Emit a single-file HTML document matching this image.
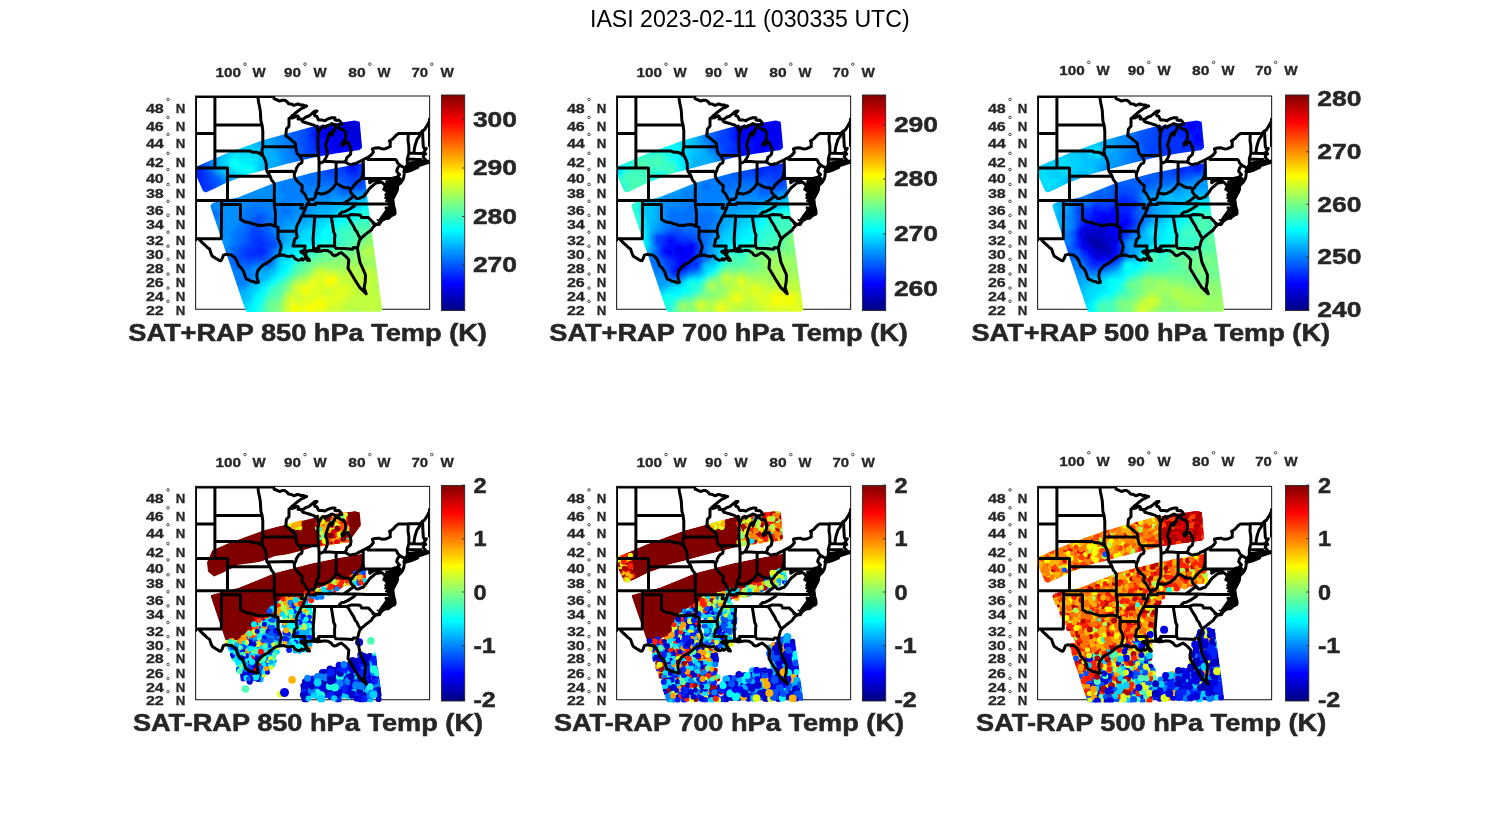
<!DOCTYPE html><html><head><meta charset="utf-8"><style>html,body{margin:0;padding:0;background:#fff;width:1500px;height:825px;overflow:hidden}svg{display:block;will-change:transform}text{font-family:"Liberation Sans",sans-serif}</style></head><body>
<svg width="1500" height="825" viewBox="0 0 1500 825">
<defs><linearGradient id="jet" x1="0" y1="1" x2="0" y2="0">
<stop offset="0.0000" stop-color="#000080"/>
<stop offset="0.0312" stop-color="#00009f"/>
<stop offset="0.0625" stop-color="#0000bf"/>
<stop offset="0.0938" stop-color="#0000df"/>
<stop offset="0.1250" stop-color="#0000ff"/>
<stop offset="0.1562" stop-color="#0020ff"/>
<stop offset="0.1875" stop-color="#0040ff"/>
<stop offset="0.2188" stop-color="#0060ff"/>
<stop offset="0.2500" stop-color="#0080ff"/>
<stop offset="0.2812" stop-color="#009fff"/>
<stop offset="0.3125" stop-color="#00bfff"/>
<stop offset="0.3438" stop-color="#00dfff"/>
<stop offset="0.3750" stop-color="#00ffff"/>
<stop offset="0.4062" stop-color="#20ffdf"/>
<stop offset="0.4375" stop-color="#40ffbf"/>
<stop offset="0.4688" stop-color="#60ff9f"/>
<stop offset="0.5000" stop-color="#80ff80"/>
<stop offset="0.5312" stop-color="#9fff60"/>
<stop offset="0.5625" stop-color="#bfff40"/>
<stop offset="0.5938" stop-color="#dfff20"/>
<stop offset="0.6250" stop-color="#ffff00"/>
<stop offset="0.6562" stop-color="#ffdf00"/>
<stop offset="0.6875" stop-color="#ffbf00"/>
<stop offset="0.7188" stop-color="#ff9f00"/>
<stop offset="0.7500" stop-color="#ff8000"/>
<stop offset="0.7812" stop-color="#ff6000"/>
<stop offset="0.8125" stop-color="#ff4000"/>
<stop offset="0.8438" stop-color="#ff2000"/>
<stop offset="0.8750" stop-color="#ff0000"/>
<stop offset="0.9062" stop-color="#df0000"/>
<stop offset="0.9375" stop-color="#bf0000"/>
<stop offset="0.9688" stop-color="#9f0000"/>
<stop offset="1.0000" stop-color="#800000"/>
</linearGradient><filter id="blur2" x="-5%" y="-5%" width="110%" height="110%"><feGaussianBlur stdDeviation="1.8"/></filter></defs>
<rect width="1500" height="825" fill="#fff"/>
<text x="590.0" y="26.8" font-size="23.3" font-weight="normal" fill="#000" textLength="319.6" lengthAdjust="spacingAndGlyphs">IASI 2023-02-11 (030335 UTC)</text>
<text x="215.4" y="77.0" font-size="13.6" font-weight="bold" fill="#262626" stroke="#262626" stroke-width="0.30" textLength="25.6" lengthAdjust="spacingAndGlyphs">100</text>
<circle cx="245.0" cy="64.2" r="1.3" fill="none" stroke="#262626" stroke-width="0.8"/>
<text x="252.6" y="77.0" font-size="13.6" font-weight="bold" fill="#262626" stroke="#262626" stroke-width="0.30" textLength="13.2" lengthAdjust="spacingAndGlyphs">W</text>
<text x="284.0" y="77.0" font-size="13.6" font-weight="bold" fill="#262626" stroke="#262626" stroke-width="0.30" textLength="17.0" lengthAdjust="spacingAndGlyphs">90</text>
<circle cx="305.0" cy="64.2" r="1.3" fill="none" stroke="#262626" stroke-width="0.8"/>
<text x="313.6" y="77.0" font-size="13.6" font-weight="bold" fill="#262626" stroke="#262626" stroke-width="0.30" textLength="13.2" lengthAdjust="spacingAndGlyphs">W</text>
<text x="348.2" y="77.0" font-size="13.6" font-weight="bold" fill="#262626" stroke="#262626" stroke-width="0.30" textLength="17.4" lengthAdjust="spacingAndGlyphs">80</text>
<circle cx="369.8" cy="64.2" r="1.3" fill="none" stroke="#262626" stroke-width="0.8"/>
<text x="377.6" y="77.0" font-size="13.6" font-weight="bold" fill="#262626" stroke="#262626" stroke-width="0.30" textLength="13.0" lengthAdjust="spacingAndGlyphs">W</text>
<text x="411.4" y="77.0" font-size="13.6" font-weight="bold" fill="#262626" stroke="#262626" stroke-width="0.30" textLength="16.6" lengthAdjust="spacingAndGlyphs">70</text>
<circle cx="431.8" cy="64.2" r="1.3" fill="none" stroke="#262626" stroke-width="0.8"/>
<text x="440.4" y="77.0" font-size="13.6" font-weight="bold" fill="#262626" stroke="#262626" stroke-width="0.30" textLength="13.4" lengthAdjust="spacingAndGlyphs">W</text>
<text x="145.9" y="112.7" font-size="13.3" font-weight="bold" fill="#262626" stroke="#262626" stroke-width="0.29" textLength="17.9" lengthAdjust="spacingAndGlyphs">48</text>
<circle cx="168.0" cy="99.5" r="1.3" fill="none" stroke="#262626" stroke-width="0.8"/>
<text x="175.7" y="112.7" font-size="13.3" font-weight="bold" fill="#262626" stroke="#262626" stroke-width="0.29" textLength="9.6" lengthAdjust="spacingAndGlyphs">N</text>
<text x="145.9" y="130.6" font-size="13.3" font-weight="bold" fill="#262626" stroke="#262626" stroke-width="0.29" textLength="17.9" lengthAdjust="spacingAndGlyphs">46</text>
<circle cx="168.0" cy="117.4" r="1.3" fill="none" stroke="#262626" stroke-width="0.8"/>
<text x="175.7" y="130.6" font-size="13.3" font-weight="bold" fill="#262626" stroke="#262626" stroke-width="0.29" textLength="9.6" lengthAdjust="spacingAndGlyphs">N</text>
<text x="145.9" y="147.6" font-size="13.3" font-weight="bold" fill="#262626" stroke="#262626" stroke-width="0.29" textLength="17.9" lengthAdjust="spacingAndGlyphs">44</text>
<circle cx="168.0" cy="134.4" r="1.3" fill="none" stroke="#262626" stroke-width="0.8"/>
<text x="175.7" y="147.6" font-size="13.3" font-weight="bold" fill="#262626" stroke="#262626" stroke-width="0.29" textLength="9.6" lengthAdjust="spacingAndGlyphs">N</text>
<text x="145.9" y="166.5" font-size="13.3" font-weight="bold" fill="#262626" stroke="#262626" stroke-width="0.29" textLength="17.9" lengthAdjust="spacingAndGlyphs">42</text>
<circle cx="168.0" cy="153.3" r="1.3" fill="none" stroke="#262626" stroke-width="0.8"/>
<text x="175.7" y="166.5" font-size="13.3" font-weight="bold" fill="#262626" stroke="#262626" stroke-width="0.29" textLength="9.6" lengthAdjust="spacingAndGlyphs">N</text>
<text x="145.9" y="182.7" font-size="13.3" font-weight="bold" fill="#262626" stroke="#262626" stroke-width="0.29" textLength="17.9" lengthAdjust="spacingAndGlyphs">40</text>
<circle cx="168.0" cy="169.5" r="1.3" fill="none" stroke="#262626" stroke-width="0.8"/>
<text x="175.7" y="182.7" font-size="13.3" font-weight="bold" fill="#262626" stroke="#262626" stroke-width="0.29" textLength="9.6" lengthAdjust="spacingAndGlyphs">N</text>
<text x="145.9" y="197.6" font-size="13.3" font-weight="bold" fill="#262626" stroke="#262626" stroke-width="0.29" textLength="17.9" lengthAdjust="spacingAndGlyphs">38</text>
<circle cx="168.0" cy="184.4" r="1.3" fill="none" stroke="#262626" stroke-width="0.8"/>
<text x="175.7" y="197.6" font-size="13.3" font-weight="bold" fill="#262626" stroke="#262626" stroke-width="0.29" textLength="9.6" lengthAdjust="spacingAndGlyphs">N</text>
<text x="145.9" y="214.5" font-size="13.3" font-weight="bold" fill="#262626" stroke="#262626" stroke-width="0.29" textLength="17.9" lengthAdjust="spacingAndGlyphs">36</text>
<circle cx="168.0" cy="201.3" r="1.3" fill="none" stroke="#262626" stroke-width="0.8"/>
<text x="175.7" y="214.5" font-size="13.3" font-weight="bold" fill="#262626" stroke="#262626" stroke-width="0.29" textLength="9.6" lengthAdjust="spacingAndGlyphs">N</text>
<text x="145.9" y="228.6" font-size="13.3" font-weight="bold" fill="#262626" stroke="#262626" stroke-width="0.29" textLength="17.9" lengthAdjust="spacingAndGlyphs">34</text>
<circle cx="168.0" cy="215.4" r="1.3" fill="none" stroke="#262626" stroke-width="0.8"/>
<text x="175.7" y="228.6" font-size="13.3" font-weight="bold" fill="#262626" stroke="#262626" stroke-width="0.29" textLength="9.6" lengthAdjust="spacingAndGlyphs">N</text>
<text x="145.9" y="245.4" font-size="13.3" font-weight="bold" fill="#262626" stroke="#262626" stroke-width="0.29" textLength="17.9" lengthAdjust="spacingAndGlyphs">32</text>
<circle cx="168.0" cy="232.2" r="1.3" fill="none" stroke="#262626" stroke-width="0.8"/>
<text x="175.7" y="245.4" font-size="13.3" font-weight="bold" fill="#262626" stroke="#262626" stroke-width="0.29" textLength="9.6" lengthAdjust="spacingAndGlyphs">N</text>
<text x="145.9" y="259.4" font-size="13.3" font-weight="bold" fill="#262626" stroke="#262626" stroke-width="0.29" textLength="17.9" lengthAdjust="spacingAndGlyphs">30</text>
<circle cx="168.0" cy="246.2" r="1.3" fill="none" stroke="#262626" stroke-width="0.8"/>
<text x="175.7" y="259.4" font-size="13.3" font-weight="bold" fill="#262626" stroke="#262626" stroke-width="0.29" textLength="9.6" lengthAdjust="spacingAndGlyphs">N</text>
<text x="145.9" y="272.5" font-size="13.3" font-weight="bold" fill="#262626" stroke="#262626" stroke-width="0.29" textLength="17.9" lengthAdjust="spacingAndGlyphs">28</text>
<circle cx="168.0" cy="259.3" r="1.3" fill="none" stroke="#262626" stroke-width="0.8"/>
<text x="175.7" y="272.5" font-size="13.3" font-weight="bold" fill="#262626" stroke="#262626" stroke-width="0.29" textLength="9.6" lengthAdjust="spacingAndGlyphs">N</text>
<text x="145.9" y="287.3" font-size="13.3" font-weight="bold" fill="#262626" stroke="#262626" stroke-width="0.29" textLength="17.9" lengthAdjust="spacingAndGlyphs">26</text>
<circle cx="168.0" cy="274.1" r="1.3" fill="none" stroke="#262626" stroke-width="0.8"/>
<text x="175.7" y="287.3" font-size="13.3" font-weight="bold" fill="#262626" stroke="#262626" stroke-width="0.29" textLength="9.6" lengthAdjust="spacingAndGlyphs">N</text>
<text x="145.9" y="301.3" font-size="13.3" font-weight="bold" fill="#262626" stroke="#262626" stroke-width="0.29" textLength="17.9" lengthAdjust="spacingAndGlyphs">24</text>
<circle cx="168.0" cy="288.1" r="1.3" fill="none" stroke="#262626" stroke-width="0.8"/>
<text x="175.7" y="301.3" font-size="13.3" font-weight="bold" fill="#262626" stroke="#262626" stroke-width="0.29" textLength="9.6" lengthAdjust="spacingAndGlyphs">N</text>
<text x="145.9" y="314.5" font-size="13.3" font-weight="bold" fill="#262626" stroke="#262626" stroke-width="0.29" textLength="17.9" lengthAdjust="spacingAndGlyphs">22</text>
<circle cx="168.0" cy="301.3" r="1.3" fill="none" stroke="#262626" stroke-width="0.8"/>
<text x="175.7" y="314.5" font-size="13.3" font-weight="bold" fill="#262626" stroke="#262626" stroke-width="0.29" textLength="9.6" lengthAdjust="spacingAndGlyphs">N</text>
<rect x="195.6" y="96.0" width="234.0" height="213.3" fill="none" stroke="#262626" stroke-width="1.1"/>
<clipPath id="sw00"><polygon points="195.5,167.0 226.4,153.6 262.7,140.3 311.2,127.0 354.8,120.6 359.7,121.8 362.1,147.6 359.7,150.0 335.5,153.6 311.2,157.9 284.5,164.5 262.7,170.6 248.2,174.2 236.1,179.1 226.4,182.7 214.2,188.8 205.8,192.4 203.0,191.0 195.5,174.0"/><polygon points="211.0,204.5 214.0,202.5 238.5,197.3 274.8,182.7 311.2,173.0 335.5,168.2 362.1,163.3 364.5,163.8 365.5,182.0 368.4,207.0 382.3,310.2 380.0,311.8 247.5,312.0 245.7,311.0 210.5,206.5"/></clipPath>
<g clip-path="url(#sw00)"><g filter="url(#blur2)">
<path d="M346 122h8v4h-8zM346 126h8v4h-8zM346 130h8v4h-8z" fill="#0000cf"/>
<path d="M346 118h8v4h-8zM334 122h12v4h-12zM354 122h4v4h-4zM330 126h16v4h-16zM354 126h4v4h-4zM330 130h16v4h-16zM354 130h8v4h-8zM346 134h16v4h-16zM350 138h12v4h-12zM338 142h4v4h-4zM354 142h8v4h-8zM338 146h4v4h-4z" fill="#0000df"/>
<path d="M342 114h12v4h-12zM334 118h12v4h-12zM354 118h8v4h-8zM330 122h4v4h-4zM358 122h4v4h-4zM326 126h4v4h-4zM358 126h8v4h-8zM326 130h4v4h-4zM362 130h4v4h-4zM330 134h16v4h-16zM362 134h4v4h-4zM334 138h16v4h-16zM362 138h4v4h-4zM334 142h4v4h-4zM342 142h12v4h-12zM362 142h4v4h-4zM334 146h4v4h-4zM342 146h4v4h-4zM354 146h4v4h-4z" fill="#0000ef"/>
<path d="M342 110h16v4h-16zM330 114h12v4h-12zM354 114h8v4h-8zM326 118h8v4h-8zM362 118h4v4h-4zM326 122h4v4h-4zM362 122h4v4h-4zM322 126h4v4h-4zM366 126h4v4h-4zM318 130h8v4h-8zM366 130h4v4h-4zM318 134h12v4h-12zM366 134h4v4h-4zM326 138h8v4h-8zM366 138h4v4h-4zM330 142h4v4h-4zM366 142h4v4h-4zM330 146h4v4h-4zM346 146h8v4h-8zM358 146h8v4h-8zM334 150h16v4h-16z" fill="#0000ff"/>
<path d="M330 110h12v4h-12zM358 110h8v4h-8zM326 114h4v4h-4zM362 114h8v4h-8zM322 118h4v4h-4zM366 118h4v4h-4zM318 122h8v4h-8zM366 122h8v4h-8zM318 126h4v4h-4zM370 126h4v4h-4zM314 130h4v4h-4zM370 130h4v4h-4zM314 134h4v4h-4zM370 134h4v4h-4zM314 138h12v4h-12zM370 138h4v4h-4zM318 142h12v4h-12zM370 142h4v4h-4zM318 146h12v4h-12zM366 146h4v4h-4zM318 150h16v4h-16zM350 150h16v4h-16zM338 154h12v4h-12zM350 162h4v4h-4zM350 166h8v4h-8z" fill="#0010ff"/>
<path d="M322 110h8v4h-8zM366 110h4v4h-4zM318 114h8v4h-8zM370 114h4v4h-4zM318 118h4v4h-4zM370 118h8v4h-8zM314 122h4v4h-4zM374 122h4v4h-4zM314 126h4v4h-4zM374 126h4v4h-4zM310 130h4v4h-4zM374 130h4v4h-4zM310 134h4v4h-4zM374 134h4v4h-4zM374 138h4v4h-4zM314 142h4v4h-4zM314 146h4v4h-4zM370 146h4v4h-4zM366 150h4v4h-4zM318 154h20v4h-20zM350 154h16v4h-16zM342 158h20v4h-20zM346 162h4v4h-4zM354 162h8v4h-8zM194 166h8v4h-8zM346 166h4v4h-4zM194 170h8v4h-8zM346 170h12v4h-12zM194 174h8v4h-8zM194 178h8v4h-8zM198 182h4v4h-4zM258 246h4v4h-4zM254 250h12v4h-12z" fill="#0020ff"/>
<path d="M314 110h8v4h-8zM370 110h8v4h-8zM314 114h4v4h-4zM374 114h8v4h-8zM310 118h8v4h-8zM378 118h4v4h-4zM310 122h4v4h-4zM378 122h4v4h-4zM310 126h4v4h-4zM378 126h4v4h-4zM378 130h4v4h-4zM378 134h4v4h-4zM310 138h4v4h-4zM378 138h4v4h-4zM310 142h4v4h-4zM374 142h4v4h-4zM310 146h4v4h-4zM374 146h4v4h-4zM314 150h4v4h-4zM370 150h4v4h-4zM314 154h4v4h-4zM366 154h4v4h-4zM322 158h20v4h-20zM362 158h4v4h-4zM194 162h4v4h-4zM338 162h8v4h-8zM362 162h4v4h-4zM190 166h4v4h-4zM202 166h4v4h-4zM342 166h4v4h-4zM358 166h4v4h-4zM190 170h4v4h-4zM202 170h4v4h-4zM358 170h4v4h-4zM190 174h4v4h-4zM202 174h4v4h-4zM350 174h8v4h-8zM190 178h4v4h-4zM202 178h4v4h-4zM190 182h8v4h-8zM202 182h8v4h-8zM194 186h16v4h-16zM254 238h8v4h-8zM254 242h12v4h-12zM250 246h8v4h-8zM262 246h4v4h-4zM246 250h8v4h-8zM246 254h16v4h-16z" fill="#0030ff"/>
<path d="M310 110h4v4h-4zM378 110h8v4h-8zM306 114h8v4h-8zM382 114h4v4h-4zM306 118h4v4h-4zM382 118h4v4h-4zM306 122h4v4h-4zM382 122h8v4h-8zM306 126h4v4h-4zM382 126h8v4h-8zM306 130h4v4h-4zM382 130h8v4h-8zM306 134h4v4h-4zM382 134h4v4h-4zM306 138h4v4h-4zM382 138h4v4h-4zM306 142h4v4h-4zM378 142h8v4h-8zM306 146h4v4h-4zM378 146h4v4h-4zM306 150h8v4h-8zM374 150h4v4h-4zM310 154h4v4h-4zM370 154h8v4h-8zM314 158h8v4h-8zM366 158h8v4h-8zM186 162h8v4h-8zM198 162h4v4h-4zM322 162h16v4h-16zM366 162h4v4h-4zM186 166h4v4h-4zM326 166h16v4h-16zM362 166h4v4h-4zM186 170h4v4h-4zM326 170h8v4h-8zM338 170h8v4h-8zM362 170h4v4h-4zM186 174h4v4h-4zM206 174h4v4h-4zM346 174h4v4h-4zM358 174h8v4h-8zM186 178h4v4h-4zM206 178h4v4h-4zM350 178h16v4h-16zM186 182h4v4h-4zM210 182h4v4h-4zM354 182h8v4h-8zM190 186h4v4h-4zM210 186h4v4h-4zM194 190h16v4h-16zM254 226h4v4h-4zM250 230h12v4h-12zM250 234h16v4h-16zM250 238h4v4h-4zM262 238h4v4h-4zM250 242h4v4h-4zM266 242h8v4h-8zM246 246h4v4h-4zM266 246h4v4h-4zM242 250h4v4h-4zM266 250h4v4h-4zM242 254h4v4h-4zM262 254h4v4h-4zM246 258h8v4h-8z" fill="#0040ff"/>
<path d="M302 110h8v4h-8zM386 110h8v4h-8zM298 114h8v4h-8zM386 114h8v4h-8zM298 118h8v4h-8zM386 118h8v4h-8zM298 122h8v4h-8zM390 122h4v4h-4zM298 126h8v4h-8zM390 126h4v4h-4zM298 130h8v4h-8zM390 130h4v4h-4zM298 134h8v4h-8zM386 134h8v4h-8zM298 138h8v4h-8zM386 138h4v4h-4zM298 142h8v4h-8zM386 142h4v4h-4zM302 146h4v4h-4zM382 146h4v4h-4zM302 150h4v4h-4zM378 150h8v4h-8zM306 154h4v4h-4zM378 154h4v4h-4zM186 158h16v4h-16zM306 158h8v4h-8zM374 158h4v4h-4zM202 162h4v4h-4zM314 162h8v4h-8zM370 162h4v4h-4zM206 166h4v4h-4zM318 166h8v4h-8zM366 166h8v4h-8zM206 170h4v4h-4zM322 170h4v4h-4zM334 170h4v4h-4zM366 170h4v4h-4zM210 174h4v4h-4zM326 174h20v4h-20zM366 174h4v4h-4zM210 178h8v4h-8zM342 178h8v4h-8zM214 182h4v4h-4zM346 182h8v4h-8zM362 182h4v4h-4zM186 186h4v4h-4zM214 186h4v4h-4zM342 186h4v4h-4zM354 186h8v4h-8zM186 190h8v4h-8zM210 190h4v4h-4zM190 194h16v4h-16zM258 214h4v4h-4zM254 218h8v4h-8zM254 222h8v4h-8zM250 226h4v4h-4zM258 226h4v4h-4zM262 230h4v4h-4zM246 234h4v4h-4zM266 234h4v4h-4zM246 238h4v4h-4zM266 238h8v4h-8zM242 242h8v4h-8zM274 242h4v4h-4zM238 246h8v4h-8zM270 246h4v4h-4zM238 250h4v4h-4zM234 254h8v4h-8zM266 254h4v4h-4zM238 258h8v4h-8zM254 258h12v4h-12z" fill="#0050ff"/>
<path d="M294 110h8v4h-8zM290 114h8v4h-8zM290 118h8v4h-8zM290 122h8v4h-8zM290 126h8v4h-8zM290 130h8v4h-8zM290 134h8v4h-8zM294 138h4v4h-4zM390 138h4v4h-4zM294 142h4v4h-4zM390 142h4v4h-4zM298 146h4v4h-4zM386 146h8v4h-8zM186 150h8v4h-8zM298 150h4v4h-4zM386 150h4v4h-4zM186 154h16v4h-16zM302 154h4v4h-4zM382 154h8v4h-8zM202 158h4v4h-4zM302 158h4v4h-4zM378 158h8v4h-8zM206 162h4v4h-4zM302 162h12v4h-12zM374 162h8v4h-8zM310 166h8v4h-8zM374 166h4v4h-4zM210 170h4v4h-4zM314 170h8v4h-8zM370 170h4v4h-4zM214 174h4v4h-4zM318 174h8v4h-8zM370 174h4v4h-4zM218 178h4v4h-4zM322 178h20v4h-20zM366 178h4v4h-4zM218 182h4v4h-4zM338 182h8v4h-8zM366 182h4v4h-4zM338 186h4v4h-4zM346 186h8v4h-8zM362 186h4v4h-4zM214 190h4v4h-4zM342 190h8v4h-8zM186 194h4v4h-4zM206 194h8v4h-8zM186 198h20v4h-20zM254 214h4v4h-4zM262 214h4v4h-4zM250 218h4v4h-4zM262 218h4v4h-4zM246 222h8v4h-8zM262 222h4v4h-4zM246 226h4v4h-4zM262 226h8v4h-8zM246 230h4v4h-4zM266 230h4v4h-4zM242 234h4v4h-4zM270 234h4v4h-4zM242 238h4v4h-4zM274 238h4v4h-4zM238 242h4v4h-4zM234 246h4v4h-4zM274 246h4v4h-4zM234 250h4v4h-4zM270 250h4v4h-4zM230 254h4v4h-4zM234 258h4v4h-4zM266 258h4v4h-4zM234 262h20v4h-20zM266 262h4v4h-4z" fill="#0060ff"/>
<path d="M282 110h12v4h-12zM282 114h8v4h-8zM282 118h8v4h-8zM282 122h8v4h-8zM286 126h4v4h-4zM286 130h4v4h-4zM286 134h4v4h-4zM290 138h4v4h-4zM290 142h4v4h-4zM186 146h12v4h-12zM290 146h8v4h-8zM194 150h8v4h-8zM290 150h8v4h-8zM390 150h4v4h-4zM202 154h4v4h-4zM294 154h8v4h-8zM390 154h4v4h-4zM206 158h4v4h-4zM294 158h8v4h-8zM386 158h8v4h-8zM294 162h8v4h-8zM382 162h8v4h-8zM298 166h12v4h-12zM378 166h8v4h-8zM298 170h16v4h-16zM374 170h8v4h-8zM302 174h16v4h-16zM374 174h4v4h-4zM302 178h20v4h-20zM370 178h4v4h-4zM306 182h32v4h-32zM370 182h4v4h-4zM218 186h4v4h-4zM334 186h4v4h-4zM366 186h4v4h-4zM218 190h4v4h-4zM338 190h4v4h-4zM350 190h4v4h-4zM214 194h4v4h-4zM206 198h8v4h-8zM186 202h20v4h-20zM186 206h16v4h-16zM250 206h12v4h-12zM282 206h4v4h-4zM206 210h12v4h-12zM246 210h24v4h-24zM282 210h8v4h-8zM206 214h12v4h-12zM246 214h8v4h-8zM266 214h4v4h-4zM242 218h8v4h-8zM266 218h8v4h-8zM242 222h4v4h-4zM266 222h8v4h-8zM238 226h8v4h-8zM270 226h4v4h-4zM238 230h8v4h-8zM270 230h4v4h-4zM234 234h8v4h-8zM274 234h4v4h-4zM234 238h8v4h-8zM234 242h4v4h-4zM230 246h4v4h-4zM230 250h4v4h-4zM226 254h4v4h-4zM270 254h4v4h-4zM226 258h8v4h-8zM270 258h4v4h-4zM230 262h4v4h-4zM254 262h12v4h-12zM234 266h16v4h-16z" fill="#0070ff"/>
<path d="M270 110h12v4h-12zM270 114h12v4h-12zM274 118h8v4h-8zM274 122h8v4h-8zM278 126h8v4h-8zM186 130h4v4h-4zM278 130h8v4h-8zM186 134h12v4h-12zM278 134h8v4h-8zM186 138h16v4h-16zM282 138h8v4h-8zM186 142h20v4h-20zM282 142h8v4h-8zM198 146h8v4h-8zM286 146h4v4h-4zM202 150h8v4h-8zM286 150h4v4h-4zM206 154h4v4h-4zM286 154h8v4h-8zM286 158h8v4h-8zM210 162h4v4h-4zM290 162h4v4h-4zM390 162h4v4h-4zM210 166h4v4h-4zM290 166h8v4h-8zM386 166h8v4h-8zM290 170h8v4h-8zM382 170h8v4h-8zM218 174h4v4h-4zM290 174h12v4h-12zM378 174h8v4h-8zM222 178h4v4h-4zM282 178h20v4h-20zM374 178h8v4h-8zM222 182h4v4h-4zM278 182h28v4h-28zM374 182h4v4h-4zM222 186h4v4h-4zM278 186h56v4h-56zM222 190h4v4h-4zM282 190h56v4h-56zM354 190h12v4h-12zM218 194h8v4h-8zM286 194h20v4h-20zM318 194h12v4h-12zM338 194h12v4h-12zM214 198h4v4h-4zM250 198h16v4h-16zM282 198h20v4h-20zM206 202h8v4h-8zM246 202h48v4h-48zM202 206h12v4h-12zM242 206h8v4h-8zM262 206h20v4h-20zM286 206h8v4h-8zM186 210h20v4h-20zM218 210h4v4h-4zM238 210h8v4h-8zM270 210h12v4h-12zM290 210h4v4h-4zM186 214h20v4h-20zM218 214h4v4h-4zM238 214h8v4h-8zM270 214h20v4h-20zM186 218h32v4h-32zM238 218h4v4h-4zM274 218h8v4h-8zM186 222h24v4h-24zM238 222h4v4h-4zM274 222h4v4h-4zM194 226h8v4h-8zM234 226h4v4h-4zM274 226h4v4h-4zM230 230h8v4h-8zM274 230h4v4h-4zM230 234h4v4h-4zM230 238h4v4h-4zM278 238h4v4h-4zM230 242h4v4h-4zM278 242h4v4h-4zM226 246h4v4h-4zM222 250h8v4h-8zM274 250h4v4h-4zM218 254h8v4h-8zM218 258h8v4h-8zM222 262h8v4h-8zM270 262h4v4h-4zM222 266h12v4h-12zM250 266h4v4h-4zM230 270h24v4h-24zM234 274h20v4h-20zM234 278h12v4h-12zM234 282h12v4h-12z" fill="#0080ff"/>
<path d="M186 110h24v4h-24zM250 110h20v4h-20zM186 114h24v4h-24zM254 114h16v4h-16zM186 118h24v4h-24zM258 118h16v4h-16zM186 122h24v4h-24zM262 122h12v4h-12zM186 126h24v4h-24zM266 126h12v4h-12zM190 130h20v4h-20zM270 130h8v4h-8zM198 134h12v4h-12zM270 134h8v4h-8zM202 138h8v4h-8zM274 138h8v4h-8zM206 142h8v4h-8zM274 142h8v4h-8zM206 146h8v4h-8zM278 146h8v4h-8zM210 150h4v4h-4zM278 150h8v4h-8zM210 154h4v4h-4zM282 154h4v4h-4zM210 158h4v4h-4zM282 158h4v4h-4zM282 162h8v4h-8zM282 166h8v4h-8zM214 170h4v4h-4zM278 170h12v4h-12zM390 170h4v4h-4zM274 174h16v4h-16zM386 174h8v4h-8zM270 178h12v4h-12zM382 178h4v4h-4zM226 182h4v4h-4zM262 182h16v4h-16zM378 182h4v4h-4zM226 186h8v4h-8zM254 186h24v4h-24zM370 186h8v4h-8zM226 190h56v4h-56zM366 190h4v4h-4zM226 194h60v4h-60zM306 194h12v4h-12zM330 194h8v4h-8zM350 194h4v4h-4zM218 198h32v4h-32zM266 198h16v4h-16zM302 198h28v4h-28zM214 202h32v4h-32zM294 202h20v4h-20zM214 206h28v4h-28zM294 206h16v4h-16zM222 210h16v4h-16zM294 210h16v4h-16zM222 214h16v4h-16zM290 214h16v4h-16zM218 218h20v4h-20zM282 218h12v4h-12zM210 222h28v4h-28zM278 222h8v4h-8zM186 226h8v4h-8zM202 226h32v4h-32zM278 226h4v4h-4zM186 230h44v4h-44zM278 230h4v4h-4zM186 234h44v4h-44zM278 234h4v4h-4zM186 238h36v4h-36zM226 238h4v4h-4zM186 242h44v4h-44zM186 246h40v4h-40zM278 246h4v4h-4zM186 250h36v4h-36zM186 254h32v4h-32zM274 254h4v4h-4zM194 258h24v4h-24zM202 262h20v4h-20zM206 266h16v4h-16zM254 266h4v4h-4zM262 266h8v4h-8zM210 270h20v4h-20zM254 270h4v4h-4zM218 274h16v4h-16zM222 278h12v4h-12zM246 278h8v4h-8zM230 282h4v4h-4zM246 282h4v4h-4zM234 286h8v4h-8z" fill="#008fff"/>
<path d="M210 110h40v4h-40zM210 114h44v4h-44zM210 118h48v4h-48zM210 122h52v4h-52zM210 126h24v4h-24zM246 126h20v4h-20zM210 130h16v4h-16zM254 130h16v4h-16zM210 134h12v4h-12zM262 134h8v4h-8zM210 138h12v4h-12zM266 138h8v4h-8zM214 142h4v4h-4zM270 142h4v4h-4zM214 146h4v4h-4zM274 146h4v4h-4zM214 150h4v4h-4zM274 150h4v4h-4zM214 154h4v4h-4zM278 154h4v4h-4zM214 158h4v4h-4zM278 158h4v4h-4zM278 162h4v4h-4zM214 166h4v4h-4zM274 166h8v4h-8zM270 170h8v4h-8zM222 174h4v4h-4zM266 174h8v4h-8zM226 178h4v4h-4zM262 178h8v4h-8zM386 178h8v4h-8zM230 182h8v4h-8zM254 182h8v4h-8zM382 182h8v4h-8zM234 186h20v4h-20zM378 186h4v4h-4zM370 190h4v4h-4zM354 194h8v4h-8zM330 198h20v4h-20zM314 202h12v4h-12zM310 206h8v4h-8zM310 210h4v4h-4zM306 214h8v4h-8zM294 218h12v4h-12zM286 222h8v4h-8zM282 226h8v4h-8zM282 230h4v4h-4zM282 234h4v4h-4zM222 238h4v4h-4zM282 238h4v4h-4zM186 258h8v4h-8zM274 258h4v4h-4zM186 262h16v4h-16zM186 266h20v4h-20zM258 266h4v4h-4zM270 266h4v4h-4zM186 270h24v4h-24zM186 274h32v4h-32zM254 274h4v4h-4zM190 278h32v4h-32zM254 278h4v4h-4zM206 282h24v4h-24zM218 286h16v4h-16zM242 286h4v4h-4zM230 290h8v4h-8z" fill="#009fff"/>
<path d="M234 126h12v4h-12zM226 130h28v4h-28zM222 134h40v4h-40zM222 138h12v4h-12zM250 138h16v4h-16zM218 142h12v4h-12zM258 142h12v4h-12zM218 146h8v4h-8zM262 146h12v4h-12zM218 150h4v4h-4zM262 150h12v4h-12zM218 154h4v4h-4zM266 154h12v4h-12zM266 158h12v4h-12zM214 162h4v4h-4zM266 162h12v4h-12zM266 166h8v4h-8zM218 170h4v4h-4zM262 170h8v4h-8zM226 174h4v4h-4zM262 174h4v4h-4zM230 178h8v4h-8zM254 178h8v4h-8zM238 182h16v4h-16zM390 182h4v4h-4zM382 186h12v4h-12zM374 190h8v4h-8zM362 194h12v4h-12zM350 198h8v4h-8zM326 202h16v4h-16zM318 206h16v4h-16zM314 210h16v4h-16zM314 214h4v4h-4zM306 218h8v4h-8zM294 222h12v4h-12zM290 226h8v4h-8zM286 230h8v4h-8zM286 234h8v4h-8zM286 238h4v4h-4zM282 242h4v4h-4zM278 250h4v4h-4zM274 262h4v4h-4zM258 270h12v4h-12zM258 274h8v4h-8zM186 278h4v4h-4zM258 278h4v4h-4zM186 282h20v4h-20zM250 282h4v4h-4zM186 286h32v4h-32zM246 286h4v4h-4zM186 290h44v4h-44zM238 290h8v4h-8zM186 294h56v4h-56z" fill="#00afff"/>
<path d="M234 138h16v4h-16zM230 142h28v4h-28zM226 146h8v4h-8zM254 146h8v4h-8zM222 150h4v4h-4zM258 150h4v4h-4zM222 154h4v4h-4zM262 154h4v4h-4zM218 158h4v4h-4zM262 158h4v4h-4zM218 162h4v4h-4zM262 162h4v4h-4zM218 166h4v4h-4zM262 166h4v4h-4zM222 170h8v4h-8zM258 170h4v4h-4zM230 174h4v4h-4zM258 174h4v4h-4zM238 178h4v4h-4zM250 178h4v4h-4zM382 190h12v4h-12zM374 194h12v4h-12zM358 198h8v4h-8zM342 202h16v4h-16zM334 206h8v4h-8zM330 210h8v4h-8zM318 214h12v4h-12zM314 218h4v4h-4zM306 222h8v4h-8zM298 226h8v4h-8zM294 230h8v4h-8zM294 234h4v4h-4zM290 238h8v4h-8zM286 242h8v4h-8zM282 246h4v4h-4zM278 254h4v4h-4zM278 258h4v4h-4zM274 266h4v4h-4zM270 270h4v4h-4zM266 274h4v4h-4zM262 278h4v4h-4zM254 282h4v4h-4zM250 286h4v4h-4zM246 290h4v4h-4zM242 294h8v4h-8zM186 298h64v4h-64zM186 302h48v4h-48zM186 306h32v4h-32zM186 310h20v4h-20zM186 314h4v4h-4z" fill="#00bfff"/>
<path d="M234 146h20v4h-20zM226 150h8v4h-8zM242 150h4v4h-4zM254 150h4v4h-4zM226 154h4v4h-4zM258 154h4v4h-4zM222 158h4v4h-4zM258 158h4v4h-4zM222 162h4v4h-4zM258 162h4v4h-4zM222 166h8v4h-8zM258 166h4v4h-4zM230 170h4v4h-4zM234 174h8v4h-8zM254 174h4v4h-4zM242 178h8v4h-8zM386 194h8v4h-8zM366 198h20v4h-20zM358 202h4v4h-4zM342 206h4v4h-4zM350 206h8v4h-8zM330 214h4v4h-4zM318 218h8v4h-8zM314 222h4v4h-4zM306 226h8v4h-8zM302 230h4v4h-4zM298 234h4v4h-4zM298 238h4v4h-4zM294 242h4v4h-4zM286 246h8v4h-8zM282 250h4v4h-4zM274 270h4v4h-4zM270 274h4v4h-4zM266 278h4v4h-4zM258 282h4v4h-4zM254 286h4v4h-4zM250 290h4v4h-4zM250 294h4v4h-4zM234 302h12v4h-12zM218 306h24v4h-24zM206 310h28v4h-28zM190 314h36v4h-36zM186 318h32v4h-32z" fill="#00cfff"/>
<path d="M234 150h8v4h-8zM246 150h8v4h-8zM230 154h4v4h-4zM238 154h20v4h-20zM226 158h4v4h-4zM254 158h4v4h-4zM226 162h4v4h-4zM254 162h4v4h-4zM254 166h4v4h-4zM234 170h4v4h-4zM254 170h4v4h-4zM242 174h4v4h-4zM250 174h4v4h-4zM386 198h8v4h-8zM362 202h24v4h-24zM346 206h4v4h-4zM358 206h4v4h-4zM338 210h4v4h-4zM334 214h4v4h-4zM326 218h8v4h-8zM318 222h8v4h-8zM314 226h8v4h-8zM306 230h12v4h-12zM302 234h16v4h-16zM302 238h12v4h-12zM298 242h4v4h-4zM294 246h4v4h-4zM286 250h8v4h-8zM282 254h8v4h-8zM282 258h8v4h-8zM278 262h4v4h-4zM278 266h4v4h-4zM262 282h4v4h-4zM258 286h4v4h-4zM254 290h4v4h-4zM250 298h4v4h-4zM246 302h4v4h-4zM242 306h8v4h-8zM234 310h12v4h-12zM226 314h12v4h-12zM218 318h16v4h-16z" fill="#00dfff"/>
<path d="M234 154h4v4h-4zM238 158h16v4h-16zM242 162h12v4h-12zM230 166h4v4h-4zM238 170h4v4h-4zM246 174h4v4h-4zM386 202h8v4h-8zM378 206h16v4h-16zM342 210h12v4h-12zM338 214h8v4h-8zM334 218h4v4h-4zM326 222h8v4h-8zM322 226h4v4h-4zM318 230h4v4h-4zM318 234h4v4h-4zM314 238h4v4h-4zM302 242h12v4h-12zM298 246h4v4h-4zM294 250h4v4h-4zM290 254h4v4h-4zM282 262h8v4h-8zM282 266h4v4h-4zM278 270h4v4h-4zM274 274h4v4h-4zM270 278h4v4h-4zM266 282h4v4h-4zM262 286h4v4h-4zM258 290h4v4h-4zM254 294h4v4h-4zM250 302h4v4h-4zM250 306h4v4h-4zM246 310h4v4h-4zM238 314h8v4h-8zM234 318h8v4h-8z" fill="#00efff"/>
<path d="M230 158h8v4h-8zM230 162h4v4h-4zM238 162h4v4h-4zM234 166h12v4h-12zM250 166h4v4h-4zM242 170h4v4h-4zM250 170h4v4h-4zM362 206h16v4h-16zM354 210h4v4h-4zM378 210h16v4h-16zM346 214h8v4h-8zM338 218h8v4h-8zM334 222h4v4h-4zM326 226h8v4h-8zM322 230h12v4h-12zM322 234h12v4h-12zM318 238h4v4h-4zM326 238h4v4h-4zM314 242h4v4h-4zM302 246h8v4h-8zM298 250h4v4h-4zM294 254h4v4h-4zM290 258h4v4h-4zM286 266h4v4h-4zM282 270h4v4h-4zM278 274h4v4h-4zM274 278h4v4h-4zM258 294h4v4h-4zM254 298h8v4h-8zM254 302h4v4h-4zM254 306h4v4h-4zM250 310h4v4h-4zM246 314h8v4h-8zM242 318h8v4h-8z" fill="#00ffff"/>
<path d="M234 162h4v4h-4zM246 166h4v4h-4zM246 170h4v4h-4zM358 210h4v4h-4zM366 210h12v4h-12zM354 214h4v4h-4zM374 214h20v4h-20zM346 218h8v4h-8zM338 222h8v4h-8zM334 226h4v4h-4zM322 238h4v4h-4zM330 238h4v4h-4zM318 242h4v4h-4zM310 246h4v4h-4zM302 250h4v4h-4zM298 254h4v4h-4zM294 258h4v4h-4zM290 262h4v4h-4zM286 270h4v4h-4zM282 274h4v4h-4zM270 282h4v4h-4zM266 286h4v4h-4zM262 290h4v4h-4zM262 294h4v4h-4zM258 302h4v4h-4zM254 310h4v4h-4zM254 314h4v4h-4zM250 318h4v4h-4z" fill="#10ffef"/>
<path d="M362 210h4v4h-4zM358 214h16v4h-16zM354 218h4v4h-4zM374 218h20v4h-20zM346 222h8v4h-8zM338 226h4v4h-4zM334 230h4v4h-4zM334 234h4v4h-4zM334 238h4v4h-4zM322 242h12v4h-12zM314 246h4v4h-4zM306 250h4v4h-4zM290 266h4v4h-4zM278 278h4v4h-4zM274 282h4v4h-4zM266 290h4v4h-4zM262 298h4v4h-4zM258 306h4v4h-4zM258 310h4v4h-4zM254 318h4v4h-4z" fill="#20ffdf"/>
<path d="M358 218h16v4h-16zM378 222h16v4h-16zM342 226h8v4h-8zM390 226h4v4h-4zM338 230h4v4h-4zM338 234h4v4h-4zM338 238h4v4h-4zM334 242h4v4h-4zM318 246h4v4h-4zM310 250h4v4h-4zM302 254h8v4h-8zM298 258h4v4h-4zM294 262h4v4h-4zM290 270h4v4h-4zM286 274h4v4h-4zM282 278h4v4h-4zM270 286h4v4h-4zM266 294h4v4h-4zM262 302h4v4h-4zM258 314h4v4h-4zM258 318h4v4h-4z" fill="#30ffcf"/>
<path d="M354 222h24v4h-24zM350 226h4v4h-4zM382 226h8v4h-8zM342 230h12v4h-12zM390 230h4v4h-4zM342 234h12v4h-12zM342 238h8v4h-8zM338 242h8v4h-8zM322 246h16v4h-16zM314 250h4v4h-4zM310 254h4v4h-4zM302 258h4v4h-4zM294 266h4v4h-4zM278 282h4v4h-4zM274 286h4v4h-4zM270 290h4v4h-4zM262 306h4v4h-4zM262 310h4v4h-4zM262 314h4v4h-4zM262 318h4v4h-4z" fill="#40ffbf"/>
<path d="M354 226h28v4h-28zM354 230h8v4h-8zM382 230h8v4h-8zM354 234h4v4h-4zM390 234h4v4h-4zM350 238h8v4h-8zM346 242h8v4h-8zM338 246h8v4h-8zM318 250h4v4h-4zM314 254h4v4h-4zM306 258h4v4h-4zM298 262h4v4h-4zM298 266h4v4h-4zM294 270h4v4h-4zM290 274h4v4h-4zM286 278h4v4h-4zM282 282h4v4h-4zM278 286h4v4h-4zM274 290h8v4h-8zM270 294h8v4h-8zM266 298h4v4h-4zM266 314h4v4h-4zM266 318h4v4h-4z" fill="#50ffaf"/>
<path d="M362 230h8v4h-8zM378 230h4v4h-4zM358 234h8v4h-8zM382 234h8v4h-8zM358 238h4v4h-4zM386 238h8v4h-8zM354 242h4v4h-4zM390 242h4v4h-4zM346 246h8v4h-8zM322 250h16v4h-16zM318 254h4v4h-4zM310 258h8v4h-8zM302 262h8v4h-8zM302 266h4v4h-4zM298 270h4v4h-4zM282 286h4v4h-4zM278 294h4v4h-4zM270 298h8v4h-8zM266 302h4v4h-4zM266 306h4v4h-4zM266 310h4v4h-4zM270 314h4v4h-4zM270 318h4v4h-4z" fill="#60ff9f"/>
<path d="M370 230h8v4h-8zM378 234h4v4h-4zM362 238h4v4h-4zM382 238h4v4h-4zM358 242h4v4h-4zM386 242h4v4h-4zM354 246h4v4h-4zM386 246h8v4h-8zM338 250h16v4h-16zM386 250h8v4h-8zM322 254h16v4h-16zM390 254h4v4h-4zM318 258h12v4h-12zM390 258h4v4h-4zM310 262h4v4h-4zM306 266h4v4h-4zM302 270h4v4h-4zM294 274h4v4h-4zM290 278h4v4h-4zM286 282h4v4h-4zM282 290h4v4h-4zM278 298h4v4h-4zM270 302h8v4h-8zM270 306h8v4h-8zM270 310h8v4h-8zM274 314h4v4h-4zM274 318h4v4h-4z" fill="#70ff8f"/>
<path d="M366 234h12v4h-12zM378 238h4v4h-4zM378 242h8v4h-8zM358 246h4v4h-4zM382 246h4v4h-4zM354 250h4v4h-4zM382 250h4v4h-4zM338 254h16v4h-16zM382 254h8v4h-8zM330 258h8v4h-8zM386 258h4v4h-4zM314 262h8v4h-8zM386 262h8v4h-8zM310 266h4v4h-4zM390 266h4v4h-4zM306 270h4v4h-4zM390 270h4v4h-4zM298 274h4v4h-4zM286 286h4v4h-4zM278 302h4v4h-4zM278 314h4v4h-4zM278 318h4v4h-4z" fill="#80ff80"/>
<path d="M366 238h12v4h-12zM362 242h16v4h-16zM378 246h4v4h-4zM358 250h4v4h-4zM378 250h4v4h-4zM354 254h8v4h-8zM378 254h4v4h-4zM338 258h20v4h-20zM378 258h8v4h-8zM322 262h24v4h-24zM378 262h8v4h-8zM382 266h8v4h-8zM386 270h4v4h-4zM302 274h4v4h-4zM386 274h8v4h-8zM294 278h4v4h-4zM390 278h4v4h-4zM390 282h4v4h-4zM282 294h4v4h-4zM278 306h4v4h-4zM278 310h4v4h-4zM282 318h4v4h-4zM390 318h4v4h-4z" fill="#8fff70"/>
<path d="M362 246h4v4h-4zM374 246h4v4h-4zM374 250h4v4h-4zM362 254h4v4h-4zM374 254h4v4h-4zM358 258h20v4h-20zM346 262h32v4h-32zM314 266h4v4h-4zM326 266h20v4h-20zM374 266h8v4h-8zM310 270h4v4h-4zM378 270h8v4h-8zM306 274h4v4h-4zM382 274h4v4h-4zM382 278h8v4h-8zM290 282h4v4h-4zM382 282h8v4h-8zM386 286h8v4h-8zM286 290h4v4h-4zM390 290h4v4h-4zM390 294h4v4h-4zM282 298h4v4h-4zM390 298h4v4h-4zM390 302h4v4h-4zM390 306h4v4h-4zM386 310h8v4h-8zM282 314h4v4h-4zM382 314h12v4h-12zM378 318h12v4h-12z" fill="#9fff60"/>
<path d="M366 246h8v4h-8zM362 250h4v4h-4zM370 250h4v4h-4zM366 254h8v4h-8zM318 266h8v4h-8zM346 266h28v4h-28zM338 270h8v4h-8zM354 270h12v4h-12zM374 270h4v4h-4zM358 274h4v4h-4zM378 274h4v4h-4zM298 278h8v4h-8zM378 278h4v4h-4zM374 282h8v4h-8zM290 286h4v4h-4zM374 286h12v4h-12zM290 290h4v4h-4zM378 290h12v4h-12zM382 294h8v4h-8zM386 298h4v4h-4zM282 302h4v4h-4zM386 302h4v4h-4zM282 306h4v4h-4zM354 306h4v4h-4zM382 306h8v4h-8zM282 310h4v4h-4zM350 310h12v4h-12zM378 310h8v4h-8zM342 314h40v4h-40zM286 318h4v4h-4zM334 318h44v4h-44z" fill="#afff50"/>
<path d="M366 250h4v4h-4zM314 270h4v4h-4zM326 270h12v4h-12zM346 270h8v4h-8zM366 270h8v4h-8zM310 274h4v4h-4zM338 274h8v4h-8zM350 274h8v4h-8zM362 274h4v4h-4zM370 274h8v4h-8zM306 278h4v4h-4zM346 278h32v4h-32zM294 282h4v4h-4zM350 282h24v4h-24zM354 286h20v4h-20zM354 290h24v4h-24zM286 294h4v4h-4zM354 294h28v4h-28zM350 298h36v4h-36zM346 302h40v4h-40zM342 306h12v4h-12zM358 306h24v4h-24zM338 310h12v4h-12zM362 310h16v4h-16zM286 314h4v4h-4zM330 314h12v4h-12zM290 318h16v4h-16zM322 318h12v4h-12z" fill="#bfff40"/>
<path d="M318 270h8v4h-8zM314 274h4v4h-4zM346 274h4v4h-4zM366 274h4v4h-4zM338 278h8v4h-8zM298 282h8v4h-8zM338 282h12v4h-12zM294 286h4v4h-4zM350 286h4v4h-4zM294 290h4v4h-4zM322 290h12v4h-12zM350 290h4v4h-4zM290 294h12v4h-12zM346 294h8v4h-8zM286 298h4v4h-4zM294 298h8v4h-8zM342 298h8v4h-8zM286 302h4v4h-4zM338 302h8v4h-8zM286 306h4v4h-4zM330 306h12v4h-12zM286 310h4v4h-4zM326 310h12v4h-12zM290 314h16v4h-16zM318 314h12v4h-12zM306 318h16v4h-16z" fill="#cfff30"/>
<path d="M318 274h12v4h-12zM334 274h4v4h-4zM310 278h16v4h-16zM306 282h4v4h-4zM318 282h8v4h-8zM334 282h4v4h-4zM298 286h4v4h-4zM310 286h40v4h-40zM298 290h4v4h-4zM310 290h12v4h-12zM334 290h16v4h-16zM302 294h44v4h-44zM290 298h4v4h-4zM302 298h12v4h-12zM326 298h16v4h-16zM290 302h4v4h-4zM298 302h8v4h-8zM326 302h12v4h-12zM326 306h4v4h-4zM298 310h8v4h-8zM318 310h8v4h-8zM306 314h12v4h-12z" fill="#dfff20"/>
<path d="M330 274h4v4h-4zM334 278h4v4h-4zM310 282h8v4h-8zM326 282h8v4h-8zM302 286h8v4h-8zM302 290h8v4h-8zM314 298h12v4h-12zM294 302h4v4h-4zM306 302h12v4h-12zM322 302h4v4h-4zM290 306h4v4h-4zM298 306h8v4h-8zM314 306h12v4h-12zM290 310h8v4h-8zM306 310h12v4h-12z" fill="#efff10"/>
<path d="M326 278h8v4h-8zM318 302h4v4h-4zM294 306h4v4h-4zM306 306h8v4h-8z" fill="#ffff00"/>
</g></g>
<clipPath id="clip00"><rect x="195.6" y="96.0" width="234.0" height="213.3"/></clipPath>
<g clip-path="url(#clip00)">
<path d="M190.1 96.5 L271.0 96.5 L271.0 92.9 L272.3 93.0 L273.1 93.6 L274.0 98.6 L277.0 99.9 L279.5 101.1 L282.3 100.2 L284.9 100.2 L287.1 101.8 L288.6 103.7 L291.5 104.1 L294.0 105.4 L297.2 104.1 L298.1 104.0 L300.9 105.1 L303.5 105.1 L305.0 106.0 L306.6 106.0 M306.6 106.0 L304.1 107.4 L301.6 108.4 L298.4 110.7 L296.5 112.1 L294.0 114.4 L292.1 115.8 L290.2 117.7 L289.9 118.1 L291.5 118.1 L293.4 117.7 L295.6 116.7 L297.5 115.8 L298.7 117.2 L298.1 119.0 L300.6 119.0 L300.9 119.3 M300.9 119.3 L303.5 118.9 L306.0 117.0 L308.5 116.3 L310.4 114.9 L312.6 113.0 L314.8 111.2 L317.0 111.0 L314.5 113.5 L314.8 115.8 L316.7 116.3 L318.6 120.0 L321.1 120.0 L322.4 120.1 L324.9 120.7 L326.8 119.5 L328.7 118.6 L331.8 117.7 L335.0 117.7 L335.0 120.0 L337.5 120.4 L338.7 120.0 L340.6 121.8 L341.3 123.2 L341.9 124.1 M341.9 124.1 L339.4 124.7 L336.8 125.7 L334.3 124.5 L331.8 123.6 L329.3 125.0 L326.8 125.9 L324.9 127.7 L323.3 125.9 L321.7 127.2 L320.1 129.5 L318.6 132.6 M318.6 132.6 L317.6 130.4 L317.0 128.1 L315.4 126.3 L313.5 125.0 L311.6 124.5 L309.1 123.6 L306.0 122.7 L302.8 121.8 L300.9 119.3 M318.6 132.6 L317.6 128.1 L317.3 125.9 M318.6 132.6 L317.9 137.9 L317.9 146.7 L318.6 155.3 L318.9 159.6 L319.1 162.1 M319.1 162.1 L321.1 162.8 L323.5 161.6 M323.5 161.6 L325.5 158.7 L327.1 155.3 L327.4 152.7 L327.1 149.3 L325.5 145.8 L326.1 143.2 L327.1 140.1 L328.0 137.1 L329.3 133.9 L331.2 132.2 L331.8 135.3 L332.7 133.5 L333.7 130.8 L334.6 129.5 L335.3 126.8 L336.7 126.5 L338.7 127.7 L340.6 129.0 L343.8 129.9 L345.3 132.6 L345.7 135.7 L345.3 139.3 L343.8 141.5 L341.9 143.7 L342.2 145.4 L344.1 144.5 L345.7 142.8 L347.9 141.9 L349.4 145.0 L350.7 148.4 L351.0 151.0 L350.4 154.5 L348.5 156.2 L346.9 157.4 L346.3 160.0 L344.7 161.9 M323.5 161.6 L329.9 161.6 L336.2 162.1 L344.7 161.9 M344.7 161.9 L346.9 163.0 L348.8 164.2 L350.7 164.6 L353.9 163.8 L355.7 163.8 L358.3 162.1 L360.2 161.3 L363.2 159.7 L365.8 158.3 L368.0 157.3 L370.9 155.3 L373.4 152.3 L372.8 150.2 L372.4 148.9 L375.3 148.0 L379.1 147.8 L382.2 148.9 L385.4 148.7 L387.9 147.6 L390.4 146.4 L390.1 144.1 L390.4 142.3 L389.4 141.0 L392.9 138.8 L396.1 135.3 L398.6 133.5 L399.8 133.5 L408.3 133.4 L420.0 133.4 L422.5 130.8 L424.4 129.9 L426.3 126.8 L428.2 123.6 L429.5 120.9 M214.9 96.5 L214.9 168.0 M190.1 133.5 L214.9 133.5 M214.9 125.1 L262.1 125.1 M190.1 168.0 L227.5 168.0 L227.5 200.4 M190.1 200.4 L274.3 200.4 M214.9 151.0 L249.9 151.0 L253.1 152.3 L256.2 152.3 L259.4 153.2 L261.9 155.3 L262.8 155.3 M227.5 176.3 L270.1 176.3 M221.6 200.4 L221.6 204.4 L221.3 238.7 L198.7 238.7 L190.1 238.7 M221.3 204.4 L240.5 204.4 L240.5 219.4 L243.0 220.8 L245.5 222.1 L249.3 222.5 L252.4 223.7 L255.6 224.4 L258.1 225.5 L260.6 225.2 L263.1 225.5 L266.3 224.8 L268.8 224.6 L272.0 224.8 L275.2 226.4 L278.0 227.1 L278.0 231.1 M275.2 226.4 L275.5 212.9 L274.3 204.4 L274.3 200.4 L274.4 183.6 L272.6 181.2 L271.3 179.6 L270.1 176.3 L268.8 173.8 L266.9 171.3 L266.3 168.0 L266.3 163.8 L265.0 159.6 L263.8 157.0 L262.8 155.3 L261.9 151.0 L262.8 146.7 L262.8 130.8 L262.1 125.1 L260.9 120.9 L260.6 116.3 L260.3 110.7 L259.4 106.0 L258.4 101.3 L257.9 96.5 M274.3 204.4 L302.5 204.4 L301.2 207.5 L301.1 208.3 L305.2 208.3 M278.0 231.1 L296.1 231.2 M278.0 231.1 L278.0 238.7 L279.5 241.6 L280.8 244.6 L281.1 247.5 L280.1 251.2 L279.3 255.6 M296.1 231.2 L296.5 234.2 L297.2 237.2 L294.6 239.4 L294.0 242.4 L293.4 244.6 L293.1 246.1 L305.2 246.1 L304.7 248.3 L305.3 250.1 L306.0 251.9 M296.1 231.2 L296.5 227.4 L297.5 224.4 L299.7 220.6 L300.9 217.5 L302.8 215.2 L303.8 212.1 L305.3 209.0 L306.0 206.7 L306.6 204.4 M262.8 146.7 L295.8 146.7 M267.1 171.5 L292.6 171.2 L294.5 173.1 M294.5 173.1 L295.9 170.5 L296.5 168.0 L299.0 164.2 L301.6 163.0 L302.2 160.8 L300.9 157.9 L299.4 155.3 L297.2 153.6 L296.2 150.2 L295.8 146.7 M294.5 173.1 L294.3 176.3 L295.9 179.6 L298.1 182.0 L299.7 183.6 L302.2 185.7 L302.2 188.5 L301.6 190.9 L304.1 193.3 L306.0 196.5 L306.9 198.8 L308.5 200.4 L308.8 202.0 L307.9 203.6 L306.6 204.4 M295.8 146.7 L295.3 143.2 L292.1 140.6 L289.0 137.9 L285.8 135.7 L286.1 132.6 L286.4 129.0 L289.0 126.3 L289.0 123.6 L289.0 118.6 L289.9 118.1 M299.4 155.3 L317.3 155.4 M319.1 162.1 L319.0 181.2 L318.6 183.6 L318.9 186.1 L316.7 190.1 L315.7 194.1 M308.5 200.4 L311.0 199.2 L313.2 199.6 L315.4 196.9 L315.7 194.1 L318.6 193.3 L321.7 194.1 L324.9 193.3 L327.4 192.1 L329.3 191.3 L330.2 190.2 L332.4 188.5 L333.7 186.9 L336.1 183.6 L338.7 184.4 L341.3 186.2 L343.8 187.3 L345.7 187.7 L348.8 187.7 L350.1 189.3 L352.6 187.7 L353.9 185.2 L355.4 184.0 L357.0 182.0 L359.5 180.4 L361.1 178.7 L362.4 175.4 L362.7 173.0 L363.2 171.0 M336.1 162.1 L336.1 183.6 M363.2 171.0 L363.2 159.7 M350.1 189.3 L350.7 192.5 L352.6 194.9 L354.2 196.1 L351.3 198.1 L348.2 200.4 L345.7 202.0 L343.3 203.6 M306.6 204.4 L315.6 204.4 L315.6 202.9 L322.4 203.2 L328.7 203.3 L335.0 203.4 L343.3 203.6 L355.9 203.7 L366.5 204.0 L379.1 204.0 L386.0 204.0 L392.3 204.0 M355.9 203.7 L354.5 205.9 L352.6 207.1 L350.1 208.7 L347.6 210.2 L344.4 211.8 L341.9 212.1 L339.4 214.3 L339.2 216.1 M301.6 216.0 L314.8 216.0 L331.2 216.2 L339.2 216.1 L346.9 216.1 M314.8 216.0 L314.2 223.7 L313.1 239.4 L313.5 246.1 L313.5 250.8 M331.2 216.2 L332.4 223.7 L333.7 232.0 L335.0 235.0 L334.6 238.7 L334.6 246.1 M319.2 251.2 L318.6 246.1 L334.6 246.1 M334.6 246.1 L335.8 248.3 L344.4 248.6 L352.6 249.2 L353.5 247.5 L354.5 247.5 L357.3 248.1 M346.9 216.1 L348.8 218.3 L350.1 220.6 L352.0 223.7 L353.9 226.7 L355.1 229.7 L357.0 232.0 L358.3 235.0 L359.5 237.2 L361.1 238.3 M346.9 216.1 L351.3 214.5 L356.4 214.7 L359.8 214.9 L360.8 215.6 L361.4 217.5 L366.5 217.5 L368.3 217.5 L372.1 221.4 L375.6 224.8 M354.2 196.1 L356.4 198.5 L358.9 198.5 L361.4 197.3 L363.3 196.9 L364.6 194.9 L366.5 192.9 L368.3 190.1 L369.6 188.5 L371.2 186.9 L372.8 185.7 L374.6 184.0 L376.5 182.8 L378.4 182.8 L380.3 182.4 L380.9 181.8 M380.9 181.8 L379.1 180.0 L377.2 179.6 L375.3 180.0 L372.8 180.8 L369.7 182.8 L369.7 178.6 M363.2 171.0 L363.2 178.6 L369.7 178.6 L385.4 178.6 L392.9 178.6 L394.2 177.7 L395.4 177.9 M392.9 178.6 L393.0 188.8 L397.6 188.9 M380.9 181.8 L382.5 182.8 L384.7 184.8 L385.0 186.1 L384.7 187.7 L383.8 189.3 L385.4 190.1 L387.9 191.3 L389.8 192.5 M393.9 192.9 L396.4 192.2 M395.4 177.9 L397.3 176.7 L398.6 175.4 L399.5 174.6 L398.0 173.0 L396.7 171.3 L397.3 168.8 L398.3 167.1 L399.8 165.1 M368.0 157.3 L368.0 159.6 L395.7 159.6 L396.7 160.8 L397.6 163.0 L399.8 165.1 L402.4 166.7 L404.9 168.0 L404.6 170.1 M406.5 168.2 L407.4 166.3 L407.3 159.1 L408.9 153.2 L408.8 145.8 L408.0 140.6 L408.3 133.4 M407.3 159.1 L418.1 159.4 L420.8 159.4 L422.4 163.8 M418.1 159.4 L417.8 165.5 M408.9 153.2 L414.0 153.3 L421.3 153.6 L424.4 152.1 M414.0 153.3 L414.3 149.3 L415.0 145.8 L416.9 139.7 L419.4 136.2 L420.0 133.4 M425.0 150.3 L423.3 146.7 L422.8 137.9 L422.6 130.8 M426.3 148.4 L425.0 150.3 L424.4 152.1 L425.7 154.0 L423.8 154.9 L423.2 157.0 L423.8 157.9 L425.7 160.0 L426.0 161.7 L423.8 163.0 L422.5 163.8 L421.3 163.0 L420.6 164.2 L417.8 165.5 L415.0 165.7 L411.2 165.9 L408.7 167.1 L406.5 168.2 L405.5 169.2 L404.6 170.1 L403.9 171.3 M404.3 171.3 L406.8 171.5 L410.6 170.5 L413.7 169.2 L417.7 167.4 L415.0 168.0 L413.1 168.2 L409.3 168.7 L406.8 168.8 L405.5 169.7 L404.3 171.3 M403.9 171.3 L404.3 173.0 L403.9 176.3 L403.3 178.7 L401.7 181.6 L399.8 183.6 L398.3 185.0 L398.3 183.2 L396.7 182.0 L394.8 180.4 L394.5 179.1 L395.4 177.9 M394.5 179.1 L395.1 181.6 L396.1 184.0 L397.3 186.1 L397.6 188.9 L397.0 190.9 L396.4 192.2 L395.1 194.5 L393.9 196.9 L392.3 199.2 L391.7 198.1 L392.0 195.7 L392.6 192.9 L391.3 190.9 L390.4 188.1 L391.0 185.2 L390.1 183.2 L391.0 181.2 L391.3 180.0 M391.3 180.0 L389.4 181.6 L388.2 182.8 L389.1 184.8 L388.5 186.9 L388.8 189.7 L389.8 192.1 L388.5 193.7 L389.8 196.1 L388.8 198.1 L389.8 200.4 L391.7 201.1 L392.3 204.0 M389.8 192.1 L386.0 190.9 L387.9 191.3 M388.8 198.1 L386.6 196.9 M389.8 196.1 L386.3 194.1 M389.8 200.4 L387.2 199.6 L389.8 200.8 M388.8 189.7 L386.9 188.5 M392.0 195.7 L390.4 193.3 L392.3 192.5 M390.4 188.1 L392.3 189.7 L389.8 190.1 M392.3 204.0 L393.5 206.7 L394.8 209.8 L395.1 212.9 L394.8 214.1 L392.9 214.9 L391.0 216.0 L388.5 218.3 L386.0 218.3 L382.8 219.8 L380.6 222.1 L379.4 224.4 L377.8 224.3 L375.6 224.8 M392.3 204.0 L391.7 205.9 L388.5 208.3 L391.7 208.7 L392.6 211.4 L391.7 212.9 L387.9 213.7 L388.5 215.2 L385.7 216.0 L387.9 217.2 M388.5 208.3 L386.0 207.9 L387.2 209.0 M391.7 212.9 L386.6 212.5 M375.6 224.8 L372.8 227.4 L371.5 229.7 L369.6 231.2 L367.1 233.1 L365.2 234.6 L363.6 236.1 L362.0 237.2 L361.1 238.3 L359.5 240.5 L358.9 242.4 L358.3 245.0 L357.3 248.1 L358.3 253.4 L359.9 262.2 L363.0 269.2 L365.5 275.0 L365.2 281.9 L364.1 287.7 L366.2 293.8 L363.3 291.0 L359.9 287.7 L355.6 280.9 L352.0 274.9 L348.0 268.2 L348.8 259.7 L345.7 256.3 L341.3 252.7 L338.7 253.7 L336.2 255.2 L334.3 255.7 L332.4 254.5 L331.2 252.7 L328.0 250.8 L325.5 250.5 L323.0 250.6 L320.5 251.2 L319.2 251.2 M319.2 251.2 L317.3 251.6 L316.1 249.7 L316.7 248.3 L315.4 249.0 L315.4 251.2 L313.5 250.8 L311.0 250.5 L308.5 250.8 L306.0 251.9 L305.0 252.7 L306.0 253.4 L304.7 255.2 L306.6 256.3 L307.2 257.7 L308.8 259.2 L309.4 260.6 L307.5 260.3 L306.9 258.5 L305.3 258.1 L304.1 259.2 L302.8 259.9 L301.6 258.5 L300.3 259.9 L298.4 260.3 L295.9 259.2 L294.9 258.5 L293.4 256.3 L291.5 255.9 L290.2 256.4 L288.3 256.6 L285.8 255.9 L283.3 255.0 L279.3 255.6 L277.0 255.9 L274.5 257.4 L272.6 258.5 L271.3 259.9 L269.4 261.3 L266.3 263.5 L264.4 264.2 L262.5 265.6 L260.6 267.1 L259.4 268.9 L257.8 270.6 L257.1 273.5 L256.8 276.3 L257.5 279.1 L258.1 281.2 L258.4 282.3 M305.0 252.7 L302.8 250.8 L300.6 251.6 L302.2 253.0 L305.0 252.7 M258.4 282.3 L256.2 282.8 L253.7 281.6 L251.2 281.2 L248.6 279.8 L246.1 278.8 L244.9 275.6 L243.6 271.3 L241.7 268.5 L238.6 265.6 L237.3 262.1 L236.4 259.9 L234.2 257.0 L231.6 255.1 L229.1 254.8 L226.0 254.3 L223.4 255.2 L222.2 258.5 L220.9 260.8 L219.0 260.3 L217.8 259.5 L215.3 258.1 L212.1 255.9 L210.8 252.7 L209.6 249.0 L207.1 247.2 L205.2 245.3 L202.7 243.1 L200.1 240.5 L198.7 238.7 M195.5 91.7 L195.5 240.3 M195.5 94.4 L271.0 94.4 M429.5 119.0 L429.5 145.8" fill="none" stroke="#000" stroke-width="3.0" stroke-linejoin="round" stroke-linecap="round"/>
<path d="M398.0 179.0L392.4 177.3 M397.5 181.1L390.2 179.0 M397.0 183.2L390.3 182.5 M396.4 185.3L392.1 185.3 M395.9 187.4L391.7 187.0 M395.4 189.5L391.0 187.4 M394.9 191.6L388.7 193.2 M394.3 193.7L389.7 192.3 M393.8 195.8L386.7 198.0 M393.3 197.9L386.4 197.3 M393.1 200.0L384.2 197.7 M393.3 202.0L385.0 201.0 M393.5 204.1L388.8 202.2 M393.7 206.2L388.2 207.8 M393.9 208.3L389.0 208.7 M394.1 210.4L386.9 209.8 M394.4 212.5L387.6 210.3 M393.0 214.6L388.7 213.1 M389.7 216.7L382.3 216.4 M386.3 218.8L380.7 219.2 M383.0 220.9L376.7 219.9 M379.6 223.0L371.6 224.0" stroke="#000" stroke-width="1.6" fill="none"/>
<polygon points="386.0,181.0 390.0,180.8 395.0,178.0 398.5,176.5 401.0,178.5 399.0,184.5 396.5,192.0 393.5,199.0 395.0,210.0 393.5,214.0 390.5,215.0 389.0,206.0 387.5,200.0 385.0,195.0 388.0,191.0 386.0,186.0" fill="#000" stroke="#000" stroke-width="1.5" stroke-linejoin="round"/>
<polygon points="389.5,216.5 384.5,219.5 378.0,224.0 380.0,218.5 384.0,213.0 387.5,208.0" fill="#000" stroke="#000" stroke-width="1.5" stroke-linejoin="round"/>
<polygon points="408.2,162.5 420.9,160.5 429.1,160.5 429.1,163.0 418.2,166.5 410.0,171.0 404.6,172.5 404.0,168.2" fill="#000" stroke="#000" stroke-width="1.5" stroke-linejoin="round"/>
</g>
<rect x="441.4" y="95.0" width="23.3" height="215.6" fill="url(#jet)" stroke="#262626" stroke-width="0.9"/>
<line x1="462.2" y1="119.1" x2="464.7" y2="119.1" stroke="#262626" stroke-width="0.9"/>
<text x="472.9" y="126.5" font-size="22" font-weight="bold" fill="#262626" stroke="#262626" stroke-width="0.48" textLength="44.2" lengthAdjust="spacingAndGlyphs">300</text>
<line x1="462.2" y1="168.0" x2="464.7" y2="168.0" stroke="#262626" stroke-width="0.9"/>
<text x="472.9" y="175.4" font-size="22" font-weight="bold" fill="#262626" stroke="#262626" stroke-width="0.48" textLength="44.2" lengthAdjust="spacingAndGlyphs">290</text>
<line x1="462.2" y1="216.5" x2="464.7" y2="216.5" stroke="#262626" stroke-width="0.9"/>
<text x="472.9" y="223.9" font-size="22" font-weight="bold" fill="#262626" stroke="#262626" stroke-width="0.48" textLength="44.2" lengthAdjust="spacingAndGlyphs">280</text>
<line x1="462.2" y1="265.0" x2="464.7" y2="265.0" stroke="#262626" stroke-width="0.9"/>
<text x="472.9" y="272.4" font-size="22" font-weight="bold" fill="#262626" stroke="#262626" stroke-width="0.48" textLength="44.2" lengthAdjust="spacingAndGlyphs">270</text>
<text x="128.3" y="340.8" font-size="24.5" font-weight="bold" fill="#262626" stroke="#262626" stroke-width="0.54" textLength="358.6" lengthAdjust="spacingAndGlyphs">SAT+RAP 850 hPa Temp (K)</text>
<text x="636.4" y="77.0" font-size="13.6" font-weight="bold" fill="#262626" stroke="#262626" stroke-width="0.30" textLength="25.6" lengthAdjust="spacingAndGlyphs">100</text>
<circle cx="666.0" cy="64.2" r="1.3" fill="none" stroke="#262626" stroke-width="0.8"/>
<text x="673.6" y="77.0" font-size="13.6" font-weight="bold" fill="#262626" stroke="#262626" stroke-width="0.30" textLength="13.2" lengthAdjust="spacingAndGlyphs">W</text>
<text x="705.0" y="77.0" font-size="13.6" font-weight="bold" fill="#262626" stroke="#262626" stroke-width="0.30" textLength="17.0" lengthAdjust="spacingAndGlyphs">90</text>
<circle cx="726.0" cy="64.2" r="1.3" fill="none" stroke="#262626" stroke-width="0.8"/>
<text x="734.6" y="77.0" font-size="13.6" font-weight="bold" fill="#262626" stroke="#262626" stroke-width="0.30" textLength="13.2" lengthAdjust="spacingAndGlyphs">W</text>
<text x="769.2" y="77.0" font-size="13.6" font-weight="bold" fill="#262626" stroke="#262626" stroke-width="0.30" textLength="17.4" lengthAdjust="spacingAndGlyphs">80</text>
<circle cx="790.8" cy="64.2" r="1.3" fill="none" stroke="#262626" stroke-width="0.8"/>
<text x="798.6" y="77.0" font-size="13.6" font-weight="bold" fill="#262626" stroke="#262626" stroke-width="0.30" textLength="13.0" lengthAdjust="spacingAndGlyphs">W</text>
<text x="832.4" y="77.0" font-size="13.6" font-weight="bold" fill="#262626" stroke="#262626" stroke-width="0.30" textLength="16.6" lengthAdjust="spacingAndGlyphs">70</text>
<circle cx="852.8" cy="64.2" r="1.3" fill="none" stroke="#262626" stroke-width="0.8"/>
<text x="861.4" y="77.0" font-size="13.6" font-weight="bold" fill="#262626" stroke="#262626" stroke-width="0.30" textLength="13.4" lengthAdjust="spacingAndGlyphs">W</text>
<text x="566.9" y="112.7" font-size="13.3" font-weight="bold" fill="#262626" stroke="#262626" stroke-width="0.29" textLength="17.9" lengthAdjust="spacingAndGlyphs">48</text>
<circle cx="589.0" cy="99.5" r="1.3" fill="none" stroke="#262626" stroke-width="0.8"/>
<text x="596.7" y="112.7" font-size="13.3" font-weight="bold" fill="#262626" stroke="#262626" stroke-width="0.29" textLength="9.6" lengthAdjust="spacingAndGlyphs">N</text>
<text x="566.9" y="130.6" font-size="13.3" font-weight="bold" fill="#262626" stroke="#262626" stroke-width="0.29" textLength="17.9" lengthAdjust="spacingAndGlyphs">46</text>
<circle cx="589.0" cy="117.4" r="1.3" fill="none" stroke="#262626" stroke-width="0.8"/>
<text x="596.7" y="130.6" font-size="13.3" font-weight="bold" fill="#262626" stroke="#262626" stroke-width="0.29" textLength="9.6" lengthAdjust="spacingAndGlyphs">N</text>
<text x="566.9" y="147.6" font-size="13.3" font-weight="bold" fill="#262626" stroke="#262626" stroke-width="0.29" textLength="17.9" lengthAdjust="spacingAndGlyphs">44</text>
<circle cx="589.0" cy="134.4" r="1.3" fill="none" stroke="#262626" stroke-width="0.8"/>
<text x="596.7" y="147.6" font-size="13.3" font-weight="bold" fill="#262626" stroke="#262626" stroke-width="0.29" textLength="9.6" lengthAdjust="spacingAndGlyphs">N</text>
<text x="566.9" y="166.5" font-size="13.3" font-weight="bold" fill="#262626" stroke="#262626" stroke-width="0.29" textLength="17.9" lengthAdjust="spacingAndGlyphs">42</text>
<circle cx="589.0" cy="153.3" r="1.3" fill="none" stroke="#262626" stroke-width="0.8"/>
<text x="596.7" y="166.5" font-size="13.3" font-weight="bold" fill="#262626" stroke="#262626" stroke-width="0.29" textLength="9.6" lengthAdjust="spacingAndGlyphs">N</text>
<text x="566.9" y="182.7" font-size="13.3" font-weight="bold" fill="#262626" stroke="#262626" stroke-width="0.29" textLength="17.9" lengthAdjust="spacingAndGlyphs">40</text>
<circle cx="589.0" cy="169.5" r="1.3" fill="none" stroke="#262626" stroke-width="0.8"/>
<text x="596.7" y="182.7" font-size="13.3" font-weight="bold" fill="#262626" stroke="#262626" stroke-width="0.29" textLength="9.6" lengthAdjust="spacingAndGlyphs">N</text>
<text x="566.9" y="197.6" font-size="13.3" font-weight="bold" fill="#262626" stroke="#262626" stroke-width="0.29" textLength="17.9" lengthAdjust="spacingAndGlyphs">38</text>
<circle cx="589.0" cy="184.4" r="1.3" fill="none" stroke="#262626" stroke-width="0.8"/>
<text x="596.7" y="197.6" font-size="13.3" font-weight="bold" fill="#262626" stroke="#262626" stroke-width="0.29" textLength="9.6" lengthAdjust="spacingAndGlyphs">N</text>
<text x="566.9" y="214.5" font-size="13.3" font-weight="bold" fill="#262626" stroke="#262626" stroke-width="0.29" textLength="17.9" lengthAdjust="spacingAndGlyphs">36</text>
<circle cx="589.0" cy="201.3" r="1.3" fill="none" stroke="#262626" stroke-width="0.8"/>
<text x="596.7" y="214.5" font-size="13.3" font-weight="bold" fill="#262626" stroke="#262626" stroke-width="0.29" textLength="9.6" lengthAdjust="spacingAndGlyphs">N</text>
<text x="566.9" y="228.6" font-size="13.3" font-weight="bold" fill="#262626" stroke="#262626" stroke-width="0.29" textLength="17.9" lengthAdjust="spacingAndGlyphs">34</text>
<circle cx="589.0" cy="215.4" r="1.3" fill="none" stroke="#262626" stroke-width="0.8"/>
<text x="596.7" y="228.6" font-size="13.3" font-weight="bold" fill="#262626" stroke="#262626" stroke-width="0.29" textLength="9.6" lengthAdjust="spacingAndGlyphs">N</text>
<text x="566.9" y="245.4" font-size="13.3" font-weight="bold" fill="#262626" stroke="#262626" stroke-width="0.29" textLength="17.9" lengthAdjust="spacingAndGlyphs">32</text>
<circle cx="589.0" cy="232.2" r="1.3" fill="none" stroke="#262626" stroke-width="0.8"/>
<text x="596.7" y="245.4" font-size="13.3" font-weight="bold" fill="#262626" stroke="#262626" stroke-width="0.29" textLength="9.6" lengthAdjust="spacingAndGlyphs">N</text>
<text x="566.9" y="259.4" font-size="13.3" font-weight="bold" fill="#262626" stroke="#262626" stroke-width="0.29" textLength="17.9" lengthAdjust="spacingAndGlyphs">30</text>
<circle cx="589.0" cy="246.2" r="1.3" fill="none" stroke="#262626" stroke-width="0.8"/>
<text x="596.7" y="259.4" font-size="13.3" font-weight="bold" fill="#262626" stroke="#262626" stroke-width="0.29" textLength="9.6" lengthAdjust="spacingAndGlyphs">N</text>
<text x="566.9" y="272.5" font-size="13.3" font-weight="bold" fill="#262626" stroke="#262626" stroke-width="0.29" textLength="17.9" lengthAdjust="spacingAndGlyphs">28</text>
<circle cx="589.0" cy="259.3" r="1.3" fill="none" stroke="#262626" stroke-width="0.8"/>
<text x="596.7" y="272.5" font-size="13.3" font-weight="bold" fill="#262626" stroke="#262626" stroke-width="0.29" textLength="9.6" lengthAdjust="spacingAndGlyphs">N</text>
<text x="566.9" y="287.3" font-size="13.3" font-weight="bold" fill="#262626" stroke="#262626" stroke-width="0.29" textLength="17.9" lengthAdjust="spacingAndGlyphs">26</text>
<circle cx="589.0" cy="274.1" r="1.3" fill="none" stroke="#262626" stroke-width="0.8"/>
<text x="596.7" y="287.3" font-size="13.3" font-weight="bold" fill="#262626" stroke="#262626" stroke-width="0.29" textLength="9.6" lengthAdjust="spacingAndGlyphs">N</text>
<text x="566.9" y="301.3" font-size="13.3" font-weight="bold" fill="#262626" stroke="#262626" stroke-width="0.29" textLength="17.9" lengthAdjust="spacingAndGlyphs">24</text>
<circle cx="589.0" cy="288.1" r="1.3" fill="none" stroke="#262626" stroke-width="0.8"/>
<text x="596.7" y="301.3" font-size="13.3" font-weight="bold" fill="#262626" stroke="#262626" stroke-width="0.29" textLength="9.6" lengthAdjust="spacingAndGlyphs">N</text>
<text x="566.9" y="314.5" font-size="13.3" font-weight="bold" fill="#262626" stroke="#262626" stroke-width="0.29" textLength="17.9" lengthAdjust="spacingAndGlyphs">22</text>
<circle cx="589.0" cy="301.3" r="1.3" fill="none" stroke="#262626" stroke-width="0.8"/>
<text x="596.7" y="314.5" font-size="13.3" font-weight="bold" fill="#262626" stroke="#262626" stroke-width="0.29" textLength="9.6" lengthAdjust="spacingAndGlyphs">N</text>
<rect x="616.6" y="96.0" width="234.0" height="213.3" fill="none" stroke="#262626" stroke-width="1.1"/>
<clipPath id="sw01"><polygon points="616.5,167.0 647.4,153.6 683.7,140.3 732.2,127.0 775.8,120.6 780.7,121.8 783.1,147.6 780.7,150.0 756.5,153.6 732.2,157.9 705.5,164.5 683.7,170.6 669.2,174.2 657.1,179.1 647.4,182.7 635.2,188.8 626.8,192.4 624.0,191.0 616.5,174.0"/><polygon points="632.0,204.5 635.0,202.5 659.5,197.3 695.8,182.7 732.2,173.0 756.5,168.2 783.1,163.3 785.5,163.8 786.5,182.0 789.4,207.0 803.3,310.2 801.0,311.8 668.5,312.0 666.7,311.0 631.5,206.5"/></clipPath>
<g clip-path="url(#sw01)"><g filter="url(#blur2)">
<path d="M767 118h8v4h-8zM751 122h28v4h-28zM751 126h28v4h-28zM739 130h4v4h-4zM751 130h12v4h-12zM767 130h12v4h-12zM739 134h8v4h-8zM771 134h12v4h-12zM771 138h12v4h-12zM759 142h4v4h-4zM775 142h8v4h-8zM759 146h8v4h-8zM675 246h8v4h-8zM675 250h8v4h-8zM687 254h4v4h-4z" fill="#0000ef"/>
<path d="M759 114h20v4h-20zM751 118h16v4h-16zM775 118h8v4h-8zM747 122h4v4h-4zM779 122h4v4h-4zM739 126h12v4h-12zM779 126h4v4h-4zM735 130h4v4h-4zM743 130h8v4h-8zM763 130h4v4h-4zM779 130h8v4h-8zM735 134h4v4h-4zM747 134h24v4h-24zM783 134h4v4h-4zM739 138h8v4h-8zM751 138h20v4h-20zM783 138h4v4h-4zM755 142h4v4h-4zM763 142h12v4h-12zM783 142h4v4h-4zM755 146h4v4h-4zM767 146h12v4h-12zM743 150h4v4h-4zM755 150h12v4h-12zM667 238h4v4h-4zM683 246h12v4h-12zM663 250h8v4h-8zM683 250h12v4h-12zM679 254h8v4h-8zM679 258h8v4h-8zM679 262h8v4h-8zM679 266h4v4h-4z" fill="#0000ff"/>
<path d="M755 110h24v4h-24zM747 114h12v4h-12zM779 114h4v4h-4zM743 118h8v4h-8zM783 118h4v4h-4zM739 122h8v4h-8zM783 122h4v4h-4zM735 126h4v4h-4zM783 126h8v4h-8zM787 130h4v4h-4zM787 134h4v4h-4zM735 138h4v4h-4zM747 138h4v4h-4zM787 138h4v4h-4zM739 142h16v4h-16zM787 142h4v4h-4zM739 146h16v4h-16zM779 146h8v4h-8zM739 150h4v4h-4zM747 150h8v4h-8zM767 150h8v4h-8zM739 154h8v4h-8zM755 154h12v4h-12zM671 238h4v4h-4zM667 242h16v4h-16zM687 242h8v4h-8zM663 246h12v4h-12zM671 250h4v4h-4zM667 254h12v4h-12zM691 254h4v4h-4zM675 258h4v4h-4zM687 258h4v4h-4zM675 262h4v4h-4zM675 266h4v4h-4zM683 266h4v4h-4zM675 270h4v4h-4z" fill="#0010ff"/>
<path d="M747 110h8v4h-8zM779 110h8v4h-8zM743 114h4v4h-4zM783 114h8v4h-8zM739 118h4v4h-4zM787 118h4v4h-4zM735 122h4v4h-4zM787 122h8v4h-8zM731 126h4v4h-4zM791 126h4v4h-4zM731 130h4v4h-4zM791 130h4v4h-4zM731 134h4v4h-4zM791 134h4v4h-4zM731 138h4v4h-4zM791 138h4v4h-4zM735 142h4v4h-4zM791 142h4v4h-4zM735 146h4v4h-4zM787 146h4v4h-4zM735 150h4v4h-4zM775 150h12v4h-12zM735 154h4v4h-4zM747 154h8v4h-8zM767 154h12v4h-12zM755 158h20v4h-20zM771 162h8v4h-8zM759 166h8v4h-8zM771 166h8v4h-8zM759 170h4v4h-4zM667 234h8v4h-8zM663 238h4v4h-4zM675 238h4v4h-4zM663 242h4v4h-4zM683 242h4v4h-4zM695 246h4v4h-4zM659 250h4v4h-4zM663 254h4v4h-4zM671 258h4v4h-4zM691 258h4v4h-4zM687 262h4v4h-4zM695 262h4v4h-4zM671 266h4v4h-4zM671 270h4v4h-4z" fill="#0020ff"/>
<path d="M739 110h8v4h-8zM787 110h8v4h-8zM735 114h8v4h-8zM791 114h4v4h-4zM731 118h8v4h-8zM791 118h8v4h-8zM731 122h4v4h-4zM795 122h4v4h-4zM727 126h4v4h-4zM795 126h4v4h-4zM727 130h4v4h-4zM795 130h4v4h-4zM727 134h4v4h-4zM795 134h4v4h-4zM727 138h4v4h-4zM795 138h4v4h-4zM731 142h4v4h-4zM795 142h4v4h-4zM727 146h8v4h-8zM791 146h4v4h-4zM727 150h8v4h-8zM787 150h4v4h-4zM731 154h4v4h-4zM779 154h12v4h-12zM739 158h16v4h-16zM775 158h12v4h-12zM751 162h20v4h-20zM779 162h8v4h-8zM755 166h4v4h-4zM767 166h4v4h-4zM779 166h8v4h-8zM755 170h4v4h-4zM763 170h20v4h-20zM759 174h4v4h-4zM775 174h4v4h-4zM675 234h4v4h-4zM659 238h4v4h-4zM679 238h12v4h-12zM695 242h4v4h-4zM659 246h4v4h-4zM695 250h4v4h-4zM695 254h4v4h-4zM667 258h4v4h-4zM671 262h4v4h-4zM691 262h4v4h-4zM687 266h4v4h-4zM679 270h4v4h-4z" fill="#0030ff"/>
<path d="M731 110h8v4h-8zM795 110h8v4h-8zM731 114h4v4h-4zM795 114h8v4h-8zM727 118h4v4h-4zM799 118h4v4h-4zM727 122h4v4h-4zM799 122h8v4h-8zM723 126h4v4h-4zM799 126h8v4h-8zM723 130h4v4h-4zM799 130h8v4h-8zM719 134h8v4h-8zM799 134h8v4h-8zM719 138h8v4h-8zM799 138h4v4h-4zM719 142h12v4h-12zM799 142h4v4h-4zM723 146h4v4h-4zM795 146h8v4h-8zM723 150h4v4h-4zM791 150h8v4h-8zM723 154h8v4h-8zM791 154h4v4h-4zM731 158h8v4h-8zM787 158h8v4h-8zM739 162h12v4h-12zM787 162h4v4h-4zM747 166h8v4h-8zM787 166h4v4h-4zM751 170h4v4h-4zM783 170h4v4h-4zM755 174h4v4h-4zM763 174h12v4h-12zM779 174h8v4h-8zM771 178h16v4h-16zM775 182h8v4h-8zM659 234h8v4h-8zM679 234h8v4h-8zM655 238h4v4h-4zM691 238h4v4h-4zM659 242h4v4h-4zM659 254h4v4h-4zM663 258h4v4h-4zM695 258h4v4h-4zM667 262h4v4h-4zM667 266h4v4h-4zM691 266h8v4h-8zM683 270h4v4h-4zM671 274h8v4h-8z" fill="#0040ff"/>
<path d="M723 110h8v4h-8zM803 110h8v4h-8zM723 114h8v4h-8zM803 114h8v4h-8zM723 118h4v4h-4zM803 118h8v4h-8zM719 122h8v4h-8zM807 122h4v4h-4zM719 126h4v4h-4zM807 126h4v4h-4zM715 130h8v4h-8zM807 130h4v4h-4zM715 134h4v4h-4zM807 134h4v4h-4zM715 138h4v4h-4zM803 138h8v4h-8zM803 142h4v4h-4zM719 146h4v4h-4zM803 146h4v4h-4zM719 150h4v4h-4zM799 150h4v4h-4zM795 154h8v4h-8zM723 158h8v4h-8zM795 158h4v4h-4zM731 162h8v4h-8zM791 162h8v4h-8zM735 166h12v4h-12zM791 166h4v4h-4zM739 170h12v4h-12zM787 170h4v4h-4zM739 174h16v4h-16zM787 174h4v4h-4zM755 178h16v4h-16zM787 178h4v4h-4zM767 182h8v4h-8zM783 182h4v4h-4zM775 186h8v4h-8zM667 230h16v4h-16zM655 234h4v4h-4zM687 234h8v4h-8zM695 238h4v4h-4zM655 242h4v4h-4zM699 242h4v4h-4zM699 246h4v4h-4zM699 250h4v4h-4zM699 254h4v4h-4zM699 258h4v4h-4zM663 262h4v4h-4zM667 270h4v4h-4zM679 274h4v4h-4z" fill="#0050ff"/>
<path d="M719 110h4v4h-4zM811 110h4v4h-4zM715 114h8v4h-8zM811 114h4v4h-4zM715 118h8v4h-8zM811 118h4v4h-4zM715 122h4v4h-4zM811 122h4v4h-4zM715 126h4v4h-4zM811 126h4v4h-4zM711 130h4v4h-4zM811 130h4v4h-4zM711 134h4v4h-4zM811 134h4v4h-4zM811 138h4v4h-4zM715 142h4v4h-4zM807 142h8v4h-8zM715 146h4v4h-4zM807 146h8v4h-8zM803 150h8v4h-8zM719 154h4v4h-4zM803 154h8v4h-8zM799 158h8v4h-8zM723 162h8v4h-8zM799 162h4v4h-4zM727 166h8v4h-8zM795 166h4v4h-4zM731 170h8v4h-8zM791 170h8v4h-8zM731 174h8v4h-8zM791 174h4v4h-4zM723 178h8v4h-8zM735 178h20v4h-20zM791 178h4v4h-4zM755 182h12v4h-12zM787 182h4v4h-4zM759 186h16v4h-16zM783 186h4v4h-4zM759 190h12v4h-12zM671 226h12v4h-12zM663 230h4v4h-4zM683 230h12v4h-12zM695 234h8v4h-8zM699 238h4v4h-4zM655 246h4v4h-4zM655 250h4v4h-4zM655 254h4v4h-4zM703 254h4v4h-4zM659 258h4v4h-4zM659 262h4v4h-4zM699 262h4v4h-4zM663 266h4v4h-4zM687 270h4v4h-4zM667 274h4v4h-4z" fill="#0060ff"/>
<path d="M711 110h8v4h-8zM711 114h4v4h-4zM711 118h4v4h-4zM707 122h8v4h-8zM707 126h8v4h-8zM707 130h4v4h-4zM707 134h4v4h-4zM707 138h8v4h-8zM711 142h4v4h-4zM711 146h4v4h-4zM715 150h4v4h-4zM811 150h4v4h-4zM811 154h4v4h-4zM719 158h4v4h-4zM807 158h8v4h-8zM719 162h4v4h-4zM803 162h8v4h-8zM723 166h4v4h-4zM799 166h8v4h-8zM719 170h12v4h-12zM799 170h4v4h-4zM719 174h12v4h-12zM795 174h8v4h-8zM719 178h4v4h-4zM731 178h4v4h-4zM795 178h4v4h-4zM703 182h8v4h-8zM719 182h36v4h-36zM791 182h4v4h-4zM703 186h8v4h-8zM723 186h12v4h-12zM751 186h8v4h-8zM787 186h4v4h-4zM771 190h8v4h-8zM759 194h12v4h-12zM687 206h8v4h-8zM671 210h8v4h-8zM683 210h16v4h-16zM707 210h4v4h-4zM667 214h48v4h-48zM671 218h44v4h-44zM671 222h40v4h-40zM667 226h4v4h-4zM683 226h24v4h-24zM695 230h16v4h-16zM703 234h8v4h-8zM703 238h4v4h-4zM703 242h4v4h-4zM703 246h4v4h-4zM703 250h4v4h-4zM651 258h8v4h-8zM703 258h4v4h-4zM651 262h8v4h-8zM655 266h8v4h-8zM663 270h4v4h-4zM691 270h4v4h-4z" fill="#0070ff"/>
<path d="M703 110h8v4h-8zM703 114h8v4h-8zM703 118h8v4h-8zM703 122h4v4h-4zM703 126h4v4h-4zM703 130h4v4h-4zM703 134h4v4h-4zM703 138h4v4h-4zM707 142h4v4h-4zM707 146h4v4h-4zM711 150h4v4h-4zM715 154h4v4h-4zM811 162h4v4h-4zM715 166h8v4h-8zM807 166h8v4h-8zM715 170h4v4h-4zM803 170h8v4h-8zM707 174h12v4h-12zM803 174h4v4h-4zM699 178h20v4h-20zM799 178h4v4h-4zM699 182h4v4h-4zM711 182h8v4h-8zM795 182h4v4h-4zM695 186h8v4h-8zM711 186h12v4h-12zM735 186h16v4h-16zM791 186h4v4h-4zM683 190h76v4h-76zM779 190h8v4h-8zM683 194h48v4h-48zM739 194h12v4h-12zM755 194h4v4h-4zM683 198h40v4h-40zM679 202h32v4h-32zM667 206h20v4h-20zM695 206h20v4h-20zM667 210h4v4h-4zM679 210h4v4h-4zM699 210h8v4h-8zM711 210h4v4h-4zM715 214h4v4h-4zM667 218h4v4h-4zM715 218h4v4h-4zM663 222h8v4h-8zM711 222h4v4h-4zM663 226h4v4h-4zM707 226h8v4h-8zM655 230h8v4h-8zM711 230h4v4h-4zM651 234h4v4h-4zM651 238h4v4h-4zM707 238h4v4h-4zM651 242h4v4h-4zM707 242h4v4h-4zM651 250h4v4h-4zM651 254h4v4h-4zM707 254h4v4h-4zM647 258h4v4h-4zM647 262h4v4h-4zM647 266h8v4h-8zM699 266h4v4h-4zM651 270h12v4h-12zM695 270h4v4h-4zM663 274h4v4h-4zM683 274h4v4h-4zM671 278h8v4h-8z" fill="#0080ff"/>
<path d="M695 110h8v4h-8zM699 114h4v4h-4zM699 118h4v4h-4zM699 122h4v4h-4zM699 126h4v4h-4zM699 130h4v4h-4zM699 134h4v4h-4zM703 142h4v4h-4zM707 150h4v4h-4zM715 158h4v4h-4zM715 162h4v4h-4zM711 166h4v4h-4zM703 170h12v4h-12zM811 170h4v4h-4zM699 174h8v4h-8zM807 174h8v4h-8zM695 178h4v4h-4zM803 178h8v4h-8zM691 182h8v4h-8zM799 182h8v4h-8zM683 186h12v4h-12zM795 186h4v4h-4zM679 190h4v4h-4zM787 190h4v4h-4zM663 194h20v4h-20zM731 194h8v4h-8zM751 194h4v4h-4zM771 194h8v4h-8zM663 198h20v4h-20zM723 198h44v4h-44zM663 202h16v4h-16zM711 202h24v4h-24zM739 202h4v4h-4zM663 206h4v4h-4zM715 206h8v4h-8zM663 210h4v4h-4zM715 210h4v4h-4zM663 214h4v4h-4zM719 214h4v4h-4zM663 218h4v4h-4zM659 222h4v4h-4zM715 222h4v4h-4zM659 226h4v4h-4zM715 226h4v4h-4zM711 234h4v4h-4zM711 238h4v4h-4zM651 246h4v4h-4zM707 246h4v4h-4zM707 250h4v4h-4zM647 254h4v4h-4zM707 258h4v4h-4zM643 262h4v4h-4zM643 266h4v4h-4zM643 270h8v4h-8zM647 274h16v4h-16zM667 278h4v4h-4z" fill="#008fff"/>
<path d="M687 110h8v4h-8zM691 114h8v4h-8zM691 118h8v4h-8zM695 122h4v4h-4zM695 126h4v4h-4zM695 130h4v4h-4zM699 138h4v4h-4zM699 142h4v4h-4zM703 146h4v4h-4zM707 154h8v4h-8zM711 158h4v4h-4zM711 162h4v4h-4zM699 166h12v4h-12zM695 170h8v4h-8zM691 174h8v4h-8zM687 178h8v4h-8zM811 178h4v4h-4zM683 182h8v4h-8zM807 182h8v4h-8zM679 186h4v4h-4zM799 186h8v4h-8zM667 190h12v4h-12zM791 190h8v4h-8zM659 194h4v4h-4zM779 194h8v4h-8zM659 198h4v4h-4zM767 198h4v4h-4zM659 202h4v4h-4zM735 202h4v4h-4zM743 202h16v4h-16zM659 206h4v4h-4zM723 206h32v4h-32zM659 210h4v4h-4zM719 210h20v4h-20zM659 214h4v4h-4zM723 214h8v4h-8zM659 218h4v4h-4zM719 218h8v4h-8zM655 222h4v4h-4zM719 222h4v4h-4zM655 226h4v4h-4zM719 226h4v4h-4zM651 230h4v4h-4zM715 230h4v4h-4zM715 234h4v4h-4zM711 242h4v4h-4zM711 246h4v4h-4zM711 250h4v4h-4zM711 254h4v4h-4zM643 258h4v4h-4zM639 262h4v4h-4zM635 266h8v4h-8zM635 270h8v4h-8zM699 270h4v4h-4zM639 274h8v4h-8zM687 274h4v4h-4zM639 278h28v4h-28zM679 278h4v4h-4zM651 282h16v4h-16z" fill="#009fff"/>
<path d="M679 110h8v4h-8zM683 114h8v4h-8zM683 118h8v4h-8zM687 122h8v4h-8zM691 126h4v4h-4zM691 130h4v4h-4zM695 134h4v4h-4zM695 138h4v4h-4zM695 142h4v4h-4zM699 146h4v4h-4zM699 150h8v4h-8zM699 154h8v4h-8zM695 158h16v4h-16zM695 162h16v4h-16zM691 166h8v4h-8zM691 170h4v4h-4zM687 174h4v4h-4zM683 178h4v4h-4zM679 182h4v4h-4zM671 186h8v4h-8zM807 186h8v4h-8zM663 190h4v4h-4zM799 190h12v4h-12zM787 194h12v4h-12zM655 198h4v4h-4zM771 198h12v4h-12zM655 202h4v4h-4zM759 202h8v4h-8zM655 206h4v4h-4zM755 206h4v4h-4zM655 210h4v4h-4zM739 210h16v4h-16zM655 214h4v4h-4zM731 214h12v4h-12zM655 218h4v4h-4zM727 218h8v4h-8zM651 222h4v4h-4zM723 222h8v4h-8zM651 226h4v4h-4zM723 226h4v4h-4zM719 230h4v4h-4zM715 238h4v4h-4zM647 250h4v4h-4zM643 254h4v4h-4zM635 258h8v4h-8zM711 258h4v4h-4zM631 262h8v4h-8zM703 262h4v4h-4zM627 266h8v4h-8zM623 270h12v4h-12zM623 274h16v4h-16zM691 274h4v4h-4zM627 278h12v4h-12zM627 282h24v4h-24zM667 282h4v4h-4zM635 286h28v4h-28z" fill="#00afff"/>
<path d="M667 110h12v4h-12zM671 114h12v4h-12zM675 118h8v4h-8zM679 122h8v4h-8zM683 126h8v4h-8zM687 130h4v4h-4zM691 134h4v4h-4zM691 138h4v4h-4zM691 142h4v4h-4zM691 146h8v4h-8zM691 150h8v4h-8zM691 154h8v4h-8zM691 158h4v4h-4zM691 162h4v4h-4zM687 166h4v4h-4zM687 170h4v4h-4zM683 174h4v4h-4zM679 178h4v4h-4zM675 182h4v4h-4zM663 186h8v4h-8zM659 190h4v4h-4zM811 190h4v4h-4zM655 194h4v4h-4zM799 194h16v4h-16zM651 198h4v4h-4zM783 198h12v4h-12zM647 202h8v4h-8zM767 202h16v4h-16zM643 206h12v4h-12zM759 206h4v4h-4zM643 210h12v4h-12zM755 210h4v4h-4zM647 214h8v4h-8zM743 214h12v4h-12zM647 218h8v4h-8zM735 218h8v4h-8zM647 222h4v4h-4zM731 222h8v4h-8zM647 226h4v4h-4zM727 226h4v4h-4zM647 230h4v4h-4zM723 230h4v4h-4zM647 234h4v4h-4zM719 234h4v4h-4zM647 238h4v4h-4zM719 238h4v4h-4zM715 242h4v4h-4zM647 246h4v4h-4zM715 246h4v4h-4zM715 250h4v4h-4zM631 254h12v4h-12zM715 254h4v4h-4zM615 258h20v4h-20zM611 262h20v4h-20zM707 262h4v4h-4zM607 266h20v4h-20zM607 270h16v4h-16zM607 274h16v4h-16zM695 274h4v4h-4zM607 278h20v4h-20zM683 278h4v4h-4zM607 282h20v4h-20zM671 282h8v4h-8zM607 286h28v4h-28zM663 286h4v4h-4zM607 290h52v4h-52zM607 294h40v4h-40zM619 298h16v4h-16z" fill="#00bfff"/>
<path d="M647 110h20v4h-20zM651 114h20v4h-20zM659 118h16v4h-16zM663 122h16v4h-16zM671 126h12v4h-12zM675 130h12v4h-12zM683 134h8v4h-8zM687 138h4v4h-4zM687 142h4v4h-4zM687 146h4v4h-4zM687 150h4v4h-4zM687 154h4v4h-4zM687 158h4v4h-4zM687 162h4v4h-4zM683 170h4v4h-4zM671 182h4v4h-4zM659 186h4v4h-4zM655 190h4v4h-4zM651 194h4v4h-4zM647 198h4v4h-4zM795 198h20v4h-20zM643 202h4v4h-4zM783 202h4v4h-4zM763 206h4v4h-4zM771 206h8v4h-8zM643 214h4v4h-4zM755 214h4v4h-4zM743 218h8v4h-8zM739 222h8v4h-8zM731 226h8v4h-8zM727 230h8v4h-8zM723 234h8v4h-8zM723 238h4v4h-4zM647 242h4v4h-4zM719 242h4v4h-4zM607 246h4v4h-4zM719 246h4v4h-4zM607 250h32v4h-32zM643 250h4v4h-4zM607 254h24v4h-24zM607 258h8v4h-8zM715 258h4v4h-4zM607 262h4v4h-4zM711 262h4v4h-4zM703 266h4v4h-4zM703 270h4v4h-4zM699 274h4v4h-4zM679 282h4v4h-4zM667 286h4v4h-4zM659 290h4v4h-4zM647 294h8v4h-8zM607 298h12v4h-12zM635 298h16v4h-16zM607 302h40v4h-40zM607 306h36v4h-36zM607 310h28v4h-28zM607 314h24v4h-24zM607 318h16v4h-16z" fill="#00cfff"/>
<path d="M607 110h40v4h-40zM607 114h44v4h-44zM607 118h52v4h-52zM639 122h24v4h-24zM651 126h20v4h-20zM659 130h16v4h-16zM671 134h12v4h-12zM679 138h8v4h-8zM679 142h8v4h-8zM683 146h4v4h-4zM683 150h4v4h-4zM683 154h4v4h-4zM683 158h4v4h-4zM683 162h4v4h-4zM611 166h8v4h-8zM683 166h4v4h-4zM611 170h8v4h-8zM679 174h4v4h-4zM675 178h4v4h-4zM659 182h12v4h-12zM655 186h4v4h-4zM651 190h4v4h-4zM647 194h4v4h-4zM643 198h4v4h-4zM787 202h28v4h-28zM639 206h4v4h-4zM767 206h4v4h-4zM779 206h4v4h-4zM639 210h4v4h-4zM759 210h4v4h-4zM643 218h4v4h-4zM751 218h8v4h-8zM643 222h4v4h-4zM747 222h4v4h-4zM643 226h4v4h-4zM739 226h8v4h-8zM735 230h8v4h-8zM607 234h4v4h-4zM731 234h8v4h-8zM607 238h12v4h-12zM727 238h12v4h-12zM607 242h20v4h-20zM723 242h8v4h-8zM611 246h28v4h-28zM723 246h4v4h-4zM639 250h4v4h-4zM719 250h4v4h-4zM719 254h4v4h-4zM715 262h4v4h-4zM707 266h8v4h-8zM671 286h4v4h-4zM663 290h4v4h-4zM655 294h4v4h-4zM651 298h4v4h-4zM647 302h8v4h-8zM643 306h8v4h-8zM635 310h12v4h-12zM631 314h16v4h-16zM623 318h20v4h-20z" fill="#00dfff"/>
<path d="M607 122h32v4h-32zM607 126h44v4h-44zM607 130h52v4h-52zM607 134h16v4h-16zM651 134h20v4h-20zM607 138h8v4h-8zM663 138h16v4h-16zM607 142h4v4h-4zM675 142h4v4h-4zM679 146h4v4h-4zM679 150h4v4h-4zM679 154h4v4h-4zM607 158h12v4h-12zM679 158h4v4h-4zM607 162h16v4h-16zM679 162h4v4h-4zM607 166h4v4h-4zM619 166h4v4h-4zM607 170h4v4h-4zM619 170h4v4h-4zM679 170h4v4h-4zM671 178h4v4h-4zM655 182h4v4h-4zM651 186h4v4h-4zM639 202h4v4h-4zM783 206h32v4h-32zM763 210h4v4h-4zM759 214h4v4h-4zM607 222h4v4h-4zM751 222h8v4h-8zM607 226h8v4h-8zM747 226h8v4h-8zM607 230h12v4h-12zM643 230h4v4h-4zM743 230h8v4h-8zM611 234h12v4h-12zM643 234h4v4h-4zM739 234h12v4h-12zM619 238h12v4h-12zM643 238h4v4h-4zM739 238h4v4h-4zM627 242h20v4h-20zM731 242h8v4h-8zM639 246h8v4h-8zM727 246h4v4h-4zM723 250h4v4h-4zM719 258h4v4h-4zM707 270h4v4h-4zM703 274h4v4h-4zM687 278h4v4h-4zM695 278h4v4h-4zM683 282h4v4h-4zM675 286h8v4h-8zM667 290h12v4h-12zM659 294h4v4h-4zM655 298h4v4h-4zM655 302h4v4h-4zM651 306h4v4h-4zM647 310h8v4h-8zM647 314h8v4h-8zM643 318h12v4h-12z" fill="#00efff"/>
<path d="M623 134h28v4h-28zM615 138h48v4h-48zM611 142h20v4h-20zM655 142h20v4h-20zM607 146h20v4h-20zM663 146h16v4h-16zM607 150h16v4h-16zM675 150h4v4h-4zM607 154h16v4h-16zM675 154h4v4h-4zM619 158h4v4h-4zM675 158h4v4h-4zM679 166h4v4h-4zM607 174h12v4h-12zM675 174h4v4h-4zM655 178h16v4h-16zM651 182h4v4h-4zM647 190h4v4h-4zM643 194h4v4h-4zM639 198h4v4h-4zM607 202h4v4h-4zM607 206h4v4h-4zM607 210h8v4h-8zM775 210h4v4h-4zM795 210h20v4h-20zM607 214h8v4h-8zM639 214h4v4h-4zM763 214h4v4h-4zM811 214h4v4h-4zM607 218h12v4h-12zM639 218h4v4h-4zM759 218h4v4h-4zM611 222h8v4h-8zM759 222h4v4h-4zM615 226h8v4h-8zM755 226h4v4h-4zM619 230h8v4h-8zM751 230h4v4h-4zM623 234h8v4h-8zM751 234h4v4h-4zM631 238h4v4h-4zM639 238h4v4h-4zM743 238h12v4h-12zM739 242h4v4h-4zM731 246h8v4h-8zM715 266h4v4h-4zM711 270h4v4h-4zM691 278h4v4h-4zM699 278h4v4h-4zM683 286h4v4h-4zM679 290h8v4h-8zM663 294h4v4h-4zM671 294h8v4h-8zM659 298h4v4h-4zM659 302h4v4h-4zM655 306h8v4h-8zM655 310h8v4h-8zM655 314h4v4h-4zM655 318h4v4h-4z" fill="#00ffff"/>
<path d="M631 142h24v4h-24zM627 146h36v4h-36zM623 150h8v4h-8zM663 150h12v4h-12zM623 154h8v4h-8zM667 154h8v4h-8zM623 158h4v4h-4zM671 158h4v4h-4zM623 162h4v4h-4zM675 162h4v4h-4zM623 166h4v4h-4zM619 174h4v4h-4zM655 174h8v4h-8zM607 178h8v4h-8zM651 178h4v4h-4zM607 182h4v4h-4zM607 186h4v4h-4zM647 186h4v4h-4zM607 190h4v4h-4zM643 190h4v4h-4zM607 194h8v4h-8zM639 194h4v4h-4zM607 198h12v4h-12zM611 202h8v4h-8zM611 206h8v4h-8zM615 210h4v4h-4zM767 210h8v4h-8zM779 210h4v4h-4zM787 210h8v4h-8zM615 214h8v4h-8zM795 214h16v4h-16zM619 218h4v4h-4zM763 218h4v4h-4zM807 218h8v4h-8zM619 222h8v4h-8zM639 222h4v4h-4zM763 222h4v4h-4zM623 226h8v4h-8zM639 226h4v4h-4zM759 226h4v4h-4zM627 230h8v4h-8zM639 230h4v4h-4zM755 230h4v4h-4zM631 234h12v4h-12zM755 234h4v4h-4zM635 238h4v4h-4zM755 238h4v4h-4zM743 242h8v4h-8zM739 246h4v4h-4zM727 250h4v4h-4zM723 254h4v4h-4zM719 262h4v4h-4zM687 282h4v4h-4zM695 282h4v4h-4zM687 286h4v4h-4zM687 290h4v4h-4zM667 294h4v4h-4zM679 294h4v4h-4zM663 298h8v4h-8zM663 302h4v4h-4zM663 306h4v4h-4zM663 310h4v4h-4zM659 314h8v4h-8zM659 318h8v4h-8z" fill="#10ffef"/>
<path d="M631 150h32v4h-32zM631 154h4v4h-4zM663 154h4v4h-4zM627 158h4v4h-4zM667 158h4v4h-4zM627 162h4v4h-4zM627 166h4v4h-4zM675 166h4v4h-4zM623 170h4v4h-4zM655 170h8v4h-8zM675 170h4v4h-4zM651 174h4v4h-4zM663 174h12v4h-12zM615 178h4v4h-4zM647 178h4v4h-4zM611 182h8v4h-8zM647 182h4v4h-4zM611 186h8v4h-8zM643 186h4v4h-4zM611 190h12v4h-12zM639 190h4v4h-4zM615 194h12v4h-12zM635 194h4v4h-4zM619 198h8v4h-8zM635 198h4v4h-4zM619 202h8v4h-8zM635 202h4v4h-4zM619 206h4v4h-4zM635 206h4v4h-4zM619 210h8v4h-8zM635 210h4v4h-4zM783 210h4v4h-4zM623 214h4v4h-4zM767 214h12v4h-12zM791 214h4v4h-4zM623 218h8v4h-8zM767 218h8v4h-8zM795 218h12v4h-12zM627 222h4v4h-4zM767 222h8v4h-8zM807 222h8v4h-8zM631 226h4v4h-4zM763 226h8v4h-8zM635 230h4v4h-4zM759 230h8v4h-8zM759 234h4v4h-4zM759 238h4v4h-4zM751 242h4v4h-4zM743 246h4v4h-4zM731 250h12v4h-12zM723 258h4v4h-4zM707 274h4v4h-4zM691 282h4v4h-4zM691 286h8v4h-8zM691 290h4v4h-4zM671 298h4v4h-4zM667 302h8v4h-8zM667 306h4v4h-4zM667 310h4v4h-4zM667 314h4v4h-4zM667 318h4v4h-4z" fill="#20ffdf"/>
<path d="M635 154h20v4h-20zM659 154h4v4h-4zM631 158h8v4h-8zM663 158h4v4h-4zM631 162h4v4h-4zM667 162h8v4h-8zM631 166h4v4h-4zM651 166h4v4h-4zM663 166h4v4h-4zM627 170h4v4h-4zM647 170h8v4h-8zM663 170h4v4h-4zM643 174h8v4h-8zM619 178h4v4h-4zM619 182h8v4h-8zM643 182h4v4h-4zM619 186h8v4h-8zM623 190h4v4h-4zM635 190h4v4h-4zM627 194h8v4h-8zM627 198h8v4h-8zM627 202h4v4h-4zM623 206h4v4h-4zM627 210h8v4h-8zM627 214h4v4h-4zM635 214h4v4h-4zM779 214h4v4h-4zM787 214h4v4h-4zM631 218h8v4h-8zM775 218h4v4h-4zM787 218h8v4h-8zM631 222h8v4h-8zM775 222h4v4h-4zM791 222h16v4h-16zM635 226h4v4h-4zM771 226h4v4h-4zM807 226h8v4h-8zM767 230h8v4h-8zM811 230h4v4h-4zM763 234h12v4h-12zM763 238h8v4h-8zM755 242h8v4h-8zM747 246h4v4h-4zM743 250h4v4h-4zM739 254h4v4h-4zM723 262h4v4h-4zM719 266h4v4h-4zM715 270h4v4h-4zM703 278h4v4h-4zM699 282h4v4h-4zM695 290h4v4h-4zM683 294h8v4h-8zM675 298h4v4h-4zM671 306h4v4h-4zM671 318h4v4h-4z" fill="#30ffcf"/>
<path d="M655 154h4v4h-4zM639 158h16v4h-16zM659 158h4v4h-4zM635 162h4v4h-4zM647 162h8v4h-8zM659 162h8v4h-8zM635 166h4v4h-4zM647 166h4v4h-4zM655 166h8v4h-8zM667 166h8v4h-8zM631 170h16v4h-16zM667 170h8v4h-8zM623 174h4v4h-4zM631 174h12v4h-12zM623 178h12v4h-12zM643 178h4v4h-4zM627 182h4v4h-4zM639 182h4v4h-4zM627 186h4v4h-4zM635 186h8v4h-8zM627 190h8v4h-8zM631 202h4v4h-4zM627 206h8v4h-8zM631 214h4v4h-4zM783 214h4v4h-4zM779 218h8v4h-8zM779 222h12v4h-12zM775 226h32v4h-32zM775 230h8v4h-8zM807 230h4v4h-4zM775 234h8v4h-8zM811 234h4v4h-4zM771 238h8v4h-8zM763 242h12v4h-12zM727 254h12v4h-12zM743 254h4v4h-4zM735 258h8v4h-8zM727 262h4v4h-4zM711 274h4v4h-4zM699 286h4v4h-4zM691 294h4v4h-4zM671 310h4v4h-4zM671 314h4v4h-4zM675 318h4v4h-4z" fill="#40ffbf"/>
<path d="M655 158h4v4h-4zM639 162h8v4h-8zM655 162h4v4h-4zM639 166h8v4h-8zM627 174h4v4h-4zM635 178h8v4h-8zM631 182h8v4h-8zM631 186h4v4h-4zM783 230h8v4h-8zM799 230h8v4h-8zM783 234h4v4h-4zM807 234h4v4h-4zM779 238h4v4h-4zM807 238h8v4h-8zM775 242h4v4h-4zM811 242h4v4h-4zM751 246h4v4h-4zM759 246h12v4h-12zM811 246h4v4h-4zM747 250h4v4h-4zM727 258h8v4h-8zM743 258h4v4h-4zM731 262h12v4h-12zM723 266h4v4h-4zM699 290h4v4h-4zM679 298h4v4h-4zM675 302h4v4h-4zM675 314h4v4h-4zM679 318h4v4h-4z" fill="#50ffaf"/>
<path d="M791 230h8v4h-8zM803 234h4v4h-4zM783 238h4v4h-4zM803 238h4v4h-4zM779 242h4v4h-4zM803 242h8v4h-8zM755 246h4v4h-4zM771 246h12v4h-12zM807 246h4v4h-4zM807 250h8v4h-8zM747 254h4v4h-4zM811 254h4v4h-4zM747 258h4v4h-4zM743 262h8v4h-8zM727 266h12v4h-12zM719 270h4v4h-4zM715 274h4v4h-4zM703 282h4v4h-4zM695 294h4v4h-4zM683 298h8v4h-8zM675 310h4v4h-4zM679 314h4v4h-4zM683 318h12v4h-12z" fill="#60ff9f"/>
<path d="M787 234h4v4h-4zM799 234h4v4h-4zM799 238h4v4h-4zM783 242h4v4h-4zM799 242h4v4h-4zM783 246h8v4h-8zM799 246h8v4h-8zM751 250h4v4h-4zM759 250h20v4h-20zM799 250h8v4h-8zM803 254h8v4h-8zM751 258h4v4h-4zM807 258h8v4h-8zM751 262h8v4h-8zM811 262h4v4h-4zM739 266h16v4h-16zM707 278h4v4h-4zM703 286h4v4h-4zM703 290h4v4h-4zM699 294h4v4h-4zM691 298h4v4h-4zM675 306h4v4h-4zM683 314h12v4h-12zM695 318h4v4h-4z" fill="#70ff8f"/>
<path d="M791 234h8v4h-8zM787 238h4v4h-4zM795 238h4v4h-4zM787 242h12v4h-12zM791 246h8v4h-8zM755 250h4v4h-4zM779 250h20v4h-20zM751 254h16v4h-16zM795 254h8v4h-8zM755 258h8v4h-8zM799 258h8v4h-8zM759 262h4v4h-4zM803 262h8v4h-8zM755 266h8v4h-8zM807 266h8v4h-8zM723 270h4v4h-4zM731 270h8v4h-8zM747 270h8v4h-8zM811 270h4v4h-4zM711 278h8v4h-8zM707 290h4v4h-4zM703 294h8v4h-8zM687 302h4v4h-4zM679 310h16v4h-16zM695 314h4v4h-4zM699 318h8v4h-8z" fill="#80ff80"/>
<path d="M791 238h4v4h-4zM767 254h28v4h-28zM763 258h4v4h-4zM779 258h4v4h-4zM795 258h4v4h-4zM763 262h4v4h-4zM795 262h8v4h-8zM763 266h4v4h-4zM795 266h12v4h-12zM727 270h4v4h-4zM739 270h8v4h-8zM755 270h12v4h-12zM799 270h12v4h-12zM719 274h4v4h-4zM807 274h8v4h-8zM811 278h4v4h-4zM715 282h4v4h-4zM715 286h8v4h-8zM711 290h12v4h-12zM711 294h8v4h-8zM695 298h4v4h-4zM679 302h8v4h-8zM691 302h4v4h-4zM679 306h4v4h-4zM687 306h8v4h-8zM699 314h8v4h-8zM707 318h8v4h-8zM739 318h8v4h-8z" fill="#8fff70"/>
<path d="M767 258h12v4h-12zM783 258h12v4h-12zM767 262h28v4h-28zM767 266h8v4h-8zM783 266h12v4h-12zM767 270h8v4h-8zM783 270h16v4h-16zM731 274h4v4h-4zM747 274h28v4h-28zM795 274h12v4h-12zM719 278h4v4h-4zM767 278h4v4h-4zM803 278h8v4h-8zM707 282h4v4h-4zM719 282h4v4h-4zM807 282h8v4h-8zM707 286h4v4h-4zM723 286h4v4h-4zM811 286h4v4h-4zM723 290h4v4h-4zM719 294h4v4h-4zM703 298h12v4h-12zM683 306h4v4h-4zM695 310h4v4h-4zM707 310h4v4h-4zM707 314h4v4h-4zM735 314h20v4h-20zM715 318h4v4h-4zM727 318h12v4h-12zM747 318h12v4h-12z" fill="#9fff60"/>
<path d="M775 266h8v4h-8zM775 270h8v4h-8zM735 274h4v4h-4zM743 274h4v4h-4zM775 274h20v4h-20zM731 278h4v4h-4zM751 278h16v4h-16zM771 278h32v4h-32zM711 282h4v4h-4zM723 282h12v4h-12zM767 282h16v4h-16zM799 282h8v4h-8zM711 286h4v4h-4zM727 286h4v4h-4zM803 286h8v4h-8zM727 290h4v4h-4zM807 290h8v4h-8zM723 294h4v4h-4zM811 294h4v4h-4zM699 298h4v4h-4zM715 298h4v4h-4zM707 302h8v4h-8zM695 306h4v4h-4zM707 306h4v4h-4zM743 306h8v4h-8zM699 310h8v4h-8zM711 310h4v4h-4zM731 310h28v4h-28zM711 314h4v4h-4zM727 314h8v4h-8zM755 314h8v4h-8zM811 314h4v4h-4zM719 318h8v4h-8zM759 318h16v4h-16zM807 318h8v4h-8z" fill="#afff50"/>
<path d="M723 274h8v4h-8zM739 274h4v4h-4zM723 278h8v4h-8zM747 278h4v4h-4zM747 282h4v4h-4zM759 282h8v4h-8zM783 282h16v4h-16zM731 286h8v4h-8zM767 286h36v4h-36zM799 290h8v4h-8zM727 294h4v4h-4zM807 294h4v4h-4zM719 298h8v4h-8zM747 298h4v4h-4zM807 298h8v4h-8zM695 302h4v4h-4zM703 302h4v4h-4zM743 302h12v4h-12zM811 302h4v4h-4zM703 306h4v4h-4zM711 306h4v4h-4zM731 306h12v4h-12zM751 306h8v4h-8zM811 306h4v4h-4zM727 310h4v4h-4zM759 310h8v4h-8zM807 310h8v4h-8zM715 314h12v4h-12zM763 314h16v4h-16zM803 314h8v4h-8zM775 318h32v4h-32z" fill="#bfff40"/>
<path d="M735 278h4v4h-4zM743 278h4v4h-4zM735 282h4v4h-4zM743 282h4v4h-4zM751 282h8v4h-8zM739 286h12v4h-12zM759 286h8v4h-8zM731 290h20v4h-20zM763 290h8v4h-8zM791 290h8v4h-8zM743 294h12v4h-12zM799 294h8v4h-8zM727 298h4v4h-4zM743 298h4v4h-4zM751 298h8v4h-8zM803 298h4v4h-4zM699 302h4v4h-4zM715 302h4v4h-4zM723 302h20v4h-20zM755 302h8v4h-8zM807 302h4v4h-4zM699 306h4v4h-4zM727 306h4v4h-4zM759 306h8v4h-8zM807 306h4v4h-4zM715 310h4v4h-4zM767 310h24v4h-24zM803 310h4v4h-4zM779 314h24v4h-24z" fill="#cfff30"/>
<path d="M739 278h4v4h-4zM739 282h4v4h-4zM751 286h8v4h-8zM751 290h12v4h-12zM771 290h20v4h-20zM731 294h4v4h-4zM739 294h4v4h-4zM755 294h16v4h-16zM795 294h4v4h-4zM731 298h4v4h-4zM739 298h4v4h-4zM759 298h12v4h-12zM795 298h8v4h-8zM719 302h4v4h-4zM763 302h8v4h-8zM795 302h12v4h-12zM715 306h4v4h-4zM723 306h4v4h-4zM767 306h40v4h-40zM719 310h8v4h-8zM791 310h12v4h-12z" fill="#dfff20"/>
<path d="M735 294h4v4h-4zM771 294h24v4h-24zM735 298h4v4h-4zM771 298h4v4h-4zM779 298h8v4h-8zM791 298h4v4h-4zM771 302h24v4h-24zM719 306h4v4h-4z" fill="#efff10"/>
<path d="M775 298h4v4h-4zM787 298h4v4h-4z" fill="#ffff00"/>
</g></g>
<clipPath id="clip01"><rect x="616.6" y="96.0" width="234.0" height="213.3"/></clipPath>
<g clip-path="url(#clip01)">
<path d="M611.1 96.5 L692.0 96.5 L692.0 92.9 L693.3 93.0 L694.1 93.6 L695.0 98.6 L698.0 99.9 L700.5 101.1 L703.3 100.2 L705.9 100.2 L708.1 101.8 L709.6 103.7 L712.5 104.1 L715.0 105.4 L718.2 104.1 L719.1 104.0 L721.9 105.1 L724.5 105.1 L726.0 106.0 L727.6 106.0 M727.6 106.0 L725.1 107.4 L722.6 108.4 L719.4 110.7 L717.5 112.1 L715.0 114.4 L713.1 115.8 L711.2 117.7 L710.9 118.1 L712.5 118.1 L714.4 117.7 L716.6 116.7 L718.5 115.8 L719.7 117.2 L719.1 119.0 L721.6 119.0 L721.9 119.3 M721.9 119.3 L724.5 118.9 L727.0 117.0 L729.5 116.3 L731.4 114.9 L733.6 113.0 L735.8 111.2 L738.0 111.0 L735.5 113.5 L735.8 115.8 L737.7 116.3 L739.6 120.0 L742.1 120.0 L743.4 120.1 L745.9 120.7 L747.8 119.5 L749.7 118.6 L752.8 117.7 L756.0 117.7 L756.0 120.0 L758.5 120.4 L759.7 120.0 L761.6 121.8 L762.3 123.2 L762.9 124.1 M762.9 124.1 L760.4 124.7 L757.8 125.7 L755.3 124.5 L752.8 123.6 L750.3 125.0 L747.8 125.9 L745.9 127.7 L744.3 125.9 L742.7 127.2 L741.1 129.5 L739.6 132.6 M739.6 132.6 L738.6 130.4 L738.0 128.1 L736.4 126.3 L734.5 125.0 L732.6 124.5 L730.1 123.6 L727.0 122.7 L723.8 121.8 L721.9 119.3 M739.6 132.6 L738.6 128.1 L738.3 125.9 M739.6 132.6 L738.9 137.9 L738.9 146.7 L739.6 155.3 L739.9 159.6 L740.1 162.1 M740.1 162.1 L742.1 162.8 L744.5 161.6 M744.5 161.6 L746.5 158.7 L748.1 155.3 L748.4 152.7 L748.1 149.3 L746.5 145.8 L747.1 143.2 L748.1 140.1 L749.0 137.1 L750.3 133.9 L752.2 132.2 L752.8 135.3 L753.7 133.5 L754.7 130.8 L755.6 129.5 L756.3 126.8 L757.7 126.5 L759.7 127.7 L761.6 129.0 L764.8 129.9 L766.3 132.6 L766.7 135.7 L766.3 139.3 L764.8 141.5 L762.9 143.7 L763.2 145.4 L765.1 144.5 L766.7 142.8 L768.9 141.9 L770.4 145.0 L771.7 148.4 L772.0 151.0 L771.4 154.5 L769.5 156.2 L767.9 157.4 L767.3 160.0 L765.7 161.9 M744.5 161.6 L750.9 161.6 L757.2 162.1 L765.7 161.9 M765.7 161.9 L767.9 163.0 L769.8 164.2 L771.7 164.6 L774.9 163.8 L776.7 163.8 L779.3 162.1 L781.2 161.3 L784.2 159.7 L786.8 158.3 L789.0 157.3 L791.9 155.3 L794.4 152.3 L793.8 150.2 L793.4 148.9 L796.3 148.0 L800.1 147.8 L803.2 148.9 L806.4 148.7 L808.9 147.6 L811.4 146.4 L811.1 144.1 L811.4 142.3 L810.4 141.0 L813.9 138.8 L817.1 135.3 L819.6 133.5 L820.8 133.5 L829.3 133.4 L841.0 133.4 L843.5 130.8 L845.4 129.9 L847.3 126.8 L849.2 123.6 L850.5 120.9 M635.9 96.5 L635.9 168.0 M611.1 133.5 L635.9 133.5 M635.9 125.1 L683.1 125.1 M611.1 168.0 L648.5 168.0 L648.5 200.4 M611.1 200.4 L695.3 200.4 M635.9 151.0 L670.9 151.0 L674.1 152.3 L677.2 152.3 L680.4 153.2 L682.9 155.3 L683.8 155.3 M648.5 176.3 L691.1 176.3 M642.6 200.4 L642.6 204.4 L642.3 238.7 L619.7 238.7 L611.1 238.7 M642.3 204.4 L661.5 204.4 L661.5 219.4 L664.0 220.8 L666.5 222.1 L670.3 222.5 L673.4 223.7 L676.6 224.4 L679.1 225.5 L681.6 225.2 L684.1 225.5 L687.3 224.8 L689.8 224.6 L693.0 224.8 L696.2 226.4 L699.0 227.1 L699.0 231.1 M696.2 226.4 L696.5 212.9 L695.3 204.4 L695.3 200.4 L695.4 183.6 L693.6 181.2 L692.3 179.6 L691.1 176.3 L689.8 173.8 L687.9 171.3 L687.3 168.0 L687.3 163.8 L686.0 159.6 L684.8 157.0 L683.8 155.3 L682.9 151.0 L683.8 146.7 L683.8 130.8 L683.1 125.1 L681.9 120.9 L681.6 116.3 L681.3 110.7 L680.4 106.0 L679.4 101.3 L678.9 96.5 M695.3 204.4 L723.5 204.4 L722.2 207.5 L722.1 208.3 L726.2 208.3 M699.0 231.1 L717.1 231.2 M699.0 231.1 L699.0 238.7 L700.5 241.6 L701.8 244.6 L702.1 247.5 L701.1 251.2 L700.3 255.6 M717.1 231.2 L717.5 234.2 L718.2 237.2 L715.6 239.4 L715.0 242.4 L714.4 244.6 L714.1 246.1 L726.2 246.1 L725.7 248.3 L726.3 250.1 L727.0 251.9 M717.1 231.2 L717.5 227.4 L718.5 224.4 L720.7 220.6 L721.9 217.5 L723.8 215.2 L724.8 212.1 L726.3 209.0 L727.0 206.7 L727.6 204.4 M683.8 146.7 L716.8 146.7 M688.1 171.5 L713.6 171.2 L715.5 173.1 M715.5 173.1 L716.9 170.5 L717.5 168.0 L720.0 164.2 L722.6 163.0 L723.2 160.8 L721.9 157.9 L720.4 155.3 L718.2 153.6 L717.2 150.2 L716.8 146.7 M715.5 173.1 L715.3 176.3 L716.9 179.6 L719.1 182.0 L720.7 183.6 L723.2 185.7 L723.2 188.5 L722.6 190.9 L725.1 193.3 L727.0 196.5 L727.9 198.8 L729.5 200.4 L729.8 202.0 L728.9 203.6 L727.6 204.4 M716.8 146.7 L716.3 143.2 L713.1 140.6 L710.0 137.9 L706.8 135.7 L707.1 132.6 L707.4 129.0 L710.0 126.3 L710.0 123.6 L710.0 118.6 L710.9 118.1 M720.4 155.3 L738.3 155.4 M740.1 162.1 L740.0 181.2 L739.6 183.6 L739.9 186.1 L737.7 190.1 L736.7 194.1 M729.5 200.4 L732.0 199.2 L734.2 199.6 L736.4 196.9 L736.7 194.1 L739.6 193.3 L742.7 194.1 L745.9 193.3 L748.4 192.1 L750.3 191.3 L751.2 190.2 L753.4 188.5 L754.7 186.9 L757.1 183.6 L759.7 184.4 L762.3 186.2 L764.8 187.3 L766.7 187.7 L769.8 187.7 L771.1 189.3 L773.6 187.7 L774.9 185.2 L776.4 184.0 L778.0 182.0 L780.5 180.4 L782.1 178.7 L783.4 175.4 L783.7 173.0 L784.2 171.0 M757.1 162.1 L757.1 183.6 M784.2 171.0 L784.2 159.7 M771.1 189.3 L771.7 192.5 L773.6 194.9 L775.2 196.1 L772.3 198.1 L769.2 200.4 L766.7 202.0 L764.3 203.6 M727.6 204.4 L736.6 204.4 L736.6 202.9 L743.4 203.2 L749.7 203.3 L756.0 203.4 L764.3 203.6 L776.9 203.7 L787.5 204.0 L800.1 204.0 L807.0 204.0 L813.3 204.0 M776.9 203.7 L775.5 205.9 L773.6 207.1 L771.1 208.7 L768.6 210.2 L765.4 211.8 L762.9 212.1 L760.4 214.3 L760.2 216.1 M722.6 216.0 L735.8 216.0 L752.2 216.2 L760.2 216.1 L767.9 216.1 M735.8 216.0 L735.2 223.7 L734.1 239.4 L734.5 246.1 L734.5 250.8 M752.2 216.2 L753.4 223.7 L754.7 232.0 L756.0 235.0 L755.6 238.7 L755.6 246.1 M740.2 251.2 L739.6 246.1 L755.6 246.1 M755.6 246.1 L756.8 248.3 L765.4 248.6 L773.6 249.2 L774.5 247.5 L775.5 247.5 L778.3 248.1 M767.9 216.1 L769.8 218.3 L771.1 220.6 L773.0 223.7 L774.9 226.7 L776.1 229.7 L778.0 232.0 L779.3 235.0 L780.5 237.2 L782.1 238.3 M767.9 216.1 L772.3 214.5 L777.4 214.7 L780.8 214.9 L781.8 215.6 L782.4 217.5 L787.5 217.5 L789.3 217.5 L793.1 221.4 L796.6 224.8 M775.2 196.1 L777.4 198.5 L779.9 198.5 L782.4 197.3 L784.3 196.9 L785.6 194.9 L787.5 192.9 L789.3 190.1 L790.6 188.5 L792.2 186.9 L793.8 185.7 L795.6 184.0 L797.5 182.8 L799.4 182.8 L801.3 182.4 L801.9 181.8 M801.9 181.8 L800.1 180.0 L798.2 179.6 L796.3 180.0 L793.8 180.8 L790.7 182.8 L790.7 178.6 M784.2 171.0 L784.2 178.6 L790.7 178.6 L806.4 178.6 L813.9 178.6 L815.2 177.7 L816.4 177.9 M813.9 178.6 L814.0 188.8 L818.6 188.9 M801.9 181.8 L803.5 182.8 L805.7 184.8 L806.0 186.1 L805.7 187.7 L804.8 189.3 L806.4 190.1 L808.9 191.3 L810.8 192.5 M814.9 192.9 L817.4 192.2 M816.4 177.9 L818.3 176.7 L819.6 175.4 L820.5 174.6 L819.0 173.0 L817.7 171.3 L818.3 168.8 L819.3 167.1 L820.8 165.1 M789.0 157.3 L789.0 159.6 L816.7 159.6 L817.7 160.8 L818.6 163.0 L820.8 165.1 L823.4 166.7 L825.9 168.0 L825.6 170.1 M827.5 168.2 L828.4 166.3 L828.3 159.1 L829.9 153.2 L829.8 145.8 L829.0 140.6 L829.3 133.4 M828.3 159.1 L839.1 159.4 L841.8 159.4 L843.4 163.8 M839.1 159.4 L838.8 165.5 M829.9 153.2 L835.0 153.3 L842.3 153.6 L845.4 152.1 M835.0 153.3 L835.3 149.3 L836.0 145.8 L837.9 139.7 L840.4 136.2 L841.0 133.4 M846.0 150.3 L844.3 146.7 L843.8 137.9 L843.6 130.8 M847.3 148.4 L846.0 150.3 L845.4 152.1 L846.7 154.0 L844.8 154.9 L844.2 157.0 L844.8 157.9 L846.7 160.0 L847.0 161.7 L844.8 163.0 L843.5 163.8 L842.3 163.0 L841.6 164.2 L838.8 165.5 L836.0 165.7 L832.2 165.9 L829.7 167.1 L827.5 168.2 L826.5 169.2 L825.6 170.1 L824.9 171.3 M825.3 171.3 L827.8 171.5 L831.6 170.5 L834.7 169.2 L838.7 167.4 L836.0 168.0 L834.1 168.2 L830.3 168.7 L827.8 168.8 L826.5 169.7 L825.3 171.3 M824.9 171.3 L825.3 173.0 L824.9 176.3 L824.3 178.7 L822.7 181.6 L820.8 183.6 L819.3 185.0 L819.3 183.2 L817.7 182.0 L815.8 180.4 L815.5 179.1 L816.4 177.9 M815.5 179.1 L816.1 181.6 L817.1 184.0 L818.3 186.1 L818.6 188.9 L818.0 190.9 L817.4 192.2 L816.1 194.5 L814.9 196.9 L813.3 199.2 L812.7 198.1 L813.0 195.7 L813.6 192.9 L812.3 190.9 L811.4 188.1 L812.0 185.2 L811.1 183.2 L812.0 181.2 L812.3 180.0 M812.3 180.0 L810.4 181.6 L809.2 182.8 L810.1 184.8 L809.5 186.9 L809.8 189.7 L810.8 192.1 L809.5 193.7 L810.8 196.1 L809.8 198.1 L810.8 200.4 L812.7 201.1 L813.3 204.0 M810.8 192.1 L807.0 190.9 L808.9 191.3 M809.8 198.1 L807.6 196.9 M810.8 196.1 L807.3 194.1 M810.8 200.4 L808.2 199.6 L810.8 200.8 M809.8 189.7 L807.9 188.5 M813.0 195.7 L811.4 193.3 L813.3 192.5 M811.4 188.1 L813.3 189.7 L810.8 190.1 M813.3 204.0 L814.5 206.7 L815.8 209.8 L816.1 212.9 L815.8 214.1 L813.9 214.9 L812.0 216.0 L809.5 218.3 L807.0 218.3 L803.8 219.8 L801.6 222.1 L800.4 224.4 L798.8 224.3 L796.6 224.8 M813.3 204.0 L812.7 205.9 L809.5 208.3 L812.7 208.7 L813.6 211.4 L812.7 212.9 L808.9 213.7 L809.5 215.2 L806.7 216.0 L808.9 217.2 M809.5 208.3 L807.0 207.9 L808.2 209.0 M812.7 212.9 L807.6 212.5 M796.6 224.8 L793.8 227.4 L792.5 229.7 L790.6 231.2 L788.1 233.1 L786.2 234.6 L784.6 236.1 L783.0 237.2 L782.1 238.3 L780.5 240.5 L779.9 242.4 L779.3 245.0 L778.3 248.1 L779.3 253.4 L780.9 262.2 L784.0 269.2 L786.5 275.0 L786.2 281.9 L785.1 287.7 L787.2 293.8 L784.3 291.0 L780.9 287.7 L776.6 280.9 L773.0 274.9 L769.0 268.2 L769.8 259.7 L766.7 256.3 L762.3 252.7 L759.7 253.7 L757.2 255.2 L755.3 255.7 L753.4 254.5 L752.2 252.7 L749.0 250.8 L746.5 250.5 L744.0 250.6 L741.5 251.2 L740.2 251.2 M740.2 251.2 L738.3 251.6 L737.1 249.7 L737.7 248.3 L736.4 249.0 L736.4 251.2 L734.5 250.8 L732.0 250.5 L729.5 250.8 L727.0 251.9 L726.0 252.7 L727.0 253.4 L725.7 255.2 L727.6 256.3 L728.2 257.7 L729.8 259.2 L730.4 260.6 L728.5 260.3 L727.9 258.5 L726.3 258.1 L725.1 259.2 L723.8 259.9 L722.6 258.5 L721.3 259.9 L719.4 260.3 L716.9 259.2 L715.9 258.5 L714.4 256.3 L712.5 255.9 L711.2 256.4 L709.3 256.6 L706.8 255.9 L704.3 255.0 L700.3 255.6 L698.0 255.9 L695.5 257.4 L693.6 258.5 L692.3 259.9 L690.4 261.3 L687.3 263.5 L685.4 264.2 L683.5 265.6 L681.6 267.1 L680.4 268.9 L678.8 270.6 L678.1 273.5 L677.8 276.3 L678.5 279.1 L679.1 281.2 L679.4 282.3 M726.0 252.7 L723.8 250.8 L721.6 251.6 L723.2 253.0 L726.0 252.7 M679.4 282.3 L677.2 282.8 L674.7 281.6 L672.2 281.2 L669.6 279.8 L667.1 278.8 L665.9 275.6 L664.6 271.3 L662.7 268.5 L659.6 265.6 L658.3 262.1 L657.4 259.9 L655.2 257.0 L652.6 255.1 L650.1 254.8 L647.0 254.3 L644.4 255.2 L643.2 258.5 L641.9 260.8 L640.0 260.3 L638.8 259.5 L636.3 258.1 L633.1 255.9 L631.8 252.7 L630.6 249.0 L628.1 247.2 L626.2 245.3 L623.7 243.1 L621.1 240.5 L619.7 238.7 M616.5 91.7 L616.5 240.3 M616.5 94.4 L692.0 94.4 M850.5 119.0 L850.5 145.8" fill="none" stroke="#000" stroke-width="3.0" stroke-linejoin="round" stroke-linecap="round"/>
<path d="M819.0 179.0L813.4 177.3 M818.5 181.1L811.2 179.0 M818.0 183.2L811.3 182.5 M817.4 185.3L813.1 185.3 M816.9 187.4L812.7 187.0 M816.4 189.5L812.0 187.4 M815.9 191.6L809.7 193.2 M815.3 193.7L810.7 192.3 M814.8 195.8L807.7 198.0 M814.3 197.9L807.4 197.3 M814.1 200.0L805.2 197.7 M814.3 202.0L806.0 201.0 M814.5 204.1L809.8 202.2 M814.7 206.2L809.2 207.8 M814.9 208.3L810.0 208.7 M815.1 210.4L807.9 209.8 M815.4 212.5L808.6 210.3 M814.0 214.6L809.7 213.1 M810.7 216.7L803.3 216.4 M807.3 218.8L801.7 219.2 M804.0 220.9L797.7 219.9 M800.6 223.0L792.6 224.0" stroke="#000" stroke-width="1.6" fill="none"/>
<polygon points="807.0,181.0 811.0,180.8 816.0,178.0 819.5,176.5 822.0,178.5 820.0,184.5 817.5,192.0 814.5,199.0 816.0,210.0 814.5,214.0 811.5,215.0 810.0,206.0 808.5,200.0 806.0,195.0 809.0,191.0 807.0,186.0" fill="#000" stroke="#000" stroke-width="1.5" stroke-linejoin="round"/>
<polygon points="810.5,216.5 805.5,219.5 799.0,224.0 801.0,218.5 805.0,213.0 808.5,208.0" fill="#000" stroke="#000" stroke-width="1.5" stroke-linejoin="round"/>
<polygon points="829.2,162.5 841.9,160.5 850.1,160.5 850.1,163.0 839.2,166.5 831.0,171.0 825.6,172.5 825.0,168.2" fill="#000" stroke="#000" stroke-width="1.5" stroke-linejoin="round"/>
</g>
<rect x="862.4" y="95.0" width="23.3" height="215.6" fill="url(#jet)" stroke="#262626" stroke-width="0.9"/>
<line x1="883.2" y1="124.9" x2="885.7" y2="124.9" stroke="#262626" stroke-width="0.9"/>
<text x="893.9" y="132.3" font-size="22" font-weight="bold" fill="#262626" stroke="#262626" stroke-width="0.48" textLength="44.2" lengthAdjust="spacingAndGlyphs">290</text>
<line x1="883.2" y1="179.0" x2="885.7" y2="179.0" stroke="#262626" stroke-width="0.9"/>
<text x="893.9" y="186.4" font-size="22" font-weight="bold" fill="#262626" stroke="#262626" stroke-width="0.48" textLength="44.2" lengthAdjust="spacingAndGlyphs">280</text>
<line x1="883.2" y1="234.0" x2="885.7" y2="234.0" stroke="#262626" stroke-width="0.9"/>
<text x="893.9" y="241.4" font-size="22" font-weight="bold" fill="#262626" stroke="#262626" stroke-width="0.48" textLength="44.2" lengthAdjust="spacingAndGlyphs">270</text>
<line x1="883.2" y1="288.7" x2="885.7" y2="288.7" stroke="#262626" stroke-width="0.9"/>
<text x="893.9" y="296.1" font-size="22" font-weight="bold" fill="#262626" stroke="#262626" stroke-width="0.48" textLength="44.2" lengthAdjust="spacingAndGlyphs">260</text>
<text x="549.3" y="340.8" font-size="24.5" font-weight="bold" fill="#262626" stroke="#262626" stroke-width="0.54" textLength="358.6" lengthAdjust="spacingAndGlyphs">SAT+RAP 700 hPa Temp (K)</text>
<text x="1059.2" y="75.2" font-size="13.6" font-weight="bold" fill="#262626" stroke="#262626" stroke-width="0.30" textLength="25.6" lengthAdjust="spacingAndGlyphs">100</text>
<circle cx="1088.8" cy="62.4" r="1.3" fill="none" stroke="#262626" stroke-width="0.8"/>
<text x="1096.4" y="75.2" font-size="13.6" font-weight="bold" fill="#262626" stroke="#262626" stroke-width="0.30" textLength="13.2" lengthAdjust="spacingAndGlyphs">W</text>
<text x="1127.8" y="75.2" font-size="13.6" font-weight="bold" fill="#262626" stroke="#262626" stroke-width="0.30" textLength="17.0" lengthAdjust="spacingAndGlyphs">90</text>
<circle cx="1148.8" cy="62.4" r="1.3" fill="none" stroke="#262626" stroke-width="0.8"/>
<text x="1157.4" y="75.2" font-size="13.6" font-weight="bold" fill="#262626" stroke="#262626" stroke-width="0.30" textLength="13.2" lengthAdjust="spacingAndGlyphs">W</text>
<text x="1192.0" y="75.2" font-size="13.6" font-weight="bold" fill="#262626" stroke="#262626" stroke-width="0.30" textLength="17.4" lengthAdjust="spacingAndGlyphs">80</text>
<circle cx="1213.6" cy="62.4" r="1.3" fill="none" stroke="#262626" stroke-width="0.8"/>
<text x="1221.4" y="75.2" font-size="13.6" font-weight="bold" fill="#262626" stroke="#262626" stroke-width="0.30" textLength="13.0" lengthAdjust="spacingAndGlyphs">W</text>
<text x="1255.2" y="75.2" font-size="13.6" font-weight="bold" fill="#262626" stroke="#262626" stroke-width="0.30" textLength="16.6" lengthAdjust="spacingAndGlyphs">70</text>
<circle cx="1275.6" cy="62.4" r="1.3" fill="none" stroke="#262626" stroke-width="0.8"/>
<text x="1284.2" y="75.2" font-size="13.6" font-weight="bold" fill="#262626" stroke="#262626" stroke-width="0.30" textLength="13.4" lengthAdjust="spacingAndGlyphs">W</text>
<text x="987.9" y="112.7" font-size="13.3" font-weight="bold" fill="#262626" stroke="#262626" stroke-width="0.29" textLength="17.9" lengthAdjust="spacingAndGlyphs">48</text>
<circle cx="1010.0" cy="99.5" r="1.3" fill="none" stroke="#262626" stroke-width="0.8"/>
<text x="1017.7" y="112.7" font-size="13.3" font-weight="bold" fill="#262626" stroke="#262626" stroke-width="0.29" textLength="9.6" lengthAdjust="spacingAndGlyphs">N</text>
<text x="987.9" y="130.6" font-size="13.3" font-weight="bold" fill="#262626" stroke="#262626" stroke-width="0.29" textLength="17.9" lengthAdjust="spacingAndGlyphs">46</text>
<circle cx="1010.0" cy="117.4" r="1.3" fill="none" stroke="#262626" stroke-width="0.8"/>
<text x="1017.7" y="130.6" font-size="13.3" font-weight="bold" fill="#262626" stroke="#262626" stroke-width="0.29" textLength="9.6" lengthAdjust="spacingAndGlyphs">N</text>
<text x="987.9" y="147.6" font-size="13.3" font-weight="bold" fill="#262626" stroke="#262626" stroke-width="0.29" textLength="17.9" lengthAdjust="spacingAndGlyphs">44</text>
<circle cx="1010.0" cy="134.4" r="1.3" fill="none" stroke="#262626" stroke-width="0.8"/>
<text x="1017.7" y="147.6" font-size="13.3" font-weight="bold" fill="#262626" stroke="#262626" stroke-width="0.29" textLength="9.6" lengthAdjust="spacingAndGlyphs">N</text>
<text x="987.9" y="166.5" font-size="13.3" font-weight="bold" fill="#262626" stroke="#262626" stroke-width="0.29" textLength="17.9" lengthAdjust="spacingAndGlyphs">42</text>
<circle cx="1010.0" cy="153.3" r="1.3" fill="none" stroke="#262626" stroke-width="0.8"/>
<text x="1017.7" y="166.5" font-size="13.3" font-weight="bold" fill="#262626" stroke="#262626" stroke-width="0.29" textLength="9.6" lengthAdjust="spacingAndGlyphs">N</text>
<text x="987.9" y="182.7" font-size="13.3" font-weight="bold" fill="#262626" stroke="#262626" stroke-width="0.29" textLength="17.9" lengthAdjust="spacingAndGlyphs">40</text>
<circle cx="1010.0" cy="169.5" r="1.3" fill="none" stroke="#262626" stroke-width="0.8"/>
<text x="1017.7" y="182.7" font-size="13.3" font-weight="bold" fill="#262626" stroke="#262626" stroke-width="0.29" textLength="9.6" lengthAdjust="spacingAndGlyphs">N</text>
<text x="987.9" y="197.6" font-size="13.3" font-weight="bold" fill="#262626" stroke="#262626" stroke-width="0.29" textLength="17.9" lengthAdjust="spacingAndGlyphs">38</text>
<circle cx="1010.0" cy="184.4" r="1.3" fill="none" stroke="#262626" stroke-width="0.8"/>
<text x="1017.7" y="197.6" font-size="13.3" font-weight="bold" fill="#262626" stroke="#262626" stroke-width="0.29" textLength="9.6" lengthAdjust="spacingAndGlyphs">N</text>
<text x="987.9" y="214.5" font-size="13.3" font-weight="bold" fill="#262626" stroke="#262626" stroke-width="0.29" textLength="17.9" lengthAdjust="spacingAndGlyphs">36</text>
<circle cx="1010.0" cy="201.3" r="1.3" fill="none" stroke="#262626" stroke-width="0.8"/>
<text x="1017.7" y="214.5" font-size="13.3" font-weight="bold" fill="#262626" stroke="#262626" stroke-width="0.29" textLength="9.6" lengthAdjust="spacingAndGlyphs">N</text>
<text x="987.9" y="228.6" font-size="13.3" font-weight="bold" fill="#262626" stroke="#262626" stroke-width="0.29" textLength="17.9" lengthAdjust="spacingAndGlyphs">34</text>
<circle cx="1010.0" cy="215.4" r="1.3" fill="none" stroke="#262626" stroke-width="0.8"/>
<text x="1017.7" y="228.6" font-size="13.3" font-weight="bold" fill="#262626" stroke="#262626" stroke-width="0.29" textLength="9.6" lengthAdjust="spacingAndGlyphs">N</text>
<text x="987.9" y="245.4" font-size="13.3" font-weight="bold" fill="#262626" stroke="#262626" stroke-width="0.29" textLength="17.9" lengthAdjust="spacingAndGlyphs">32</text>
<circle cx="1010.0" cy="232.2" r="1.3" fill="none" stroke="#262626" stroke-width="0.8"/>
<text x="1017.7" y="245.4" font-size="13.3" font-weight="bold" fill="#262626" stroke="#262626" stroke-width="0.29" textLength="9.6" lengthAdjust="spacingAndGlyphs">N</text>
<text x="987.9" y="259.4" font-size="13.3" font-weight="bold" fill="#262626" stroke="#262626" stroke-width="0.29" textLength="17.9" lengthAdjust="spacingAndGlyphs">30</text>
<circle cx="1010.0" cy="246.2" r="1.3" fill="none" stroke="#262626" stroke-width="0.8"/>
<text x="1017.7" y="259.4" font-size="13.3" font-weight="bold" fill="#262626" stroke="#262626" stroke-width="0.29" textLength="9.6" lengthAdjust="spacingAndGlyphs">N</text>
<text x="987.9" y="272.5" font-size="13.3" font-weight="bold" fill="#262626" stroke="#262626" stroke-width="0.29" textLength="17.9" lengthAdjust="spacingAndGlyphs">28</text>
<circle cx="1010.0" cy="259.3" r="1.3" fill="none" stroke="#262626" stroke-width="0.8"/>
<text x="1017.7" y="272.5" font-size="13.3" font-weight="bold" fill="#262626" stroke="#262626" stroke-width="0.29" textLength="9.6" lengthAdjust="spacingAndGlyphs">N</text>
<text x="987.9" y="287.3" font-size="13.3" font-weight="bold" fill="#262626" stroke="#262626" stroke-width="0.29" textLength="17.9" lengthAdjust="spacingAndGlyphs">26</text>
<circle cx="1010.0" cy="274.1" r="1.3" fill="none" stroke="#262626" stroke-width="0.8"/>
<text x="1017.7" y="287.3" font-size="13.3" font-weight="bold" fill="#262626" stroke="#262626" stroke-width="0.29" textLength="9.6" lengthAdjust="spacingAndGlyphs">N</text>
<text x="987.9" y="301.3" font-size="13.3" font-weight="bold" fill="#262626" stroke="#262626" stroke-width="0.29" textLength="17.9" lengthAdjust="spacingAndGlyphs">24</text>
<circle cx="1010.0" cy="288.1" r="1.3" fill="none" stroke="#262626" stroke-width="0.8"/>
<text x="1017.7" y="301.3" font-size="13.3" font-weight="bold" fill="#262626" stroke="#262626" stroke-width="0.29" textLength="9.6" lengthAdjust="spacingAndGlyphs">N</text>
<text x="987.9" y="314.5" font-size="13.3" font-weight="bold" fill="#262626" stroke="#262626" stroke-width="0.29" textLength="17.9" lengthAdjust="spacingAndGlyphs">22</text>
<circle cx="1010.0" cy="301.3" r="1.3" fill="none" stroke="#262626" stroke-width="0.8"/>
<text x="1017.7" y="314.5" font-size="13.3" font-weight="bold" fill="#262626" stroke="#262626" stroke-width="0.29" textLength="9.6" lengthAdjust="spacingAndGlyphs">N</text>
<rect x="1037.6" y="96.0" width="234.0" height="213.3" fill="none" stroke="#262626" stroke-width="1.1"/>
<clipPath id="sw02"><polygon points="1037.5,167.0 1068.4,153.6 1104.7,140.3 1153.2,127.0 1196.8,120.6 1201.7,121.8 1204.1,147.6 1201.7,150.0 1177.5,153.6 1153.2,157.9 1126.5,164.5 1104.7,170.6 1090.2,174.2 1078.1,179.1 1068.4,182.7 1056.2,188.8 1047.8,192.4 1045.0,191.0 1037.5,174.0"/><polygon points="1053.0,204.5 1056.0,202.5 1080.5,197.3 1116.8,182.7 1153.2,173.0 1177.5,168.2 1204.1,163.3 1206.5,163.8 1207.5,182.0 1210.4,207.0 1224.3,310.2 1222.0,311.8 1089.5,312.0 1087.7,311.0 1052.5,206.5"/></clipPath>
<g clip-path="url(#sw02)"><g filter="url(#blur2)">
<path d="M1096 242h4v4h-4z" fill="#00009f"/>
<path d="M1088 238h12v4h-12zM1092 242h4v4h-4zM1100 242h4v4h-4zM1096 246h12v4h-12z" fill="#0000af"/>
<path d="M1096 230h8v4h-8zM1088 234h12v4h-12zM1100 238h4v4h-4zM1088 242h4v4h-4zM1104 242h4v4h-4zM1092 246h4v4h-4zM1100 250h12v4h-12z" fill="#0000bf"/>
<path d="M1096 226h8v4h-8zM1084 230h12v4h-12zM1084 234h4v4h-4zM1100 234h4v4h-4zM1084 238h4v4h-4zM1104 238h12v4h-12zM1108 242h4v4h-4zM1108 246h4v4h-4zM1096 250h4v4h-4zM1096 254h4v4h-4z" fill="#0000cf"/>
<path d="M1104 218h4v4h-4zM1100 222h8v4h-8zM1084 226h4v4h-4zM1092 226h4v4h-4zM1104 226h4v4h-4zM1080 230h4v4h-4zM1104 230h4v4h-4zM1080 234h4v4h-4zM1104 234h12v4h-12zM1084 242h4v4h-4zM1112 242h4v4h-4zM1088 246h4v4h-4zM1112 246h4v4h-4zM1092 250h4v4h-4zM1112 250h4v4h-4zM1092 254h4v4h-4zM1100 254h12v4h-12z" fill="#0000df"/>
<path d="M1100 218h4v4h-4zM1108 218h4v4h-4zM1096 222h4v4h-4zM1108 222h4v4h-4zM1080 226h4v4h-4zM1088 226h4v4h-4zM1108 226h4v4h-4zM1108 230h4v4h-4zM1080 238h4v4h-4zM1116 238h4v4h-4zM1080 242h4v4h-4zM1080 246h8v4h-8zM1088 250h4v4h-4zM1096 258h4v4h-4z" fill="#0000ef"/>
<path d="M1188 122h8v4h-8zM1188 126h8v4h-8zM1196 134h4v4h-4zM1196 138h8v4h-8zM1112 210h4v4h-4zM1100 214h16v4h-16zM1096 218h4v4h-4zM1112 218h4v4h-4zM1124 218h4v4h-4zM1088 222h8v4h-8zM1112 222h16v4h-16zM1112 226h12v4h-12zM1112 230h8v4h-8zM1116 234h4v4h-4zM1116 242h4v4h-4zM1112 254h4v4h-4zM1100 258h8v4h-8z" fill="#0000ff"/>
<path d="M1184 118h16v4h-16zM1184 122h4v4h-4zM1196 122h8v4h-8zM1184 126h4v4h-4zM1196 126h8v4h-8zM1188 130h16v4h-16zM1192 134h4v4h-4zM1200 134h8v4h-8zM1192 138h4v4h-4zM1204 138h4v4h-4zM1192 142h16v4h-16zM1196 166h4v4h-4zM1112 206h8v4h-8zM1092 210h20v4h-20zM1116 210h4v4h-4zM1092 214h8v4h-8zM1116 214h12v4h-12zM1092 218h4v4h-4zM1116 218h8v4h-8zM1128 218h4v4h-4zM1084 222h4v4h-4zM1128 222h4v4h-4zM1124 226h4v4h-4zM1076 230h4v4h-4zM1120 230h4v4h-4zM1076 234h4v4h-4zM1116 246h4v4h-4zM1084 250h4v4h-4zM1116 250h4v4h-4zM1088 254h4v4h-4zM1092 258h4v4h-4zM1108 258h4v4h-4z" fill="#0010ff"/>
<path d="M1188 110h12v4h-12zM1184 114h20v4h-20zM1180 118h4v4h-4zM1200 118h8v4h-8zM1180 122h4v4h-4zM1204 122h4v4h-4zM1176 126h8v4h-8zM1204 126h8v4h-8zM1176 130h12v4h-12zM1204 130h8v4h-8zM1180 134h12v4h-12zM1208 134h4v4h-4zM1184 138h8v4h-8zM1208 138h4v4h-4zM1184 142h8v4h-8zM1208 142h4v4h-4zM1180 146h4v4h-4zM1192 146h16v4h-16zM1192 162h8v4h-8zM1180 166h4v4h-4zM1192 166h4v4h-4zM1200 166h4v4h-4zM1180 170h4v4h-4zM1120 198h8v4h-8zM1116 202h20v4h-20zM1092 206h8v4h-8zM1108 206h4v4h-4zM1120 206h12v4h-12zM1120 210h12v4h-12zM1088 214h4v4h-4zM1128 214h4v4h-4zM1084 218h8v4h-8zM1080 222h4v4h-4zM1128 226h4v4h-4zM1124 230h4v4h-4zM1120 234h4v4h-4zM1076 238h4v4h-4zM1076 242h4v4h-4zM1116 254h4v4h-4zM1088 258h4v4h-4zM1112 258h4v4h-4zM1092 262h12v4h-12z" fill="#0020ff"/>
<path d="M1176 110h12v4h-12zM1200 110h8v4h-8zM1172 114h12v4h-12zM1204 114h8v4h-8zM1168 118h12v4h-12zM1208 118h4v4h-4zM1168 122h12v4h-12zM1208 122h8v4h-8zM1164 126h12v4h-12zM1212 126h4v4h-4zM1160 130h16v4h-16zM1212 130h4v4h-4zM1160 134h20v4h-20zM1212 134h4v4h-4zM1160 138h24v4h-24zM1212 138h4v4h-4zM1160 142h24v4h-24zM1212 142h4v4h-4zM1160 146h20v4h-20zM1184 146h8v4h-8zM1208 146h4v4h-4zM1160 150h48v4h-48zM1160 154h12v4h-12zM1176 154h28v4h-28zM1180 158h24v4h-24zM1176 162h16v4h-16zM1200 162h4v4h-4zM1176 166h4v4h-4zM1184 166h8v4h-8zM1176 170h4v4h-4zM1184 170h4v4h-4zM1192 170h8v4h-8zM1120 194h8v4h-8zM1116 198h4v4h-4zM1128 198h8v4h-8zM1112 202h4v4h-4zM1100 206h8v4h-8zM1132 206h4v4h-4zM1080 210h12v4h-12zM1080 214h8v4h-8zM1080 218h4v4h-4zM1132 218h4v4h-4zM1132 222h4v4h-4zM1076 226h4v4h-4zM1120 238h4v4h-4zM1076 246h4v4h-4zM1080 250h4v4h-4zM1084 254h4v4h-4zM1116 258h4v4h-4zM1088 262h4v4h-4zM1104 262h4v4h-4z" fill="#0030ff"/>
<path d="M1164 110h12v4h-12zM1208 110h12v4h-12zM1160 114h12v4h-12zM1212 114h8v4h-8zM1160 118h8v4h-8zM1212 118h8v4h-8zM1156 122h12v4h-12zM1216 122h8v4h-8zM1156 126h8v4h-8zM1216 126h8v4h-8zM1152 130h8v4h-8zM1216 130h8v4h-8zM1152 134h8v4h-8zM1216 134h8v4h-8zM1152 138h8v4h-8zM1216 138h4v4h-4zM1152 142h8v4h-8zM1216 142h4v4h-4zM1148 146h12v4h-12zM1212 146h4v4h-4zM1148 150h12v4h-12zM1208 150h8v4h-8zM1152 154h8v4h-8zM1172 154h4v4h-4zM1204 154h8v4h-8zM1156 158h24v4h-24zM1204 158h4v4h-4zM1168 162h8v4h-8zM1204 162h4v4h-4zM1172 166h4v4h-4zM1204 166h4v4h-4zM1172 170h4v4h-4zM1188 170h4v4h-4zM1200 170h4v4h-4zM1180 174h4v4h-4zM1116 194h4v4h-4zM1128 194h4v4h-4zM1108 198h8v4h-8zM1092 202h20v4h-20zM1136 202h4v4h-4zM1080 206h12v4h-12zM1076 210h4v4h-4zM1132 210h4v4h-4zM1132 214h4v4h-4zM1076 222h4v4h-4zM1132 226h4v4h-4zM1128 230h4v4h-4zM1124 234h4v4h-4zM1072 242h4v4h-4zM1120 242h4v4h-4zM1120 246h4v4h-4zM1120 250h4v4h-4zM1080 254h4v4h-4zM1120 254h4v4h-4zM1084 258h4v4h-4zM1108 262h4v4h-4zM1092 266h8v4h-8z" fill="#0040ff"/>
<path d="M1152 110h12v4h-12zM1220 110h8v4h-8zM1148 114h12v4h-12zM1220 114h8v4h-8zM1148 118h12v4h-12zM1220 118h12v4h-12zM1148 122h8v4h-8zM1224 122h8v4h-8zM1144 126h12v4h-12zM1224 126h8v4h-8zM1144 130h8v4h-8zM1224 130h4v4h-4zM1140 134h12v4h-12zM1224 134h4v4h-4zM1140 138h12v4h-12zM1220 138h8v4h-8zM1140 142h12v4h-12zM1220 142h8v4h-8zM1144 146h4v4h-4zM1216 146h8v4h-8zM1144 150h4v4h-4zM1216 150h4v4h-4zM1144 154h8v4h-8zM1212 154h4v4h-4zM1148 158h8v4h-8zM1208 158h8v4h-8zM1152 162h16v4h-16zM1208 162h4v4h-4zM1156 166h16v4h-16zM1156 170h16v4h-16zM1156 174h24v4h-24zM1184 174h8v4h-8zM1144 178h8v4h-8zM1144 182h4v4h-4zM1116 186h16v4h-16zM1112 190h24v4h-24zM1112 194h4v4h-4zM1132 194h4v4h-4zM1096 198h12v4h-12zM1136 198h4v4h-4zM1076 206h4v4h-4zM1136 206h4v4h-4zM1076 214h4v4h-4zM1136 214h4v4h-4zM1076 218h4v4h-4zM1136 218h4v4h-4zM1136 222h4v4h-4zM1072 230h4v4h-4zM1072 234h4v4h-4zM1072 238h4v4h-4zM1072 246h4v4h-4zM1084 262h4v4h-4zM1112 262h4v4h-4zM1088 266h4v4h-4zM1100 266h4v4h-4z" fill="#0050ff"/>
<path d="M1140 110h12v4h-12zM1228 110h8v4h-8zM1136 114h12v4h-12zM1228 114h8v4h-8zM1136 118h12v4h-12zM1232 118h4v4h-4zM1136 122h12v4h-12zM1232 122h4v4h-4zM1136 126h8v4h-8zM1232 126h4v4h-4zM1136 130h8v4h-8zM1228 130h8v4h-8zM1136 134h4v4h-4zM1228 134h8v4h-8zM1136 138h4v4h-4zM1228 138h8v4h-8zM1136 142h4v4h-4zM1228 142h4v4h-4zM1140 146h4v4h-4zM1224 146h8v4h-8zM1140 150h4v4h-4zM1220 150h8v4h-8zM1140 154h4v4h-4zM1216 154h8v4h-8zM1140 158h8v4h-8zM1216 158h4v4h-4zM1140 162h12v4h-12zM1212 162h4v4h-4zM1140 166h16v4h-16zM1208 166h8v4h-8zM1136 170h20v4h-20zM1204 170h4v4h-4zM1124 174h32v4h-32zM1192 174h8v4h-8zM1116 178h28v4h-28zM1152 178h32v4h-32zM1108 182h36v4h-36zM1148 182h8v4h-8zM1108 186h8v4h-8zM1132 186h12v4h-12zM1096 190h8v4h-8zM1108 190h4v4h-4zM1136 190h4v4h-4zM1092 194h20v4h-20zM1136 194h4v4h-4zM1092 198h4v4h-4zM1076 202h8v4h-8zM1088 202h4v4h-4zM1140 202h4v4h-4zM1136 210h4v4h-4zM1136 226h4v4h-4zM1132 230h4v4h-4zM1128 234h4v4h-4zM1124 238h4v4h-4zM1064 246h8v4h-8zM1060 250h20v4h-20zM1060 254h20v4h-20zM1060 258h12v4h-12zM1080 258h4v4h-4zM1120 258h4v4h-4zM1116 262h4v4h-4zM1104 266h4v4h-4z" fill="#0060ff"/>
<path d="M1124 110h16v4h-16zM1124 114h12v4h-12zM1124 118h12v4h-12zM1128 122h8v4h-8zM1128 126h8v4h-8zM1128 130h8v4h-8zM1132 134h4v4h-4zM1132 138h4v4h-4zM1132 142h4v4h-4zM1232 142h4v4h-4zM1132 146h8v4h-8zM1232 146h4v4h-4zM1132 150h8v4h-8zM1228 150h8v4h-8zM1132 154h8v4h-8zM1224 154h12v4h-12zM1132 158h8v4h-8zM1220 158h12v4h-12zM1132 162h8v4h-8zM1216 162h12v4h-12zM1128 166h12v4h-12zM1216 166h4v4h-4zM1120 170h16v4h-16zM1208 170h8v4h-8zM1112 174h12v4h-12zM1200 174h4v4h-4zM1104 178h12v4h-12zM1184 178h8v4h-8zM1100 182h8v4h-8zM1156 182h16v4h-16zM1092 186h16v4h-16zM1144 186h12v4h-12zM1088 190h8v4h-8zM1104 190h4v4h-4zM1140 190h4v4h-4zM1088 194h4v4h-4zM1076 198h8v4h-8zM1088 198h4v4h-4zM1084 202h4v4h-4zM1072 206h4v4h-4zM1140 206h8v4h-8zM1072 210h4v4h-4zM1140 210h8v4h-8zM1072 214h4v4h-4zM1140 214h4v4h-4zM1072 218h4v4h-4zM1140 218h4v4h-4zM1072 222h4v4h-4zM1140 222h4v4h-4zM1072 226h4v4h-4zM1068 230h4v4h-4zM1068 234h4v4h-4zM1056 242h8v4h-8zM1068 242h4v4h-4zM1048 246h16v4h-16zM1044 250h16v4h-16zM1124 250h4v4h-4zM1040 254h20v4h-20zM1124 254h4v4h-4zM1040 258h20v4h-20zM1072 258h8v4h-8zM1040 262h32v4h-32zM1044 266h28v4h-28zM1084 266h4v4h-4zM1108 266h4v4h-4zM1052 270h12v4h-12zM1088 270h12v4h-12z" fill="#0070ff"/>
<path d="M1108 110h16v4h-16zM1108 114h16v4h-16zM1112 118h12v4h-12zM1116 122h12v4h-12zM1116 126h12v4h-12zM1120 130h8v4h-8zM1120 134h12v4h-12zM1128 138h4v4h-4zM1128 142h4v4h-4zM1128 146h4v4h-4zM1128 150h4v4h-4zM1124 154h8v4h-8zM1124 158h8v4h-8zM1232 158h4v4h-4zM1124 162h8v4h-8zM1228 162h8v4h-8zM1120 166h8v4h-8zM1220 166h12v4h-12zM1108 170h12v4h-12zM1216 170h8v4h-8zM1104 174h8v4h-8zM1204 174h16v4h-16zM1100 178h4v4h-4zM1192 178h4v4h-4zM1088 182h12v4h-12zM1172 182h12v4h-12zM1080 186h12v4h-12zM1156 186h8v4h-8zM1076 190h12v4h-12zM1144 190h8v4h-8zM1072 194h16v4h-16zM1140 194h4v4h-4zM1072 198h4v4h-4zM1084 198h4v4h-4zM1140 198h4v4h-4zM1072 202h4v4h-4zM1144 202h4v4h-4zM1148 206h4v4h-4zM1148 210h4v4h-4zM1144 214h4v4h-4zM1068 218h4v4h-4zM1144 218h4v4h-4zM1140 226h4v4h-4zM1064 230h4v4h-4zM1136 230h4v4h-4zM1060 234h8v4h-8zM1132 234h4v4h-4zM1028 238h44v4h-44zM1128 238h4v4h-4zM1028 242h28v4h-28zM1064 242h4v4h-4zM1124 242h4v4h-4zM1028 246h20v4h-20zM1124 246h4v4h-4zM1028 250h16v4h-16zM1028 254h12v4h-12zM1028 258h12v4h-12zM1028 262h12v4h-12zM1072 262h4v4h-4zM1080 262h4v4h-4zM1028 266h16v4h-16zM1072 266h12v4h-12zM1112 266h4v4h-4zM1028 270h24v4h-24zM1064 270h12v4h-12zM1100 270h4v4h-4zM1028 274h44v4h-44zM1028 278h36v4h-36zM1028 282h28v4h-28z" fill="#0080ff"/>
<path d="M1068 110h40v4h-40zM1080 114h28v4h-28zM1092 118h20v4h-20zM1100 122h16v4h-16zM1104 126h12v4h-12zM1108 130h12v4h-12zM1112 134h8v4h-8zM1116 138h12v4h-12zM1116 142h12v4h-12zM1120 146h8v4h-8zM1120 150h8v4h-8zM1120 154h4v4h-4zM1120 158h4v4h-4zM1116 162h8v4h-8zM1104 166h16v4h-16zM1232 166h4v4h-4zM1104 170h4v4h-4zM1224 170h12v4h-12zM1100 174h4v4h-4zM1220 174h12v4h-12zM1092 178h8v4h-8zM1196 178h28v4h-28zM1080 182h8v4h-8zM1184 182h12v4h-12zM1072 186h8v4h-8zM1164 186h16v4h-16zM1068 190h8v4h-8zM1152 190h8v4h-8zM1068 194h4v4h-4zM1152 194h4v4h-4zM1064 198h8v4h-8zM1068 202h4v4h-4zM1148 202h4v4h-4zM1068 206h4v4h-4zM1068 210h4v4h-4zM1064 214h8v4h-8zM1148 214h4v4h-4zM1064 218h4v4h-4zM1148 218h4v4h-4zM1028 222h4v4h-4zM1064 222h8v4h-8zM1144 222h4v4h-4zM1028 226h8v4h-8zM1064 226h8v4h-8zM1028 230h12v4h-12zM1060 230h4v4h-4zM1028 234h32v4h-32zM1132 238h4v4h-4zM1128 250h4v4h-4zM1076 262h4v4h-4zM1076 270h12v4h-12zM1104 270h4v4h-4zM1072 274h4v4h-4zM1092 274h4v4h-4zM1064 278h12v4h-12zM1056 282h16v4h-16zM1028 286h40v4h-40zM1028 290h32v4h-32zM1028 294h28v4h-28zM1028 298h24v4h-24zM1028 302h16v4h-16zM1028 306h8v4h-8z" fill="#008fff"/>
<path d="M1028 110h40v4h-40zM1028 114h52v4h-52zM1028 118h64v4h-64zM1028 122h72v4h-72zM1028 126h76v4h-76zM1028 130h80v4h-80zM1028 134h8v4h-8zM1100 134h12v4h-12zM1108 138h8v4h-8zM1112 142h4v4h-4zM1116 146h4v4h-4zM1112 150h8v4h-8zM1108 154h12v4h-12zM1108 158h12v4h-12zM1104 162h12v4h-12zM1100 166h4v4h-4zM1100 170h4v4h-4zM1096 174h4v4h-4zM1232 174h4v4h-4zM1076 178h16v4h-16zM1224 178h12v4h-12zM1072 182h8v4h-8zM1196 182h32v4h-32zM1068 186h4v4h-4zM1180 186h8v4h-8zM1192 186h24v4h-24zM1064 190h4v4h-4zM1160 190h4v4h-4zM1172 190h8v4h-8zM1060 194h8v4h-8zM1144 194h8v4h-8zM1156 194h4v4h-4zM1060 198h4v4h-4zM1144 198h16v4h-16zM1060 202h8v4h-8zM1152 202h4v4h-4zM1028 206h4v4h-4zM1060 206h8v4h-8zM1152 206h4v4h-4zM1028 210h8v4h-8zM1060 210h8v4h-8zM1152 210h8v4h-8zM1028 214h12v4h-12zM1060 214h4v4h-4zM1152 214h4v4h-4zM1028 218h12v4h-12zM1060 218h4v4h-4zM1032 222h12v4h-12zM1036 226h8v4h-8zM1060 226h4v4h-4zM1040 230h8v4h-8zM1056 230h4v4h-4zM1140 230h4v4h-4zM1136 234h4v4h-4zM1128 242h8v4h-8zM1128 246h8v4h-8zM1132 250h4v4h-4zM1128 254h4v4h-4zM1116 266h4v4h-4zM1108 270h4v4h-4zM1076 274h16v4h-16zM1096 274h4v4h-4zM1076 278h4v4h-4zM1072 282h8v4h-8zM1068 286h8v4h-8zM1060 290h12v4h-12zM1056 294h12v4h-12zM1052 298h12v4h-12zM1044 302h20v4h-20zM1036 306h24v4h-24zM1028 310h28v4h-28zM1028 314h24v4h-24zM1028 318h20v4h-20z" fill="#009fff"/>
<path d="M1036 134h64v4h-64zM1028 138h60v4h-60zM1100 138h8v4h-8zM1028 142h52v4h-52zM1104 142h8v4h-8zM1028 146h20v4h-20zM1104 146h12v4h-12zM1028 150h8v4h-8zM1104 150h8v4h-8zM1104 154h4v4h-4zM1100 158h8v4h-8zM1096 162h8v4h-8zM1096 166h4v4h-4zM1096 170h4v4h-4zM1076 174h20v4h-20zM1068 178h8v4h-8zM1068 182h4v4h-4zM1228 182h8v4h-8zM1064 186h4v4h-4zM1188 186h4v4h-4zM1216 186h20v4h-20zM1060 190h4v4h-4zM1164 190h8v4h-8zM1180 190h36v4h-36zM1028 194h8v4h-8zM1056 194h4v4h-4zM1160 194h4v4h-4zM1172 194h12v4h-12zM1028 198h12v4h-12zM1052 198h8v4h-8zM1160 198h4v4h-4zM1028 202h16v4h-16zM1056 202h4v4h-4zM1156 202h12v4h-12zM1032 206h12v4h-12zM1156 206h12v4h-12zM1036 210h8v4h-8zM1160 210h8v4h-8zM1040 214h4v4h-4zM1056 214h4v4h-4zM1156 214h8v4h-8zM1040 218h8v4h-8zM1152 218h8v4h-8zM1044 222h4v4h-4zM1060 222h4v4h-4zM1148 222h4v4h-4zM1044 226h4v4h-4zM1144 226h4v4h-4zM1048 230h8v4h-8zM1140 234h4v4h-4zM1136 238h4v4h-4zM1136 242h4v4h-4zM1136 246h4v4h-4zM1136 250h4v4h-4zM1132 254h4v4h-4zM1124 258h4v4h-4zM1120 262h4v4h-4zM1112 270h4v4h-4zM1100 274h4v4h-4zM1080 278h12v4h-12zM1080 282h4v4h-4zM1076 286h4v4h-4zM1072 290h8v4h-8zM1068 294h8v4h-8zM1064 298h12v4h-12zM1064 302h8v4h-8zM1060 306h8v4h-8zM1056 310h12v4h-12zM1052 314h12v4h-12zM1048 318h16v4h-16z" fill="#00afff"/>
<path d="M1088 138h12v4h-12zM1080 142h12v4h-12zM1096 142h8v4h-8zM1048 146h40v4h-40zM1100 146h4v4h-4zM1036 150h52v4h-52zM1028 154h24v4h-24zM1080 154h8v4h-8zM1100 154h4v4h-4zM1028 158h20v4h-20zM1084 158h16v4h-16zM1028 162h4v4h-4zM1084 162h12v4h-12zM1084 166h4v4h-4zM1092 166h4v4h-4zM1076 170h12v4h-12zM1092 170h4v4h-4zM1068 174h8v4h-8zM1064 178h4v4h-4zM1028 182h4v4h-4zM1064 182h4v4h-4zM1028 186h8v4h-8zM1060 186h4v4h-4zM1028 190h12v4h-12zM1056 190h4v4h-4zM1216 190h20v4h-20zM1036 194h20v4h-20zM1164 194h8v4h-8zM1184 194h32v4h-32zM1040 198h12v4h-12zM1164 198h24v4h-24zM1044 202h12v4h-12zM1168 202h12v4h-12zM1044 206h4v4h-4zM1056 206h4v4h-4zM1168 206h8v4h-8zM1044 210h4v4h-4zM1056 210h4v4h-4zM1168 210h4v4h-4zM1044 214h12v4h-12zM1164 214h4v4h-4zM1048 218h12v4h-12zM1160 218h4v4h-4zM1048 222h4v4h-4zM1152 222h4v4h-4zM1048 226h4v4h-4zM1056 226h4v4h-4zM1144 230h4v4h-4zM1144 234h4v4h-4zM1140 238h8v4h-8zM1140 242h8v4h-8zM1140 246h4v4h-4zM1136 254h4v4h-4zM1128 258h4v4h-4zM1116 270h4v4h-4zM1104 274h4v4h-4zM1092 278h4v4h-4zM1084 282h8v4h-8zM1080 286h4v4h-4zM1080 290h4v4h-4zM1076 294h4v4h-4zM1076 298h4v4h-4zM1072 302h8v4h-8zM1068 306h8v4h-8zM1068 310h8v4h-8zM1064 314h12v4h-12zM1064 318h8v4h-8z" fill="#00bfff"/>
<path d="M1092 142h4v4h-4zM1088 146h4v4h-4zM1088 150h4v4h-4zM1100 150h4v4h-4zM1052 154h28v4h-28zM1088 154h8v4h-8zM1048 158h12v4h-12zM1068 158h16v4h-16zM1032 162h24v4h-24zM1072 162h12v4h-12zM1028 166h28v4h-28zM1072 166h12v4h-12zM1088 166h4v4h-4zM1028 170h8v4h-8zM1048 170h12v4h-12zM1068 170h8v4h-8zM1088 170h4v4h-4zM1028 174h4v4h-4zM1048 174h20v4h-20zM1028 178h8v4h-8zM1060 178h4v4h-4zM1032 182h8v4h-8zM1056 182h8v4h-8zM1036 186h8v4h-8zM1052 186h8v4h-8zM1040 190h16v4h-16zM1216 194h20v4h-20zM1188 198h12v4h-12zM1224 198h12v4h-12zM1180 202h12v4h-12zM1048 206h8v4h-8zM1176 206h8v4h-8zM1048 210h8v4h-8zM1172 210h4v4h-4zM1168 214h8v4h-8zM1164 218h4v4h-4zM1052 222h8v4h-8zM1156 222h8v4h-8zM1052 226h4v4h-4zM1148 226h4v4h-4zM1148 234h4v4h-4zM1148 238h4v4h-4zM1148 242h4v4h-4zM1144 246h4v4h-4zM1140 250h4v4h-4zM1132 258h4v4h-4zM1120 266h4v4h-4zM1108 274h4v4h-4zM1096 278h8v4h-8zM1092 282h4v4h-4zM1084 286h8v4h-8zM1084 290h4v4h-4zM1080 294h8v4h-8zM1080 298h8v4h-8zM1080 302h4v4h-4zM1076 306h8v4h-8zM1076 310h4v4h-4zM1076 314h4v4h-4zM1072 318h8v4h-8z" fill="#00cfff"/>
<path d="M1092 146h8v4h-8zM1092 150h8v4h-8zM1096 154h4v4h-4zM1060 158h8v4h-8zM1056 162h16v4h-16zM1056 166h16v4h-16zM1036 170h12v4h-12zM1060 170h8v4h-8zM1032 174h16v4h-16zM1036 178h24v4h-24zM1040 182h16v4h-16zM1044 186h8v4h-8zM1200 198h24v4h-24zM1192 202h4v4h-4zM1224 202h12v4h-12zM1184 206h4v4h-4zM1176 210h8v4h-8zM1176 214h4v4h-4zM1168 218h8v4h-8zM1164 222h4v4h-4zM1152 226h12v4h-12zM1148 230h4v4h-4zM1160 230h4v4h-4zM1152 234h8v4h-8zM1152 238h8v4h-8zM1152 242h4v4h-4zM1136 258h4v4h-4zM1120 270h4v4h-4zM1112 274h8v4h-8zM1104 278h4v4h-4zM1096 282h8v4h-8zM1092 286h12v4h-12zM1088 290h12v4h-12zM1088 294h8v4h-8zM1088 298h4v4h-4zM1084 302h4v4h-4zM1084 306h4v4h-4zM1080 310h8v4h-8zM1080 314h4v4h-4zM1080 318h8v4h-8z" fill="#00dfff"/>
<path d="M1196 202h28v4h-28zM1188 206h4v4h-4zM1224 206h12v4h-12zM1232 210h4v4h-4zM1180 214h4v4h-4zM1176 218h4v4h-4zM1168 222h8v4h-8zM1164 226h4v4h-4zM1152 230h8v4h-8zM1164 230h4v4h-4zM1160 234h8v4h-8zM1160 238h4v4h-4zM1156 242h4v4h-4zM1148 246h4v4h-4zM1140 254h4v4h-4zM1132 262h8v4h-8zM1120 274h4v4h-4zM1104 282h4v4h-4zM1104 286h4v4h-4zM1100 290h8v4h-8zM1096 294h4v4h-4zM1092 298h4v4h-4zM1088 302h4v4h-4zM1088 306h4v4h-4zM1084 314h4v4h-4zM1088 318h4v4h-4z" fill="#00efff"/>
<path d="M1192 206h4v4h-4zM1212 206h12v4h-12zM1184 210h4v4h-4zM1220 210h12v4h-12zM1184 214h4v4h-4zM1228 214h8v4h-8zM1180 218h4v4h-4zM1232 218h4v4h-4zM1176 222h4v4h-4zM1168 226h8v4h-8zM1168 230h8v4h-8zM1168 234h8v4h-8zM1164 238h8v4h-8zM1160 242h8v4h-8zM1152 246h8v4h-8zM1144 250h4v4h-4zM1140 258h4v4h-4zM1124 262h8v4h-8zM1140 262h4v4h-4zM1132 266h8v4h-8zM1124 270h8v4h-8zM1124 274h4v4h-4zM1108 278h16v4h-16zM1108 282h4v4h-4zM1116 282h4v4h-4zM1108 286h8v4h-8zM1108 290h4v4h-4zM1100 294h4v4h-4zM1092 302h4v4h-4zM1088 310h4v4h-4zM1088 314h4v4h-4zM1092 318h4v4h-4z" fill="#00ffff"/>
<path d="M1196 206h16v4h-16zM1188 210h4v4h-4zM1216 210h4v4h-4zM1220 214h8v4h-8zM1184 218h4v4h-4zM1224 218h8v4h-8zM1180 222h4v4h-4zM1228 222h8v4h-8zM1176 226h4v4h-4zM1176 230h4v4h-4zM1176 234h4v4h-4zM1172 238h4v4h-4zM1168 242h4v4h-4zM1160 246h4v4h-4zM1124 266h8v4h-8zM1140 266h4v4h-4zM1132 270h4v4h-4zM1112 282h4v4h-4zM1116 286h4v4h-4zM1112 290h4v4h-4zM1104 294h8v4h-8zM1096 298h4v4h-4zM1092 306h4v4h-4zM1092 310h4v4h-4zM1092 314h4v4h-4zM1096 318h4v4h-4z" fill="#10ffef"/>
<path d="M1192 210h8v4h-8zM1212 210h4v4h-4zM1188 214h8v4h-8zM1216 214h4v4h-4zM1188 218h4v4h-4zM1216 218h8v4h-8zM1184 222h8v4h-8zM1220 222h8v4h-8zM1180 226h4v4h-4zM1228 226h8v4h-8zM1232 230h4v4h-4zM1232 234h4v4h-4zM1176 238h4v4h-4zM1172 242h4v4h-4zM1164 246h4v4h-4zM1148 250h16v4h-16zM1144 254h4v4h-4zM1144 262h4v4h-4zM1136 270h4v4h-4zM1128 274h4v4h-4zM1124 278h4v4h-4zM1120 282h4v4h-4zM1120 286h4v4h-4zM1116 290h4v4h-4zM1112 294h4v4h-4zM1100 298h4v4h-4zM1096 314h4v4h-4zM1100 318h8v4h-8z" fill="#20ffdf"/>
<path d="M1200 210h12v4h-12zM1196 214h4v4h-4zM1212 214h4v4h-4zM1192 218h4v4h-4zM1212 218h4v4h-4zM1192 222h4v4h-4zM1212 222h8v4h-8zM1184 226h12v4h-12zM1220 226h8v4h-8zM1180 230h4v4h-4zM1224 230h8v4h-8zM1180 234h4v4h-4zM1192 234h4v4h-4zM1228 234h4v4h-4zM1180 238h16v4h-16zM1228 238h8v4h-8zM1176 242h12v4h-12zM1232 242h4v4h-4zM1168 246h4v4h-4zM1232 246h4v4h-4zM1164 250h4v4h-4zM1160 254h8v4h-8zM1144 258h4v4h-4zM1160 258h4v4h-4zM1144 266h8v4h-8zM1140 270h4v4h-4zM1132 274h4v4h-4zM1120 290h4v4h-4zM1104 298h8v4h-8zM1096 302h4v4h-4zM1096 306h4v4h-4zM1096 310h4v4h-4zM1100 314h12v4h-12zM1108 318h8v4h-8z" fill="#30ffcf"/>
<path d="M1200 214h12v4h-12zM1196 218h4v4h-4zM1208 218h4v4h-4zM1196 222h4v4h-4zM1208 222h4v4h-4zM1196 226h4v4h-4zM1208 226h12v4h-12zM1184 230h24v4h-24zM1220 230h4v4h-4zM1184 234h8v4h-8zM1196 234h8v4h-8zM1224 234h4v4h-4zM1196 238h8v4h-8zM1224 238h4v4h-4zM1188 242h16v4h-16zM1224 242h8v4h-8zM1184 246h12v4h-12zM1224 246h8v4h-8zM1168 250h4v4h-4zM1228 250h8v4h-8zM1156 254h4v4h-4zM1228 254h8v4h-8zM1156 258h4v4h-4zM1164 258h4v4h-4zM1232 258h4v4h-4zM1148 262h24v4h-24zM1232 262h4v4h-4zM1152 266h16v4h-16zM1144 270h4v4h-4zM1136 274h4v4h-4zM1124 282h4v4h-4zM1124 290h4v4h-4zM1116 294h4v4h-4zM1112 298h4v4h-4zM1100 302h12v4h-12zM1108 306h4v4h-4zM1100 310h12v4h-12zM1112 314h4v4h-4zM1116 318h4v4h-4z" fill="#40ffbf"/>
<path d="M1200 218h8v4h-8zM1200 222h8v4h-8zM1200 226h8v4h-8zM1208 230h12v4h-12zM1204 234h8v4h-8zM1220 234h4v4h-4zM1204 238h4v4h-4zM1220 238h4v4h-4zM1204 242h4v4h-4zM1220 242h4v4h-4zM1172 246h12v4h-12zM1196 246h16v4h-16zM1216 246h8v4h-8zM1184 250h20v4h-20zM1220 250h8v4h-8zM1148 254h8v4h-8zM1168 254h4v4h-4zM1220 254h8v4h-8zM1148 258h8v4h-8zM1168 258h4v4h-4zM1224 258h8v4h-8zM1172 262h4v4h-4zM1224 262h8v4h-8zM1168 266h12v4h-12zM1228 266h8v4h-8zM1148 270h20v4h-20zM1228 270h8v4h-8zM1140 274h4v4h-4zM1232 274h4v4h-4zM1128 278h8v4h-8zM1124 286h4v4h-4zM1120 294h8v4h-8zM1112 302h4v4h-4zM1100 306h8v4h-8zM1112 306h4v4h-4zM1112 310h4v4h-4zM1116 314h4v4h-4zM1120 318h8v4h-8z" fill="#50ffaf"/>
<path d="M1212 234h8v4h-8zM1208 238h12v4h-12zM1208 242h12v4h-12zM1212 246h4v4h-4zM1172 250h4v4h-4zM1180 250h4v4h-4zM1204 250h16v4h-16zM1180 254h12v4h-12zM1196 254h8v4h-8zM1216 254h4v4h-4zM1172 258h12v4h-12zM1220 258h4v4h-4zM1176 262h8v4h-8zM1220 262h4v4h-4zM1180 266h4v4h-4zM1220 266h8v4h-8zM1168 270h20v4h-20zM1220 270h8v4h-8zM1224 274h8v4h-8zM1136 278h4v4h-4zM1228 278h8v4h-8zM1232 282h4v4h-4zM1128 286h4v4h-4zM1128 290h8v4h-8zM1128 294h4v4h-4zM1116 298h4v4h-4zM1116 310h4v4h-4zM1120 314h8v4h-8zM1128 318h4v4h-4z" fill="#60ff9f"/>
<path d="M1176 250h4v4h-4zM1172 254h8v4h-8zM1192 254h4v4h-4zM1204 254h12v4h-12zM1184 258h24v4h-24zM1212 258h8v4h-8zM1184 262h24v4h-24zM1212 262h8v4h-8zM1184 266h12v4h-12zM1204 266h16v4h-16zM1188 270h8v4h-8zM1204 270h16v4h-16zM1144 274h80v4h-80zM1140 278h4v4h-4zM1184 278h20v4h-20zM1220 278h8v4h-8zM1128 282h12v4h-12zM1224 282h8v4h-8zM1132 286h8v4h-8zM1228 286h8v4h-8zM1136 290h4v4h-4zM1232 290h4v4h-4zM1132 294h4v4h-4zM1232 294h4v4h-4zM1120 298h12v4h-12zM1116 302h4v4h-4zM1116 306h4v4h-4zM1120 310h8v4h-8zM1128 314h4v4h-4zM1168 314h4v4h-4zM1232 314h4v4h-4zM1132 318h4v4h-4zM1160 318h24v4h-24zM1228 318h8v4h-8z" fill="#70ff8f"/>
<path d="M1208 258h4v4h-4zM1208 262h4v4h-4zM1196 266h8v4h-8zM1196 270h8v4h-8zM1152 278h4v4h-4zM1168 278h16v4h-16zM1204 278h16v4h-16zM1140 282h4v4h-4zM1184 282h28v4h-28zM1216 282h8v4h-8zM1140 286h4v4h-4zM1220 286h8v4h-8zM1140 290h4v4h-4zM1224 290h8v4h-8zM1136 294h4v4h-4zM1228 294h4v4h-4zM1132 298h4v4h-4zM1232 298h4v4h-4zM1120 302h12v4h-12zM1232 302h4v4h-4zM1120 306h12v4h-12zM1168 306h4v4h-4zM1232 306h4v4h-4zM1128 310h4v4h-4zM1164 310h16v4h-16zM1228 310h8v4h-8zM1132 314h4v4h-4zM1156 314h12v4h-12zM1172 314h40v4h-40zM1224 314h8v4h-8zM1136 318h4v4h-4zM1152 318h8v4h-8zM1184 318h44v4h-44z" fill="#80ff80"/>
<path d="M1144 278h8v4h-8zM1156 278h12v4h-12zM1144 282h12v4h-12zM1168 282h16v4h-16zM1212 282h4v4h-4zM1144 286h12v4h-12zM1184 286h36v4h-36zM1144 290h4v4h-4zM1200 290h24v4h-24zM1140 294h4v4h-4zM1164 294h4v4h-4zM1208 294h20v4h-20zM1136 298h4v4h-4zM1164 298h8v4h-8zM1208 298h8v4h-8zM1224 298h8v4h-8zM1132 302h4v4h-4zM1164 302h12v4h-12zM1228 302h4v4h-4zM1160 306h8v4h-8zM1172 306h8v4h-8zM1208 306h4v4h-4zM1228 306h4v4h-4zM1132 310h4v4h-4zM1156 310h8v4h-8zM1180 310h36v4h-36zM1224 310h4v4h-4zM1152 314h4v4h-4zM1212 314h12v4h-12zM1140 318h12v4h-12z" fill="#8fff70"/>
<path d="M1156 282h12v4h-12zM1156 286h20v4h-20zM1180 286h4v4h-4zM1148 290h24v4h-24zM1184 290h16v4h-16zM1144 294h4v4h-4zM1160 294h4v4h-4zM1168 294h4v4h-4zM1192 294h16v4h-16zM1160 298h4v4h-4zM1172 298h8v4h-8zM1204 298h4v4h-4zM1216 298h8v4h-8zM1160 302h4v4h-4zM1176 302h8v4h-8zM1192 302h4v4h-4zM1200 302h28v4h-28zM1132 306h4v4h-4zM1156 306h4v4h-4zM1180 306h28v4h-28zM1212 306h16v4h-16zM1152 310h4v4h-4zM1216 310h8v4h-8zM1136 314h4v4h-4zM1148 314h4v4h-4z" fill="#9fff60"/>
<path d="M1176 286h4v4h-4zM1172 290h12v4h-12zM1156 294h4v4h-4zM1172 294h20v4h-20zM1140 298h4v4h-4zM1180 298h24v4h-24zM1136 302h4v4h-4zM1156 302h4v4h-4zM1184 302h8v4h-8zM1196 302h4v4h-4zM1152 306h4v4h-4zM1148 310h4v4h-4zM1140 314h8v4h-8z" fill="#afff50"/>
<path d="M1148 294h8v4h-8zM1144 298h4v4h-4zM1156 298h4v4h-4zM1140 302h8v4h-8zM1136 306h4v4h-4zM1148 306h4v4h-4zM1136 310h4v4h-4zM1144 310h4v4h-4z" fill="#bfff40"/>
<path d="M1148 298h8v4h-8zM1148 302h8v4h-8zM1144 306h4v4h-4zM1140 310h4v4h-4z" fill="#cfff30"/>
<path d="M1140 306h4v4h-4z" fill="#dfff20"/>
</g></g>
<clipPath id="clip02"><rect x="1037.6" y="96.0" width="234.0" height="213.3"/></clipPath>
<g clip-path="url(#clip02)">
<path d="M1032.1 96.5 L1113.0 96.5 L1113.0 92.9 L1114.3 93.0 L1115.1 93.6 L1116.0 98.6 L1119.0 99.9 L1121.5 101.1 L1124.3 100.2 L1126.9 100.2 L1129.1 101.8 L1130.6 103.7 L1133.5 104.1 L1136.0 105.4 L1139.2 104.1 L1140.1 104.0 L1142.9 105.1 L1145.5 105.1 L1147.0 106.0 L1148.6 106.0 M1148.6 106.0 L1146.1 107.4 L1143.6 108.4 L1140.4 110.7 L1138.5 112.1 L1136.0 114.4 L1134.1 115.8 L1132.2 117.7 L1131.9 118.1 L1133.5 118.1 L1135.4 117.7 L1137.6 116.7 L1139.5 115.8 L1140.7 117.2 L1140.1 119.0 L1142.6 119.0 L1142.9 119.3 M1142.9 119.3 L1145.5 118.9 L1148.0 117.0 L1150.5 116.3 L1152.4 114.9 L1154.6 113.0 L1156.8 111.2 L1159.0 111.0 L1156.5 113.5 L1156.8 115.8 L1158.7 116.3 L1160.6 120.0 L1163.1 120.0 L1164.4 120.1 L1166.9 120.7 L1168.8 119.5 L1170.7 118.6 L1173.8 117.7 L1177.0 117.7 L1177.0 120.0 L1179.5 120.4 L1180.7 120.0 L1182.6 121.8 L1183.3 123.2 L1183.9 124.1 M1183.9 124.1 L1181.4 124.7 L1178.8 125.7 L1176.3 124.5 L1173.8 123.6 L1171.3 125.0 L1168.8 125.9 L1166.9 127.7 L1165.3 125.9 L1163.7 127.2 L1162.1 129.5 L1160.6 132.6 M1160.6 132.6 L1159.6 130.4 L1159.0 128.1 L1157.4 126.3 L1155.5 125.0 L1153.6 124.5 L1151.1 123.6 L1148.0 122.7 L1144.8 121.8 L1142.9 119.3 M1160.6 132.6 L1159.6 128.1 L1159.3 125.9 M1160.6 132.6 L1159.9 137.9 L1159.9 146.7 L1160.6 155.3 L1160.9 159.6 L1161.1 162.1 M1161.1 162.1 L1163.1 162.8 L1165.5 161.6 M1165.5 161.6 L1167.5 158.7 L1169.1 155.3 L1169.4 152.7 L1169.1 149.3 L1167.5 145.8 L1168.1 143.2 L1169.1 140.1 L1170.0 137.1 L1171.3 133.9 L1173.2 132.2 L1173.8 135.3 L1174.7 133.5 L1175.7 130.8 L1176.6 129.5 L1177.3 126.8 L1178.7 126.5 L1180.7 127.7 L1182.6 129.0 L1185.8 129.9 L1187.3 132.6 L1187.7 135.7 L1187.3 139.3 L1185.8 141.5 L1183.9 143.7 L1184.2 145.4 L1186.1 144.5 L1187.7 142.8 L1189.9 141.9 L1191.4 145.0 L1192.7 148.4 L1193.0 151.0 L1192.4 154.5 L1190.5 156.2 L1188.9 157.4 L1188.3 160.0 L1186.7 161.9 M1165.5 161.6 L1171.9 161.6 L1178.2 162.1 L1186.7 161.9 M1186.7 161.9 L1188.9 163.0 L1190.8 164.2 L1192.7 164.6 L1195.9 163.8 L1197.7 163.8 L1200.3 162.1 L1202.2 161.3 L1205.2 159.7 L1207.8 158.3 L1210.0 157.3 L1212.9 155.3 L1215.4 152.3 L1214.8 150.2 L1214.4 148.9 L1217.3 148.0 L1221.1 147.8 L1224.2 148.9 L1227.4 148.7 L1229.9 147.6 L1232.4 146.4 L1232.1 144.1 L1232.4 142.3 L1231.4 141.0 L1234.9 138.8 L1238.1 135.3 L1240.6 133.5 L1241.8 133.5 L1250.3 133.4 L1262.0 133.4 L1264.5 130.8 L1266.4 129.9 L1268.3 126.8 L1270.2 123.6 L1271.5 120.9 M1056.9 96.5 L1056.9 168.0 M1032.1 133.5 L1056.9 133.5 M1056.9 125.1 L1104.1 125.1 M1032.1 168.0 L1069.5 168.0 L1069.5 200.4 M1032.1 200.4 L1116.3 200.4 M1056.9 151.0 L1091.9 151.0 L1095.1 152.3 L1098.2 152.3 L1101.4 153.2 L1103.9 155.3 L1104.8 155.3 M1069.5 176.3 L1112.1 176.3 M1063.6 200.4 L1063.6 204.4 L1063.3 238.7 L1040.7 238.7 L1032.1 238.7 M1063.3 204.4 L1082.5 204.4 L1082.5 219.4 L1085.0 220.8 L1087.5 222.1 L1091.3 222.5 L1094.4 223.7 L1097.6 224.4 L1100.1 225.5 L1102.6 225.2 L1105.1 225.5 L1108.3 224.8 L1110.8 224.6 L1114.0 224.8 L1117.2 226.4 L1120.0 227.1 L1120.0 231.1 M1117.2 226.4 L1117.5 212.9 L1116.3 204.4 L1116.3 200.4 L1116.4 183.6 L1114.6 181.2 L1113.3 179.6 L1112.1 176.3 L1110.8 173.8 L1108.9 171.3 L1108.3 168.0 L1108.3 163.8 L1107.0 159.6 L1105.8 157.0 L1104.8 155.3 L1103.9 151.0 L1104.8 146.7 L1104.8 130.8 L1104.1 125.1 L1102.9 120.9 L1102.6 116.3 L1102.3 110.7 L1101.4 106.0 L1100.4 101.3 L1099.9 96.5 M1116.3 204.4 L1144.5 204.4 L1143.2 207.5 L1143.1 208.3 L1147.2 208.3 M1120.0 231.1 L1138.1 231.2 M1120.0 231.1 L1120.0 238.7 L1121.5 241.6 L1122.8 244.6 L1123.1 247.5 L1122.1 251.2 L1121.3 255.6 M1138.1 231.2 L1138.5 234.2 L1139.2 237.2 L1136.6 239.4 L1136.0 242.4 L1135.4 244.6 L1135.1 246.1 L1147.2 246.1 L1146.7 248.3 L1147.3 250.1 L1148.0 251.9 M1138.1 231.2 L1138.5 227.4 L1139.5 224.4 L1141.7 220.6 L1142.9 217.5 L1144.8 215.2 L1145.8 212.1 L1147.3 209.0 L1148.0 206.7 L1148.6 204.4 M1104.8 146.7 L1137.8 146.7 M1109.1 171.5 L1134.6 171.2 L1136.5 173.1 M1136.5 173.1 L1137.9 170.5 L1138.5 168.0 L1141.0 164.2 L1143.6 163.0 L1144.2 160.8 L1142.9 157.9 L1141.4 155.3 L1139.2 153.6 L1138.2 150.2 L1137.8 146.7 M1136.5 173.1 L1136.3 176.3 L1137.9 179.6 L1140.1 182.0 L1141.7 183.6 L1144.2 185.7 L1144.2 188.5 L1143.6 190.9 L1146.1 193.3 L1148.0 196.5 L1148.9 198.8 L1150.5 200.4 L1150.8 202.0 L1149.9 203.6 L1148.6 204.4 M1137.8 146.7 L1137.3 143.2 L1134.1 140.6 L1131.0 137.9 L1127.8 135.7 L1128.1 132.6 L1128.4 129.0 L1131.0 126.3 L1131.0 123.6 L1131.0 118.6 L1131.9 118.1 M1141.4 155.3 L1159.3 155.4 M1161.1 162.1 L1161.0 181.2 L1160.6 183.6 L1160.9 186.1 L1158.7 190.1 L1157.7 194.1 M1150.5 200.4 L1153.0 199.2 L1155.2 199.6 L1157.4 196.9 L1157.7 194.1 L1160.6 193.3 L1163.7 194.1 L1166.9 193.3 L1169.4 192.1 L1171.3 191.3 L1172.2 190.2 L1174.4 188.5 L1175.7 186.9 L1178.1 183.6 L1180.7 184.4 L1183.3 186.2 L1185.8 187.3 L1187.7 187.7 L1190.8 187.7 L1192.1 189.3 L1194.6 187.7 L1195.9 185.2 L1197.4 184.0 L1199.0 182.0 L1201.5 180.4 L1203.1 178.7 L1204.4 175.4 L1204.7 173.0 L1205.2 171.0 M1178.1 162.1 L1178.1 183.6 M1205.2 171.0 L1205.2 159.7 M1192.1 189.3 L1192.7 192.5 L1194.6 194.9 L1196.2 196.1 L1193.3 198.1 L1190.2 200.4 L1187.7 202.0 L1185.3 203.6 M1148.6 204.4 L1157.6 204.4 L1157.6 202.9 L1164.4 203.2 L1170.7 203.3 L1177.0 203.4 L1185.3 203.6 L1197.9 203.7 L1208.5 204.0 L1221.1 204.0 L1228.0 204.0 L1234.3 204.0 M1197.9 203.7 L1196.5 205.9 L1194.6 207.1 L1192.1 208.7 L1189.6 210.2 L1186.4 211.8 L1183.9 212.1 L1181.4 214.3 L1181.2 216.1 M1143.6 216.0 L1156.8 216.0 L1173.2 216.2 L1181.2 216.1 L1188.9 216.1 M1156.8 216.0 L1156.2 223.7 L1155.1 239.4 L1155.5 246.1 L1155.5 250.8 M1173.2 216.2 L1174.4 223.7 L1175.7 232.0 L1177.0 235.0 L1176.6 238.7 L1176.6 246.1 M1161.2 251.2 L1160.6 246.1 L1176.6 246.1 M1176.6 246.1 L1177.8 248.3 L1186.4 248.6 L1194.6 249.2 L1195.5 247.5 L1196.5 247.5 L1199.3 248.1 M1188.9 216.1 L1190.8 218.3 L1192.1 220.6 L1194.0 223.7 L1195.9 226.7 L1197.1 229.7 L1199.0 232.0 L1200.3 235.0 L1201.5 237.2 L1203.1 238.3 M1188.9 216.1 L1193.3 214.5 L1198.4 214.7 L1201.8 214.9 L1202.8 215.6 L1203.4 217.5 L1208.5 217.5 L1210.3 217.5 L1214.1 221.4 L1217.6 224.8 M1196.2 196.1 L1198.4 198.5 L1200.9 198.5 L1203.4 197.3 L1205.3 196.9 L1206.6 194.9 L1208.5 192.9 L1210.3 190.1 L1211.6 188.5 L1213.2 186.9 L1214.8 185.7 L1216.6 184.0 L1218.5 182.8 L1220.4 182.8 L1222.3 182.4 L1222.9 181.8 M1222.9 181.8 L1221.1 180.0 L1219.2 179.6 L1217.3 180.0 L1214.8 180.8 L1211.7 182.8 L1211.7 178.6 M1205.2 171.0 L1205.2 178.6 L1211.7 178.6 L1227.4 178.6 L1234.9 178.6 L1236.2 177.7 L1237.4 177.9 M1234.9 178.6 L1235.0 188.8 L1239.6 188.9 M1222.9 181.8 L1224.5 182.8 L1226.7 184.8 L1227.0 186.1 L1226.7 187.7 L1225.8 189.3 L1227.4 190.1 L1229.9 191.3 L1231.8 192.5 M1235.9 192.9 L1238.4 192.2 M1237.4 177.9 L1239.3 176.7 L1240.6 175.4 L1241.5 174.6 L1240.0 173.0 L1238.7 171.3 L1239.3 168.8 L1240.3 167.1 L1241.8 165.1 M1210.0 157.3 L1210.0 159.6 L1237.7 159.6 L1238.7 160.8 L1239.6 163.0 L1241.8 165.1 L1244.4 166.7 L1246.9 168.0 L1246.6 170.1 M1248.5 168.2 L1249.4 166.3 L1249.3 159.1 L1250.9 153.2 L1250.8 145.8 L1250.0 140.6 L1250.3 133.4 M1249.3 159.1 L1260.1 159.4 L1262.8 159.4 L1264.4 163.8 M1260.1 159.4 L1259.8 165.5 M1250.9 153.2 L1256.0 153.3 L1263.3 153.6 L1266.4 152.1 M1256.0 153.3 L1256.3 149.3 L1257.0 145.8 L1258.9 139.7 L1261.4 136.2 L1262.0 133.4 M1267.0 150.3 L1265.3 146.7 L1264.8 137.9 L1264.6 130.8 M1268.3 148.4 L1267.0 150.3 L1266.4 152.1 L1267.7 154.0 L1265.8 154.9 L1265.2 157.0 L1265.8 157.9 L1267.7 160.0 L1268.0 161.7 L1265.8 163.0 L1264.5 163.8 L1263.3 163.0 L1262.6 164.2 L1259.8 165.5 L1257.0 165.7 L1253.2 165.9 L1250.7 167.1 L1248.5 168.2 L1247.5 169.2 L1246.6 170.1 L1245.9 171.3 M1246.3 171.3 L1248.8 171.5 L1252.6 170.5 L1255.7 169.2 L1259.7 167.4 L1257.0 168.0 L1255.1 168.2 L1251.3 168.7 L1248.8 168.8 L1247.5 169.7 L1246.3 171.3 M1245.9 171.3 L1246.3 173.0 L1245.9 176.3 L1245.3 178.7 L1243.7 181.6 L1241.8 183.6 L1240.3 185.0 L1240.3 183.2 L1238.7 182.0 L1236.8 180.4 L1236.5 179.1 L1237.4 177.9 M1236.5 179.1 L1237.1 181.6 L1238.1 184.0 L1239.3 186.1 L1239.6 188.9 L1239.0 190.9 L1238.4 192.2 L1237.1 194.5 L1235.9 196.9 L1234.3 199.2 L1233.7 198.1 L1234.0 195.7 L1234.6 192.9 L1233.3 190.9 L1232.4 188.1 L1233.0 185.2 L1232.1 183.2 L1233.0 181.2 L1233.3 180.0 M1233.3 180.0 L1231.4 181.6 L1230.2 182.8 L1231.1 184.8 L1230.5 186.9 L1230.8 189.7 L1231.8 192.1 L1230.5 193.7 L1231.8 196.1 L1230.8 198.1 L1231.8 200.4 L1233.7 201.1 L1234.3 204.0 M1231.8 192.1 L1228.0 190.9 L1229.9 191.3 M1230.8 198.1 L1228.6 196.9 M1231.8 196.1 L1228.3 194.1 M1231.8 200.4 L1229.2 199.6 L1231.8 200.8 M1230.8 189.7 L1228.9 188.5 M1234.0 195.7 L1232.4 193.3 L1234.3 192.5 M1232.4 188.1 L1234.3 189.7 L1231.8 190.1 M1234.3 204.0 L1235.5 206.7 L1236.8 209.8 L1237.1 212.9 L1236.8 214.1 L1234.9 214.9 L1233.0 216.0 L1230.5 218.3 L1228.0 218.3 L1224.8 219.8 L1222.6 222.1 L1221.4 224.4 L1219.8 224.3 L1217.6 224.8 M1234.3 204.0 L1233.7 205.9 L1230.5 208.3 L1233.7 208.7 L1234.6 211.4 L1233.7 212.9 L1229.9 213.7 L1230.5 215.2 L1227.7 216.0 L1229.9 217.2 M1230.5 208.3 L1228.0 207.9 L1229.2 209.0 M1233.7 212.9 L1228.6 212.5 M1217.6 224.8 L1214.8 227.4 L1213.5 229.7 L1211.6 231.2 L1209.1 233.1 L1207.2 234.6 L1205.6 236.1 L1204.0 237.2 L1203.1 238.3 L1201.5 240.5 L1200.9 242.4 L1200.3 245.0 L1199.3 248.1 L1200.3 253.4 L1201.9 262.2 L1205.0 269.2 L1207.5 275.0 L1207.2 281.9 L1206.1 287.7 L1208.2 293.8 L1205.3 291.0 L1201.9 287.7 L1197.6 280.9 L1194.0 274.9 L1190.0 268.2 L1190.8 259.7 L1187.7 256.3 L1183.3 252.7 L1180.7 253.7 L1178.2 255.2 L1176.3 255.7 L1174.4 254.5 L1173.2 252.7 L1170.0 250.8 L1167.5 250.5 L1165.0 250.6 L1162.5 251.2 L1161.2 251.2 M1161.2 251.2 L1159.3 251.6 L1158.1 249.7 L1158.7 248.3 L1157.4 249.0 L1157.4 251.2 L1155.5 250.8 L1153.0 250.5 L1150.5 250.8 L1148.0 251.9 L1147.0 252.7 L1148.0 253.4 L1146.7 255.2 L1148.6 256.3 L1149.2 257.7 L1150.8 259.2 L1151.4 260.6 L1149.5 260.3 L1148.9 258.5 L1147.3 258.1 L1146.1 259.2 L1144.8 259.9 L1143.6 258.5 L1142.3 259.9 L1140.4 260.3 L1137.9 259.2 L1136.9 258.5 L1135.4 256.3 L1133.5 255.9 L1132.2 256.4 L1130.3 256.6 L1127.8 255.9 L1125.3 255.0 L1121.3 255.6 L1119.0 255.9 L1116.5 257.4 L1114.6 258.5 L1113.3 259.9 L1111.4 261.3 L1108.3 263.5 L1106.4 264.2 L1104.5 265.6 L1102.6 267.1 L1101.4 268.9 L1099.8 270.6 L1099.1 273.5 L1098.8 276.3 L1099.5 279.1 L1100.1 281.2 L1100.4 282.3 M1147.0 252.7 L1144.8 250.8 L1142.6 251.6 L1144.2 253.0 L1147.0 252.7 M1100.4 282.3 L1098.2 282.8 L1095.7 281.6 L1093.2 281.2 L1090.6 279.8 L1088.1 278.8 L1086.9 275.6 L1085.6 271.3 L1083.7 268.5 L1080.6 265.6 L1079.3 262.1 L1078.4 259.9 L1076.2 257.0 L1073.6 255.1 L1071.1 254.8 L1068.0 254.3 L1065.4 255.2 L1064.2 258.5 L1062.9 260.8 L1061.0 260.3 L1059.8 259.5 L1057.3 258.1 L1054.1 255.9 L1052.8 252.7 L1051.6 249.0 L1049.1 247.2 L1047.2 245.3 L1044.7 243.1 L1042.1 240.5 L1040.7 238.7 M1037.5 91.7 L1037.5 240.3 M1037.5 94.4 L1113.0 94.4 M1271.5 119.0 L1271.5 145.8" fill="none" stroke="#000" stroke-width="3.0" stroke-linejoin="round" stroke-linecap="round"/>
<path d="M1240.0 179.0L1234.4 177.3 M1239.5 181.1L1232.2 179.0 M1239.0 183.2L1232.3 182.5 M1238.4 185.3L1234.1 185.3 M1237.9 187.4L1233.7 187.0 M1237.4 189.5L1233.0 187.4 M1236.9 191.6L1230.7 193.2 M1236.3 193.7L1231.7 192.3 M1235.8 195.8L1228.7 198.0 M1235.3 197.9L1228.4 197.3 M1235.1 200.0L1226.2 197.7 M1235.3 202.0L1227.0 201.0 M1235.5 204.1L1230.8 202.2 M1235.7 206.2L1230.2 207.8 M1235.9 208.3L1231.0 208.7 M1236.1 210.4L1228.9 209.8 M1236.4 212.5L1229.6 210.3 M1235.0 214.6L1230.7 213.1 M1231.7 216.7L1224.3 216.4 M1228.3 218.8L1222.7 219.2 M1225.0 220.9L1218.7 219.9 M1221.6 223.0L1213.6 224.0" stroke="#000" stroke-width="1.6" fill="none"/>
<polygon points="1228.0,181.0 1232.0,180.8 1237.0,178.0 1240.5,176.5 1243.0,178.5 1241.0,184.5 1238.5,192.0 1235.5,199.0 1237.0,210.0 1235.5,214.0 1232.5,215.0 1231.0,206.0 1229.5,200.0 1227.0,195.0 1230.0,191.0 1228.0,186.0" fill="#000" stroke="#000" stroke-width="1.5" stroke-linejoin="round"/>
<polygon points="1231.5,216.5 1226.5,219.5 1220.0,224.0 1222.0,218.5 1226.0,213.0 1229.5,208.0" fill="#000" stroke="#000" stroke-width="1.5" stroke-linejoin="round"/>
<polygon points="1250.2,162.5 1262.9,160.5 1271.1,160.5 1271.1,163.0 1260.2,166.5 1252.0,171.0 1246.6,172.5 1246.0,168.2" fill="#000" stroke="#000" stroke-width="1.5" stroke-linejoin="round"/>
</g>
<rect x="1285.5" y="95.0" width="23.3" height="215.6" fill="url(#jet)" stroke="#262626" stroke-width="0.9"/>
<line x1="1306.3" y1="99.0" x2="1308.8" y2="99.0" stroke="#262626" stroke-width="0.9"/>
<text x="1317.3" y="106.4" font-size="22" font-weight="bold" fill="#262626" stroke="#262626" stroke-width="0.48" textLength="44.2" lengthAdjust="spacingAndGlyphs">280</text>
<line x1="1306.3" y1="151.8" x2="1308.8" y2="151.8" stroke="#262626" stroke-width="0.9"/>
<text x="1317.3" y="159.2" font-size="22" font-weight="bold" fill="#262626" stroke="#262626" stroke-width="0.48" textLength="44.2" lengthAdjust="spacingAndGlyphs">270</text>
<line x1="1306.3" y1="204.3" x2="1308.8" y2="204.3" stroke="#262626" stroke-width="0.9"/>
<text x="1317.3" y="211.7" font-size="22" font-weight="bold" fill="#262626" stroke="#262626" stroke-width="0.48" textLength="44.2" lengthAdjust="spacingAndGlyphs">260</text>
<line x1="1306.3" y1="257.0" x2="1308.8" y2="257.0" stroke="#262626" stroke-width="0.9"/>
<text x="1317.3" y="264.4" font-size="22" font-weight="bold" fill="#262626" stroke="#262626" stroke-width="0.48" textLength="44.2" lengthAdjust="spacingAndGlyphs">250</text>
<line x1="1306.3" y1="309.1" x2="1308.8" y2="309.1" stroke="#262626" stroke-width="0.9"/>
<text x="1317.3" y="316.5" font-size="22" font-weight="bold" fill="#262626" stroke="#262626" stroke-width="0.48" textLength="44.2" lengthAdjust="spacingAndGlyphs">240</text>
<text x="971.5" y="340.8" font-size="24.5" font-weight="bold" fill="#262626" stroke="#262626" stroke-width="0.54" textLength="358.6" lengthAdjust="spacingAndGlyphs">SAT+RAP 500 hPa Temp (K)</text>
<text x="215.4" y="467.4" font-size="13.6" font-weight="bold" fill="#262626" stroke="#262626" stroke-width="0.30" textLength="25.6" lengthAdjust="spacingAndGlyphs">100</text>
<circle cx="245.0" cy="454.6" r="1.3" fill="none" stroke="#262626" stroke-width="0.8"/>
<text x="252.6" y="467.4" font-size="13.6" font-weight="bold" fill="#262626" stroke="#262626" stroke-width="0.30" textLength="13.2" lengthAdjust="spacingAndGlyphs">W</text>
<text x="284.0" y="467.4" font-size="13.6" font-weight="bold" fill="#262626" stroke="#262626" stroke-width="0.30" textLength="17.0" lengthAdjust="spacingAndGlyphs">90</text>
<circle cx="305.0" cy="454.6" r="1.3" fill="none" stroke="#262626" stroke-width="0.8"/>
<text x="313.6" y="467.4" font-size="13.6" font-weight="bold" fill="#262626" stroke="#262626" stroke-width="0.30" textLength="13.2" lengthAdjust="spacingAndGlyphs">W</text>
<text x="348.2" y="467.4" font-size="13.6" font-weight="bold" fill="#262626" stroke="#262626" stroke-width="0.30" textLength="17.4" lengthAdjust="spacingAndGlyphs">80</text>
<circle cx="369.8" cy="454.6" r="1.3" fill="none" stroke="#262626" stroke-width="0.8"/>
<text x="377.6" y="467.4" font-size="13.6" font-weight="bold" fill="#262626" stroke="#262626" stroke-width="0.30" textLength="13.0" lengthAdjust="spacingAndGlyphs">W</text>
<text x="411.4" y="467.4" font-size="13.6" font-weight="bold" fill="#262626" stroke="#262626" stroke-width="0.30" textLength="16.6" lengthAdjust="spacingAndGlyphs">70</text>
<circle cx="431.8" cy="454.6" r="1.3" fill="none" stroke="#262626" stroke-width="0.8"/>
<text x="440.4" y="467.4" font-size="13.6" font-weight="bold" fill="#262626" stroke="#262626" stroke-width="0.30" textLength="13.4" lengthAdjust="spacingAndGlyphs">W</text>
<text x="145.9" y="503.1" font-size="13.3" font-weight="bold" fill="#262626" stroke="#262626" stroke-width="0.29" textLength="17.9" lengthAdjust="spacingAndGlyphs">48</text>
<circle cx="168.0" cy="489.9" r="1.3" fill="none" stroke="#262626" stroke-width="0.8"/>
<text x="175.7" y="503.1" font-size="13.3" font-weight="bold" fill="#262626" stroke="#262626" stroke-width="0.29" textLength="9.6" lengthAdjust="spacingAndGlyphs">N</text>
<text x="145.9" y="521.0" font-size="13.3" font-weight="bold" fill="#262626" stroke="#262626" stroke-width="0.29" textLength="17.9" lengthAdjust="spacingAndGlyphs">46</text>
<circle cx="168.0" cy="507.8" r="1.3" fill="none" stroke="#262626" stroke-width="0.8"/>
<text x="175.7" y="521.0" font-size="13.3" font-weight="bold" fill="#262626" stroke="#262626" stroke-width="0.29" textLength="9.6" lengthAdjust="spacingAndGlyphs">N</text>
<text x="145.9" y="538.0" font-size="13.3" font-weight="bold" fill="#262626" stroke="#262626" stroke-width="0.29" textLength="17.9" lengthAdjust="spacingAndGlyphs">44</text>
<circle cx="168.0" cy="524.8" r="1.3" fill="none" stroke="#262626" stroke-width="0.8"/>
<text x="175.7" y="538.0" font-size="13.3" font-weight="bold" fill="#262626" stroke="#262626" stroke-width="0.29" textLength="9.6" lengthAdjust="spacingAndGlyphs">N</text>
<text x="145.9" y="556.9" font-size="13.3" font-weight="bold" fill="#262626" stroke="#262626" stroke-width="0.29" textLength="17.9" lengthAdjust="spacingAndGlyphs">42</text>
<circle cx="168.0" cy="543.7" r="1.3" fill="none" stroke="#262626" stroke-width="0.8"/>
<text x="175.7" y="556.9" font-size="13.3" font-weight="bold" fill="#262626" stroke="#262626" stroke-width="0.29" textLength="9.6" lengthAdjust="spacingAndGlyphs">N</text>
<text x="145.9" y="573.1" font-size="13.3" font-weight="bold" fill="#262626" stroke="#262626" stroke-width="0.29" textLength="17.9" lengthAdjust="spacingAndGlyphs">40</text>
<circle cx="168.0" cy="559.9" r="1.3" fill="none" stroke="#262626" stroke-width="0.8"/>
<text x="175.7" y="573.1" font-size="13.3" font-weight="bold" fill="#262626" stroke="#262626" stroke-width="0.29" textLength="9.6" lengthAdjust="spacingAndGlyphs">N</text>
<text x="145.9" y="588.0" font-size="13.3" font-weight="bold" fill="#262626" stroke="#262626" stroke-width="0.29" textLength="17.9" lengthAdjust="spacingAndGlyphs">38</text>
<circle cx="168.0" cy="574.8" r="1.3" fill="none" stroke="#262626" stroke-width="0.8"/>
<text x="175.7" y="588.0" font-size="13.3" font-weight="bold" fill="#262626" stroke="#262626" stroke-width="0.29" textLength="9.6" lengthAdjust="spacingAndGlyphs">N</text>
<text x="145.9" y="604.9" font-size="13.3" font-weight="bold" fill="#262626" stroke="#262626" stroke-width="0.29" textLength="17.9" lengthAdjust="spacingAndGlyphs">36</text>
<circle cx="168.0" cy="591.7" r="1.3" fill="none" stroke="#262626" stroke-width="0.8"/>
<text x="175.7" y="604.9" font-size="13.3" font-weight="bold" fill="#262626" stroke="#262626" stroke-width="0.29" textLength="9.6" lengthAdjust="spacingAndGlyphs">N</text>
<text x="145.9" y="619.0" font-size="13.3" font-weight="bold" fill="#262626" stroke="#262626" stroke-width="0.29" textLength="17.9" lengthAdjust="spacingAndGlyphs">34</text>
<circle cx="168.0" cy="605.8" r="1.3" fill="none" stroke="#262626" stroke-width="0.8"/>
<text x="175.7" y="619.0" font-size="13.3" font-weight="bold" fill="#262626" stroke="#262626" stroke-width="0.29" textLength="9.6" lengthAdjust="spacingAndGlyphs">N</text>
<text x="145.9" y="635.8" font-size="13.3" font-weight="bold" fill="#262626" stroke="#262626" stroke-width="0.29" textLength="17.9" lengthAdjust="spacingAndGlyphs">32</text>
<circle cx="168.0" cy="622.6" r="1.3" fill="none" stroke="#262626" stroke-width="0.8"/>
<text x="175.7" y="635.8" font-size="13.3" font-weight="bold" fill="#262626" stroke="#262626" stroke-width="0.29" textLength="9.6" lengthAdjust="spacingAndGlyphs">N</text>
<text x="145.9" y="649.8" font-size="13.3" font-weight="bold" fill="#262626" stroke="#262626" stroke-width="0.29" textLength="17.9" lengthAdjust="spacingAndGlyphs">30</text>
<circle cx="168.0" cy="636.6" r="1.3" fill="none" stroke="#262626" stroke-width="0.8"/>
<text x="175.7" y="649.8" font-size="13.3" font-weight="bold" fill="#262626" stroke="#262626" stroke-width="0.29" textLength="9.6" lengthAdjust="spacingAndGlyphs">N</text>
<text x="145.9" y="662.9" font-size="13.3" font-weight="bold" fill="#262626" stroke="#262626" stroke-width="0.29" textLength="17.9" lengthAdjust="spacingAndGlyphs">28</text>
<circle cx="168.0" cy="649.7" r="1.3" fill="none" stroke="#262626" stroke-width="0.8"/>
<text x="175.7" y="662.9" font-size="13.3" font-weight="bold" fill="#262626" stroke="#262626" stroke-width="0.29" textLength="9.6" lengthAdjust="spacingAndGlyphs">N</text>
<text x="145.9" y="677.7" font-size="13.3" font-weight="bold" fill="#262626" stroke="#262626" stroke-width="0.29" textLength="17.9" lengthAdjust="spacingAndGlyphs">26</text>
<circle cx="168.0" cy="664.5" r="1.3" fill="none" stroke="#262626" stroke-width="0.8"/>
<text x="175.7" y="677.7" font-size="13.3" font-weight="bold" fill="#262626" stroke="#262626" stroke-width="0.29" textLength="9.6" lengthAdjust="spacingAndGlyphs">N</text>
<text x="145.9" y="691.7" font-size="13.3" font-weight="bold" fill="#262626" stroke="#262626" stroke-width="0.29" textLength="17.9" lengthAdjust="spacingAndGlyphs">24</text>
<circle cx="168.0" cy="678.5" r="1.3" fill="none" stroke="#262626" stroke-width="0.8"/>
<text x="175.7" y="691.7" font-size="13.3" font-weight="bold" fill="#262626" stroke="#262626" stroke-width="0.29" textLength="9.6" lengthAdjust="spacingAndGlyphs">N</text>
<text x="145.9" y="704.9" font-size="13.3" font-weight="bold" fill="#262626" stroke="#262626" stroke-width="0.29" textLength="17.9" lengthAdjust="spacingAndGlyphs">22</text>
<circle cx="168.0" cy="691.7" r="1.3" fill="none" stroke="#262626" stroke-width="0.8"/>
<text x="175.7" y="704.9" font-size="13.3" font-weight="bold" fill="#262626" stroke="#262626" stroke-width="0.29" textLength="9.6" lengthAdjust="spacingAndGlyphs">N</text>
<rect x="195.6" y="486.4" width="234.0" height="213.3" fill="none" stroke="#262626" stroke-width="1.1"/>
<clipPath id="sw10"><polygon points="195.5,557.4 226.4,544.0 262.7,530.7 311.2,517.4 354.8,511.0 359.7,512.2 362.1,538.0 359.7,540.4 335.5,544.0 311.2,548.3 284.5,554.9 262.7,561.0 248.2,564.6 236.1,569.5 226.4,573.1 214.2,579.2 205.8,582.8 203.0,581.4 195.5,564.4"/><polygon points="211.0,594.9 214.0,592.9 238.5,587.7 274.8,573.1 311.2,563.4 335.5,558.6 362.1,553.7 364.5,554.2 365.5,572.4 368.4,597.4 382.3,700.6 380.0,702.2 247.5,702.4 245.7,701.4 210.5,596.9"/></clipPath>
<g clip-path="url(#sw10)">
<polygon points="212.4,550.3 238.6,538.6 267.7,528.4 289.5,524.1 318.6,516.8 354.9,511.0 360.5,512.4 361.5,524.4 348.0,543.0 318.6,544.4 296.8,553.2 275.0,556.1 260.4,561.9 238.6,564.8 221.2,573.5 214.0,576.4 208.0,571.4 207.0,562.4" fill="#800000"/>
<polygon points="211.0,594.9 238.5,587.7 274.8,573.1 311.2,563.4 335.5,558.6 362.1,553.7 365.5,569.2 347.7,579.3 333.1,582.2 318.6,588.1 308.4,591.0 296.8,596.8 282.2,598.2 274.7,604.4 263.6,615.1 255.2,620.7 249.6,631.8 239.9,640.2 225.9,641.6 211.0,596.9" fill="#800000"/>
<polygon points="317.0,516.4 347.0,511.4 349.0,543.4 318.0,546.4" fill="#ff4c00"/>
<polygon points="225.9,641.6 239.9,640.2 249.6,631.8 255.2,620.7 263.6,615.1 277.5,603.9 280.3,645.8 271.9,666.7 262.0,680.4 243.0,678.4 233.0,658.4" fill="#00b2ff"/>
<path d="M366.0 659.0h0" stroke="#00cfff" stroke-width="8.0" stroke-linecap="round" fill="none"/>
<path d="M334.8 522.4h0M321.2 537.0h0M296.2 527.6h0" stroke="#dfff20" stroke-width="5.0" stroke-linecap="round" fill="none"/>
<path d="M320.6 682.0h0" stroke="#0000bf" stroke-width="8.0" stroke-linecap="round" fill="none"/>
<path d="M363.4 571.8h0M357.0 579.3h0M333.4 590.3h0" stroke="#ff2000" stroke-width="6.0" stroke-linecap="round" fill="none"/>
<path d="M347.2 670.0h0M335.4 673.7h0M356.2 690.0h0" stroke="#0000bf" stroke-width="7.0" stroke-linecap="round" fill="none"/>
<path d="M272.5 611.5h0M260.2 620.6h0M230.1 644.7h0M228.7 647.4h0M267.6 647.2h0M286.4 608.1h0" stroke="#00afff" stroke-width="6.0" stroke-linecap="round" fill="none"/>
<path d="M374.7 677.0h0" stroke="#0000df" stroke-width="7.0" stroke-linecap="round" fill="none"/>
<path d="M361.3 669.3h0M348.6 673.3h0M375.1 687.4h0" stroke="#0080ff" stroke-width="7.0" stroke-linecap="round" fill="none"/>
<path d="M252.4 667.9h0M296.1 619.5h0M306.4 629.2h0M296.7 639.8h0M299.6 650.7h0" stroke="#00afff" stroke-width="6.0" stroke-linecap="round" fill="none"/>
<path d="M249.1 662.7h0M250.4 664.6h0M321.5 690.2h0M335.7 690.2h0" stroke="#0000df" stroke-width="6.0" stroke-linecap="round" fill="none"/>
<path d="M342.4 678.3h0M378.9 678.0h0M362.2 695.3h0" stroke="#0020ff" stroke-width="8.0" stroke-linecap="round" fill="none"/>
<path d="M317.6 690.4h0" stroke="#20ffdf" stroke-width="7.0" stroke-linecap="round" fill="none"/>
<path d="M321.0 538.3h0" stroke="#80ff80" stroke-width="5.0" stroke-linecap="round" fill="none"/>
<path d="M321.1 519.2h0M337.7 539.5h0M326.9 540.9h0M330.6 583.2h0M319.9 592.8h0M351.7 577.0h0M257.2 622.1h0M249.5 637.3h0M309.4 619.9h0" stroke="#ffaf00" stroke-width="5.0" stroke-linecap="round" fill="none"/>
<path d="M248.8 637.1h0M236.0 648.3h0M257.5 661.4h0M259.5 674.6h0" stroke="#0000df" stroke-width="5.0" stroke-linecap="round" fill="none"/>
<path d="M267.0 621.5h0M239.7 644.0h0" stroke="#00efff" stroke-width="6.0" stroke-linecap="round" fill="none"/>
<path d="M294.0 607.1h0M269.7 610.5h0M357.8 575.6h0" stroke="#ff2000" stroke-width="5.0" stroke-linecap="round" fill="none"/>
<path d="M326.4 515.0h0M330.5 532.4h0M321.3 526.4h0M321.2 534.0h0M257.2 624.3h0M247.4 635.3h0" stroke="#dfff20" stroke-width="6.0" stroke-linecap="round" fill="none"/>
<path d="M364.4 677.0h0M353.2 691.0h0M343.6 695.1h0M370.1 699.3h0" stroke="#00cfff" stroke-width="7.0" stroke-linecap="round" fill="none"/>
<path d="M337.7 515.3h0M341.3 514.4h0M330.9 518.6h0M328.2 527.9h0" stroke="#df0000" stroke-width="6.0" stroke-linecap="round" fill="none"/>
<path d="M365.1 569.5h0M282.3 603.6h0M289.1 620.5h0M293.2 625.4h0" stroke="#afff50" stroke-width="5.0" stroke-linecap="round" fill="none"/>
<path d="M243.3 667.8h0" stroke="#0000cf" stroke-width="5.0" stroke-linecap="round" fill="none"/>
<path d="M276.8 603.3h0" stroke="#0080ff" stroke-width="5.0" stroke-linecap="round" fill="none"/>
<path d="M267.9 640.3h0M256.1 655.5h0M250.5 675.0h0" stroke="#0050ff" stroke-width="5.0" stroke-linecap="round" fill="none"/>
<path d="M355.6 663.4h0M303.9 694.8h0" stroke="#0000bf" stroke-width="8.0" stroke-linecap="round" fill="none"/>
<path d="M338.2 669.4h0M338.2 699.5h0" stroke="#0020ff" stroke-width="7.0" stroke-linecap="round" fill="none"/>
<path d="M274.6 616.6h0M267.8 635.5h0M250.0 651.6h0M240.7 655.1h0M259.8 654.9h0M266.9 655.5h0M242.3 671.6h0M289.1 606.3h0M301.2 612.7h0M306.4 615.1h0M302.5 622.0h0M312.4 629.6h0M309.3 632.0h0" stroke="#00afff" stroke-width="5.0" stroke-linecap="round" fill="none"/>
<path d="M256.8 634.9h0M263.8 634.0h0M252.6 636.8h0M270.2 637.3h0M260.5 679.6h0M287.8 609.9h0M288.3 615.5h0M288.3 637.3h0M291.7 636.3h0M305.0 640.2h0" stroke="#00afff" stroke-width="6.0" stroke-linecap="round" fill="none"/>
<path d="M247.9 671.2h0" stroke="#0000cf" stroke-width="5.0" stroke-linecap="round" fill="none"/>
<path d="M343.1 518.1h0M322.6 538.0h0M341.0 542.7h0M324.7 540.4h0M293.4 524.7h0M266.6 660.7h0M246.5 639.2h0" stroke="#dfff20" stroke-width="6.0" stroke-linecap="round" fill="none"/>
<path d="M324.0 532.2h0M289.6 524.8h0M299.8 527.8h0M276.8 647.8h0M253.3 650.9h0M264.0 675.1h0" stroke="#dfff20" stroke-width="5.0" stroke-linecap="round" fill="none"/>
<path d="M356.0 677.4h0M365.7 690.9h0M349.1 696.0h0" stroke="#00cfff" stroke-width="7.0" stroke-linecap="round" fill="none"/>
<path d="M317.8 527.6h0M318.8 520.8h0" stroke="#80ff80" stroke-width="6.0" stroke-linecap="round" fill="none"/>
<path d="M309.2 609.3h0M304.9 612.4h0M287.9 623.5h0M294.7 625.5h0M289.4 630.3h0" stroke="#00ffff" stroke-width="6.0" stroke-linecap="round" fill="none"/>
<path d="M270.4 620.6h0M246.0 638.8h0M259.0 657.5h0M266.2 658.3h0" stroke="#0050ff" stroke-width="5.0" stroke-linecap="round" fill="none"/>
<path d="M254.2 634.3h0" stroke="#ff9f00" stroke-width="6.0" stroke-linecap="round" fill="none"/>
<path d="M333.9 678.1h0M352.4 694.7h0M366.6 694.9h0" stroke="#0000bf" stroke-width="8.0" stroke-linecap="round" fill="none"/>
<path d="M313.2 616.2h0" stroke="#afff50" stroke-width="5.0" stroke-linecap="round" fill="none"/>
<path d="M316.6 685.7h0M326.2 685.9h0M326.2 694.5h0M357.7 694.6h0" stroke="#0020ff" stroke-width="7.0" stroke-linecap="round" fill="none"/>
<path d="M323.0 525.5h0" stroke="#df0000" stroke-width="5.0" stroke-linecap="round" fill="none"/>
<path d="M365.5 569.6h0M273.8 607.9h0M260.8 617.4h0M253.5 640.8h0M248.7 653.9h0M242.0 662.2h0M253.1 664.8h0M267.6 666.1h0" stroke="#0050ff" stroke-width="6.0" stroke-linecap="round" fill="none"/>
<path d="M332.9 586.8h0M303.3 595.3h0" stroke="#af0000" stroke-width="6.0" stroke-linecap="round" fill="none"/>
<path d="M246.0 667.7h0M254.2 674.4h0M257.1 676.2h0M257.7 678.9h0" stroke="#0000cf" stroke-width="6.0" stroke-linecap="round" fill="none"/>
<path d="M273.2 641.4h0M272.4 652.5h0M264.3 655.6h0M242.8 669.6h0" stroke="#00efff" stroke-width="6.0" stroke-linecap="round" fill="none"/>
<path d="M327.0 682.6h0M365.0 682.2h0" stroke="#0000bf" stroke-width="7.0" stroke-linecap="round" fill="none"/>
<path d="M322.7 521.4h0M328.0 538.1h0M240.6 640.8h0M245.9 641.3h0M232.2 644.1h0" stroke="#ff5000" stroke-width="6.0" stroke-linecap="round" fill="none"/>
<path d="M315.9 590.2h0M281.9 610.8h0M270.2 612.9h0M285.3 619.7h0" stroke="#afff50" stroke-width="6.0" stroke-linecap="round" fill="none"/>
<path d="M331.4 520.6h0M348.0 538.5h0" stroke="#80ff80" stroke-width="5.0" stroke-linecap="round" fill="none"/>
<path d="M327.9 534.9h0" stroke="#800000" stroke-width="5.0" stroke-linecap="round" fill="none"/>
<path d="M331.7 541.1h0" stroke="#800000" stroke-width="6.0" stroke-linecap="round" fill="none"/>
<path d="M269.0 624.2h0M232.0 644.5h0M233.3 658.9h0M245.6 662.3h0M238.8 666.0h0" stroke="#50ffaf" stroke-width="5.0" stroke-linecap="round" fill="none"/>
<path d="M310.7 596.8h0M305.9 599.4h0M289.3 606.5h0" stroke="#0080ff" stroke-width="6.0" stroke-linecap="round" fill="none"/>
<path d="M370.1 669.5h0M370.7 682.9h0" stroke="#0000df" stroke-width="8.0" stroke-linecap="round" fill="none"/>
<path d="M277.7 620.8h0M267.5 627.4h0M255.8 639.0h0M245.6 664.1h0M291.4 606.3h0M306.9 622.2h0M303.0 637.5h0M304.8 635.5h0M301.7 644.0h0" stroke="#00afff" stroke-width="6.0" stroke-linecap="round" fill="none"/>
<path d="M326.5 521.8h0M344.2 541.7h0M273.3 612.5h0M254.0 632.6h0" stroke="#ffaf00" stroke-width="5.0" stroke-linecap="round" fill="none"/>
<path d="M243.2 645.9h0M249.0 644.4h0M243.3 676.5h0M351.9 663.5h0" stroke="#0000df" stroke-width="6.0" stroke-linecap="round" fill="none"/>
<path d="M337.1 521.1h0M342.0 521.7h0M329.9 529.4h0M326.2 531.4h0M320.5 545.8h0M286.1 598.8h0M286.5 610.1h0M305.2 610.4h0M293.2 619.0h0" stroke="#ffaf00" stroke-width="5.0" stroke-linecap="round" fill="none"/>
<path d="M356.6 672.1h0M347.8 678.0h0M347.7 690.6h0" stroke="#0000df" stroke-width="8.0" stroke-linecap="round" fill="none"/>
<path d="M340.0 531.6h0M344.0 532.8h0M328.3 585.1h0M285.3 602.7h0M274.1 608.7h0M303.3 628.6h0" stroke="#ffaf00" stroke-width="5.0" stroke-linecap="round" fill="none"/>
<path d="M346.4 583.1h0M292.7 603.9h0M277.1 610.6h0M354.9 576.9h0M354.0 578.7h0M249.6 632.7h0M231.8 641.1h0M299.4 605.4h0" stroke="#ffaf00" stroke-width="6.0" stroke-linecap="round" fill="none"/>
<path d="M276.5 608.3h0M257.4 625.4h0M267.4 630.5h0M249.7 642.3h0M232.7 655.5h0M256.9 658.7h0M348.9 686.3h0" stroke="#0000df" stroke-width="6.0" stroke-linecap="round" fill="none"/>
<path d="M321.6 539.2h0" stroke="#80ff80" stroke-width="6.0" stroke-linecap="round" fill="none"/>
<path d="M229.7 642.7h0" stroke="#00dfff" stroke-width="5.0" stroke-linecap="round" fill="none"/>
<path d="M311.5 637.4h0" stroke="#0020ff" stroke-width="5.0" stroke-linecap="round" fill="none"/>
<path d="M334.5 582.1h0M308.5 613.7h0M292.0 615.4h0M303.5 626.1h0" stroke="#afff50" stroke-width="6.0" stroke-linecap="round" fill="none"/>
<path d="M299.8 612.6h0" stroke="#0020ff" stroke-width="5.0" stroke-linecap="round" fill="none"/>
<path d="M283.1 598.9h0" stroke="#ff2000" stroke-width="5.0" stroke-linecap="round" fill="none"/>
<path d="M249.3 671.3h0" stroke="#0000ff" stroke-width="6.0" stroke-linecap="round" fill="none"/>
<path d="M289.1 640.7h0M377.6 669.9h0M312.5 678.4h0M303.6 690.0h0" stroke="#0020ff" stroke-width="6.0" stroke-linecap="round" fill="none"/>
<path d="M360.7 654.8h0M373.8 664.3h0M365.8 686.7h0M343.7 689.9h0" stroke="#0020ff" stroke-width="7.0" stroke-linecap="round" fill="none"/>
<path d="M368.7 660.0h0M322.4 672.5h0M335.0 682.8h0M330.0 691.0h0" stroke="#0000df" stroke-width="7.0" stroke-linecap="round" fill="none"/>
<path d="M324.9 672.1h0M370.3 673.9h0M326.6 691.7h0" stroke="#0000bf" stroke-width="6.0" stroke-linecap="round" fill="none"/>
<path d="M348.3 665.6h0M322.3 687.4h0" stroke="#0000df" stroke-width="7.0" stroke-linecap="round" fill="none"/>
<path d="M333.7 669.8h0M334.3 694.5h0M339.0 694.3h0" stroke="#0000bf" stroke-width="6.0" stroke-linecap="round" fill="none"/>
<path d="M258.9 664.6h0" stroke="#ff0000" stroke-width="5.0" stroke-linecap="round" fill="none"/>
<path d="M271.2 614.6h0M272.8 614.2h0M256.3 647.7h0M294.8 609.4h0M284.2 637.6h0M298.5 637.0h0M303.5 649.3h0" stroke="#00afff" stroke-width="5.0" stroke-linecap="round" fill="none"/>
<path d="M369.1 663.7h0" stroke="#00cfff" stroke-width="6.0" stroke-linecap="round" fill="none"/>
<path d="M298.6 524.1h0M306.3 595.4h0M290.1 600.5h0" stroke="#ffaf00" stroke-width="6.0" stroke-linecap="round" fill="none"/>
<path d="M253.6 678.0h0" stroke="#0000cf" stroke-width="6.0" stroke-linecap="round" fill="none"/>
<path d="M331.1 590.0h0" stroke="#00dfff" stroke-width="5.0" stroke-linecap="round" fill="none"/>
<path d="M324.7 517.4h0M347.8 535.1h0M270.8 613.5h0" stroke="#df0000" stroke-width="6.0" stroke-linecap="round" fill="none"/>
<path d="M305.0 681.6h0M303.3 685.7h0M308.9 691.3h0" stroke="#0000bf" stroke-width="6.0" stroke-linecap="round" fill="none"/>
<path d="M357.8 579.6h0M359.0 583.1h0M269.6 626.7h0M259.8 645.5h0M238.8 669.6h0" stroke="#0050ff" stroke-width="6.0" stroke-linecap="round" fill="none"/>
<path d="M323.0 592.1h0M280.5 603.2h0M292.3 632.1h0M296.2 635.5h0M291.2 649.1h0" stroke="#afff50" stroke-width="5.0" stroke-linecap="round" fill="none"/>
<path d="M243.1 679.0h0" stroke="#0000ff" stroke-width="5.0" stroke-linecap="round" fill="none"/>
<path d="M331.0 586.5h0M338.6 586.7h0M328.4 590.0h0M311.2 600.2h0" stroke="#ff2000" stroke-width="6.0" stroke-linecap="round" fill="none"/>
<path d="M334.3 525.3h0M333.1 528.7h0M322.2 520.6h0M321.0 522.2h0M265.6 652.4h0M247.3 675.2h0" stroke="#dfff20" stroke-width="6.0" stroke-linecap="round" fill="none"/>
<path d="M288.2 611.8h0M298.1 630.2h0" stroke="#00ffff" stroke-width="5.0" stroke-linecap="round" fill="none"/>
<path d="M267.0 615.1h0M269.0 631.4h0M277.3 633.8h0M263.5 662.4h0" stroke="#0000df" stroke-width="6.0" stroke-linecap="round" fill="none"/>
<path d="M263.0 620.7h0" stroke="#0050ff" stroke-width="6.0" stroke-linecap="round" fill="none"/>
<path d="M274.4 638.8h0M276.1 640.7h0M239.9 652.4h0M273.8 660.7h0M305.1 603.3h0M284.6 625.4h0M308.7 630.7h0M299.5 632.5h0M305.0 633.2h0" stroke="#00afff" stroke-width="6.0" stroke-linecap="round" fill="none"/>
<path d="M259.3 628.3h0M265.6 637.7h0M247.1 672.4h0M252.3 678.4h0" stroke="#0050ff" stroke-width="6.0" stroke-linecap="round" fill="none"/>
<path d="M264.3 627.6h0" stroke="#ff9f00" stroke-width="6.0" stroke-linecap="round" fill="none"/>
<path d="M364.2 656.5h0M369.8 656.4h0M366.4 663.9h0M330.0 669.0h0M360.0 682.2h0" stroke="#0000bf" stroke-width="7.0" stroke-linecap="round" fill="none"/>
<path d="M351.9 673.5h0" stroke="#00cfff" stroke-width="8.0" stroke-linecap="round" fill="none"/>
<path d="M319.3 525.3h0M327.2 524.2h0M358.6 576.6h0M338.4 582.6h0M292.1 599.6h0M286.2 606.2h0M360.6 578.9h0M365.6 583.7h0M305.1 643.5h0" stroke="#ffaf00" stroke-width="6.0" stroke-linecap="round" fill="none"/>
<path d="M296.6 633.1h0" stroke="#0020ff" stroke-width="5.0" stroke-linecap="round" fill="none"/>
<path d="M375.2 655.6h0" stroke="#20ffdf" stroke-width="6.0" stroke-linecap="round" fill="none"/>
<path d="M333.9 532.0h0" stroke="#df0000" stroke-width="6.0" stroke-linecap="round" fill="none"/>
<path d="M333.9 518.7h0M331.6 525.2h0M340.1 524.7h0M341.0 527.3h0M330.1 539.2h0" stroke="#ff5000" stroke-width="6.0" stroke-linecap="round" fill="none"/>
<path d="M313.2 681.9h0M307.9 685.7h0M361.4 698.9h0" stroke="#0000df" stroke-width="8.0" stroke-linecap="round" fill="none"/>
<path d="M273.0 624.2h0" stroke="#50ffaf" stroke-width="6.0" stroke-linecap="round" fill="none"/>
<path d="M343.1 583.4h0M299.7 599.2h0M286.1 612.5h0M292.2 629.8h0" stroke="#afff50" stroke-width="6.0" stroke-linecap="round" fill="none"/>
<path d="M263.2 616.4h0M273.8 633.9h0M276.0 637.5h0M256.1 642.0h0M279.9 641.0h0" stroke="#0050ff" stroke-width="5.0" stroke-linecap="round" fill="none"/>
<path d="M341.8 582.0h0M317.9 594.2h0M299.0 596.1h0" stroke="#ff2000" stroke-width="5.0" stroke-linecap="round" fill="none"/>
<path d="M265.9 616.6h0" stroke="#dfff20" stroke-width="5.0" stroke-linecap="round" fill="none"/>
<path d="M312.9 595.9h0M290.5 602.8h0" stroke="#0080ff" stroke-width="6.0" stroke-linecap="round" fill="none"/>
<path d="M298.6 619.4h0M298.7 639.0h0M300.0 642.3h0M305.5 649.4h0" stroke="#00ffff" stroke-width="6.0" stroke-linecap="round" fill="none"/>
<path d="M294.5 605.7h0" stroke="#0020ff" stroke-width="6.0" stroke-linecap="round" fill="none"/>
<path d="M311.4 621.7h0M285.3 632.4h0M295.5 642.7h0M366.2 668.7h0" stroke="#0020ff" stroke-width="6.0" stroke-linecap="round" fill="none"/>
<path d="M338.5 530.6h0M341.3 539.8h0M334.8 542.8h0" stroke="#ff5000" stroke-width="5.0" stroke-linecap="round" fill="none"/>
<path d="M263.3 638.7h0M245.6 647.2h0M257.2 669.5h0M368.6 676.9h0M338.9 690.7h0M356.6 698.8h0" stroke="#0000df" stroke-width="6.0" stroke-linecap="round" fill="none"/>
<path d="M261.0 630.7h0M229.8 641.4h0M260.9 649.0h0M269.4 655.0h0" stroke="#00efff" stroke-width="5.0" stroke-linecap="round" fill="none"/>
<path d="M272.2 608.8h0" stroke="#00dfff" stroke-width="6.0" stroke-linecap="round" fill="none"/>
<path d="M339.9 677.0h0M329.9 686.3h0" stroke="#20ffdf" stroke-width="8.0" stroke-linecap="round" fill="none"/>
<path d="M342.4 673.8h0" stroke="#00cfff" stroke-width="7.0" stroke-linecap="round" fill="none"/>
<path d="M301.5 620.4h0" stroke="#00ffff" stroke-width="6.0" stroke-linecap="round" fill="none"/>
<path d="M323.9 515.8h0M345.0 534.5h0" stroke="#800000" stroke-width="5.0" stroke-linecap="round" fill="none"/>
<path d="M374.0 659.5h0M330.8 695.4h0" stroke="#0020ff" stroke-width="8.0" stroke-linecap="round" fill="none"/>
<path d="M368.9 690.0h0" stroke="#00cfff" stroke-width="8.0" stroke-linecap="round" fill="none"/>
<path d="M340.3 585.3h0M280.2 613.4h0M365.3 575.8h0" stroke="#ff2000" stroke-width="6.0" stroke-linecap="round" fill="none"/>
<path d="M285.7 613.4h0M304.6 627.0h0" stroke="#afff50" stroke-width="6.0" stroke-linecap="round" fill="none"/>
<path d="M303.1 616.7h0M285.1 638.9h0" stroke="#0020ff" stroke-width="6.0" stroke-linecap="round" fill="none"/>
<path d="M277.0 607.0h0M312.9 619.0h0" stroke="#afff50" stroke-width="5.0" stroke-linecap="round" fill="none"/>
<path d="M272.5 648.1h0M235.5 652.2h0M262.9 651.1h0M252.1 655.5h0M236.9 659.1h0M238.9 662.3h0M272.4 664.7h0" stroke="#00efff" stroke-width="6.0" stroke-linecap="round" fill="none"/>
<path d="M346.7 524.0h0M246.6 679.1h0" stroke="#df0000" stroke-width="5.0" stroke-linecap="round" fill="none"/>
<path d="M354.2 575.8h0M354.1 579.7h0M302.0 606.0h0M302.3 608.4h0" stroke="#afff50" stroke-width="5.0" stroke-linecap="round" fill="none"/>
<path d="M278.5 605.7h0M358.2 573.3h0" stroke="#ff2000" stroke-width="5.0" stroke-linecap="round" fill="none"/>
<path d="M343.5 521.9h0M317.4 524.9h0M319.6 529.5h0M320.3 534.5h0M262.5 617.8h0M243.4 641.4h0" stroke="#df0000" stroke-width="5.0" stroke-linecap="round" fill="none"/>
<path d="M251.9 657.8h0" stroke="#ff0000" stroke-width="5.0" stroke-linecap="round" fill="none"/>
<path d="M326.3 677.5h0M338.5 685.2h0M378.6 686.1h0" stroke="#0080ff" stroke-width="8.0" stroke-linecap="round" fill="none"/>
<path d="M320.5 676.7h0" stroke="#0080ff" stroke-width="7.0" stroke-linecap="round" fill="none"/>
<path d="M352.6 660.6h0M340.3 673.3h0M379.0 690.1h0" stroke="#0000bf" stroke-width="7.0" stroke-linecap="round" fill="none"/>
<path d="M255.9 627.4h0M247.5 650.6h0" stroke="#ff9f00" stroke-width="6.0" stroke-linecap="round" fill="none"/>
<path d="M329.9 515.6h0" stroke="#800000" stroke-width="5.0" stroke-linecap="round" fill="none"/>
<path d="M294.5 611.6h0M309.6 623.0h0M288.2 634.0h0" stroke="#0020ff" stroke-width="5.0" stroke-linecap="round" fill="none"/>
<path d="M254.1 668.0h0M242.8 672.9h0M249.1 679.2h0" stroke="#0000ff" stroke-width="6.0" stroke-linecap="round" fill="none"/>
<path d="M310.1 605.8h0M298.0 608.4h0M284.2 616.2h0M289.3 626.5h0" stroke="#00ffff" stroke-width="5.0" stroke-linecap="round" fill="none"/>
<path d="M321.7 529.5h0" stroke="#30ffcf" stroke-width="5.0" stroke-linecap="round" fill="none"/>
<path d="M292.3 622.5h0M309.0 625.2h0M291.6 640.9h0M305.2 646.6h0" stroke="#00ffff" stroke-width="5.0" stroke-linecap="round" fill="none"/>
<path d="M273.0 658.8h0" stroke="#50ffaf" stroke-width="6.0" stroke-linecap="round" fill="none"/>
<path d="M270.8 610.6h0" stroke="#00dfff" stroke-width="5.0" stroke-linecap="round" fill="none"/>
<path d="M353.0 669.4h0" stroke="#0000df" stroke-width="8.0" stroke-linecap="round" fill="none"/>
<path d="M337.9 517.5h0M319.7 520.6h0M324.1 528.4h0M296.2 524.7h0M293.5 526.2h0M296.8 603.4h0M276.5 614.1h0M243.7 637.8h0" stroke="#ffaf00" stroke-width="6.0" stroke-linecap="round" fill="none"/>
<path d="M291.2 608.9h0M309.4 617.1h0M309.3 637.0h0" stroke="#0020ff" stroke-width="5.0" stroke-linecap="round" fill="none"/>
<path d="M309.3 592.8h0" stroke="#0080ff" stroke-width="6.0" stroke-linecap="round" fill="none"/>
<path d="M306.1 619.0h0M299.1 625.5h0M289.3 647.0h0M296.8 646.2h0M299.6 646.7h0" stroke="#00ffff" stroke-width="5.0" stroke-linecap="round" fill="none"/>
<path d="M259.7 638.9h0M260.6 660.9h0M263.9 668.9h0" stroke="#50ffaf" stroke-width="5.0" stroke-linecap="round" fill="none"/>
<path d="M330.7 678.3h0M361.0 676.6h0" stroke="#0000bf" stroke-width="8.0" stroke-linecap="round" fill="none"/>
<path d="M250.2 668.6h0M247.4 676.1h0M251.4 676.6h0M249.7 681.7h0" stroke="#0000cf" stroke-width="6.0" stroke-linecap="round" fill="none"/>
<path d="M254.2 626.6h0M279.9 643.6h0M269.4 648.4h0M249.7 658.6h0M237.0 661.2h0M270.1 665.5h0M263.8 672.3h0" stroke="#00efff" stroke-width="5.0" stroke-linecap="round" fill="none"/>
<path d="M309.3 682.0h0M351.1 686.0h0M307.4 694.0h0" stroke="#0000df" stroke-width="7.0" stroke-linecap="round" fill="none"/>
<path d="M342.5 683.2h0M364.2 698.9h0" stroke="#0020ff" stroke-width="7.0" stroke-linecap="round" fill="none"/>
<path d="M277.9 611.3h0M277.5 615.0h0" stroke="#ff9f00" stroke-width="6.0" stroke-linecap="round" fill="none"/>
<path d="M300.9 603.7h0" stroke="#ff2000" stroke-width="6.0" stroke-linecap="round" fill="none"/>
<path d="M273.4 631.6h0M242.7 650.9h0M255.9 665.7h0" stroke="#0000df" stroke-width="5.0" stroke-linecap="round" fill="none"/>
<path d="M259.8 635.5h0M254.0 648.0h0M231.6 650.6h0M257.2 675.0h0" stroke="#00efff" stroke-width="5.0" stroke-linecap="round" fill="none"/>
<path d="M277.8 624.6h0M246.0 644.3h0M277.4 652.1h0M246.7 658.2h0M263.8 664.3h0" stroke="#00efff" stroke-width="5.0" stroke-linecap="round" fill="none"/>
<path d="M360.9 663.5h0M361.3 672.7h0M364.8 673.1h0M344.3 686.6h0M373.3 691.2h0" stroke="#0020ff" stroke-width="8.0" stroke-linecap="round" fill="none"/>
<path d="M334.7 515.8h0M346.7 528.1h0M323.7 534.8h0M299.3 520.6h0M321.3 590.7h0M290.4 610.6h0M286.1 630.3h0M285.1 643.9h0M308.7 647.5h0" stroke="#ffaf00" stroke-width="6.0" stroke-linecap="round" fill="none"/>
<path d="M296.0 600.0h0M353.7 583.8h0" stroke="#00dfff" stroke-width="6.0" stroke-linecap="round" fill="none"/>
<path d="M347.3 580.5h0M350.2 578.2h0M307.3 593.1h0M312.9 593.1h0M361.3 582.2h0" stroke="#ff2000" stroke-width="6.0" stroke-linecap="round" fill="none"/>
<path d="M317.8 677.1h0M339.5 683.2h0M348.3 681.1h0M379.4 683.0h0" stroke="#0080ff" stroke-width="8.0" stroke-linecap="round" fill="none"/>
<path d="M355.3 572.9h0M269.4 645.7h0M244.0 647.0h0" stroke="#0050ff" stroke-width="5.0" stroke-linecap="round" fill="none"/>
<path d="M260.5 641.9h0M254.2 674.6h0" stroke="#ff9f00" stroke-width="5.0" stroke-linecap="round" fill="none"/>
<path d="M339.1 665.3h0M357.2 668.2h0" stroke="#0000df" stroke-width="7.0" stroke-linecap="round" fill="none"/>
<path d="M317.1 597.3h0" stroke="#0080ff" stroke-width="6.0" stroke-linecap="round" fill="none"/>
<path d="M357.7 660.9h0M351.1 676.5h0M353.3 682.8h0" stroke="#0000bf" stroke-width="7.0" stroke-linecap="round" fill="none"/>
<path d="M370.1 686.7h0" stroke="#20ffdf" stroke-width="7.0" stroke-linecap="round" fill="none"/>
<path d="M336.9 588.8h0" stroke="#0080ff" stroke-width="5.0" stroke-linecap="round" fill="none"/>
<path d="M373.9 672.3h0M311.7 690.5h0" stroke="#0080ff" stroke-width="8.0" stroke-linecap="round" fill="none"/>
<path d="M334.2 698.3h0" stroke="#00cfff" stroke-width="6.0" stroke-linecap="round" fill="none"/>
<path d="M317.7 695.9h0" stroke="#00cfff" stroke-width="7.0" stroke-linecap="round" fill="none"/>
<path d="M337.4 525.4h0" stroke="#dfff20" stroke-width="5.0" stroke-linecap="round" fill="none"/>
<path d="M256.7 671.7h0M243.1 674.9h0" stroke="#0000cf" stroke-width="5.0" stroke-linecap="round" fill="none"/>
<path d="M377.7 673.1h0" stroke="#20ffdf" stroke-width="7.0" stroke-linecap="round" fill="none"/>
<path d="M334.0 538.9h0M350.6 583.3h0M304.2 599.6h0M280.3 608.9h0M360.3 571.7h0M360.4 577.0h0M285.0 623.0h0" stroke="#ffaf00" stroke-width="5.0" stroke-linecap="round" fill="none"/>
<path d="M299.7 621.9h0M302.2 638.7h0M289.1 649.9h0M356.3 682.2h0M375.0 681.3h0" stroke="#0020ff" stroke-width="6.0" stroke-linecap="round" fill="none"/>
<path d="M345.4 514.6h0M320.9 532.8h0M347.0 531.8h0M226.2 642.2h0M246.7 642.2h0M273.7 644.3h0M270.5 658.7h0M271.2 667.6h0M235.3 642.4h0" stroke="#dfff20" stroke-width="5.0" stroke-linecap="round" fill="none"/>
<path d="M317.8 519.2h0M320.6 542.7h0M337.1 542.2h0M266.6 615.2h0M252.7 628.9h0" stroke="#df0000" stroke-width="6.0" stroke-linecap="round" fill="none"/>
<path d="M344.0 669.2h0M330.8 672.6h0" stroke="#0020ff" stroke-width="8.0" stroke-linecap="round" fill="none"/>
<path d="M333.6 536.2h0" stroke="#df0000" stroke-width="5.0" stroke-linecap="round" fill="none"/>
<path d="M323.8 589.4h0M328.3 593.0h0" stroke="#00dfff" stroke-width="6.0" stroke-linecap="round" fill="none"/>
<path d="M317.6 682.5h0" stroke="#00cfff" stroke-width="8.0" stroke-linecap="round" fill="none"/>
<path d="M246.4 656.1h0M267.5 672.2h0" stroke="#0000df" stroke-width="5.0" stroke-linecap="round" fill="none"/>
<path d="M257.2 620.0h0" stroke="#ff0000" stroke-width="6.0" stroke-linecap="round" fill="none"/>
<path d="M356.1 685.5h0M370.5 695.6h0" stroke="#0080ff" stroke-width="8.0" stroke-linecap="round" fill="none"/>
<path d="M330.5 535.5h0" stroke="#800000" stroke-width="6.0" stroke-linecap="round" fill="none"/>
<path d="M344.0 664.5h0M307.6 678.2h0" stroke="#0080ff" stroke-width="7.0" stroke-linecap="round" fill="none"/>
<path d="M330.9 681.1h0M305.4 698.7h0" stroke="#0000bf" stroke-width="8.0" stroke-linecap="round" fill="none"/>
<path d="M294.4 628.9h0M312.4 632.5h0M293.3 644.2h0M302.9 647.0h0" stroke="#00ffff" stroke-width="6.0" stroke-linecap="round" fill="none"/>
<path d="M271.3 616.6h0M260.9 623.4h0M233.4 642.4h0M263.5 659.0h0M241.8 666.2h0" stroke="#50ffaf" stroke-width="6.0" stroke-linecap="round" fill="none"/>
<path d="M262.6 631.0h0M242.9 654.8h0" stroke="#50ffaf" stroke-width="6.0" stroke-linecap="round" fill="none"/>
<path d="M334.8 687.6h0" stroke="#20ffdf" stroke-width="8.0" stroke-linecap="round" fill="none"/>
<path d="M277.7 627.7h0M252.0 662.1h0" stroke="#00efff" stroke-width="6.0" stroke-linecap="round" fill="none"/>
<path d="M348.0 541.4h0" stroke="#ff5000" stroke-width="5.0" stroke-linecap="round" fill="none"/>
<path d="M343.2 526.0h0M326.9 544.9h0M255.3 628.8h0M248.6 634.1h0M252.5 635.0h0" stroke="#ff5000" stroke-width="6.0" stroke-linecap="round" fill="none"/>
<path d="M291.1 611.9h0" stroke="#00ffff" stroke-width="6.0" stroke-linecap="round" fill="none"/>
<path d="M298.6 615.7h0M303.6 632.6h0M308.3 640.9h0" stroke="#00afff" stroke-width="5.0" stroke-linecap="round" fill="none"/>
<path d="M311.9 686.8h0M360.1 691.4h0M379.2 694.3h0M378.6 699.3h0" stroke="#0000bf" stroke-width="6.0" stroke-linecap="round" fill="none"/>
<path d="M262.9 643.9h0" stroke="#ff9f00" stroke-width="5.0" stroke-linecap="round" fill="none"/>
<path d="M254.0 624.3h0M266.1 623.3h0M242.3 641.5h0M249.8 648.7h0M263.3 648.0h0M252.2 672.5h0M246.4 678.0h0M256.1 677.6h0" stroke="#00efff" stroke-width="6.0" stroke-linecap="round" fill="none"/>
<path d="M341.2 517.4h0M323.8 536.0h0" stroke="#80ff80" stroke-width="6.0" stroke-linecap="round" fill="none"/>
<path d="M242.8 638.4h0M239.9 641.7h0" stroke="#ff9f00" stroke-width="5.0" stroke-linecap="round" fill="none"/>
<path d="M337.7 534.6h0M259.1 620.5h0" stroke="#ff5000" stroke-width="5.0" stroke-linecap="round" fill="none"/>
<path d="M327.7 518.9h0M337.3 528.4h0M343.4 538.8h0" stroke="#800000" stroke-width="6.0" stroke-linecap="round" fill="none"/>
<path d="M276.5 617.1h0M236.7 644.6h0M237.3 654.1h0M245.6 668.9h0M295.0 616.4h0M289.5 643.9h0M310.1 644.3h0M295.2 650.9h0" stroke="#00afff" stroke-width="5.0" stroke-linecap="round" fill="none"/>
<path d="M248.7 673.1h0" stroke="#0000df" stroke-width="5.0" stroke-linecap="round" fill="none"/>
<path d="M361.5 571.6h0M321.5 596.7h0" stroke="#0080ff" stroke-width="6.0" stroke-linecap="round" fill="none"/>
<path d="M363.6 572.0h0M269.4 611.3h0M272.4 619.9h0M272.4 627.7h0M271.1 633.6h0M270.7 640.2h0M270.3 651.9h0M240.4 657.5h0" stroke="#0050ff" stroke-width="6.0" stroke-linecap="round" fill="none"/>
<path d="M265.5 645.9h0M240.4 647.5h0M274.6 654.1h0M255.9 672.6h0" stroke="#50ffaf" stroke-width="5.0" stroke-linecap="round" fill="none"/>
<path d="M373.7 669.3h0M321.1 695.3h0" stroke="#20ffdf" stroke-width="8.0" stroke-linecap="round" fill="none"/>
<path d="M252.9 672.2h0" stroke="#0000ff" stroke-width="6.0" stroke-linecap="round" fill="none"/>
<path d="M330.1 592.8h0" stroke="#0080ff" stroke-width="5.0" stroke-linecap="round" fill="none"/>
<path d="M340.0 534.6h0M324.6 541.1h0M321.5 517.2h0M254.0 632.2h0M257.7 644.2h0" stroke="#dfff20" stroke-width="6.0" stroke-linecap="round" fill="none"/>
<path d="M266.2 668.6h0" stroke="#ff9f00" stroke-width="5.0" stroke-linecap="round" fill="none"/>
<path d="M373.4 694.2h0M321.3 699.1h0" stroke="#00cfff" stroke-width="8.0" stroke-linecap="round" fill="none"/>
<path d="M313.9 695.4h0M308.5 698.5h0" stroke="#00cfff" stroke-width="6.0" stroke-linecap="round" fill="none"/>
<path d="M319.2 529.5h0" stroke="#30ffcf" stroke-width="5.0" stroke-linecap="round" fill="none"/>
<path d="M263.1 640.8h0M232.2 647.8h0M250.3 667.3h0M260.8 667.4h0M259.5 670.9h0M248.6 678.8h0" stroke="#0050ff" stroke-width="5.0" stroke-linecap="round" fill="none"/>
<path d="M282.4 614.1h0M365.1 580.4h0" stroke="#00dfff" stroke-width="5.0" stroke-linecap="round" fill="none"/>
<path d="M306.4 606.4h0M311.6 612.8h0M292.5 645.9h0" stroke="#00ffff" stroke-width="5.0" stroke-linecap="round" fill="none"/>
<path d="M361.9 660.3h0" stroke="#0000df" stroke-width="8.0" stroke-linecap="round" fill="none"/>
<path d="M283.6 607.8h0" stroke="#afff50" stroke-width="6.0" stroke-linecap="round" fill="none"/>
<path d="M249.3 633.8h0M278.0 644.4h0M256.4 651.2h0M239.7 671.3h0" stroke="#50ffaf" stroke-width="6.0" stroke-linecap="round" fill="none"/>
<path d="M264.4 624.2h0M257.2 631.3h0M275.8 630.4h0M254.1 644.2h0M242.8 658.2h0" stroke="#0000df" stroke-width="5.0" stroke-linecap="round" fill="none"/>
<path d="M344.7 527.3h0" stroke="#ff5000" stroke-width="5.0" stroke-linecap="round" fill="none"/>
<path d="M271.0 661.9h0M296.6 623.2h0" stroke="#00afff" stroke-width="5.0" stroke-linecap="round" fill="none"/>
<path d="M360.9 686.1h0" stroke="#0080ff" stroke-width="8.0" stroke-linecap="round" fill="none"/>
<path d="M256.4 669.9h0" stroke="#df0000" stroke-width="6.0" stroke-linecap="round" fill="none"/>
<path d="M260.9 651.8h0" stroke="#ff0000" stroke-width="6.0" stroke-linecap="round" fill="none"/>
</g>
<circle cx="292.1" cy="679.9" r="3.8" fill="#ffb300"/>
<circle cx="245.4" cy="689.0" r="3.8" fill="#4dffb2"/>
<circle cx="280.5" cy="693.9" r="3.5" fill="#e5ff1a"/>
<circle cx="284.5" cy="692.5" r="4.5" fill="#0000e6"/>
<circle cx="359.1" cy="642.3" r="4" fill="#0000e6"/>
<circle cx="370.9" cy="640.9" r="3.8" fill="#4dffb2"/>
<clipPath id="clip10"><rect x="195.6" y="486.4" width="234.0" height="213.3"/></clipPath>
<g clip-path="url(#clip10)">
<path d="M190.1 486.9 L271.0 486.9 L271.0 483.3 L272.3 483.4 L273.1 484.0 L274.0 489.0 L277.0 490.3 L279.5 491.5 L282.3 490.6 L284.9 490.6 L287.1 492.2 L288.6 494.1 L291.5 494.5 L294.0 495.8 L297.2 494.5 L298.1 494.4 L300.9 495.5 L303.5 495.5 L305.0 496.4 L306.6 496.4 M306.6 496.4 L304.1 497.8 L301.6 498.8 L298.4 501.1 L296.5 502.5 L294.0 504.8 L292.1 506.2 L290.2 508.1 L289.9 508.5 L291.5 508.5 L293.4 508.1 L295.6 507.1 L297.5 506.2 L298.7 507.6 L298.1 509.4 L300.6 509.4 L300.9 509.7 M300.9 509.7 L303.5 509.3 L306.0 507.4 L308.5 506.7 L310.4 505.3 L312.6 503.4 L314.8 501.6 L317.0 501.4 L314.5 503.9 L314.8 506.2 L316.7 506.7 L318.6 510.4 L321.1 510.4 L322.4 510.5 L324.9 511.1 L326.8 509.9 L328.7 509.0 L331.8 508.1 L335.0 508.1 L335.0 510.4 L337.5 510.8 L338.7 510.4 L340.6 512.2 L341.3 513.6 L341.9 514.5 M341.9 514.5 L339.4 515.1 L336.8 516.1 L334.3 514.9 L331.8 514.0 L329.3 515.4 L326.8 516.3 L324.9 518.1 L323.3 516.3 L321.7 517.6 L320.1 519.9 L318.6 523.0 M318.6 523.0 L317.6 520.8 L317.0 518.5 L315.4 516.7 L313.5 515.4 L311.6 514.9 L309.1 514.0 L306.0 513.1 L302.8 512.2 L300.9 509.7 M318.6 523.0 L317.6 518.5 L317.3 516.3 M318.6 523.0 L317.9 528.3 L317.9 537.1 L318.6 545.7 L318.9 550.0 L319.1 552.5 M319.1 552.5 L321.1 553.2 L323.5 552.0 M323.5 552.0 L325.5 549.1 L327.1 545.7 L327.4 543.1 L327.1 539.7 L325.5 536.2 L326.1 533.6 L327.1 530.5 L328.0 527.5 L329.3 524.3 L331.2 522.6 L331.8 525.7 L332.7 523.9 L333.7 521.2 L334.6 519.9 L335.3 517.2 L336.7 516.9 L338.7 518.1 L340.6 519.4 L343.8 520.3 L345.3 523.0 L345.7 526.1 L345.3 529.7 L343.8 531.9 L341.9 534.1 L342.2 535.8 L344.1 534.9 L345.7 533.2 L347.9 532.3 L349.4 535.4 L350.7 538.8 L351.0 541.4 L350.4 544.9 L348.5 546.6 L346.9 547.8 L346.3 550.4 L344.7 552.3 M323.5 552.0 L329.9 552.0 L336.2 552.5 L344.7 552.3 M344.7 552.3 L346.9 553.4 L348.8 554.6 L350.7 555.0 L353.9 554.2 L355.7 554.2 L358.3 552.5 L360.2 551.7 L363.2 550.1 L365.8 548.7 L368.0 547.7 L370.9 545.7 L373.4 542.7 L372.8 540.6 L372.4 539.3 L375.3 538.4 L379.1 538.2 L382.2 539.3 L385.4 539.1 L387.9 538.0 L390.4 536.8 L390.1 534.5 L390.4 532.7 L389.4 531.4 L392.9 529.2 L396.1 525.7 L398.6 523.9 L399.8 523.9 L408.3 523.8 L420.0 523.8 L422.5 521.2 L424.4 520.3 L426.3 517.2 L428.2 514.0 L429.5 511.3 M214.9 486.9 L214.9 558.4 M190.1 523.9 L214.9 523.9 M214.9 515.5 L262.1 515.5 M190.1 558.4 L227.5 558.4 L227.5 590.8 M190.1 590.8 L274.3 590.8 M214.9 541.4 L249.9 541.4 L253.1 542.7 L256.2 542.7 L259.4 543.6 L261.9 545.7 L262.8 545.7 M227.5 566.7 L270.1 566.7 M221.6 590.8 L221.6 594.8 L221.3 629.1 L198.7 629.1 L190.1 629.1 M221.3 594.8 L240.5 594.8 L240.5 609.8 L243.0 611.2 L245.5 612.5 L249.3 612.9 L252.4 614.1 L255.6 614.8 L258.1 615.9 L260.6 615.6 L263.1 615.9 L266.3 615.2 L268.8 615.0 L272.0 615.2 L275.2 616.8 L278.0 617.5 L278.0 621.5 M275.2 616.8 L275.5 603.3 L274.3 594.8 L274.3 590.8 L274.4 574.0 L272.6 571.6 L271.3 570.0 L270.1 566.7 L268.8 564.2 L266.9 561.7 L266.3 558.4 L266.3 554.2 L265.0 550.0 L263.8 547.4 L262.8 545.7 L261.9 541.4 L262.8 537.1 L262.8 521.2 L262.1 515.5 L260.9 511.3 L260.6 506.7 L260.3 501.1 L259.4 496.4 L258.4 491.7 L257.9 486.9 M274.3 594.8 L302.5 594.8 L301.2 597.9 L301.1 598.7 L305.2 598.7 M278.0 621.5 L296.1 621.6 M278.0 621.5 L278.0 629.1 L279.5 632.0 L280.8 635.0 L281.1 637.9 L280.1 641.6 L279.3 646.0 M296.1 621.6 L296.5 624.6 L297.2 627.6 L294.6 629.8 L294.0 632.8 L293.4 635.0 L293.1 636.5 L305.2 636.5 L304.7 638.7 L305.3 640.5 L306.0 642.3 M296.1 621.6 L296.5 617.8 L297.5 614.8 L299.7 611.0 L300.9 607.9 L302.8 605.6 L303.8 602.5 L305.3 599.4 L306.0 597.1 L306.6 594.8 M262.8 537.1 L295.8 537.1 M267.1 561.9 L292.6 561.6 L294.5 563.5 M294.5 563.5 L295.9 560.9 L296.5 558.4 L299.0 554.6 L301.6 553.4 L302.2 551.2 L300.9 548.3 L299.4 545.7 L297.2 544.0 L296.2 540.6 L295.8 537.1 M294.5 563.5 L294.3 566.7 L295.9 570.0 L298.1 572.4 L299.7 574.0 L302.2 576.1 L302.2 578.9 L301.6 581.3 L304.1 583.7 L306.0 586.9 L306.9 589.2 L308.5 590.8 L308.8 592.4 L307.9 594.0 L306.6 594.8 M295.8 537.1 L295.3 533.6 L292.1 531.0 L289.0 528.3 L285.8 526.1 L286.1 523.0 L286.4 519.4 L289.0 516.7 L289.0 514.0 L289.0 509.0 L289.9 508.5 M299.4 545.7 L317.3 545.8 M319.1 552.5 L319.0 571.6 L318.6 574.0 L318.9 576.5 L316.7 580.5 L315.7 584.5 M308.5 590.8 L311.0 589.6 L313.2 590.0 L315.4 587.3 L315.7 584.5 L318.6 583.7 L321.7 584.5 L324.9 583.7 L327.4 582.5 L329.3 581.7 L330.2 580.6 L332.4 578.9 L333.7 577.3 L336.1 574.0 L338.7 574.8 L341.3 576.6 L343.8 577.7 L345.7 578.1 L348.8 578.1 L350.1 579.7 L352.6 578.1 L353.9 575.6 L355.4 574.4 L357.0 572.4 L359.5 570.8 L361.1 569.1 L362.4 565.8 L362.7 563.4 L363.2 561.4 M336.1 552.5 L336.1 574.0 M363.2 561.4 L363.2 550.1 M350.1 579.7 L350.7 582.9 L352.6 585.3 L354.2 586.5 L351.3 588.5 L348.2 590.8 L345.7 592.4 L343.3 594.0 M306.6 594.8 L315.6 594.8 L315.6 593.3 L322.4 593.6 L328.7 593.7 L335.0 593.8 L343.3 594.0 L355.9 594.1 L366.5 594.4 L379.1 594.4 L386.0 594.4 L392.3 594.4 M355.9 594.1 L354.5 596.3 L352.6 597.5 L350.1 599.1 L347.6 600.6 L344.4 602.2 L341.9 602.5 L339.4 604.7 L339.2 606.5 M301.6 606.4 L314.8 606.4 L331.2 606.6 L339.2 606.5 L346.9 606.5 M314.8 606.4 L314.2 614.1 L313.1 629.8 L313.5 636.5 L313.5 641.2 M331.2 606.6 L332.4 614.1 L333.7 622.4 L335.0 625.4 L334.6 629.1 L334.6 636.5 M319.2 641.6 L318.6 636.5 L334.6 636.5 M334.6 636.5 L335.8 638.7 L344.4 639.0 L352.6 639.6 L353.5 637.9 L354.5 637.9 L357.3 638.5 M346.9 606.5 L348.8 608.7 L350.1 611.0 L352.0 614.1 L353.9 617.1 L355.1 620.1 L357.0 622.4 L358.3 625.4 L359.5 627.6 L361.1 628.7 M346.9 606.5 L351.3 604.9 L356.4 605.1 L359.8 605.3 L360.8 606.0 L361.4 607.9 L366.5 607.9 L368.3 607.9 L372.1 611.8 L375.6 615.2 M354.2 586.5 L356.4 588.9 L358.9 588.9 L361.4 587.7 L363.3 587.3 L364.6 585.3 L366.5 583.3 L368.3 580.5 L369.6 578.9 L371.2 577.3 L372.8 576.1 L374.6 574.4 L376.5 573.2 L378.4 573.2 L380.3 572.8 L380.9 572.2 M380.9 572.2 L379.1 570.4 L377.2 570.0 L375.3 570.4 L372.8 571.2 L369.7 573.2 L369.7 569.0 M363.2 561.4 L363.2 569.0 L369.7 569.0 L385.4 569.0 L392.9 569.0 L394.2 568.1 L395.4 568.3 M392.9 569.0 L393.0 579.2 L397.6 579.3 M380.9 572.2 L382.5 573.2 L384.7 575.2 L385.0 576.5 L384.7 578.1 L383.8 579.7 L385.4 580.5 L387.9 581.7 L389.8 582.9 M393.9 583.3 L396.4 582.6 M395.4 568.3 L397.3 567.1 L398.6 565.8 L399.5 565.0 L398.0 563.4 L396.7 561.7 L397.3 559.2 L398.3 557.5 L399.8 555.5 M368.0 547.7 L368.0 550.0 L395.7 550.0 L396.7 551.2 L397.6 553.4 L399.8 555.5 L402.4 557.1 L404.9 558.4 L404.6 560.5 M406.5 558.6 L407.4 556.7 L407.3 549.5 L408.9 543.6 L408.8 536.2 L408.0 531.0 L408.3 523.8 M407.3 549.5 L418.1 549.8 L420.8 549.8 L422.4 554.2 M418.1 549.8 L417.8 555.9 M408.9 543.6 L414.0 543.7 L421.3 544.0 L424.4 542.5 M414.0 543.7 L414.3 539.7 L415.0 536.2 L416.9 530.1 L419.4 526.6 L420.0 523.8 M425.0 540.7 L423.3 537.1 L422.8 528.3 L422.6 521.2 M426.3 538.8 L425.0 540.7 L424.4 542.5 L425.7 544.4 L423.8 545.3 L423.2 547.4 L423.8 548.3 L425.7 550.4 L426.0 552.1 L423.8 553.4 L422.5 554.2 L421.3 553.4 L420.6 554.6 L417.8 555.9 L415.0 556.1 L411.2 556.3 L408.7 557.5 L406.5 558.6 L405.5 559.6 L404.6 560.5 L403.9 561.7 M404.3 561.7 L406.8 561.9 L410.6 560.9 L413.7 559.6 L417.7 557.8 L415.0 558.4 L413.1 558.6 L409.3 559.1 L406.8 559.2 L405.5 560.1 L404.3 561.7 M403.9 561.7 L404.3 563.4 L403.9 566.7 L403.3 569.1 L401.7 572.0 L399.8 574.0 L398.3 575.4 L398.3 573.6 L396.7 572.4 L394.8 570.8 L394.5 569.5 L395.4 568.3 M394.5 569.5 L395.1 572.0 L396.1 574.4 L397.3 576.5 L397.6 579.3 L397.0 581.3 L396.4 582.6 L395.1 584.9 L393.9 587.3 L392.3 589.6 L391.7 588.5 L392.0 586.1 L392.6 583.3 L391.3 581.3 L390.4 578.5 L391.0 575.6 L390.1 573.6 L391.0 571.6 L391.3 570.4 M391.3 570.4 L389.4 572.0 L388.2 573.2 L389.1 575.2 L388.5 577.3 L388.8 580.1 L389.8 582.5 L388.5 584.1 L389.8 586.5 L388.8 588.5 L389.8 590.8 L391.7 591.5 L392.3 594.4 M389.8 582.5 L386.0 581.3 L387.9 581.7 M388.8 588.5 L386.6 587.3 M389.8 586.5 L386.3 584.5 M389.8 590.8 L387.2 590.0 L389.8 591.2 M388.8 580.1 L386.9 578.9 M392.0 586.1 L390.4 583.7 L392.3 582.9 M390.4 578.5 L392.3 580.1 L389.8 580.5 M392.3 594.4 L393.5 597.1 L394.8 600.2 L395.1 603.3 L394.8 604.5 L392.9 605.3 L391.0 606.4 L388.5 608.7 L386.0 608.7 L382.8 610.2 L380.6 612.5 L379.4 614.8 L377.8 614.7 L375.6 615.2 M392.3 594.4 L391.7 596.3 L388.5 598.7 L391.7 599.1 L392.6 601.8 L391.7 603.3 L387.9 604.1 L388.5 605.6 L385.7 606.4 L387.9 607.6 M388.5 598.7 L386.0 598.3 L387.2 599.4 M391.7 603.3 L386.6 602.9 M375.6 615.2 L372.8 617.8 L371.5 620.1 L369.6 621.6 L367.1 623.5 L365.2 625.0 L363.6 626.5 L362.0 627.6 L361.1 628.7 L359.5 630.9 L358.9 632.8 L358.3 635.4 L357.3 638.5 L358.3 643.8 L359.9 652.6 L363.0 659.6 L365.5 665.4 L365.2 672.3 L364.1 678.1 L366.2 684.2 L363.3 681.4 L359.9 678.1 L355.6 671.3 L352.0 665.3 L348.0 658.6 L348.8 650.1 L345.7 646.7 L341.3 643.1 L338.7 644.1 L336.2 645.6 L334.3 646.1 L332.4 644.9 L331.2 643.1 L328.0 641.2 L325.5 640.9 L323.0 641.0 L320.5 641.6 L319.2 641.6 M319.2 641.6 L317.3 642.0 L316.1 640.1 L316.7 638.7 L315.4 639.4 L315.4 641.6 L313.5 641.2 L311.0 640.9 L308.5 641.2 L306.0 642.3 L305.0 643.1 L306.0 643.8 L304.7 645.6 L306.6 646.7 L307.2 648.1 L308.8 649.6 L309.4 651.0 L307.5 650.7 L306.9 648.9 L305.3 648.5 L304.1 649.6 L302.8 650.3 L301.6 648.9 L300.3 650.3 L298.4 650.7 L295.9 649.6 L294.9 648.9 L293.4 646.7 L291.5 646.3 L290.2 646.8 L288.3 647.0 L285.8 646.3 L283.3 645.4 L279.3 646.0 L277.0 646.3 L274.5 647.8 L272.6 648.9 L271.3 650.3 L269.4 651.7 L266.3 653.9 L264.4 654.6 L262.5 656.0 L260.6 657.5 L259.4 659.3 L257.8 661.0 L257.1 663.9 L256.8 666.7 L257.5 669.5 L258.1 671.6 L258.4 672.7 M305.0 643.1 L302.8 641.2 L300.6 642.0 L302.2 643.4 L305.0 643.1 M258.4 672.7 L256.2 673.2 L253.7 672.0 L251.2 671.6 L248.6 670.2 L246.1 669.2 L244.9 666.0 L243.6 661.7 L241.7 658.9 L238.6 656.0 L237.3 652.5 L236.4 650.3 L234.2 647.4 L231.6 645.5 L229.1 645.2 L226.0 644.7 L223.4 645.6 L222.2 648.9 L220.9 651.2 L219.0 650.7 L217.8 649.9 L215.3 648.5 L212.1 646.3 L210.8 643.1 L209.6 639.4 L207.1 637.6 L205.2 635.7 L202.7 633.5 L200.1 630.9 L198.7 629.1 M195.5 482.1 L195.5 630.7 M195.5 484.8 L271.0 484.8 M429.5 509.4 L429.5 536.2" fill="none" stroke="#000" stroke-width="3.0" stroke-linejoin="round" stroke-linecap="round"/>
<path d="M398.0 569.4L392.4 567.7 M397.5 571.5L390.2 569.4 M397.0 573.6L390.3 572.9 M396.4 575.7L392.1 575.7 M395.9 577.8L391.7 577.4 M395.4 579.9L391.0 577.8 M394.9 582.0L388.7 583.6 M394.3 584.1L389.7 582.7 M393.8 586.2L386.7 588.4 M393.3 588.3L386.4 587.7 M393.1 590.4L384.2 588.1 M393.3 592.4L385.0 591.4 M393.5 594.5L388.8 592.6 M393.7 596.6L388.2 598.2 M393.9 598.7L389.0 599.1 M394.1 600.8L386.9 600.2 M394.4 602.9L387.6 600.7 M393.0 605.0L388.7 603.5 M389.7 607.1L382.3 606.8 M386.3 609.2L380.7 609.6 M383.0 611.3L376.7 610.3 M379.6 613.4L371.6 614.4" stroke="#000" stroke-width="1.6" fill="none"/>
<polygon points="386.0,571.4 390.0,571.2 395.0,568.4 398.5,566.9 401.0,568.9 399.0,574.9 396.5,582.4 393.5,589.4 395.0,600.4 393.5,604.4 390.5,605.4 389.0,596.4 387.5,590.4 385.0,585.4 388.0,581.4 386.0,576.4" fill="#000" stroke="#000" stroke-width="1.5" stroke-linejoin="round"/>
<polygon points="389.5,606.9 384.5,609.9 378.0,614.4 380.0,608.9 384.0,603.4 387.5,598.4" fill="#000" stroke="#000" stroke-width="1.5" stroke-linejoin="round"/>
<polygon points="408.2,552.9 420.9,550.9 429.1,550.9 429.1,553.4 418.2,556.9 410.0,561.4 404.6,562.9 404.0,558.6" fill="#000" stroke="#000" stroke-width="1.5" stroke-linejoin="round"/>
</g>
<rect x="441.4" y="485.4" width="23.3" height="215.6" fill="url(#jet)" stroke="#262626" stroke-width="0.9"/>
<line x1="462.2" y1="485.1" x2="464.7" y2="485.1" stroke="#262626" stroke-width="0.9"/>
<text x="473.5" y="492.7" font-size="22" font-weight="bold" fill="#262626" stroke="#262626" stroke-width="0.48" textLength="13.1" lengthAdjust="spacingAndGlyphs">2</text>
<line x1="462.2" y1="538.8" x2="464.7" y2="538.8" stroke="#262626" stroke-width="0.9"/>
<text x="473.5" y="546.4" font-size="22" font-weight="bold" fill="#262626" stroke="#262626" stroke-width="0.48" textLength="13.1" lengthAdjust="spacingAndGlyphs">1</text>
<line x1="462.2" y1="592.0" x2="464.7" y2="592.0" stroke="#262626" stroke-width="0.9"/>
<text x="473.5" y="599.6" font-size="22" font-weight="bold" fill="#262626" stroke="#262626" stroke-width="0.48" textLength="13.1" lengthAdjust="spacingAndGlyphs">0</text>
<line x1="462.2" y1="645.6" x2="464.7" y2="645.6" stroke="#262626" stroke-width="0.9"/>
<text x="473.5" y="653.2" font-size="22" font-weight="bold" fill="#262626" stroke="#262626" stroke-width="0.48" textLength="22.3" lengthAdjust="spacingAndGlyphs">-1</text>
<line x1="462.2" y1="699.0" x2="464.7" y2="699.0" stroke="#262626" stroke-width="0.9"/>
<text x="473.5" y="706.6" font-size="22" font-weight="bold" fill="#262626" stroke="#262626" stroke-width="0.48" textLength="22.3" lengthAdjust="spacingAndGlyphs">-2</text>
<text x="132.9" y="730.8" font-size="24.5" font-weight="bold" fill="#262626" stroke="#262626" stroke-width="0.54" textLength="350.2" lengthAdjust="spacingAndGlyphs">SAT-RAP 850 hPa Temp (K)</text>
<text x="636.4" y="467.4" font-size="13.6" font-weight="bold" fill="#262626" stroke="#262626" stroke-width="0.30" textLength="25.6" lengthAdjust="spacingAndGlyphs">100</text>
<circle cx="666.0" cy="454.6" r="1.3" fill="none" stroke="#262626" stroke-width="0.8"/>
<text x="673.6" y="467.4" font-size="13.6" font-weight="bold" fill="#262626" stroke="#262626" stroke-width="0.30" textLength="13.2" lengthAdjust="spacingAndGlyphs">W</text>
<text x="705.0" y="467.4" font-size="13.6" font-weight="bold" fill="#262626" stroke="#262626" stroke-width="0.30" textLength="17.0" lengthAdjust="spacingAndGlyphs">90</text>
<circle cx="726.0" cy="454.6" r="1.3" fill="none" stroke="#262626" stroke-width="0.8"/>
<text x="734.6" y="467.4" font-size="13.6" font-weight="bold" fill="#262626" stroke="#262626" stroke-width="0.30" textLength="13.2" lengthAdjust="spacingAndGlyphs">W</text>
<text x="769.2" y="467.4" font-size="13.6" font-weight="bold" fill="#262626" stroke="#262626" stroke-width="0.30" textLength="17.4" lengthAdjust="spacingAndGlyphs">80</text>
<circle cx="790.8" cy="454.6" r="1.3" fill="none" stroke="#262626" stroke-width="0.8"/>
<text x="798.6" y="467.4" font-size="13.6" font-weight="bold" fill="#262626" stroke="#262626" stroke-width="0.30" textLength="13.0" lengthAdjust="spacingAndGlyphs">W</text>
<text x="832.4" y="467.4" font-size="13.6" font-weight="bold" fill="#262626" stroke="#262626" stroke-width="0.30" textLength="16.6" lengthAdjust="spacingAndGlyphs">70</text>
<circle cx="852.8" cy="454.6" r="1.3" fill="none" stroke="#262626" stroke-width="0.8"/>
<text x="861.4" y="467.4" font-size="13.6" font-weight="bold" fill="#262626" stroke="#262626" stroke-width="0.30" textLength="13.4" lengthAdjust="spacingAndGlyphs">W</text>
<text x="566.9" y="503.1" font-size="13.3" font-weight="bold" fill="#262626" stroke="#262626" stroke-width="0.29" textLength="17.9" lengthAdjust="spacingAndGlyphs">48</text>
<circle cx="589.0" cy="489.9" r="1.3" fill="none" stroke="#262626" stroke-width="0.8"/>
<text x="596.7" y="503.1" font-size="13.3" font-weight="bold" fill="#262626" stroke="#262626" stroke-width="0.29" textLength="9.6" lengthAdjust="spacingAndGlyphs">N</text>
<text x="566.9" y="521.0" font-size="13.3" font-weight="bold" fill="#262626" stroke="#262626" stroke-width="0.29" textLength="17.9" lengthAdjust="spacingAndGlyphs">46</text>
<circle cx="589.0" cy="507.8" r="1.3" fill="none" stroke="#262626" stroke-width="0.8"/>
<text x="596.7" y="521.0" font-size="13.3" font-weight="bold" fill="#262626" stroke="#262626" stroke-width="0.29" textLength="9.6" lengthAdjust="spacingAndGlyphs">N</text>
<text x="566.9" y="538.0" font-size="13.3" font-weight="bold" fill="#262626" stroke="#262626" stroke-width="0.29" textLength="17.9" lengthAdjust="spacingAndGlyphs">44</text>
<circle cx="589.0" cy="524.8" r="1.3" fill="none" stroke="#262626" stroke-width="0.8"/>
<text x="596.7" y="538.0" font-size="13.3" font-weight="bold" fill="#262626" stroke="#262626" stroke-width="0.29" textLength="9.6" lengthAdjust="spacingAndGlyphs">N</text>
<text x="566.9" y="556.9" font-size="13.3" font-weight="bold" fill="#262626" stroke="#262626" stroke-width="0.29" textLength="17.9" lengthAdjust="spacingAndGlyphs">42</text>
<circle cx="589.0" cy="543.7" r="1.3" fill="none" stroke="#262626" stroke-width="0.8"/>
<text x="596.7" y="556.9" font-size="13.3" font-weight="bold" fill="#262626" stroke="#262626" stroke-width="0.29" textLength="9.6" lengthAdjust="spacingAndGlyphs">N</text>
<text x="566.9" y="573.1" font-size="13.3" font-weight="bold" fill="#262626" stroke="#262626" stroke-width="0.29" textLength="17.9" lengthAdjust="spacingAndGlyphs">40</text>
<circle cx="589.0" cy="559.9" r="1.3" fill="none" stroke="#262626" stroke-width="0.8"/>
<text x="596.7" y="573.1" font-size="13.3" font-weight="bold" fill="#262626" stroke="#262626" stroke-width="0.29" textLength="9.6" lengthAdjust="spacingAndGlyphs">N</text>
<text x="566.9" y="588.0" font-size="13.3" font-weight="bold" fill="#262626" stroke="#262626" stroke-width="0.29" textLength="17.9" lengthAdjust="spacingAndGlyphs">38</text>
<circle cx="589.0" cy="574.8" r="1.3" fill="none" stroke="#262626" stroke-width="0.8"/>
<text x="596.7" y="588.0" font-size="13.3" font-weight="bold" fill="#262626" stroke="#262626" stroke-width="0.29" textLength="9.6" lengthAdjust="spacingAndGlyphs">N</text>
<text x="566.9" y="604.9" font-size="13.3" font-weight="bold" fill="#262626" stroke="#262626" stroke-width="0.29" textLength="17.9" lengthAdjust="spacingAndGlyphs">36</text>
<circle cx="589.0" cy="591.7" r="1.3" fill="none" stroke="#262626" stroke-width="0.8"/>
<text x="596.7" y="604.9" font-size="13.3" font-weight="bold" fill="#262626" stroke="#262626" stroke-width="0.29" textLength="9.6" lengthAdjust="spacingAndGlyphs">N</text>
<text x="566.9" y="619.0" font-size="13.3" font-weight="bold" fill="#262626" stroke="#262626" stroke-width="0.29" textLength="17.9" lengthAdjust="spacingAndGlyphs">34</text>
<circle cx="589.0" cy="605.8" r="1.3" fill="none" stroke="#262626" stroke-width="0.8"/>
<text x="596.7" y="619.0" font-size="13.3" font-weight="bold" fill="#262626" stroke="#262626" stroke-width="0.29" textLength="9.6" lengthAdjust="spacingAndGlyphs">N</text>
<text x="566.9" y="635.8" font-size="13.3" font-weight="bold" fill="#262626" stroke="#262626" stroke-width="0.29" textLength="17.9" lengthAdjust="spacingAndGlyphs">32</text>
<circle cx="589.0" cy="622.6" r="1.3" fill="none" stroke="#262626" stroke-width="0.8"/>
<text x="596.7" y="635.8" font-size="13.3" font-weight="bold" fill="#262626" stroke="#262626" stroke-width="0.29" textLength="9.6" lengthAdjust="spacingAndGlyphs">N</text>
<text x="566.9" y="649.8" font-size="13.3" font-weight="bold" fill="#262626" stroke="#262626" stroke-width="0.29" textLength="17.9" lengthAdjust="spacingAndGlyphs">30</text>
<circle cx="589.0" cy="636.6" r="1.3" fill="none" stroke="#262626" stroke-width="0.8"/>
<text x="596.7" y="649.8" font-size="13.3" font-weight="bold" fill="#262626" stroke="#262626" stroke-width="0.29" textLength="9.6" lengthAdjust="spacingAndGlyphs">N</text>
<text x="566.9" y="662.9" font-size="13.3" font-weight="bold" fill="#262626" stroke="#262626" stroke-width="0.29" textLength="17.9" lengthAdjust="spacingAndGlyphs">28</text>
<circle cx="589.0" cy="649.7" r="1.3" fill="none" stroke="#262626" stroke-width="0.8"/>
<text x="596.7" y="662.9" font-size="13.3" font-weight="bold" fill="#262626" stroke="#262626" stroke-width="0.29" textLength="9.6" lengthAdjust="spacingAndGlyphs">N</text>
<text x="566.9" y="677.7" font-size="13.3" font-weight="bold" fill="#262626" stroke="#262626" stroke-width="0.29" textLength="17.9" lengthAdjust="spacingAndGlyphs">26</text>
<circle cx="589.0" cy="664.5" r="1.3" fill="none" stroke="#262626" stroke-width="0.8"/>
<text x="596.7" y="677.7" font-size="13.3" font-weight="bold" fill="#262626" stroke="#262626" stroke-width="0.29" textLength="9.6" lengthAdjust="spacingAndGlyphs">N</text>
<text x="566.9" y="691.7" font-size="13.3" font-weight="bold" fill="#262626" stroke="#262626" stroke-width="0.29" textLength="17.9" lengthAdjust="spacingAndGlyphs">24</text>
<circle cx="589.0" cy="678.5" r="1.3" fill="none" stroke="#262626" stroke-width="0.8"/>
<text x="596.7" y="691.7" font-size="13.3" font-weight="bold" fill="#262626" stroke="#262626" stroke-width="0.29" textLength="9.6" lengthAdjust="spacingAndGlyphs">N</text>
<text x="566.9" y="704.9" font-size="13.3" font-weight="bold" fill="#262626" stroke="#262626" stroke-width="0.29" textLength="17.9" lengthAdjust="spacingAndGlyphs">22</text>
<circle cx="589.0" cy="691.7" r="1.3" fill="none" stroke="#262626" stroke-width="0.8"/>
<text x="596.7" y="704.9" font-size="13.3" font-weight="bold" fill="#262626" stroke="#262626" stroke-width="0.29" textLength="9.6" lengthAdjust="spacingAndGlyphs">N</text>
<rect x="616.6" y="486.4" width="234.0" height="213.3" fill="none" stroke="#262626" stroke-width="1.1"/>
<clipPath id="sw11"><polygon points="616.5,557.4 647.4,544.0 683.7,530.7 732.2,517.4 775.8,511.0 780.7,512.2 783.1,538.0 780.7,540.4 756.5,544.0 732.2,548.3 705.5,554.9 683.7,561.0 669.2,564.6 657.1,569.5 647.4,573.1 635.2,579.2 626.8,582.8 624.0,581.4 616.5,564.4"/><polygon points="632.0,594.9 635.0,592.9 659.5,587.7 695.8,573.1 732.2,563.4 756.5,558.6 783.1,553.7 785.5,554.2 786.5,572.4 789.4,597.4 803.3,700.6 801.0,702.2 668.5,702.4 666.7,701.4 631.5,596.9"/></clipPath>
<g clip-path="url(#sw11)">
<polygon points="616.5,557.4 647.4,544.0 683.7,530.7 732.2,517.4 739.0,516.4 739.0,546.4 732.2,548.3 705.5,554.9 683.7,561.0 669.2,564.6 657.1,569.5 647.4,573.1 635.2,579.2 626.8,582.8 624.0,581.4 616.5,564.4" fill="#800000"/>
<polygon points="632.0,594.9 659.5,587.7 695.8,573.1 732.2,563.4 756.5,558.6 783.1,553.7 786.1,570.4 768.7,580.4 754.1,584.0 743.6,588.1 732.0,589.5 710.5,595.3 703.0,597.9 694.3,605.3 684.6,609.5 674.8,620.7 672.0,631.8 660.9,638.8 646.9,640.2 632.0,596.9" fill="#800000"/>
<path d="M743.5 525.9h0M745.1 528.7h0" stroke="#80ff80" stroke-width="5.0" stroke-linecap="round" fill="none"/>
<path d="M791.2 654.6h0M755.8 694.0h0" stroke="#0000ff" stroke-width="7.0" stroke-linecap="round" fill="none"/>
<path d="M743.0 531.3h0M770.3 579.5h0M763.1 583.8h0M696.6 607.1h0" stroke="#ffaf00" stroke-width="5.0" stroke-linecap="round" fill="none"/>
<path d="M668.4 672.7h0M688.1 675.2h0M679.9 685.6h0M685.3 686.4h0M714.6 696.4h0" stroke="#9f0000" stroke-width="6.0" stroke-linecap="round" fill="none"/>
<path d="M760.2 680.2h0" stroke="#dfff20" stroke-width="7.0" stroke-linecap="round" fill="none"/>
<path d="M660.0 672.3h0M698.5 685.6h0" stroke="#ff9f00" stroke-width="5.0" stroke-linecap="round" fill="none"/>
<path d="M712.7 638.7h0" stroke="#00cfff" stroke-width="5.0" stroke-linecap="round" fill="none"/>
<path d="M715.5 626.1h0M726.1 638.6h0" stroke="#50ffaf" stroke-width="5.0" stroke-linecap="round" fill="none"/>
<path d="M666.1 635.9h0" stroke="#9f0000" stroke-width="5.0" stroke-linecap="round" fill="none"/>
<path d="M768.5 537.1h0M781.2 575.0h0M701.6 607.4h0M696.1 612.2h0M677.3 621.0h0M681.9 634.6h0M674.1 658.1h0M698.5 661.6h0M708.4 690.2h0M708.0 699.2h0" stroke="#00dfff" stroke-width="6.0" stroke-linecap="round" fill="none"/>
<path d="M733.5 590.2h0M725.7 600.9h0M678.7 624.8h0M694.5 628.2h0M664.4 648.1h0M690.9 652.3h0M673.5 656.5h0M711.3 663.0h0M670.1 676.6h0M719.4 688.5h0M677.5 693.6h0" stroke="#00dfff" stroke-width="5.0" stroke-linecap="round" fill="none"/>
<path d="M759.5 536.1h0" stroke="#ff8000" stroke-width="5.0" stroke-linecap="round" fill="none"/>
<path d="M779.1 654.4h0M735.3 692.1h0" stroke="#0000ff" stroke-width="8.0" stroke-linecap="round" fill="none"/>
<path d="M678.7 644.9h0M707.8 644.3h0M684.2 657.8h0M664.5 663.2h0M707.0 664.5h0M677.8 686.4h0" stroke="#00dfff" stroke-width="6.0" stroke-linecap="round" fill="none"/>
<path d="M773.3 661.8h0" stroke="#00ffff" stroke-width="8.0" stroke-linecap="round" fill="none"/>
<path d="M619.5 557.1h0M622.6 572.9h0M740.0 532.2h0M739.5 594.9h0M700.0 603.8h0" stroke="#ffaf00" stroke-width="5.0" stroke-linecap="round" fill="none"/>
<path d="M617.1 558.0h0M626.1 564.5h0M739.5 525.6h0M748.8 538.9h0M680.3 638.3h0M690.4 649.8h0M695.1 671.4h0M708.8 692.2h0M719.2 635.5h0M719.7 649.3h0" stroke="#dfff20" stroke-width="5.0" stroke-linecap="round" fill="none"/>
<path d="M686.8 693.4h0" stroke="#ff9f00" stroke-width="6.0" stroke-linecap="round" fill="none"/>
<path d="M752.5 685.5h0" stroke="#0050ff" stroke-width="8.0" stroke-linecap="round" fill="none"/>
<path d="M775.7 573.0h0" stroke="#dfff20" stroke-width="6.0" stroke-linecap="round" fill="none"/>
<path d="M691.5 656.5h0M668.2 674.7h0M727.0 626.4h0" stroke="#50ffaf" stroke-width="5.0" stroke-linecap="round" fill="none"/>
<path d="M695.6 665.1h0M704.6 665.9h0" stroke="#0000cf" stroke-width="5.0" stroke-linecap="round" fill="none"/>
<path d="M791.6 645.1h0M783.0 662.8h0" stroke="#0000ff" stroke-width="8.0" stroke-linecap="round" fill="none"/>
<path d="M795.4 675.9h0M748.1 684.5h0" stroke="#0000ff" stroke-width="6.0" stroke-linecap="round" fill="none"/>
<path d="M719.2 605.5h0M726.6 618.9h0M734.5 619.0h0M727.7 623.7h0M708.7 633.9h0M712.1 643.2h0M769.1 683.3h0" stroke="#0050ff" stroke-width="6.0" stroke-linecap="round" fill="none"/>
<path d="M630.0 562.5h0M779.6 511.9h0M741.5 516.7h0M748.2 529.9h0M751.0 533.8h0" stroke="#af0000" stroke-width="6.0" stroke-linecap="round" fill="none"/>
<path d="M797.1 667.5h0M730.0 679.1h0" stroke="#0000ff" stroke-width="8.0" stroke-linecap="round" fill="none"/>
<path d="M744.9 538.2h0M773.2 584.9h0M726.9 593.0h0" stroke="#ffaf00" stroke-width="5.0" stroke-linecap="round" fill="none"/>
<path d="M744.8 523.7h0M777.6 523.3h0M774.6 530.1h0M777.9 580.4h0M747.8 593.7h0M673.0 648.0h0M678.1 654.7h0M701.7 669.4h0M704.3 668.6h0M690.3 676.6h0M685.0 679.1h0" stroke="#ff2000" stroke-width="6.0" stroke-linecap="round" fill="none"/>
<path d="M657.6 648.6h0M688.2 662.4h0M715.3 670.2h0" stroke="#9f0000" stroke-width="5.0" stroke-linecap="round" fill="none"/>
<path d="M708.7 613.3h0M719.7 633.6h0" stroke="#0050ff" stroke-width="5.0" stroke-linecap="round" fill="none"/>
<path d="M763.0 512.7h0M747.6 515.3h0M762.4 516.0h0M778.8 539.8h0M774.2 578.1h0M675.3 642.1h0M654.9 652.6h0M677.2 678.0h0" stroke="#ff2000" stroke-width="5.0" stroke-linecap="round" fill="none"/>
<path d="M765.6 688.7h0" stroke="#00ffff" stroke-width="7.0" stroke-linecap="round" fill="none"/>
<path d="M691.6 608.2h0M666.4 649.6h0M681.2 655.6h0M670.5 683.1h0M700.4 692.0h0" stroke="#ff9f00" stroke-width="5.0" stroke-linecap="round" fill="none"/>
<path d="M774.8 513.9h0M759.6 539.2h0M772.1 539.2h0M781.0 539.7h0" stroke="#ffdf00" stroke-width="6.0" stroke-linecap="round" fill="none"/>
<path d="M767.7 587.5h0M761.4 589.9h0M657.4 644.8h0M707.9 683.3h0" stroke="#0080ff" stroke-width="5.0" stroke-linecap="round" fill="none"/>
<path d="M792.8 676.8h0" stroke="#ffaf00" stroke-width="8.0" stroke-linecap="round" fill="none"/>
<path d="M667.2 641.8h0M681.9 679.5h0M730.1 604.8h0M714.4 616.4h0M712.7 626.0h0" stroke="#50ffaf" stroke-width="6.0" stroke-linecap="round" fill="none"/>
<path d="M738.7 685.2h0M792.0 688.9h0" stroke="#00ffff" stroke-width="7.0" stroke-linecap="round" fill="none"/>
<path d="M752.6 693.3h0M762.5 696.8h0" stroke="#0050ff" stroke-width="7.0" stroke-linecap="round" fill="none"/>
<path d="M792.7 684.4h0" stroke="#00afff" stroke-width="7.0" stroke-linecap="round" fill="none"/>
<path d="M785.6 574.2h0" stroke="#20ffdf" stroke-width="6.0" stroke-linecap="round" fill="none"/>
<path d="M740.9 526.3h0M756.0 533.0h0M742.1 538.9h0" stroke="#ffdf00" stroke-width="5.0" stroke-linecap="round" fill="none"/>
<path d="M774.0 653.1h0M782.2 653.1h0M762.4 671.8h0M779.3 685.6h0M725.4 698.7h0" stroke="#0000cf" stroke-width="8.0" stroke-linecap="round" fill="none"/>
<path d="M684.3 620.5h0M693.7 630.7h0M659.5 652.4h0M690.4 690.4h0M701.2 697.0h0M697.6 699.1h0" stroke="#0080ff" stroke-width="5.0" stroke-linecap="round" fill="none"/>
<path d="M713.3 612.6h0" stroke="#0000df" stroke-width="5.0" stroke-linecap="round" fill="none"/>
<path d="M620.0 568.0h0M785.2 571.1h0M782.8 580.5h0M683.3 628.7h0M700.8 644.9h0M701.1 648.9h0M678.0 658.6h0M705.6 658.0h0M680.9 699.6h0" stroke="#dfff20" stroke-width="5.0" stroke-linecap="round" fill="none"/>
<path d="M784.8 581.5h0M693.7 634.8h0M657.3 639.5h0M696.7 638.7h0M681.9 642.7h0M680.1 662.4h0M656.8 668.5h0M681.3 692.7h0M684.0 700.3h0" stroke="#0020ff" stroke-width="6.0" stroke-linecap="round" fill="none"/>
<path d="M760.8 688.8h0" stroke="#00afff" stroke-width="8.0" stroke-linecap="round" fill="none"/>
<path d="M762.5 530.8h0M762.5 533.6h0M765.3 533.9h0" stroke="#ffdf00" stroke-width="6.0" stroke-linecap="round" fill="none"/>
<path d="M700.4 638.0h0M671.7 668.5h0M710.6 672.1h0" stroke="#ff9f00" stroke-width="5.0" stroke-linecap="round" fill="none"/>
<path d="M673.7 681.7h0M706.8 617.2h0" stroke="#50ffaf" stroke-width="6.0" stroke-linecap="round" fill="none"/>
<path d="M624.1 559.4h0M632.7 575.7h0M768.3 523.8h0M753.9 584.5h0M690.6 613.5h0M711.4 640.9h0M697.2 675.2h0" stroke="#ff2000" stroke-width="5.0" stroke-linecap="round" fill="none"/>
<path d="M744.4 532.2h0M778.8 537.8h0M751.6 543.3h0" stroke="#ffdf00" stroke-width="6.0" stroke-linecap="round" fill="none"/>
<path d="M686.5 631.9h0M708.8 642.2h0M653.2 645.3h0M661.2 658.4h0M717.3 678.4h0" stroke="#9f0000" stroke-width="6.0" stroke-linecap="round" fill="none"/>
<path d="M761.8 541.2h0" stroke="#ffdf00" stroke-width="6.0" stroke-linecap="round" fill="none"/>
<path d="M772.9 576.0h0" stroke="#20ffdf" stroke-width="6.0" stroke-linecap="round" fill="none"/>
<path d="M726.4 610.3h0M720.5 625.5h0" stroke="#0000df" stroke-width="6.0" stroke-linecap="round" fill="none"/>
<path d="M680.8 647.7h0M663.5 651.0h0M698.7 683.0h0M707.4 697.0h0M673.4 700.5h0" stroke="#0080ff" stroke-width="5.0" stroke-linecap="round" fill="none"/>
<path d="M694.2 641.2h0M685.2 664.5h0" stroke="#0000cf" stroke-width="5.0" stroke-linecap="round" fill="none"/>
<path d="M683.6 618.9h0M698.7 618.0h0M684.2 640.6h0M717.5 649.6h0" stroke="#0020ff" stroke-width="5.0" stroke-linecap="round" fill="none"/>
<path d="M678.3 627.8h0M653.3 649.4h0M710.3 652.5h0M653.4 659.4h0M691.6 659.1h0M705.8 675.5h0" stroke="#0020ff" stroke-width="5.0" stroke-linecap="round" fill="none"/>
<path d="M660.0 644.8h0M681.4 645.3h0M680.2 664.8h0M689.9 666.5h0M666.8 692.9h0M668.1 696.3h0" stroke="#0080ff" stroke-width="6.0" stroke-linecap="round" fill="none"/>
<path d="M770.7 681.3h0M773.5 684.1h0" stroke="#0000cf" stroke-width="7.0" stroke-linecap="round" fill="none"/>
<path d="M760.8 543.1h0" stroke="#ff8000" stroke-width="5.0" stroke-linecap="round" fill="none"/>
<path d="M764.9 513.7h0M747.2 539.7h0" stroke="#af0000" stroke-width="6.0" stroke-linecap="round" fill="none"/>
<path d="M755.0 522.5h0" stroke="#ffdf00" stroke-width="6.0" stroke-linecap="round" fill="none"/>
<path d="M726.3 679.4h0M796.9 680.9h0" stroke="#00afff" stroke-width="8.0" stroke-linecap="round" fill="none"/>
<path d="M616.6 565.5h0M765.2 523.9h0M771.0 523.4h0M739.1 532.9h0M767.8 533.2h0M754.2 542.5h0M740.8 589.8h0M733.8 596.5h0M715.8 606.6h0M697.2 652.4h0M714.5 675.6h0M710.7 691.9h0" stroke="#ff2000" stroke-width="5.0" stroke-linecap="round" fill="none"/>
<path d="M683.4 614.0h0M687.6 617.2h0M677.6 639.0h0M664.2 644.4h0M674.2 669.9h0M698.6 696.3h0M717.2 696.6h0" stroke="#0020ff" stroke-width="5.0" stroke-linecap="round" fill="none"/>
<path d="M705.2 635.3h0" stroke="#0000df" stroke-width="5.0" stroke-linecap="round" fill="none"/>
<path d="M630.0 568.8h0M758.0 588.2h0M783.0 644.0h0M782.3 650.3h0" stroke="#ffaf00" stroke-width="6.0" stroke-linecap="round" fill="none"/>
<path d="M697.0 608.4h0M704.0 647.5h0M701.9 666.5h0M691.5 672.0h0M694.3 675.3h0M701.8 690.3h0M711.1 696.8h0" stroke="#0000cf" stroke-width="6.0" stroke-linecap="round" fill="none"/>
<path d="M618.8 561.2h0M743.0 518.5h0M739.4 542.3h0M674.5 630.9h0M683.8 682.2h0M712.6 606.3h0" stroke="#dfff20" stroke-width="6.0" stroke-linecap="round" fill="none"/>
<path d="M719.1 630.2h0M724.5 634.0h0" stroke="#0000df" stroke-width="6.0" stroke-linecap="round" fill="none"/>
<path d="M671.8 638.0h0M695.3 647.7h0M671.7 652.7h0M714.0 652.2h0" stroke="#ff9f00" stroke-width="6.0" stroke-linecap="round" fill="none"/>
<path d="M690.3 618.3h0M651.4 644.7h0M673.7 646.1h0M708.2 652.1h0M687.2 679.3h0" stroke="#00dfff" stroke-width="6.0" stroke-linecap="round" fill="none"/>
<path d="M677.4 634.7h0M650.3 649.2h0M679.7 674.8h0M705.8 697.3h0M730.1 637.3h0" stroke="#dfff20" stroke-width="5.0" stroke-linecap="round" fill="none"/>
<path d="M783.3 639.7h0M788.4 684.9h0" stroke="#0050ff" stroke-width="7.0" stroke-linecap="round" fill="none"/>
<path d="M723.2 623.4h0" stroke="#0000df" stroke-width="5.0" stroke-linecap="round" fill="none"/>
<path d="M784.1 688.1h0" stroke="#00ffff" stroke-width="6.0" stroke-linecap="round" fill="none"/>
<path d="M739.9 523.0h0M722.8 594.0h0M702.5 610.1h0M700.1 614.3h0" stroke="#ffaf00" stroke-width="6.0" stroke-linecap="round" fill="none"/>
<path d="M787.4 637.1h0M770.4 648.4h0" stroke="#00afff" stroke-width="8.0" stroke-linecap="round" fill="none"/>
<path d="M754.4 590.7h0M718.8 594.8h0M719.3 598.3h0M723.2 597.5h0M705.9 608.2h0" stroke="#afff50" stroke-width="6.0" stroke-linecap="round" fill="none"/>
<path d="M722.2 606.4h0" stroke="#0050ff" stroke-width="6.0" stroke-linecap="round" fill="none"/>
<path d="M751.9 516.2h0M782.5 533.7h0M749.7 593.9h0M722.4 603.5h0M703.8 662.3h0M708.2 661.8h0M688.0 681.4h0M722.6 683.6h0M670.1 685.3h0" stroke="#00dfff" stroke-width="5.0" stroke-linecap="round" fill="none"/>
<path d="M779.4 571.3h0" stroke="#20ffdf" stroke-width="6.0" stroke-linecap="round" fill="none"/>
<path d="M772.6 533.9h0M702.3 615.2h0M698.8 629.3h0M685.4 632.1h0M673.1 638.6h0M704.1 638.6h0M667.0 666.0h0M668.3 669.5h0M673.6 680.4h0M706.9 679.4h0M705.2 692.7h0M711.7 699.9h0" stroke="#00dfff" stroke-width="6.0" stroke-linecap="round" fill="none"/>
<path d="M687.6 622.4h0M694.0 625.6h0M684.8 634.9h0M673.6 653.0h0M659.6 661.6h0M670.7 673.2h0M667.3 680.2h0M705.3 688.8h0M678.4 697.2h0M738.7 697.9h0" stroke="#0000cf" stroke-width="6.0" stroke-linecap="round" fill="none"/>
<path d="M627.1 562.6h0M630.2 571.1h0M630.0 577.5h0M774.6 521.8h0" stroke="#af0000" stroke-width="6.0" stroke-linecap="round" fill="none"/>
<path d="M786.4 641.5h0M757.6 689.4h0M739.7 693.7h0" stroke="#00afff" stroke-width="8.0" stroke-linecap="round" fill="none"/>
<path d="M752.9 681.1h0M783.7 679.5h0M795.8 685.1h0M786.5 694.2h0" stroke="#00afff" stroke-width="7.0" stroke-linecap="round" fill="none"/>
<path d="M775.3 580.0h0M698.3 610.2h0M677.3 632.0h0M684.5 639.2h0M658.2 641.7h0M688.5 642.5h0M710.5 658.0h0M716.1 658.5h0M668.1 661.5h0M693.6 683.7h0M673.5 689.4h0M712.0 690.3h0M715.9 690.6h0M705.1 700.0h0M721.5 699.3h0" stroke="#0020ff" stroke-width="6.0" stroke-linecap="round" fill="none"/>
<path d="M730.4 612.3h0M717.4 616.9h0M720.3 617.0h0" stroke="#00cfff" stroke-width="6.0" stroke-linecap="round" fill="none"/>
<path d="M703.6 644.7h0M661.4 676.0h0M701.8 675.6h0" stroke="#9f0000" stroke-width="6.0" stroke-linecap="round" fill="none"/>
<path d="M620.3 564.6h0M620.0 571.3h0M761.8 519.8h0M749.2 526.6h0M715.9 594.9h0" stroke="#af0000" stroke-width="5.0" stroke-linecap="round" fill="none"/>
<path d="M706.1 620.4h0M717.0 630.5h0M720.7 643.8h0" stroke="#0050ff" stroke-width="6.0" stroke-linecap="round" fill="none"/>
<path d="M747.9 587.5h0M710.5 601.0h0M709.2 610.4h0M695.2 638.0h0M705.6 641.1h0M712.4 664.9h0M669.8 700.5h0" stroke="#00dfff" stroke-width="5.0" stroke-linecap="round" fill="none"/>
<path d="M680.3 623.8h0M676.7 648.7h0M695.1 679.8h0M716.4 604.7h0M719.1 622.5h0M710.6 636.9h0" stroke="#50ffaf" stroke-width="5.0" stroke-linecap="round" fill="none"/>
<path d="M749.1 537.0h0" stroke="#80ff80" stroke-width="6.0" stroke-linecap="round" fill="none"/>
<path d="M690.1 624.6h0M687.9 649.1h0M667.8 651.2h0M700.4 663.1h0M715.8 661.1h0M674.7 672.6h0M671.5 679.8h0M702.4 682.1h0M673.9 687.1h0M791.1 666.0h0M792.7 671.1h0M770.6 688.7h0" stroke="#0000cf" stroke-width="6.0" stroke-linecap="round" fill="none"/>
<path d="M697.8 631.0h0M670.6 654.3h0M714.7 673.1h0M710.7 675.7h0M717.9 691.9h0" stroke="#0020ff" stroke-width="5.0" stroke-linecap="round" fill="none"/>
<path d="M630.4 565.9h0M627.9 572.4h0M738.6 523.3h0M740.4 523.4h0M765.8 537.7h0M713.1 605.3h0M692.7 608.6h0M654.8 641.6h0M670.5 649.2h0M664.5 665.1h0M722.8 684.9h0M687.0 698.7h0" stroke="#ff2000" stroke-width="6.0" stroke-linecap="round" fill="none"/>
<path d="M801.5 692.7h0" stroke="#0050ff" stroke-width="8.0" stroke-linecap="round" fill="none"/>
<path d="M779.3 671.1h0M743.3 685.7h0M783.5 684.8h0" stroke="#0000ff" stroke-width="7.0" stroke-linecap="round" fill="none"/>
<path d="M707.2 612.0h0M733.2 613.7h0M731.2 630.0h0" stroke="#0000df" stroke-width="6.0" stroke-linecap="round" fill="none"/>
<path d="M773.9 645.4h0" stroke="#ffaf00" stroke-width="7.0" stroke-linecap="round" fill="none"/>
<path d="M716.0 597.7h0M715.9 604.1h0M710.4 606.9h0M680.6 621.5h0M664.7 669.1h0" stroke="#0080ff" stroke-width="6.0" stroke-linecap="round" fill="none"/>
<path d="M698.0 689.1h0M671.7 693.3h0M721.1 608.9h0M727.9 632.2h0" stroke="#50ffaf" stroke-width="5.0" stroke-linecap="round" fill="none"/>
<path d="M782.7 675.1h0" stroke="#0000ff" stroke-width="8.0" stroke-linecap="round" fill="none"/>
<path d="M695.5 611.1h0M683.4 651.7h0M671.1 666.3h0M697.8 669.8h0M677.5 674.6h0M692.2 682.9h0M712.0 681.8h0M714.4 692.2h0" stroke="#0080ff" stroke-width="6.0" stroke-linecap="round" fill="none"/>
<path d="M625.9 579.6h0M745.4 526.6h0M718.8 525.0h0M719.0 526.1h0M756.9 590.1h0M693.0 611.0h0M790.8 680.0h0" stroke="#ffaf00" stroke-width="6.0" stroke-linecap="round" fill="none"/>
<path d="M683.3 648.3h0M657.9 666.4h0M684.6 671.9h0M679.9 688.9h0" stroke="#ff9f00" stroke-width="6.0" stroke-linecap="round" fill="none"/>
<path d="M762.0 683.7h0" stroke="#00ffff" stroke-width="7.0" stroke-linecap="round" fill="none"/>
<path d="M768.9 539.9h0M703.6 598.6h0" stroke="#afff50" stroke-width="5.0" stroke-linecap="round" fill="none"/>
<path d="M786.7 676.0h0M735.5 679.1h0" stroke="#0050ff" stroke-width="8.0" stroke-linecap="round" fill="none"/>
<path d="M700.9 654.9h0M715.8 654.7h0M709.1 673.4h0M677.3 681.7h0M687.8 695.5h0" stroke="#0000cf" stroke-width="5.0" stroke-linecap="round" fill="none"/>
<path d="M712.1 608.6h0M716.1 612.1h0M706.5 626.1h0M714.0 634.1h0" stroke="#0050ff" stroke-width="5.0" stroke-linecap="round" fill="none"/>
<path d="M741.9 530.0h0" stroke="#af0000" stroke-width="5.0" stroke-linecap="round" fill="none"/>
<path d="M754.5 515.8h0M744.2 520.5h0M743.7 536.4h0M765.5 539.2h0M774.9 540.0h0M703.1 604.7h0M688.0 651.6h0M704.7 656.4h0M708.3 675.8h0M681.1 696.3h0" stroke="#ff2000" stroke-width="6.0" stroke-linecap="round" fill="none"/>
<path d="M704.6 635.3h0M693.6 659.0h0M694.6 691.8h0" stroke="#50ffaf" stroke-width="6.0" stroke-linecap="round" fill="none"/>
<path d="M757.3 527.4h0M772.8 530.0h0M748.4 537.1h0" stroke="#ffdf00" stroke-width="5.0" stroke-linecap="round" fill="none"/>
<path d="M741.7 523.3h0" stroke="#80ff80" stroke-width="5.0" stroke-linecap="round" fill="none"/>
<path d="M693.7 608.9h0M688.1 624.2h0M688.5 627.3h0M697.7 648.4h0M686.8 655.9h0M695.4 654.4h0M712.5 656.0h0M664.3 658.0h0M670.1 661.1h0M688.0 685.2h0M670.7 688.2h0M684.1 695.7h0M792.7 641.8h0M731.6 698.1h0M748.6 698.7h0" stroke="#0000cf" stroke-width="6.0" stroke-linecap="round" fill="none"/>
<path d="M784.7 577.8h0" stroke="#20ffdf" stroke-width="6.0" stroke-linecap="round" fill="none"/>
<path d="M773.8 580.1h0M736.8 598.6h0" stroke="#ffaf00" stroke-width="5.0" stroke-linecap="round" fill="none"/>
<path d="M678.1 640.7h0M669.8 659.9h0M679.9 669.1h0M718.9 686.7h0" stroke="#0000cf" stroke-width="5.0" stroke-linecap="round" fill="none"/>
<path d="M783.0 574.3h0" stroke="#20ffdf" stroke-width="6.0" stroke-linecap="round" fill="none"/>
<path d="M683.4 624.7h0M692.2 645.4h0M678.7 666.0h0M714.7 678.5h0" stroke="#ff9f00" stroke-width="6.0" stroke-linecap="round" fill="none"/>
<path d="M660.8 648.1h0M693.6 652.0h0M722.7 603.3h0M712.5 630.0h0" stroke="#50ffaf" stroke-width="6.0" stroke-linecap="round" fill="none"/>
<path d="M784.0 667.3h0M752.5 670.8h0M743.5 687.8h0" stroke="#00afff" stroke-width="7.0" stroke-linecap="round" fill="none"/>
<path d="M791.9 657.7h0M751.9 675.6h0M761.8 675.5h0M770.0 674.7h0M774.2 674.6h0M773.8 688.4h0" stroke="#0000ff" stroke-width="7.0" stroke-linecap="round" fill="none"/>
<path d="M724.5 616.5h0M709.0 622.7h0M719.3 639.3h0M726.8 644.3h0" stroke="#00cfff" stroke-width="5.0" stroke-linecap="round" fill="none"/>
<path d="M764.9 680.0h0" stroke="#ffaf00" stroke-width="7.0" stroke-linecap="round" fill="none"/>
<path d="M669.9 645.3h0M677.2 670.0h0M708.1 668.3h0M703.9 686.3h0M727.9 611.7h0M720.2 619.1h0M712.3 621.7h0M723.1 639.8h0" stroke="#50ffaf" stroke-width="6.0" stroke-linecap="round" fill="none"/>
<path d="M775.3 671.9h0M755.9 674.8h0" stroke="#00afff" stroke-width="8.0" stroke-linecap="round" fill="none"/>
<path d="M778.7 644.8h0M778.5 662.0h0M778.9 667.7h0M758.0 684.9h0M760.6 693.8h0" stroke="#0000cf" stroke-width="8.0" stroke-linecap="round" fill="none"/>
<path d="M766.4 581.3h0M684.2 611.0h0M694.5 644.7h0M690.7 679.9h0M666.5 685.0h0" stroke="#0080ff" stroke-width="5.0" stroke-linecap="round" fill="none"/>
<path d="M715.3 664.6h0M664.2 676.7h0M697.4 691.7h0" stroke="#0080ff" stroke-width="6.0" stroke-linecap="round" fill="none"/>
<path d="M626.5 553.8h0M762.0 522.7h0M728.9 593.7h0M705.1 610.7h0M680.8 632.1h0M691.9 685.4h0" stroke="#ff2000" stroke-width="5.0" stroke-linecap="round" fill="none"/>
<path d="M728.0 630.4h0M778.4 658.1h0M729.7 689.2h0M788.4 688.7h0" stroke="#0050ff" stroke-width="6.0" stroke-linecap="round" fill="none"/>
<path d="M622.6 564.1h0M745.6 522.8h0M743.0 527.8h0M748.8 533.2h0M746.2 535.1h0M711.5 522.6h0M690.7 631.4h0M704.7 679.5h0M717.6 620.4h0" stroke="#dfff20" stroke-width="6.0" stroke-linecap="round" fill="none"/>
<path d="M788.6 661.7h0M744.9 675.4h0M748.1 692.5h0M764.5 692.3h0" stroke="#0000cf" stroke-width="7.0" stroke-linecap="round" fill="none"/>
<path d="M680.9 628.2h0M698.9 635.7h0M657.0 652.4h0M673.6 664.6h0M687.5 665.3h0M711.8 669.0h0" stroke="#ff9f00" stroke-width="5.0" stroke-linecap="round" fill="none"/>
<path d="M703.6 622.5h0M705.8 621.8h0M733.0 632.5h0M712.5 636.3h0M709.2 640.7h0" stroke="#00cfff" stroke-width="5.0" stroke-linecap="round" fill="none"/>
<path d="M661.5 669.3h0M710.6 687.0h0" stroke="#9f0000" stroke-width="6.0" stroke-linecap="round" fill="none"/>
<path d="M786.4 653.6h0M777.9 676.9h0M765.8 698.4h0" stroke="#0000cf" stroke-width="7.0" stroke-linecap="round" fill="none"/>
<path d="M705.2 600.7h0" stroke="#ffaf00" stroke-width="6.0" stroke-linecap="round" fill="none"/>
<path d="M775.4 648.5h0M782.8 658.5h0M792.4 663.7h0M788.5 666.9h0M769.5 671.9h0M791.3 693.9h0M778.4 698.5h0M788.5 696.8h0" stroke="#0000cf" stroke-width="7.0" stroke-linecap="round" fill="none"/>
<path d="M778.7 510.4h0M740.7 533.6h0M778.2 578.2h0M751.0 587.2h0M744.2 591.2h0M747.9 590.2h0" stroke="#afff50" stroke-width="6.0" stroke-linecap="round" fill="none"/>
<path d="M709.2 616.7h0" stroke="#00cfff" stroke-width="6.0" stroke-linecap="round" fill="none"/>
<path d="M737.1 589.8h0M749.5 590.5h0M708.4 596.8h0M714.6 648.1h0M682.0 659.3h0M692.1 668.2h0" stroke="#00dfff" stroke-width="5.0" stroke-linecap="round" fill="none"/>
<path d="M787.1 646.3h0M756.6 670.3h0M727.1 689.0h0M796.3 698.0h0" stroke="#0000ff" stroke-width="7.0" stroke-linecap="round" fill="none"/>
<path d="M778.1 520.5h0M769.6 585.1h0M744.1 595.3h0M713.0 606.6h0" stroke="#afff50" stroke-width="6.0" stroke-linecap="round" fill="none"/>
<path d="M626.5 559.4h0M745.7 518.3h0M722.1 520.6h0M715.8 524.5h0M713.1 598.1h0M720.6 603.7h0" stroke="#ffaf00" stroke-width="6.0" stroke-linecap="round" fill="none"/>
<path d="M717.5 631.9h0" stroke="#0000df" stroke-width="6.0" stroke-linecap="round" fill="none"/>
<path d="M792.5 649.2h0M787.4 679.5h0M778.6 693.1h0" stroke="#0000ff" stroke-width="8.0" stroke-linecap="round" fill="none"/>
<path d="M657.7 662.9h0M677.8 661.9h0M684.2 663.2h0M695.0 685.5h0M714.4 687.0h0M695.6 699.6h0" stroke="#9f0000" stroke-width="5.0" stroke-linecap="round" fill="none"/>
<path d="M729.9 639.0h0" stroke="#00cfff" stroke-width="6.0" stroke-linecap="round" fill="none"/>
<path d="M719.9 613.0h0M713.9 619.3h0M723.5 618.7h0M723.8 625.3h0M733.7 628.8h0M706.8 634.1h0" stroke="#0050ff" stroke-width="6.0" stroke-linecap="round" fill="none"/>
<path d="M757.3 679.0h0" stroke="#0000ff" stroke-width="6.0" stroke-linecap="round" fill="none"/>
<path d="M748.5 689.9h0M753.6 698.3h0" stroke="#00afff" stroke-width="7.0" stroke-linecap="round" fill="none"/>
<path d="M627.7 581.1h0M749.8 521.4h0M720.0 521.2h0M714.8 527.0h0M721.7 527.1h0M772.5 572.8h0M775.9 577.0h0M674.5 627.1h0M718.1 699.9h0M710.5 619.8h0M709.2 644.3h0M727.5 645.6h0" stroke="#dfff20" stroke-width="6.0" stroke-linecap="round" fill="none"/>
<path d="M764.9 517.0h0M781.4 526.8h0M744.2 528.8h0M712.0 600.4h0" stroke="#af0000" stroke-width="5.0" stroke-linecap="round" fill="none"/>
<path d="M756.5 698.2h0" stroke="#dfff20" stroke-width="8.0" stroke-linecap="round" fill="none"/>
<path d="M795.9 654.1h0M788.4 672.5h0" stroke="#00ffff" stroke-width="7.0" stroke-linecap="round" fill="none"/>
<path d="M661.1 655.0h0M665.1 680.3h0M721.3 692.2h0" stroke="#9f0000" stroke-width="5.0" stroke-linecap="round" fill="none"/>
<path d="M743.6 526.4h0M778.9 530.6h0M754.8 540.6h0M740.9 542.9h0" stroke="#af0000" stroke-width="6.0" stroke-linecap="round" fill="none"/>
<path d="M772.1 516.8h0M766.1 518.4h0M776.1 518.8h0M762.4 525.3h0M768.6 527.0h0" stroke="#af0000" stroke-width="5.0" stroke-linecap="round" fill="none"/>
<path d="M739.0 674.6h0M727.1 694.1h0" stroke="#0000cf" stroke-width="7.0" stroke-linecap="round" fill="none"/>
<path d="M717.8 623.7h0M730.5 623.6h0M710.5 625.8h0M716.7 641.0h0" stroke="#00cfff" stroke-width="6.0" stroke-linecap="round" fill="none"/>
<path d="M623.7 561.9h0M768.7 516.3h0M751.8 519.1h0M750.6 525.6h0M761.7 536.0h0M729.7 597.6h0M697.1 621.9h0M661.5 641.7h0" stroke="#ff2000" stroke-width="6.0" stroke-linecap="round" fill="none"/>
<path d="M747.1 523.7h0M775.4 533.1h0M774.9 535.8h0M749.3 542.7h0" stroke="#ff8000" stroke-width="5.0" stroke-linecap="round" fill="none"/>
<path d="M722.2 637.5h0M717.3 647.4h0" stroke="#0000df" stroke-width="5.0" stroke-linecap="round" fill="none"/>
<path d="M795.7 659.0h0M745.0 680.1h0M730.3 693.5h0" stroke="#00ffff" stroke-width="8.0" stroke-linecap="round" fill="none"/>
<path d="M740.6 519.0h0M758.2 520.5h0M782.1 529.4h0M700.3 611.3h0" stroke="#afff50" stroke-width="5.0" stroke-linecap="round" fill="none"/>
<path d="M698.6 614.1h0M691.8 635.5h0M685.5 646.1h0M714.0 682.7h0M686.6 690.2h0M722.1 690.2h0M683.5 693.7h0" stroke="#0020ff" stroke-width="6.0" stroke-linecap="round" fill="none"/>
<path d="M743.6 697.1h0" stroke="#ffaf00" stroke-width="7.0" stroke-linecap="round" fill="none"/>
<path d="M770.2 653.6h0M779.8 688.1h0" stroke="#0050ff" stroke-width="8.0" stroke-linecap="round" fill="none"/>
<path d="M782.3 576.4h0M700.7 642.5h0M656.2 655.4h0M690.6 663.4h0M682.1 673.0h0M698.6 679.3h0M704.8 681.9h0" stroke="#0020ff" stroke-width="5.0" stroke-linecap="round" fill="none"/>
<path d="M734.9 688.9h0M740.0 689.4h0" stroke="#0000ff" stroke-width="7.0" stroke-linecap="round" fill="none"/>
<path d="M623.0 554.7h0M768.2 512.2h0M782.0 523.9h0M772.0 536.7h0M745.1 541.1h0M702.3 600.7h0M706.2 604.7h0M684.9 654.9h0M688.8 659.0h0M715.8 698.7h0" stroke="#ff2000" stroke-width="6.0" stroke-linecap="round" fill="none"/>
<path d="M770.7 698.7h0" stroke="#dfff20" stroke-width="7.0" stroke-linecap="round" fill="none"/>
<path d="M739.5 680.6h0M801.1 689.2h0" stroke="#00afff" stroke-width="6.0" stroke-linecap="round" fill="none"/>
<path d="M727.3 685.3h0M734.4 684.4h0" stroke="#0000cf" stroke-width="8.0" stroke-linecap="round" fill="none"/>
<path d="M772.8 513.8h0M758.3 533.8h0M764.5 587.7h0M735.7 595.1h0" stroke="#af0000" stroke-width="6.0" stroke-linecap="round" fill="none"/>
<path d="M675.2 636.1h0M674.8 675.0h0M683.7 675.0h0" stroke="#0020ff" stroke-width="6.0" stroke-linecap="round" fill="none"/>
<path d="M779.3 574.6h0" stroke="#00afff" stroke-width="6.0" stroke-linecap="round" fill="none"/>
<path d="M777.9 680.7h0M751.7 687.7h0M796.0 689.2h0M744.5 693.6h0" stroke="#0000cf" stroke-width="8.0" stroke-linecap="round" fill="none"/>
<path d="M786.2 584.1h0" stroke="#00afff" stroke-width="5.0" stroke-linecap="round" fill="none"/>
<path d="M671.7 696.5h0" stroke="#0080ff" stroke-width="6.0" stroke-linecap="round" fill="none"/>
<path d="M752.3 522.2h0M774.3 525.6h0" stroke="#ff8000" stroke-width="6.0" stroke-linecap="round" fill="none"/>
<path d="M773.5 666.5h0" stroke="#00afff" stroke-width="6.0" stroke-linecap="round" fill="none"/>
<path d="M710.1 608.1h0M734.1 622.4h0M724.5 642.8h0" stroke="#0000df" stroke-width="6.0" stroke-linecap="round" fill="none"/>
<path d="M630.5 555.2h0M741.9 539.5h0M715.3 521.1h0M700.7 634.2h0M696.7 642.3h0M706.9 649.3h0M674.8 692.8h0M691.6 699.8h0M725.9 615.0h0M716.7 642.2h0" stroke="#dfff20" stroke-width="5.0" stroke-linecap="round" fill="none"/>
<path d="M774.7 516.1h0M754.0 525.7h0M766.1 528.9h0M769.2 528.9h0M748.2 532.4h0" stroke="#ff8000" stroke-width="6.0" stroke-linecap="round" fill="none"/>
<path d="M778.2 583.5h0" stroke="#00afff" stroke-width="6.0" stroke-linecap="round" fill="none"/>
<path d="M769.2 518.5h0" stroke="#ffdf00" stroke-width="5.0" stroke-linecap="round" fill="none"/>
<path d="M748.6 679.4h0M731.6 683.8h0M775.1 692.6h0" stroke="#0050ff" stroke-width="7.0" stroke-linecap="round" fill="none"/>
<path d="M751.6 540.8h0M728.8 591.1h0M734.3 593.1h0M727.6 597.0h0M695.3 617.7h0M654.8 655.5h0M668.0 655.2h0M697.7 665.0h0M688.6 668.7h0M676.4 672.1h0M668.2 681.9h0M664.7 687.1h0M707.2 686.6h0" stroke="#00dfff" stroke-width="6.0" stroke-linecap="round" fill="none"/>
<path d="M698.9 626.0h0M668.3 690.6h0" stroke="#9f0000" stroke-width="5.0" stroke-linecap="round" fill="none"/>
<path d="M706.8 608.9h0M730.2 618.7h0M704.1 626.3h0M709.3 630.2h0M724.1 628.4h0M729.2 632.8h0M706.7 642.9h0" stroke="#0050ff" stroke-width="5.0" stroke-linecap="round" fill="none"/>
<path d="M735.9 696.9h0" stroke="#00ffff" stroke-width="8.0" stroke-linecap="round" fill="none"/>
<path d="M774.6 679.9h0M773.9 696.8h0" stroke="#0050ff" stroke-width="8.0" stroke-linecap="round" fill="none"/>
<path d="M756.0 537.5h0" stroke="#ff8000" stroke-width="5.0" stroke-linecap="round" fill="none"/>
<path d="M715.8 609.7h0M724.2 611.8h0M730.7 625.9h0M734.0 626.8h0M715.7 636.1h0M723.6 647.0h0" stroke="#00cfff" stroke-width="5.0" stroke-linecap="round" fill="none"/>
<path d="M747.8 520.7h0M765.7 527.4h0M776.7 583.5h0M715.1 601.5h0M699.6 608.3h0" stroke="#afff50" stroke-width="5.0" stroke-linecap="round" fill="none"/>
<path d="M764.8 675.0h0M797.0 694.1h0M801.7 697.3h0" stroke="#0050ff" stroke-width="7.0" stroke-linecap="round" fill="none"/>
<path d="M748.3 519.4h0M747.0 531.2h0M742.9 542.0h0M778.1 576.6h0M690.0 621.2h0M707.6 655.1h0M659.5 664.8h0M731.0 608.7h0M731.1 643.8h0" stroke="#dfff20" stroke-width="6.0" stroke-linecap="round" fill="none"/>
<path d="M627.6 574.1h0M630.6 576.3h0M722.8 524.2h0M711.6 527.3h0M723.1 600.4h0" stroke="#ffaf00" stroke-width="5.0" stroke-linecap="round" fill="none"/>
<path d="M726.6 635.3h0" stroke="#00cfff" stroke-width="5.0" stroke-linecap="round" fill="none"/>
<path d="M778.9 534.4h0M752.2 536.1h0" stroke="#ff8000" stroke-width="6.0" stroke-linecap="round" fill="none"/>
<path d="M759.1 517.1h0M772.3 527.1h0M757.5 528.8h0M744.1 544.1h0M781.8 577.5h0" stroke="#afff50" stroke-width="6.0" stroke-linecap="round" fill="none"/>
<path d="M796.6 672.1h0" stroke="#00ffff" stroke-width="6.0" stroke-linecap="round" fill="none"/>
<path d="M690.9 610.5h0M695.7 668.0h0M702.4 673.6h0M704.2 671.9h0M667.0 699.8h0" stroke="#0080ff" stroke-width="5.0" stroke-linecap="round" fill="none"/>
<path d="M778.9 580.5h0" stroke="#00afff" stroke-width="5.0" stroke-linecap="round" fill="none"/>
<path d="M671.9 634.9h0M666.9 638.9h0M692.1 639.0h0M700.5 652.2h0M700.6 657.9h0M687.4 671.8h0M702.5 678.9h0M673.1 695.8h0" stroke="#ff9f00" stroke-width="6.0" stroke-linecap="round" fill="none"/>
<path d="M703.9 652.4h0M709.2 659.8h0" stroke="#ff9f00" stroke-width="5.0" stroke-linecap="round" fill="none"/>
<path d="M744.7 515.9h0M782.7 519.0h0M752.2 529.2h0M759.3 584.3h0M694.9 605.5h0M681.3 619.2h0M674.3 624.7h0M711.2 648.5h0M677.2 651.0h0M698.6 657.8h0" stroke="#ff2000" stroke-width="5.0" stroke-linecap="round" fill="none"/>
<path d="M709.2 604.1h0" stroke="#afff50" stroke-width="5.0" stroke-linecap="round" fill="none"/>
<path d="M778.0 515.4h0M779.2 525.8h0M755.9 530.8h0M742.6 537.5h0" stroke="#ff8000" stroke-width="6.0" stroke-linecap="round" fill="none"/>
<path d="M755.4 518.7h0M728.6 600.6h0M688.5 611.0h0M691.7 627.6h0M687.4 634.4h0M669.9 641.0h0M667.4 659.7h0M673.1 662.4h0M695.4 661.2h0M665.0 672.5h0M697.6 671.2h0" stroke="#00dfff" stroke-width="5.0" stroke-linecap="round" fill="none"/>
<path d="M741.2 536.2h0" stroke="#80ff80" stroke-width="6.0" stroke-linecap="round" fill="none"/>
<path d="M693.9 620.2h0M687.7 637.7h0M698.0 645.2h0M711.8 645.0h0M664.1 654.6h0M683.2 669.4h0M663.8 682.0h0M683.6 689.8h0M677.6 700.1h0" stroke="#0020ff" stroke-width="6.0" stroke-linecap="round" fill="none"/>
<path d="M624.2 568.2h0M626.0 568.8h0M781.4 516.9h0M782.0 537.6h0" stroke="#af0000" stroke-width="5.0" stroke-linecap="round" fill="none"/>
<path d="M630.0 558.2h0M749.6 525.9h0M726.4 606.7h0" stroke="#dfff20" stroke-width="5.0" stroke-linecap="round" fill="none"/>
<path d="M681.1 615.0h0M717.9 676.5h0M712.4 679.0h0M682.1 682.5h0M691.7 696.0h0M723.4 608.9h0M712.6 646.5h0" stroke="#50ffaf" stroke-width="5.0" stroke-linecap="round" fill="none"/>
<path d="M766.7 685.1h0M769.3 693.0h0M792.7 698.4h0" stroke="#ffaf00" stroke-width="8.0" stroke-linecap="round" fill="none"/>
<path d="M732.6 609.5h0M730.2 617.0h0M706.8 630.8h0" stroke="#00cfff" stroke-width="6.0" stroke-linecap="round" fill="none"/>
<path d="M747.2 675.6h0M723.1 685.5h0M782.3 698.1h0" stroke="#00ffff" stroke-width="7.0" stroke-linecap="round" fill="none"/>
<path d="M783.6 672.2h0" stroke="#ffaf00" stroke-width="8.0" stroke-linecap="round" fill="none"/>
<path d="M772.4 518.9h0M758.1 523.3h0M767.1 583.3h0" stroke="#afff50" stroke-width="6.0" stroke-linecap="round" fill="none"/>
<path d="M754.0 587.4h0M761.5 587.6h0M720.4 600.4h0" stroke="#afff50" stroke-width="5.0" stroke-linecap="round" fill="none"/>
<path d="M694.4 615.0h0M664.3 641.6h0M679.9 651.9h0M701.8 686.4h0M676.6 690.5h0M695.2 690.0h0" stroke="#0000cf" stroke-width="5.0" stroke-linecap="round" fill="none"/>
<path d="M720.1 645.8h0" stroke="#0050ff" stroke-width="5.0" stroke-linecap="round" fill="none"/>
<path d="M779.6 640.2h0M788.5 650.2h0M773.6 657.9h0M795.8 662.9h0M800.5 684.7h0M783.3 693.5h0" stroke="#0050ff" stroke-width="7.0" stroke-linecap="round" fill="none"/>
<path d="M688.5 613.7h0M678.1 618.9h0M649.5 641.0h0M691.3 641.5h0M667.1 646.0h0M687.9 644.2h0M698.0 655.9h0M656.1 657.7h0M664.6 691.8h0M691.1 692.2h0M693.5 696.7h0M702.0 698.9h0M779.7 649.3h0M787.4 658.6h0M764.8 670.3h0" stroke="#0000cf" stroke-width="6.0" stroke-linecap="round" fill="none"/>
</g>
<clipPath id="clip11"><rect x="616.6" y="486.4" width="234.0" height="213.3"/></clipPath>
<g clip-path="url(#clip11)">
<path d="M611.1 486.9 L692.0 486.9 L692.0 483.3 L693.3 483.4 L694.1 484.0 L695.0 489.0 L698.0 490.3 L700.5 491.5 L703.3 490.6 L705.9 490.6 L708.1 492.2 L709.6 494.1 L712.5 494.5 L715.0 495.8 L718.2 494.5 L719.1 494.4 L721.9 495.5 L724.5 495.5 L726.0 496.4 L727.6 496.4 M727.6 496.4 L725.1 497.8 L722.6 498.8 L719.4 501.1 L717.5 502.5 L715.0 504.8 L713.1 506.2 L711.2 508.1 L710.9 508.5 L712.5 508.5 L714.4 508.1 L716.6 507.1 L718.5 506.2 L719.7 507.6 L719.1 509.4 L721.6 509.4 L721.9 509.7 M721.9 509.7 L724.5 509.3 L727.0 507.4 L729.5 506.7 L731.4 505.3 L733.6 503.4 L735.8 501.6 L738.0 501.4 L735.5 503.9 L735.8 506.2 L737.7 506.7 L739.6 510.4 L742.1 510.4 L743.4 510.5 L745.9 511.1 L747.8 509.9 L749.7 509.0 L752.8 508.1 L756.0 508.1 L756.0 510.4 L758.5 510.8 L759.7 510.4 L761.6 512.2 L762.3 513.6 L762.9 514.5 M762.9 514.5 L760.4 515.1 L757.8 516.1 L755.3 514.9 L752.8 514.0 L750.3 515.4 L747.8 516.3 L745.9 518.1 L744.3 516.3 L742.7 517.6 L741.1 519.9 L739.6 523.0 M739.6 523.0 L738.6 520.8 L738.0 518.5 L736.4 516.7 L734.5 515.4 L732.6 514.9 L730.1 514.0 L727.0 513.1 L723.8 512.2 L721.9 509.7 M739.6 523.0 L738.6 518.5 L738.3 516.3 M739.6 523.0 L738.9 528.3 L738.9 537.1 L739.6 545.7 L739.9 550.0 L740.1 552.5 M740.1 552.5 L742.1 553.2 L744.5 552.0 M744.5 552.0 L746.5 549.1 L748.1 545.7 L748.4 543.1 L748.1 539.7 L746.5 536.2 L747.1 533.6 L748.1 530.5 L749.0 527.5 L750.3 524.3 L752.2 522.6 L752.8 525.7 L753.7 523.9 L754.7 521.2 L755.6 519.9 L756.3 517.2 L757.7 516.9 L759.7 518.1 L761.6 519.4 L764.8 520.3 L766.3 523.0 L766.7 526.1 L766.3 529.7 L764.8 531.9 L762.9 534.1 L763.2 535.8 L765.1 534.9 L766.7 533.2 L768.9 532.3 L770.4 535.4 L771.7 538.8 L772.0 541.4 L771.4 544.9 L769.5 546.6 L767.9 547.8 L767.3 550.4 L765.7 552.3 M744.5 552.0 L750.9 552.0 L757.2 552.5 L765.7 552.3 M765.7 552.3 L767.9 553.4 L769.8 554.6 L771.7 555.0 L774.9 554.2 L776.7 554.2 L779.3 552.5 L781.2 551.7 L784.2 550.1 L786.8 548.7 L789.0 547.7 L791.9 545.7 L794.4 542.7 L793.8 540.6 L793.4 539.3 L796.3 538.4 L800.1 538.2 L803.2 539.3 L806.4 539.1 L808.9 538.0 L811.4 536.8 L811.1 534.5 L811.4 532.7 L810.4 531.4 L813.9 529.2 L817.1 525.7 L819.6 523.9 L820.8 523.9 L829.3 523.8 L841.0 523.8 L843.5 521.2 L845.4 520.3 L847.3 517.2 L849.2 514.0 L850.5 511.3 M635.9 486.9 L635.9 558.4 M611.1 523.9 L635.9 523.9 M635.9 515.5 L683.1 515.5 M611.1 558.4 L648.5 558.4 L648.5 590.8 M611.1 590.8 L695.3 590.8 M635.9 541.4 L670.9 541.4 L674.1 542.7 L677.2 542.7 L680.4 543.6 L682.9 545.7 L683.8 545.7 M648.5 566.7 L691.1 566.7 M642.6 590.8 L642.6 594.8 L642.3 629.1 L619.7 629.1 L611.1 629.1 M642.3 594.8 L661.5 594.8 L661.5 609.8 L664.0 611.2 L666.5 612.5 L670.3 612.9 L673.4 614.1 L676.6 614.8 L679.1 615.9 L681.6 615.6 L684.1 615.9 L687.3 615.2 L689.8 615.0 L693.0 615.2 L696.2 616.8 L699.0 617.5 L699.0 621.5 M696.2 616.8 L696.5 603.3 L695.3 594.8 L695.3 590.8 L695.4 574.0 L693.6 571.6 L692.3 570.0 L691.1 566.7 L689.8 564.2 L687.9 561.7 L687.3 558.4 L687.3 554.2 L686.0 550.0 L684.8 547.4 L683.8 545.7 L682.9 541.4 L683.8 537.1 L683.8 521.2 L683.1 515.5 L681.9 511.3 L681.6 506.7 L681.3 501.1 L680.4 496.4 L679.4 491.7 L678.9 486.9 M695.3 594.8 L723.5 594.8 L722.2 597.9 L722.1 598.7 L726.2 598.7 M699.0 621.5 L717.1 621.6 M699.0 621.5 L699.0 629.1 L700.5 632.0 L701.8 635.0 L702.1 637.9 L701.1 641.6 L700.3 646.0 M717.1 621.6 L717.5 624.6 L718.2 627.6 L715.6 629.8 L715.0 632.8 L714.4 635.0 L714.1 636.5 L726.2 636.5 L725.7 638.7 L726.3 640.5 L727.0 642.3 M717.1 621.6 L717.5 617.8 L718.5 614.8 L720.7 611.0 L721.9 607.9 L723.8 605.6 L724.8 602.5 L726.3 599.4 L727.0 597.1 L727.6 594.8 M683.8 537.1 L716.8 537.1 M688.1 561.9 L713.6 561.6 L715.5 563.5 M715.5 563.5 L716.9 560.9 L717.5 558.4 L720.0 554.6 L722.6 553.4 L723.2 551.2 L721.9 548.3 L720.4 545.7 L718.2 544.0 L717.2 540.6 L716.8 537.1 M715.5 563.5 L715.3 566.7 L716.9 570.0 L719.1 572.4 L720.7 574.0 L723.2 576.1 L723.2 578.9 L722.6 581.3 L725.1 583.7 L727.0 586.9 L727.9 589.2 L729.5 590.8 L729.8 592.4 L728.9 594.0 L727.6 594.8 M716.8 537.1 L716.3 533.6 L713.1 531.0 L710.0 528.3 L706.8 526.1 L707.1 523.0 L707.4 519.4 L710.0 516.7 L710.0 514.0 L710.0 509.0 L710.9 508.5 M720.4 545.7 L738.3 545.8 M740.1 552.5 L740.0 571.6 L739.6 574.0 L739.9 576.5 L737.7 580.5 L736.7 584.5 M729.5 590.8 L732.0 589.6 L734.2 590.0 L736.4 587.3 L736.7 584.5 L739.6 583.7 L742.7 584.5 L745.9 583.7 L748.4 582.5 L750.3 581.7 L751.2 580.6 L753.4 578.9 L754.7 577.3 L757.1 574.0 L759.7 574.8 L762.3 576.6 L764.8 577.7 L766.7 578.1 L769.8 578.1 L771.1 579.7 L773.6 578.1 L774.9 575.6 L776.4 574.4 L778.0 572.4 L780.5 570.8 L782.1 569.1 L783.4 565.8 L783.7 563.4 L784.2 561.4 M757.1 552.5 L757.1 574.0 M784.2 561.4 L784.2 550.1 M771.1 579.7 L771.7 582.9 L773.6 585.3 L775.2 586.5 L772.3 588.5 L769.2 590.8 L766.7 592.4 L764.3 594.0 M727.6 594.8 L736.6 594.8 L736.6 593.3 L743.4 593.6 L749.7 593.7 L756.0 593.8 L764.3 594.0 L776.9 594.1 L787.5 594.4 L800.1 594.4 L807.0 594.4 L813.3 594.4 M776.9 594.1 L775.5 596.3 L773.6 597.5 L771.1 599.1 L768.6 600.6 L765.4 602.2 L762.9 602.5 L760.4 604.7 L760.2 606.5 M722.6 606.4 L735.8 606.4 L752.2 606.6 L760.2 606.5 L767.9 606.5 M735.8 606.4 L735.2 614.1 L734.1 629.8 L734.5 636.5 L734.5 641.2 M752.2 606.6 L753.4 614.1 L754.7 622.4 L756.0 625.4 L755.6 629.1 L755.6 636.5 M740.2 641.6 L739.6 636.5 L755.6 636.5 M755.6 636.5 L756.8 638.7 L765.4 639.0 L773.6 639.6 L774.5 637.9 L775.5 637.9 L778.3 638.5 M767.9 606.5 L769.8 608.7 L771.1 611.0 L773.0 614.1 L774.9 617.1 L776.1 620.1 L778.0 622.4 L779.3 625.4 L780.5 627.6 L782.1 628.7 M767.9 606.5 L772.3 604.9 L777.4 605.1 L780.8 605.3 L781.8 606.0 L782.4 607.9 L787.5 607.9 L789.3 607.9 L793.1 611.8 L796.6 615.2 M775.2 586.5 L777.4 588.9 L779.9 588.9 L782.4 587.7 L784.3 587.3 L785.6 585.3 L787.5 583.3 L789.3 580.5 L790.6 578.9 L792.2 577.3 L793.8 576.1 L795.6 574.4 L797.5 573.2 L799.4 573.2 L801.3 572.8 L801.9 572.2 M801.9 572.2 L800.1 570.4 L798.2 570.0 L796.3 570.4 L793.8 571.2 L790.7 573.2 L790.7 569.0 M784.2 561.4 L784.2 569.0 L790.7 569.0 L806.4 569.0 L813.9 569.0 L815.2 568.1 L816.4 568.3 M813.9 569.0 L814.0 579.2 L818.6 579.3 M801.9 572.2 L803.5 573.2 L805.7 575.2 L806.0 576.5 L805.7 578.1 L804.8 579.7 L806.4 580.5 L808.9 581.7 L810.8 582.9 M814.9 583.3 L817.4 582.6 M816.4 568.3 L818.3 567.1 L819.6 565.8 L820.5 565.0 L819.0 563.4 L817.7 561.7 L818.3 559.2 L819.3 557.5 L820.8 555.5 M789.0 547.7 L789.0 550.0 L816.7 550.0 L817.7 551.2 L818.6 553.4 L820.8 555.5 L823.4 557.1 L825.9 558.4 L825.6 560.5 M827.5 558.6 L828.4 556.7 L828.3 549.5 L829.9 543.6 L829.8 536.2 L829.0 531.0 L829.3 523.8 M828.3 549.5 L839.1 549.8 L841.8 549.8 L843.4 554.2 M839.1 549.8 L838.8 555.9 M829.9 543.6 L835.0 543.7 L842.3 544.0 L845.4 542.5 M835.0 543.7 L835.3 539.7 L836.0 536.2 L837.9 530.1 L840.4 526.6 L841.0 523.8 M846.0 540.7 L844.3 537.1 L843.8 528.3 L843.6 521.2 M847.3 538.8 L846.0 540.7 L845.4 542.5 L846.7 544.4 L844.8 545.3 L844.2 547.4 L844.8 548.3 L846.7 550.4 L847.0 552.1 L844.8 553.4 L843.5 554.2 L842.3 553.4 L841.6 554.6 L838.8 555.9 L836.0 556.1 L832.2 556.3 L829.7 557.5 L827.5 558.6 L826.5 559.6 L825.6 560.5 L824.9 561.7 M825.3 561.7 L827.8 561.9 L831.6 560.9 L834.7 559.6 L838.7 557.8 L836.0 558.4 L834.1 558.6 L830.3 559.1 L827.8 559.2 L826.5 560.1 L825.3 561.7 M824.9 561.7 L825.3 563.4 L824.9 566.7 L824.3 569.1 L822.7 572.0 L820.8 574.0 L819.3 575.4 L819.3 573.6 L817.7 572.4 L815.8 570.8 L815.5 569.5 L816.4 568.3 M815.5 569.5 L816.1 572.0 L817.1 574.4 L818.3 576.5 L818.6 579.3 L818.0 581.3 L817.4 582.6 L816.1 584.9 L814.9 587.3 L813.3 589.6 L812.7 588.5 L813.0 586.1 L813.6 583.3 L812.3 581.3 L811.4 578.5 L812.0 575.6 L811.1 573.6 L812.0 571.6 L812.3 570.4 M812.3 570.4 L810.4 572.0 L809.2 573.2 L810.1 575.2 L809.5 577.3 L809.8 580.1 L810.8 582.5 L809.5 584.1 L810.8 586.5 L809.8 588.5 L810.8 590.8 L812.7 591.5 L813.3 594.4 M810.8 582.5 L807.0 581.3 L808.9 581.7 M809.8 588.5 L807.6 587.3 M810.8 586.5 L807.3 584.5 M810.8 590.8 L808.2 590.0 L810.8 591.2 M809.8 580.1 L807.9 578.9 M813.0 586.1 L811.4 583.7 L813.3 582.9 M811.4 578.5 L813.3 580.1 L810.8 580.5 M813.3 594.4 L814.5 597.1 L815.8 600.2 L816.1 603.3 L815.8 604.5 L813.9 605.3 L812.0 606.4 L809.5 608.7 L807.0 608.7 L803.8 610.2 L801.6 612.5 L800.4 614.8 L798.8 614.7 L796.6 615.2 M813.3 594.4 L812.7 596.3 L809.5 598.7 L812.7 599.1 L813.6 601.8 L812.7 603.3 L808.9 604.1 L809.5 605.6 L806.7 606.4 L808.9 607.6 M809.5 598.7 L807.0 598.3 L808.2 599.4 M812.7 603.3 L807.6 602.9 M796.6 615.2 L793.8 617.8 L792.5 620.1 L790.6 621.6 L788.1 623.5 L786.2 625.0 L784.6 626.5 L783.0 627.6 L782.1 628.7 L780.5 630.9 L779.9 632.8 L779.3 635.4 L778.3 638.5 L779.3 643.8 L780.9 652.6 L784.0 659.6 L786.5 665.4 L786.2 672.3 L785.1 678.1 L787.2 684.2 L784.3 681.4 L780.9 678.1 L776.6 671.3 L773.0 665.3 L769.0 658.6 L769.8 650.1 L766.7 646.7 L762.3 643.1 L759.7 644.1 L757.2 645.6 L755.3 646.1 L753.4 644.9 L752.2 643.1 L749.0 641.2 L746.5 640.9 L744.0 641.0 L741.5 641.6 L740.2 641.6 M740.2 641.6 L738.3 642.0 L737.1 640.1 L737.7 638.7 L736.4 639.4 L736.4 641.6 L734.5 641.2 L732.0 640.9 L729.5 641.2 L727.0 642.3 L726.0 643.1 L727.0 643.8 L725.7 645.6 L727.6 646.7 L728.2 648.1 L729.8 649.6 L730.4 651.0 L728.5 650.7 L727.9 648.9 L726.3 648.5 L725.1 649.6 L723.8 650.3 L722.6 648.9 L721.3 650.3 L719.4 650.7 L716.9 649.6 L715.9 648.9 L714.4 646.7 L712.5 646.3 L711.2 646.8 L709.3 647.0 L706.8 646.3 L704.3 645.4 L700.3 646.0 L698.0 646.3 L695.5 647.8 L693.6 648.9 L692.3 650.3 L690.4 651.7 L687.3 653.9 L685.4 654.6 L683.5 656.0 L681.6 657.5 L680.4 659.3 L678.8 661.0 L678.1 663.9 L677.8 666.7 L678.5 669.5 L679.1 671.6 L679.4 672.7 M726.0 643.1 L723.8 641.2 L721.6 642.0 L723.2 643.4 L726.0 643.1 M679.4 672.7 L677.2 673.2 L674.7 672.0 L672.2 671.6 L669.6 670.2 L667.1 669.2 L665.9 666.0 L664.6 661.7 L662.7 658.9 L659.6 656.0 L658.3 652.5 L657.4 650.3 L655.2 647.4 L652.6 645.5 L650.1 645.2 L647.0 644.7 L644.4 645.6 L643.2 648.9 L641.9 651.2 L640.0 650.7 L638.8 649.9 L636.3 648.5 L633.1 646.3 L631.8 643.1 L630.6 639.4 L628.1 637.6 L626.2 635.7 L623.7 633.5 L621.1 630.9 L619.7 629.1 M616.5 482.1 L616.5 630.7 M616.5 484.8 L692.0 484.8 M850.5 509.4 L850.5 536.2" fill="none" stroke="#000" stroke-width="3.0" stroke-linejoin="round" stroke-linecap="round"/>
<path d="M819.0 569.4L813.4 567.7 M818.5 571.5L811.2 569.4 M818.0 573.6L811.3 572.9 M817.4 575.7L813.1 575.7 M816.9 577.8L812.7 577.4 M816.4 579.9L812.0 577.8 M815.9 582.0L809.7 583.6 M815.3 584.1L810.7 582.7 M814.8 586.2L807.7 588.4 M814.3 588.3L807.4 587.7 M814.1 590.4L805.2 588.1 M814.3 592.4L806.0 591.4 M814.5 594.5L809.8 592.6 M814.7 596.6L809.2 598.2 M814.9 598.7L810.0 599.1 M815.1 600.8L807.9 600.2 M815.4 602.9L808.6 600.7 M814.0 605.0L809.7 603.5 M810.7 607.1L803.3 606.8 M807.3 609.2L801.7 609.6 M804.0 611.3L797.7 610.3 M800.6 613.4L792.6 614.4" stroke="#000" stroke-width="1.6" fill="none"/>
<polygon points="807.0,571.4 811.0,571.2 816.0,568.4 819.5,566.9 822.0,568.9 820.0,574.9 817.5,582.4 814.5,589.4 816.0,600.4 814.5,604.4 811.5,605.4 810.0,596.4 808.5,590.4 806.0,585.4 809.0,581.4 807.0,576.4" fill="#000" stroke="#000" stroke-width="1.5" stroke-linejoin="round"/>
<polygon points="810.5,606.9 805.5,609.9 799.0,614.4 801.0,608.9 805.0,603.4 808.5,598.4" fill="#000" stroke="#000" stroke-width="1.5" stroke-linejoin="round"/>
<polygon points="829.2,552.9 841.9,550.9 850.1,550.9 850.1,553.4 839.2,556.9 831.0,561.4 825.6,562.9 825.0,558.6" fill="#000" stroke="#000" stroke-width="1.5" stroke-linejoin="round"/>
</g>
<rect x="862.4" y="485.4" width="23.3" height="215.6" fill="url(#jet)" stroke="#262626" stroke-width="0.9"/>
<line x1="883.2" y1="485.1" x2="885.7" y2="485.1" stroke="#262626" stroke-width="0.9"/>
<text x="894.5" y="492.7" font-size="22" font-weight="bold" fill="#262626" stroke="#262626" stroke-width="0.48" textLength="13.1" lengthAdjust="spacingAndGlyphs">2</text>
<line x1="883.2" y1="538.8" x2="885.7" y2="538.8" stroke="#262626" stroke-width="0.9"/>
<text x="894.5" y="546.4" font-size="22" font-weight="bold" fill="#262626" stroke="#262626" stroke-width="0.48" textLength="13.1" lengthAdjust="spacingAndGlyphs">1</text>
<line x1="883.2" y1="592.0" x2="885.7" y2="592.0" stroke="#262626" stroke-width="0.9"/>
<text x="894.5" y="599.6" font-size="22" font-weight="bold" fill="#262626" stroke="#262626" stroke-width="0.48" textLength="13.1" lengthAdjust="spacingAndGlyphs">0</text>
<line x1="883.2" y1="645.6" x2="885.7" y2="645.6" stroke="#262626" stroke-width="0.9"/>
<text x="894.5" y="653.2" font-size="22" font-weight="bold" fill="#262626" stroke="#262626" stroke-width="0.48" textLength="22.3" lengthAdjust="spacingAndGlyphs">-1</text>
<line x1="883.2" y1="699.0" x2="885.7" y2="699.0" stroke="#262626" stroke-width="0.9"/>
<text x="894.5" y="706.6" font-size="22" font-weight="bold" fill="#262626" stroke="#262626" stroke-width="0.48" textLength="22.3" lengthAdjust="spacingAndGlyphs">-2</text>
<text x="553.9" y="730.8" font-size="24.5" font-weight="bold" fill="#262626" stroke="#262626" stroke-width="0.54" textLength="350.2" lengthAdjust="spacingAndGlyphs">SAT-RAP 700 hPa Temp (K)</text>
<text x="1059.2" y="465.6" font-size="13.6" font-weight="bold" fill="#262626" stroke="#262626" stroke-width="0.30" textLength="25.6" lengthAdjust="spacingAndGlyphs">100</text>
<circle cx="1088.8" cy="452.8" r="1.3" fill="none" stroke="#262626" stroke-width="0.8"/>
<text x="1096.4" y="465.6" font-size="13.6" font-weight="bold" fill="#262626" stroke="#262626" stroke-width="0.30" textLength="13.2" lengthAdjust="spacingAndGlyphs">W</text>
<text x="1127.8" y="465.6" font-size="13.6" font-weight="bold" fill="#262626" stroke="#262626" stroke-width="0.30" textLength="17.0" lengthAdjust="spacingAndGlyphs">90</text>
<circle cx="1148.8" cy="452.8" r="1.3" fill="none" stroke="#262626" stroke-width="0.8"/>
<text x="1157.4" y="465.6" font-size="13.6" font-weight="bold" fill="#262626" stroke="#262626" stroke-width="0.30" textLength="13.2" lengthAdjust="spacingAndGlyphs">W</text>
<text x="1192.0" y="465.6" font-size="13.6" font-weight="bold" fill="#262626" stroke="#262626" stroke-width="0.30" textLength="17.4" lengthAdjust="spacingAndGlyphs">80</text>
<circle cx="1213.6" cy="452.8" r="1.3" fill="none" stroke="#262626" stroke-width="0.8"/>
<text x="1221.4" y="465.6" font-size="13.6" font-weight="bold" fill="#262626" stroke="#262626" stroke-width="0.30" textLength="13.0" lengthAdjust="spacingAndGlyphs">W</text>
<text x="1255.2" y="465.6" font-size="13.6" font-weight="bold" fill="#262626" stroke="#262626" stroke-width="0.30" textLength="16.6" lengthAdjust="spacingAndGlyphs">70</text>
<circle cx="1275.6" cy="452.8" r="1.3" fill="none" stroke="#262626" stroke-width="0.8"/>
<text x="1284.2" y="465.6" font-size="13.6" font-weight="bold" fill="#262626" stroke="#262626" stroke-width="0.30" textLength="13.4" lengthAdjust="spacingAndGlyphs">W</text>
<text x="987.9" y="503.1" font-size="13.3" font-weight="bold" fill="#262626" stroke="#262626" stroke-width="0.29" textLength="17.9" lengthAdjust="spacingAndGlyphs">48</text>
<circle cx="1010.0" cy="489.9" r="1.3" fill="none" stroke="#262626" stroke-width="0.8"/>
<text x="1017.7" y="503.1" font-size="13.3" font-weight="bold" fill="#262626" stroke="#262626" stroke-width="0.29" textLength="9.6" lengthAdjust="spacingAndGlyphs">N</text>
<text x="987.9" y="521.0" font-size="13.3" font-weight="bold" fill="#262626" stroke="#262626" stroke-width="0.29" textLength="17.9" lengthAdjust="spacingAndGlyphs">46</text>
<circle cx="1010.0" cy="507.8" r="1.3" fill="none" stroke="#262626" stroke-width="0.8"/>
<text x="1017.7" y="521.0" font-size="13.3" font-weight="bold" fill="#262626" stroke="#262626" stroke-width="0.29" textLength="9.6" lengthAdjust="spacingAndGlyphs">N</text>
<text x="987.9" y="538.0" font-size="13.3" font-weight="bold" fill="#262626" stroke="#262626" stroke-width="0.29" textLength="17.9" lengthAdjust="spacingAndGlyphs">44</text>
<circle cx="1010.0" cy="524.8" r="1.3" fill="none" stroke="#262626" stroke-width="0.8"/>
<text x="1017.7" y="538.0" font-size="13.3" font-weight="bold" fill="#262626" stroke="#262626" stroke-width="0.29" textLength="9.6" lengthAdjust="spacingAndGlyphs">N</text>
<text x="987.9" y="556.9" font-size="13.3" font-weight="bold" fill="#262626" stroke="#262626" stroke-width="0.29" textLength="17.9" lengthAdjust="spacingAndGlyphs">42</text>
<circle cx="1010.0" cy="543.7" r="1.3" fill="none" stroke="#262626" stroke-width="0.8"/>
<text x="1017.7" y="556.9" font-size="13.3" font-weight="bold" fill="#262626" stroke="#262626" stroke-width="0.29" textLength="9.6" lengthAdjust="spacingAndGlyphs">N</text>
<text x="987.9" y="573.1" font-size="13.3" font-weight="bold" fill="#262626" stroke="#262626" stroke-width="0.29" textLength="17.9" lengthAdjust="spacingAndGlyphs">40</text>
<circle cx="1010.0" cy="559.9" r="1.3" fill="none" stroke="#262626" stroke-width="0.8"/>
<text x="1017.7" y="573.1" font-size="13.3" font-weight="bold" fill="#262626" stroke="#262626" stroke-width="0.29" textLength="9.6" lengthAdjust="spacingAndGlyphs">N</text>
<text x="987.9" y="588.0" font-size="13.3" font-weight="bold" fill="#262626" stroke="#262626" stroke-width="0.29" textLength="17.9" lengthAdjust="spacingAndGlyphs">38</text>
<circle cx="1010.0" cy="574.8" r="1.3" fill="none" stroke="#262626" stroke-width="0.8"/>
<text x="1017.7" y="588.0" font-size="13.3" font-weight="bold" fill="#262626" stroke="#262626" stroke-width="0.29" textLength="9.6" lengthAdjust="spacingAndGlyphs">N</text>
<text x="987.9" y="604.9" font-size="13.3" font-weight="bold" fill="#262626" stroke="#262626" stroke-width="0.29" textLength="17.9" lengthAdjust="spacingAndGlyphs">36</text>
<circle cx="1010.0" cy="591.7" r="1.3" fill="none" stroke="#262626" stroke-width="0.8"/>
<text x="1017.7" y="604.9" font-size="13.3" font-weight="bold" fill="#262626" stroke="#262626" stroke-width="0.29" textLength="9.6" lengthAdjust="spacingAndGlyphs">N</text>
<text x="987.9" y="619.0" font-size="13.3" font-weight="bold" fill="#262626" stroke="#262626" stroke-width="0.29" textLength="17.9" lengthAdjust="spacingAndGlyphs">34</text>
<circle cx="1010.0" cy="605.8" r="1.3" fill="none" stroke="#262626" stroke-width="0.8"/>
<text x="1017.7" y="619.0" font-size="13.3" font-weight="bold" fill="#262626" stroke="#262626" stroke-width="0.29" textLength="9.6" lengthAdjust="spacingAndGlyphs">N</text>
<text x="987.9" y="635.8" font-size="13.3" font-weight="bold" fill="#262626" stroke="#262626" stroke-width="0.29" textLength="17.9" lengthAdjust="spacingAndGlyphs">32</text>
<circle cx="1010.0" cy="622.6" r="1.3" fill="none" stroke="#262626" stroke-width="0.8"/>
<text x="1017.7" y="635.8" font-size="13.3" font-weight="bold" fill="#262626" stroke="#262626" stroke-width="0.29" textLength="9.6" lengthAdjust="spacingAndGlyphs">N</text>
<text x="987.9" y="649.8" font-size="13.3" font-weight="bold" fill="#262626" stroke="#262626" stroke-width="0.29" textLength="17.9" lengthAdjust="spacingAndGlyphs">30</text>
<circle cx="1010.0" cy="636.6" r="1.3" fill="none" stroke="#262626" stroke-width="0.8"/>
<text x="1017.7" y="649.8" font-size="13.3" font-weight="bold" fill="#262626" stroke="#262626" stroke-width="0.29" textLength="9.6" lengthAdjust="spacingAndGlyphs">N</text>
<text x="987.9" y="662.9" font-size="13.3" font-weight="bold" fill="#262626" stroke="#262626" stroke-width="0.29" textLength="17.9" lengthAdjust="spacingAndGlyphs">28</text>
<circle cx="1010.0" cy="649.7" r="1.3" fill="none" stroke="#262626" stroke-width="0.8"/>
<text x="1017.7" y="662.9" font-size="13.3" font-weight="bold" fill="#262626" stroke="#262626" stroke-width="0.29" textLength="9.6" lengthAdjust="spacingAndGlyphs">N</text>
<text x="987.9" y="677.7" font-size="13.3" font-weight="bold" fill="#262626" stroke="#262626" stroke-width="0.29" textLength="17.9" lengthAdjust="spacingAndGlyphs">26</text>
<circle cx="1010.0" cy="664.5" r="1.3" fill="none" stroke="#262626" stroke-width="0.8"/>
<text x="1017.7" y="677.7" font-size="13.3" font-weight="bold" fill="#262626" stroke="#262626" stroke-width="0.29" textLength="9.6" lengthAdjust="spacingAndGlyphs">N</text>
<text x="987.9" y="691.7" font-size="13.3" font-weight="bold" fill="#262626" stroke="#262626" stroke-width="0.29" textLength="17.9" lengthAdjust="spacingAndGlyphs">24</text>
<circle cx="1010.0" cy="678.5" r="1.3" fill="none" stroke="#262626" stroke-width="0.8"/>
<text x="1017.7" y="691.7" font-size="13.3" font-weight="bold" fill="#262626" stroke="#262626" stroke-width="0.29" textLength="9.6" lengthAdjust="spacingAndGlyphs">N</text>
<text x="987.9" y="704.9" font-size="13.3" font-weight="bold" fill="#262626" stroke="#262626" stroke-width="0.29" textLength="17.9" lengthAdjust="spacingAndGlyphs">22</text>
<circle cx="1010.0" cy="691.7" r="1.3" fill="none" stroke="#262626" stroke-width="0.8"/>
<text x="1017.7" y="704.9" font-size="13.3" font-weight="bold" fill="#262626" stroke="#262626" stroke-width="0.29" textLength="9.6" lengthAdjust="spacingAndGlyphs">N</text>
<rect x="1037.6" y="486.4" width="234.0" height="213.3" fill="none" stroke="#262626" stroke-width="1.1"/>
<clipPath id="sw12"><polygon points="1037.5,557.4 1068.4,544.0 1104.7,530.7 1153.2,517.4 1196.8,511.0 1201.7,512.2 1204.1,538.0 1201.7,540.4 1177.5,544.0 1153.2,548.3 1126.5,554.9 1104.7,561.0 1090.2,564.6 1078.1,569.5 1068.4,573.1 1056.2,579.2 1047.8,582.8 1045.0,581.4 1037.5,564.4"/><polygon points="1053.0,594.9 1056.0,592.9 1080.5,587.7 1116.8,573.1 1153.2,563.4 1177.5,558.6 1204.1,553.7 1206.5,554.2 1207.5,572.4 1210.4,597.4 1224.3,700.6 1222.0,702.2 1089.5,702.4 1087.7,701.4 1052.5,596.9"/></clipPath>
<g clip-path="url(#sw12)">
<polygon points="1037.5,557.4 1068.4,544.0 1104.7,530.7 1153.2,517.4 1160.0,516.4 1160.0,546.4 1153.2,548.3 1126.5,554.9 1104.7,561.0 1090.2,564.6 1078.1,569.5 1068.4,573.1 1056.2,579.2 1047.8,582.8 1045.0,581.4 1037.5,564.4" fill="#ff8a00"/>
<polygon points="1159.0,516.4 1204.0,509.4 1204.0,540.4 1160.0,546.4" fill="#c70000"/>
<polygon points="1053.0,594.9 1080.5,587.7 1116.8,573.1 1153.2,563.4 1177.5,558.6 1204.1,553.7 1208.6,582.2 1194.0,585.1 1175.1,589.5 1165.0,594.8 1155.8,608.1 1153.0,631.8 1148.8,636.0 1122.0,642.4 1102.0,652.4 1082.0,655.4 1053.0,596.9" fill="#ff6b00"/>
<polygon points="1082.0,652.4 1102.0,652.4 1122.0,642.4 1148.8,636.0 1153.0,638.4 1152.0,648.4 1149.0,660.4 1156.0,668.4 1154.0,680.4 1152.0,701.4 1088.5,701.4" fill="#4dffb2"/>
<polygon points="1070.0,645.4 1107.0,647.4 1104.0,658.4 1097.0,670.4 1092.0,685.4 1091.0,701.4 1087.0,701.4 1074.0,662.4" fill="#ff4c00"/>
<path d="M1161.7 582.1h0M1106.6 588.4h0M1177.6 588.7h0M1144.7 598.3h0M1100.7 604.0h0M1144.7 607.8h0M1082.4 618.4h0M1091.2 621.0h0M1123.6 621.1h0M1110.2 625.3h0M1073.3 634.6h0M1127.9 635.3h0M1097.7 638.5h0M1077.5 642.7h0M1086.7 676.3h0" stroke="#ff2000" stroke-width="5.0" stroke-linecap="round" fill="none"/>
<path d="M1202.8 510.4h0M1189.9 515.1h0M1175.0 530.7h0M1189.2 529.3h0M1166.7 533.4h0M1150.0 669.4h0M1131.0 676.9h0M1077.4 646.5h0M1101.3 661.6h0M1088.0 700.7h0" stroke="#af0000" stroke-width="5.0" stroke-linecap="round" fill="none"/>
<path d="M1137.0 524.1h0M1078.1 547.9h0M1127.0 550.4h0M1105.4 560.4h0M1163.0 519.1h0M1165.0 523.4h0M1162.0 537.0h0M1178.9 539.9h0" stroke="#df0000" stroke-width="5.0" stroke-linecap="round" fill="none"/>
<path d="M1086.8 663.4h0M1090.1 682.4h0" stroke="#ff9f00" stroke-width="5.0" stroke-linecap="round" fill="none"/>
<path d="M1143.7 529.4h0M1150.1 529.2h0M1125.8 537.3h0M1119.1 543.8h0M1092.2 546.0h0M1147.1 548.2h0M1053.5 551.0h0M1079.3 555.0h0M1097.8 554.4h0M1044.9 560.8h0M1091.3 560.7h0M1099.6 560.9h0M1179.9 559.7h0M1101.7 582.1h0M1151.5 580.3h0M1100.2 588.9h0M1138.3 586.8h0M1080.2 591.9h0M1154.7 595.0h0M1063.4 602.5h0M1079.7 612.4h0M1090.3 613.8h0M1100.5 614.7h0M1094.2 617.1h0M1127.4 617.4h0" stroke="#ffaf00" stroke-width="5.0" stroke-linecap="round" fill="none"/>
<path d="M1172.8 560.6h0M1203.6 577.8h0M1117.0 579.9h0M1121.9 579.7h0M1197.0 580.0h0M1202.6 580.6h0M1133.6 583.1h0M1186.2 585.1h0M1110.4 602.1h0M1083.5 604.5h0M1091.4 604.2h0M1114.2 608.7h0M1155.2 607.2h0M1087.1 620.7h0M1100.5 621.0h0M1152.4 628.3h0M1134.6 631.2h0M1090.4 638.8h0M1079.6 646.2h0M1139.2 646.5h0M1115.6 650.8h0M1124.1 655.4h0M1128.2 655.7h0M1138.9 669.7h0M1084.0 648.2h0M1100.8 647.9h0M1092.9 651.6h0M1094.1 654.6h0" stroke="#ff2000" stroke-width="6.0" stroke-linecap="round" fill="none"/>
<path d="M1199.0 648.5h0M1203.5 649.9h0" stroke="#ffaf00" stroke-width="7.0" stroke-linecap="round" fill="none"/>
<path d="M1199.2 511.7h0M1196.6 515.5h0M1200.8 539.6h0" stroke="#af0000" stroke-width="5.0" stroke-linecap="round" fill="none"/>
<path d="M1168.7 517.3h0M1173.3 516.6h0M1104.8 684.3h0M1089.7 695.8h0" stroke="#af0000" stroke-width="5.0" stroke-linecap="round" fill="none"/>
<path d="M1092.1 537.5h0M1113.2 547.5h0M1123.5 553.2h0M1043.3 558.1h0M1037.6 563.6h0M1175.2 560.8h0M1168.8 574.1h0M1201.8 575.2h0M1157.6 581.6h0M1110.1 583.8h0M1151.8 585.4h0M1117.8 587.0h0M1157.4 587.5h0M1097.4 590.4h0M1115.4 590.7h0M1117.4 591.1h0M1082.9 594.8h0M1128.4 593.3h0M1100.0 601.6h0M1137.7 601.7h0M1065.9 611.5h0M1070.1 612.4h0M1063.0 614.9h0M1098.2 617.8h0M1137.3 638.5h0M1104.8 645.0h0" stroke="#ffaf00" stroke-width="6.0" stroke-linecap="round" fill="none"/>
<path d="M1142.9 541.1h0M1065.6 550.1h0M1082.8 552.8h0M1165.3 520.4h0M1199.8 527.1h0M1163.5 530.0h0M1185.4 533.9h0M1200.6 532.9h0M1172.7 539.7h0" stroke="#df0000" stroke-width="6.0" stroke-linecap="round" fill="none"/>
<path d="M1152.8 598.4h0M1099.9 618.9h0" stroke="#20ffdf" stroke-width="6.0" stroke-linecap="round" fill="none"/>
<path d="M1095.8 550.0h0M1050.5 573.7h0M1100.3 609.3h0M1150.7 630.9h0" stroke="#afff50" stroke-width="6.0" stroke-linecap="round" fill="none"/>
<path d="M1208.6 653.5h0M1183.7 683.7h0" stroke="#0020ff" stroke-width="8.0" stroke-linecap="round" fill="none"/>
<path d="M1109.3 539.0h0M1129.3 540.4h0M1097.6 549.4h0M1038.6 559.7h0M1041.2 567.2h0M1040.2 570.0h0M1158.8 564.6h0M1165.5 573.8h0M1127.7 576.4h0M1188.0 577.0h0M1097.5 593.7h0M1083.7 600.8h0M1104.8 601.7h0M1114.2 610.5h0M1121.4 618.3h0M1101.4 627.7h0M1141.4 628.1h0M1103.0 630.9h0M1107.4 632.3h0M1110.6 632.4h0M1097.3 642.2h0M1100.4 644.6h0" stroke="#ffaf00" stroke-width="5.0" stroke-linecap="round" fill="none"/>
<path d="M1108.4 535.8h0M1152.2 536.4h0M1085.6 551.5h0M1112.9 553.1h0M1048.5 563.9h0M1166.1 539.6h0M1166.0 542.8h0" stroke="#df0000" stroke-width="6.0" stroke-linecap="round" fill="none"/>
<path d="M1091.8 544.5h0M1095.3 547.8h0M1108.1 547.4h0M1185.4 557.7h0M1192.6 558.3h0M1077.4 601.4h0M1151.8 607.1h0M1072.6 611.4h0M1093.6 610.5h0M1111.2 614.9h0M1073.0 619.4h0M1142.3 634.5h0M1086.6 649.4h0" stroke="#ffff00" stroke-width="6.0" stroke-linecap="round" fill="none"/>
<path d="M1172.9 679.0h0" stroke="#0080ff" stroke-width="8.0" stroke-linecap="round" fill="none"/>
<path d="M1172.7 675.0h0M1170.0 696.7h0" stroke="#ffaf00" stroke-width="8.0" stroke-linecap="round" fill="none"/>
<path d="M1141.2 687.6h0M1093.6 649.8h0M1083.2 652.1h0M1101.8 654.8h0M1209.4 663.1h0" stroke="#dfff20" stroke-width="6.0" stroke-linecap="round" fill="none"/>
<path d="M1122.8 662.6h0" stroke="#50ffaf" stroke-width="5.0" stroke-linecap="round" fill="none"/>
<path d="M1192.7 566.7h0M1148.7 585.3h0M1123.9 587.6h0M1096.5 596.9h0M1060.5 600.5h0M1059.8 604.9h0M1062.4 612.5h0M1134.9 625.7h0M1147.6 625.4h0M1069.1 628.3h0M1124.9 631.3h0M1126.9 639.3h0" stroke="#bf0000" stroke-width="6.0" stroke-linecap="round" fill="none"/>
<path d="M1081.2 680.0h0" stroke="#dfff20" stroke-width="5.0" stroke-linecap="round" fill="none"/>
<path d="M1164.0 571.4h0M1106.3 584.3h0M1127.1 583.8h0M1165.6 587.4h0M1101.1 594.5h0M1133.8 605.9h0M1137.5 615.0h0M1076.1 625.8h0M1110.3 634.3h0" stroke="#bf0000" stroke-width="6.0" stroke-linecap="round" fill="none"/>
<path d="M1100.4 688.9h0" stroke="#0000df" stroke-width="5.0" stroke-linecap="round" fill="none"/>
<path d="M1157.7 529.4h0M1133.6 537.4h0M1139.8 536.6h0M1142.8 537.8h0M1132.4 539.6h0M1086.1 544.7h0M1133.5 544.0h0M1077.1 566.6h0" stroke="#ff8000" stroke-width="6.0" stroke-linecap="round" fill="none"/>
<path d="M1204.8 661.2h0M1182.6 675.9h0M1191.4 683.4h0" stroke="#0000bf" stroke-width="6.0" stroke-linecap="round" fill="none"/>
<path d="M1109.0 696.6h0" stroke="#af0000" stroke-width="7.0" stroke-linecap="round" fill="none"/>
<path d="M1124.3 644.2h0M1120.1 674.0h0M1108.1 681.5h0M1130.1 695.2h0M1101.4 699.8h0M1087.7 651.4h0" stroke="#0050ff" stroke-width="6.0" stroke-linecap="round" fill="none"/>
<path d="M1141.9 639.4h0M1216.4 650.3h0M1216.6 653.3h0M1187.1 689.4h0M1191.9 689.0h0M1173.4 697.2h0M1182.8 697.0h0" stroke="#0000df" stroke-width="7.0" stroke-linecap="round" fill="none"/>
<path d="M1108.5 533.5h0M1150.3 541.3h0M1089.3 553.2h0M1072.0 559.8h0M1166.8 527.2h0M1202.2 539.2h0" stroke="#df0000" stroke-width="6.0" stroke-linecap="round" fill="none"/>
<path d="M1188.4 568.3h0M1196.2 566.5h0M1158.7 577.5h0M1144.5 587.3h0M1147.9 594.7h0M1094.5 600.9h0M1094.8 609.1h0M1077.4 613.8h0M1140.8 615.1h0M1074.1 625.2h0M1144.9 628.2h0M1130.6 639.3h0M1103.8 643.2h0M1107.3 648.7h0" stroke="#ff7000" stroke-width="5.0" stroke-linecap="round" fill="none"/>
<path d="M1200.3 666.5h0M1207.7 684.2h0" stroke="#0020ff" stroke-width="6.0" stroke-linecap="round" fill="none"/>
<path d="M1096.2 684.4h0M1105.6 691.7h0M1187.1 679.9h0" stroke="#00cfff" stroke-width="7.0" stroke-linecap="round" fill="none"/>
<path d="M1149.5 534.4h0M1137.2 537.7h0M1085.2 540.2h0M1133.9 548.2h0M1169.0 519.0h0M1176.7 518.8h0M1180.4 520.3h0M1161.4 523.9h0M1163.2 525.6h0" stroke="#ff4000" stroke-width="6.0" stroke-linecap="round" fill="none"/>
<path d="M1078.0 560.6h0" stroke="#afff50" stroke-width="5.0" stroke-linecap="round" fill="none"/>
<path d="M1208.3 679.7h0M1217.9 680.3h0M1213.3 684.2h0M1218.5 691.8h0" stroke="#0000df" stroke-width="8.0" stroke-linecap="round" fill="none"/>
<path d="M1200.3 516.4h0M1165.6 537.0h0M1200.4 537.1h0M1176.4 539.0h0M1142.4 673.0h0M1146.0 682.1h0M1096.8 695.7h0M1103.2 648.7h0M1084.2 662.5h0" stroke="#af0000" stroke-width="6.0" stroke-linecap="round" fill="none"/>
<path d="M1118.0 550.6h0M1118.8 553.4h0M1065.1 567.1h0M1071.0 566.4h0M1065.0 574.6h0M1046.8 577.2h0M1130.1 573.8h0M1103.9 581.9h0M1128.7 580.7h0M1206.8 582.0h0M1104.7 590.8h0M1154.0 598.3h0M1073.8 604.7h0M1143.8 603.5h0" stroke="#ffff00" stroke-width="6.0" stroke-linecap="round" fill="none"/>
<path d="M1182.3 519.6h0M1195.8 519.1h0M1168.1 530.2h0M1183.3 528.7h0M1163.2 534.2h0M1168.7 532.3h0M1171.5 537.7h0M1163.2 541.1h0M1100.2 658.2h0M1077.0 663.3h0" stroke="#af0000" stroke-width="5.0" stroke-linecap="round" fill="none"/>
<path d="M1165.2 684.9h0" stroke="#0020ff" stroke-width="6.0" stroke-linecap="round" fill="none"/>
<path d="M1126.5 553.8h0M1058.1 567.0h0M1192.3 523.3h0" stroke="#ff4000" stroke-width="6.0" stroke-linecap="round" fill="none"/>
<path d="M1134.1 670.0h0M1113.3 673.9h0M1111.4 680.3h0M1083.0 669.4h0" stroke="#0050ff" stroke-width="5.0" stroke-linecap="round" fill="none"/>
<path d="M1217.1 644.8h0M1156.5 688.5h0" stroke="#00cfff" stroke-width="8.0" stroke-linecap="round" fill="none"/>
<path d="M1164.3 692.8h0" stroke="#0020ff" stroke-width="7.0" stroke-linecap="round" fill="none"/>
<path d="M1092.9 681.2h0M1108.5 688.4h0M1149.3 696.1h0" stroke="#af0000" stroke-width="7.0" stroke-linecap="round" fill="none"/>
<path d="M1158.7 533.1h0M1119.5 537.3h0M1158.8 536.0h0M1153.6 543.3h0M1105.8 547.0h0M1154.9 571.3h0M1178.2 571.2h0M1118.1 577.0h0M1106.7 581.6h0M1100.9 583.6h0M1154.2 588.2h0M1111.8 591.9h0M1164.8 593.4h0M1061.0 608.7h0M1138.4 631.1h0" stroke="#ffff00" stroke-width="5.0" stroke-linecap="round" fill="none"/>
<path d="M1103.4 651.9h0M1120.0 665.1h0M1146.9 700.3h0M1080.3 660.1h0M1084.6 658.3h0M1083.1 676.6h0" stroke="#dfff20" stroke-width="5.0" stroke-linecap="round" fill="none"/>
<path d="M1084.9 666.6h0M1111.9 678.4h0" stroke="#0050ff" stroke-width="7.0" stroke-linecap="round" fill="none"/>
<path d="M1135.5 642.9h0M1142.3 650.0h0M1101.3 678.5h0" stroke="#0050ff" stroke-width="7.0" stroke-linecap="round" fill="none"/>
<path d="M1091.1 540.7h0M1175.8 522.5h0M1169.2 537.6h0M1195.4 540.9h0" stroke="#df0000" stroke-width="5.0" stroke-linecap="round" fill="none"/>
<path d="M1212.4 692.5h0" stroke="#0000bf" stroke-width="8.0" stroke-linecap="round" fill="none"/>
<path d="M1085.8 655.2h0M1138.8 658.7h0M1133.6 666.7h0M1130.1 670.0h0" stroke="#ff9f00" stroke-width="7.0" stroke-linecap="round" fill="none"/>
<path d="M1190.4 513.1h0M1192.8 530.5h0M1173.2 532.5h0M1179.4 532.4h0" stroke="#df0000" stroke-width="5.0" stroke-linecap="round" fill="none"/>
<path d="M1133.4 529.4h0M1069.3 620.9h0M1076.7 637.6h0" stroke="#afff50" stroke-width="5.0" stroke-linecap="round" fill="none"/>
<path d="M1137.9 643.5h0" stroke="#00cfff" stroke-width="7.0" stroke-linecap="round" fill="none"/>
<path d="M1150.2 667.2h0M1212.5 650.3h0M1200.4 661.8h0M1187.9 671.2h0M1192.4 670.5h0M1191.6 679.9h0M1205.4 696.4h0" stroke="#0000df" stroke-width="7.0" stroke-linecap="round" fill="none"/>
<path d="M1112.0 659.3h0M1152.5 670.8h0M1135.5 688.7h0M1111.4 695.5h0M1130.0 700.4h0" stroke="#0050ff" stroke-width="6.0" stroke-linecap="round" fill="none"/>
<path d="M1164.0 564.1h0M1133.7 569.8h0M1196.8 570.2h0M1182.1 583.7h0M1082.9 587.1h0M1093.6 586.5h0M1152.3 586.9h0M1054.2 598.5h0M1086.0 596.7h0M1087.6 617.2h0M1102.9 618.3h0M1141.3 632.0h0M1076.6 644.4h0" stroke="#ff7000" stroke-width="5.0" stroke-linecap="round" fill="none"/>
<path d="M1174.4 688.6h0M1191.6 693.3h0" stroke="#0020ff" stroke-width="8.0" stroke-linecap="round" fill="none"/>
<path d="M1121.4 532.2h0M1095.3 543.0h0M1128.9 546.9h0M1092.1 558.3h0M1096.1 557.6h0M1081.2 561.4h0M1052.0 570.7h0M1188.5 563.1h0M1160.9 566.4h0M1147.5 577.4h0M1172.1 588.7h0M1127.0 590.5h0M1094.3 615.2h0M1126.7 615.1h0" stroke="#ffff00" stroke-width="6.0" stroke-linecap="round" fill="none"/>
<path d="M1138.0 665.1h0M1108.2 685.4h0M1097.0 669.7h0M1087.6 697.0h0" stroke="#dfff20" stroke-width="6.0" stroke-linecap="round" fill="none"/>
<path d="M1185.0 513.6h0M1180.0 516.0h0M1186.1 520.3h0M1178.3 530.8h0M1186.5 530.6h0M1189.7 537.3h0M1170.2 540.4h0M1145.6 642.5h0M1149.4 658.0h0M1084.2 671.7h0" stroke="#af0000" stroke-width="6.0" stroke-linecap="round" fill="none"/>
<path d="M1199.8 556.9h0M1176.0 575.2h0M1195.4 573.0h0M1172.5 583.7h0M1179.9 583.9h0M1105.1 588.3h0M1084.8 590.7h0M1090.1 592.1h0M1165.0 590.5h0M1161.6 593.7h0M1131.3 601.2h0M1081.3 604.5h0M1097.2 607.1h0M1083.3 611.0h0M1135.0 610.6h0M1080.7 617.8h0M1145.0 618.1h0M1106.6 621.0h0M1111.5 621.0h0M1089.4 625.5h0M1113.8 624.7h0M1094.8 632.4h0M1096.2 632.3h0M1113.5 632.2h0M1119.9 642.0h0M1089.7 648.0h0" stroke="#ff7000" stroke-width="6.0" stroke-linecap="round" fill="none"/>
<path d="M1090.2 662.2h0M1139.1 677.6h0M1105.6 681.7h0M1096.9 693.1h0M1135.3 692.7h0M1142.3 696.3h0M1212.3 680.2h0M1212.8 697.0h0" stroke="#0000df" stroke-width="6.0" stroke-linecap="round" fill="none"/>
<path d="M1154.2 574.0h0M1185.1 573.4h0M1113.9 578.5h0M1164.4 577.4h0M1148.1 581.3h0M1097.1 584.3h0M1130.2 593.7h0M1141.2 598.8h0M1153.8 604.4h0M1072.9 607.0h0M1118.2 618.9h0M1107.2 625.4h0" stroke="#bf0000" stroke-width="6.0" stroke-linecap="round" fill="none"/>
<path d="M1112.8 661.9h0" stroke="#50ffaf" stroke-width="7.0" stroke-linecap="round" fill="none"/>
<path d="M1125.2 534.3h0M1067.6 549.5h0M1072.5 549.7h0M1140.2 550.9h0M1061.2 561.5h0M1074.5 567.1h0M1200.0 530.6h0M1193.6 540.3h0" stroke="#df0000" stroke-width="6.0" stroke-linecap="round" fill="none"/>
<path d="M1212.6 636.1h0M1216.8 657.8h0M1203.3 678.7h0" stroke="#0000bf" stroke-width="8.0" stroke-linecap="round" fill="none"/>
<path d="M1142.3 523.4h0M1157.6 522.6h0M1122.8 530.7h0M1153.9 531.2h0M1105.3 533.6h0M1140.2 540.0h0M1088.1 551.2h0M1063.7 554.6h0M1042.0 556.4h0M1045.2 574.6h0M1161.6 571.5h0M1140.4 578.2h0M1155.5 581.3h0M1183.2 580.5h0M1113.9 588.2h0M1074.3 592.0h0M1120.4 592.2h0M1066.9 594.1h0M1124.0 598.3h0M1065.6 605.6h0M1128.7 604.7h0M1152.1 617.3h0M1093.7 621.2h0M1144.6 624.5h0M1079.1 634.5h0M1137.0 636.4h0M1089.7 642.2h0" stroke="#ffaf00" stroke-width="6.0" stroke-linecap="round" fill="none"/>
<path d="M1139.8 546.8h0M1073.7 554.3h0M1088.0 556.9h0M1085.5 563.3h0M1053.3 569.9h0M1195.5 512.8h0M1183.0 523.7h0M1182.5 527.5h0M1196.0 530.7h0M1186.8 542.4h0" stroke="#df0000" stroke-width="5.0" stroke-linecap="round" fill="none"/>
<path d="M1155.7 567.7h0M1158.3 566.8h0M1176.5 568.2h0M1178.5 566.2h0M1138.3 584.0h0M1086.6 586.5h0M1069.2 592.1h0M1060.3 598.3h0M1074.1 602.4h0M1086.0 601.9h0M1096.4 600.4h0M1133.6 601.5h0M1155.1 600.5h0M1133.8 617.9h0M1151.8 620.7h0M1140.7 626.2h0M1127.6 631.9h0M1123.8 638.5h0M1084.5 643.3h0M1113.5 642.6h0" stroke="#ff7000" stroke-width="5.0" stroke-linecap="round" fill="none"/>
<path d="M1127.1 542.6h0M1091.0 551.1h0M1124.4 574.7h0M1084.5 635.3h0" stroke="#afff50" stroke-width="5.0" stroke-linecap="round" fill="none"/>
<path d="M1130.8 658.8h0M1115.2 680.9h0M1096.3 655.7h0" stroke="#dfff20" stroke-width="6.0" stroke-linecap="round" fill="none"/>
<path d="M1130.5 643.2h0M1124.3 659.7h0" stroke="#ff9f00" stroke-width="7.0" stroke-linecap="round" fill="none"/>
<path d="M1146.0 540.6h0M1085.7 556.1h0M1190.5 518.6h0M1162.0 542.2h0" stroke="#ff4000" stroke-width="5.0" stroke-linecap="round" fill="none"/>
<path d="M1210.0 639.6h0" stroke="#ffaf00" stroke-width="7.0" stroke-linecap="round" fill="none"/>
<path d="M1153.8 532.2h0M1144.0 542.8h0M1115.9 550.6h0M1048.3 554.0h0M1056.7 554.8h0M1103.1 553.4h0M1129.5 553.7h0M1074.1 558.3h0M1098.1 556.1h0" stroke="#ff8000" stroke-width="6.0" stroke-linecap="round" fill="none"/>
<path d="M1192.9 512.1h0M1187.1 515.8h0M1194.2 519.8h0M1200.5 519.4h0M1198.9 522.5h0M1169.5 525.5h0M1174.9 526.0h0M1173.4 530.3h0M1123.1 689.3h0M1099.6 653.0h0M1096.1 666.4h0" stroke="#af0000" stroke-width="5.0" stroke-linecap="round" fill="none"/>
<path d="M1120.0 583.2h0M1090.4 588.4h0M1106.7 601.8h0M1113.8 600.7h0M1158.7 602.3h0M1076.4 608.1h0M1135.1 622.9h0M1087.2 628.4h0M1108.3 635.0h0M1079.8 643.3h0M1111.6 645.5h0" stroke="#bf0000" stroke-width="6.0" stroke-linecap="round" fill="none"/>
<path d="M1079.1 551.3h0M1165.2 516.9h0M1202.8 517.2h0M1186.3 524.0h0M1197.1 524.0h0M1178.4 526.6h0M1177.0 533.8h0M1181.9 536.1h0M1187.1 540.3h0" stroke="#df0000" stroke-width="5.0" stroke-linecap="round" fill="none"/>
<path d="M1116.6 658.6h0M1116.4 661.8h0M1108.0 672.5h0M1079.2 651.1h0M1076.5 655.6h0" stroke="#ff9f00" stroke-width="6.0" stroke-linecap="round" fill="none"/>
<path d="M1159.7 523.8h0M1122.1 536.3h0M1150.9 536.7h0M1089.2 543.3h0M1104.5 543.9h0M1072.3 546.8h0M1061.1 549.2h0M1043.9 568.5h0M1047.8 573.8h0" stroke="#ff8000" stroke-width="5.0" stroke-linecap="round" fill="none"/>
<path d="M1169.9 679.2h0M1159.9 697.8h0" stroke="#0000df" stroke-width="8.0" stroke-linecap="round" fill="none"/>
<path d="M1196.3 688.9h0" stroke="#0080ff" stroke-width="7.0" stroke-linecap="round" fill="none"/>
<path d="M1108.5 676.4h0M1094.3 685.0h0M1208.7 630.8h0M1205.2 641.3h0M1203.3 645.4h0M1204.1 652.8h0M1182.8 671.1h0M1201.3 679.1h0M1218.5 683.9h0M1160.9 688.6h0M1213.1 689.1h0" stroke="#0000df" stroke-width="7.0" stroke-linecap="round" fill="none"/>
<path d="M1067.4 561.6h0M1161.0 564.0h0M1159.2 584.9h0M1141.5 620.8h0M1091.4 632.0h0M1083.4 652.9h0" stroke="#ffff00" stroke-width="5.0" stroke-linecap="round" fill="none"/>
<path d="M1199.1 657.1h0M1214.2 666.8h0M1216.7 665.9h0M1192.4 675.3h0M1210.0 676.6h0M1186.4 698.3h0" stroke="#0080ff" stroke-width="7.0" stroke-linecap="round" fill="none"/>
<path d="M1196.1 667.8h0M1170.1 675.6h0" stroke="#00cfff" stroke-width="8.0" stroke-linecap="round" fill="none"/>
<path d="M1068.3 563.9h0M1082.7 566.5h0M1054.5 576.9h0M1205.6 577.1h0M1138.1 591.9h0M1119.9 599.1h0M1069.9 600.9h0M1107.7 614.7h0M1080.9 621.9h0M1120.8 634.4h0" stroke="#ffff00" stroke-width="5.0" stroke-linecap="round" fill="none"/>
<path d="M1096.3 673.8h0" stroke="#ff2000" stroke-width="7.0" stroke-linecap="round" fill="none"/>
<path d="M1115.7 530.6h0M1133.8 533.1h0M1138.9 534.6h0M1067.4 547.1h0M1041.7 561.5h0M1067.1 571.1h0M1193.0 516.6h0M1171.5 523.5h0" stroke="#ff4000" stroke-width="5.0" stroke-linecap="round" fill="none"/>
<path d="M1087.9 646.5h0M1081.2 654.9h0M1083.7 655.6h0M1094.9 659.6h0" stroke="#ff9f00" stroke-width="6.0" stroke-linecap="round" fill="none"/>
<path d="M1193.3 564.3h0M1148.7 571.4h0M1168.7 570.5h0M1128.0 574.2h0M1189.2 580.7h0M1143.8 595.4h0M1128.9 612.3h0M1084.5 632.0h0M1123.5 634.7h0M1094.3 642.8h0M1090.7 652.4h0M1086.3 669.3h0M1102.0 692.7h0M1097.8 651.1h0M1090.0 654.6h0M1087.5 668.1h0" stroke="#ff2000" stroke-width="5.0" stroke-linecap="round" fill="none"/>
<path d="M1176.9 513.7h0M1203.4 513.7h0M1176.4 515.5h0M1179.0 522.5h0M1192.0 533.1h0M1175.4 536.7h0M1186.2 536.0h0M1183.9 540.8h0M1096.4 659.6h0M1116.5 665.3h0M1081.2 661.6h0M1081.2 683.3h0" stroke="#af0000" stroke-width="6.0" stroke-linecap="round" fill="none"/>
<path d="M1145.1 638.9h0M1131.3 650.3h0M1152.9 673.4h0M1127.6 696.4h0" stroke="#dfff20" stroke-width="6.0" stroke-linecap="round" fill="none"/>
<path d="M1123.6 666.9h0M1101.2 681.3h0M1209.2 665.9h0" stroke="#0000df" stroke-width="6.0" stroke-linecap="round" fill="none"/>
<path d="M1097.3 666.8h0" stroke="#ff9f00" stroke-width="7.0" stroke-linecap="round" fill="none"/>
<path d="M1217.0 631.7h0M1178.0 675.1h0M1222.3 680.3h0M1177.7 688.2h0" stroke="#0080ff" stroke-width="8.0" stroke-linecap="round" fill="none"/>
<path d="M1145.7 569.7h0M1142.6 579.7h0M1168.7 588.3h0M1110.3 595.5h0M1151.0 604.2h0M1096.7 649.3h0" stroke="#bf0000" stroke-width="5.0" stroke-linecap="round" fill="none"/>
<path d="M1166.0 688.2h0" stroke="#0080ff" stroke-width="7.0" stroke-linecap="round" fill="none"/>
<path d="M1131.5 654.2h0M1154.0 678.2h0" stroke="#50ffaf" stroke-width="6.0" stroke-linecap="round" fill="none"/>
<path d="M1092.1 668.9h0M1126.3 682.0h0M1089.9 662.0h0M1086.7 683.0h0" stroke="#ff9f00" stroke-width="6.0" stroke-linecap="round" fill="none"/>
<path d="M1106.5 530.7h0M1143.5 534.2h0M1098.2 536.0h0M1136.7 544.0h0M1137.0 550.9h0M1057.7 569.6h0" stroke="#ff4000" stroke-width="5.0" stroke-linecap="round" fill="none"/>
<path d="M1102.9 539.7h0M1105.4 539.9h0M1065.6 548.1h0M1105.1 549.4h0M1101.0 556.6h0M1054.9 561.2h0M1047.7 568.3h0" stroke="#ff8000" stroke-width="5.0" stroke-linecap="round" fill="none"/>
<path d="M1156.2 564.3h0M1144.6 567.9h0M1150.7 578.3h0M1080.0 594.0h0M1133.9 608.2h0M1075.8 621.8h0M1147.8 622.0h0M1151.3 624.2h0" stroke="#bf0000" stroke-width="5.0" stroke-linecap="round" fill="none"/>
<path d="M1079.8 648.4h0M1073.4 654.6h0M1081.4 673.7h0" stroke="#ff9f00" stroke-width="5.0" stroke-linecap="round" fill="none"/>
<path d="M1089.6 664.7h0" stroke="#0050ff" stroke-width="5.0" stroke-linecap="round" fill="none"/>
<path d="M1139.4 527.5h0M1128.6 528.9h0M1082.8 540.3h0M1122.4 541.1h0M1126.1 541.4h0M1101.8 544.3h0M1057.9 549.8h0M1092.9 553.3h0M1109.9 553.3h0M1053.9 556.9h0M1065.8 557.3h0M1077.3 556.8h0M1065.5 563.0h0" stroke="#ff8000" stroke-width="5.0" stroke-linecap="round" fill="none"/>
<path d="M1143.7 526.4h0M1102.6 532.9h0M1102.7 537.2h0M1080.7 547.8h0M1060.8 553.8h0M1085.3 561.7h0M1044.6 564.6h0M1078.4 564.9h0M1046.5 570.3h0M1060.3 573.6h0" stroke="#ff8000" stroke-width="6.0" stroke-linecap="round" fill="none"/>
<path d="M1196.2 560.8h0M1140.7 571.6h0M1158.8 573.0h0M1186.0 580.9h0M1123.2 584.0h0M1161.1 591.2h0M1138.2 597.2h0M1123.2 600.8h0M1103.0 604.0h0M1117.3 605.9h0M1140.2 604.0h0M1091.3 608.7h0M1104.7 614.5h0M1113.7 615.1h0M1110.8 618.3h0M1069.4 626.1h0M1080.1 624.9h0M1120.5 625.3h0M1107.7 628.9h0M1133.9 647.1h0M1115.1 678.2h0M1090.4 672.8h0M1090.9 686.7h0" stroke="#ff2000" stroke-width="6.0" stroke-linecap="round" fill="none"/>
<path d="M1171.8 564.8h0M1186.3 564.0h0M1200.4 578.1h0M1134.6 579.8h0M1176.2 580.4h0M1110.3 587.3h0M1147.5 588.2h0M1124.7 591.4h0M1094.8 595.5h0M1105.0 594.0h0M1145.8 600.8h0M1148.2 604.2h0M1117.6 611.5h0M1130.9 610.8h0M1071.0 617.9h0M1113.0 617.7h0M1065.6 621.7h0M1101.1 624.3h0M1110.6 639.0h0M1111.4 642.5h0" stroke="#ff7000" stroke-width="6.0" stroke-linecap="round" fill="none"/>
<path d="M1093.0 666.6h0M1112.7 665.1h0M1123.7 685.9h0M1134.5 684.9h0M1104.1 699.9h0M1192.0 662.4h0" stroke="#dfff20" stroke-width="7.0" stroke-linecap="round" fill="none"/>
<path d="M1145.8 647.3h0M1119.8 655.3h0M1145.5 654.3h0M1104.6 669.2h0M1131.1 681.8h0M1201.0 684.7h0" stroke="#dfff20" stroke-width="7.0" stroke-linecap="round" fill="none"/>
<path d="M1154.3 519.1h0M1159.1 519.2h0M1074.8 544.4h0M1078.6 544.3h0M1122.0 543.7h0M1098.1 546.8h0M1095.9 560.1h0M1094.6 592.2h0M1125.0 609.3h0M1099.5 639.3h0M1123.4 641.4h0" stroke="#ffff00" stroke-width="6.0" stroke-linecap="round" fill="none"/>
<path d="M1116.9 673.3h0M1137.7 684.8h0M1090.3 689.1h0" stroke="#ff9f00" stroke-width="7.0" stroke-linecap="round" fill="none"/>
<path d="M1213.4 658.6h0M1170.3 684.0h0" stroke="#0020ff" stroke-width="7.0" stroke-linecap="round" fill="none"/>
<path d="M1093.3 676.7h0" stroke="#ff2000" stroke-width="7.0" stroke-linecap="round" fill="none"/>
<path d="M1103.3 547.5h0M1060.7 567.1h0M1192.7 571.4h0M1142.3 573.9h0" stroke="#afff50" stroke-width="5.0" stroke-linecap="round" fill="none"/>
<path d="M1089.0 681.8h0M1142.7 680.3h0M1137.6 695.5h0" stroke="#0050ff" stroke-width="7.0" stroke-linecap="round" fill="none"/>
<path d="M1116.5 684.9h0M1119.7 700.7h0" stroke="#dfff20" stroke-width="5.0" stroke-linecap="round" fill="none"/>
<path d="M1156.1 534.2h0M1130.1 535.7h0M1147.0 544.6h0M1122.5 547.5h0M1068.4 553.1h0M1085.0 554.8h0M1053.9 562.8h0M1066.9 566.9h0M1169.6 568.4h0M1191.9 573.8h0M1165.0 580.3h0M1140.2 591.7h0M1071.2 598.0h0M1141.7 607.8h0M1138.0 618.5h0M1124.0 628.1h0M1101.6 642.1h0" stroke="#ffff00" stroke-width="5.0" stroke-linecap="round" fill="none"/>
<path d="M1128.0 651.7h0M1147.0 670.3h0M1204.6 635.1h0" stroke="#dfff20" stroke-width="7.0" stroke-linecap="round" fill="none"/>
<path d="M1139.8 529.5h0M1099.2 540.3h0M1188.3 571.0h0M1205.2 575.0h0M1128.4 597.4h0M1147.5 615.0h0M1133.7 634.6h0" stroke="#afff50" stroke-width="6.0" stroke-linecap="round" fill="none"/>
<path d="M1130.1 667.1h0M1134.0 681.5h0" stroke="#50ffaf" stroke-width="7.0" stroke-linecap="round" fill="none"/>
<path d="M1151.9 523.3h0M1071.0 543.5h0M1111.3 542.4h0M1138.7 544.3h0M1058.0 564.6h0M1050.6 566.8h0M1054.3 575.2h0M1151.8 571.5h0M1135.7 574.2h0M1073.5 593.8h0M1133.6 593.5h0M1130.8 596.8h0M1069.0 604.5h0M1125.0 603.6h0M1080.3 615.6h0M1140.5 617.6h0M1138.3 627.9h0M1086.4 634.2h0M1093.7 635.9h0" stroke="#ffaf00" stroke-width="5.0" stroke-linecap="round" fill="none"/>
<path d="M1113.0 650.1h0M1145.3 662.2h0M1089.3 686.1h0M1111.6 700.3h0M1218.8 675.9h0M1183.1 680.7h0" stroke="#0000df" stroke-width="6.0" stroke-linecap="round" fill="none"/>
<path d="M1103.9 659.6h0M1127.4 665.2h0" stroke="#dfff20" stroke-width="7.0" stroke-linecap="round" fill="none"/>
<path d="M1207.7 688.3h0" stroke="#0000bf" stroke-width="6.0" stroke-linecap="round" fill="none"/>
<path d="M1203.3 632.0h0M1164.5 698.1h0" stroke="#dfff20" stroke-width="8.0" stroke-linecap="round" fill="none"/>
<path d="M1209.9 635.2h0M1164.3 679.1h0M1221.9 687.5h0" stroke="#0000bf" stroke-width="6.0" stroke-linecap="round" fill="none"/>
<path d="M1171.1 567.8h0M1200.1 569.6h0M1092.6 583.9h0M1190.2 583.4h0M1134.1 592.1h0M1077.5 594.2h0M1141.3 595.1h0M1117.9 601.1h0M1067.1 606.9h0M1069.3 608.6h0M1073.0 632.3h0M1132.3 631.6h0M1086.0 641.1h0M1087.3 645.1h0M1090.3 646.4h0M1086.4 652.0h0" stroke="#ff7000" stroke-width="6.0" stroke-linecap="round" fill="none"/>
<path d="M1203.2 571.3h0M1118.5 574.7h0M1105.0 583.6h0M1165.0 585.2h0M1191.8 584.3h0M1145.2 591.4h0M1081.1 599.0h0M1114.8 598.7h0M1162.7 596.9h0M1097.3 611.8h0M1120.6 616.1h0M1103.6 620.5h0M1084.4 628.3h0M1096.0 627.4h0M1082.4 649.3h0M1089.3 647.6h0M1087.6 655.3h0M1086.7 673.0h0" stroke="#ff2000" stroke-width="5.0" stroke-linecap="round" fill="none"/>
<path d="M1118.7 663.0h0M1123.4 678.3h0" stroke="#0000df" stroke-width="5.0" stroke-linecap="round" fill="none"/>
<path d="M1208.5 645.9h0M1196.5 658.3h0M1217.9 662.6h0" stroke="#0000bf" stroke-width="8.0" stroke-linecap="round" fill="none"/>
<path d="M1092.2 653.8h0M1086.4 673.5h0M1137.6 674.3h0M1149.7 688.1h0M1131.0 692.5h0M1088.7 696.3h0M1093.9 700.3h0M1116.7 699.3h0M1142.5 701.0h0M1080.7 676.5h0M1090.1 679.5h0M1083.7 688.8h0M1089.3 690.4h0" stroke="#0050ff" stroke-width="6.0" stroke-linecap="round" fill="none"/>
<path d="M1111.8 557.3h0M1193.0 526.1h0" stroke="#ff4000" stroke-width="5.0" stroke-linecap="round" fill="none"/>
<path d="M1108.8 654.1h0M1100.7 669.9h0M1092.6 673.3h0M1134.9 674.1h0M1101.2 684.4h0M1146.3 684.9h0" stroke="#0050ff" stroke-width="6.0" stroke-linecap="round" fill="none"/>
<path d="M1210.0 649.6h0M1170.0 689.2h0M1195.7 693.8h0" stroke="#0020ff" stroke-width="7.0" stroke-linecap="round" fill="none"/>
<path d="M1130.2 527.3h0M1154.7 583.7h0M1150.8 593.4h0M1092.8 598.2h0M1120.9 605.7h0M1151.6 611.6h0M1095.0 629.2h0" stroke="#afff50" stroke-width="6.0" stroke-linecap="round" fill="none"/>
<path d="M1100.7 662.8h0M1122.9 668.9h0M1138.3 681.5h0M1119.5 684.7h0M1205.3 676.1h0" stroke="#00cfff" stroke-width="7.0" stroke-linecap="round" fill="none"/>
<path d="M1121.7 527.4h0M1116.8 533.0h0M1128.5 532.5h0M1113.4 536.6h0M1179.2 563.2h0M1126.6 570.7h0M1179.6 576.3h0M1193.4 578.6h0M1098.2 581.5h0M1191.6 582.0h0M1199.8 581.0h0M1120.7 586.6h0M1127.0 586.5h0M1131.9 588.8h0M1113.7 593.5h0M1089.5 597.4h0M1067.3 602.5h0M1151.6 601.9h0M1113.6 604.2h0M1137.5 607.2h0M1139.1 611.8h0M1116.8 620.6h0M1145.7 622.9h0M1114.1 638.4h0M1092.7 645.3h0M1173.5 692.9h0" stroke="#ffaf00" stroke-width="6.0" stroke-linecap="round" fill="none"/>
<path d="M1118.3 529.8h0M1145.6 530.2h0M1118.8 533.5h0M1145.5 535.8h0M1157.2 535.8h0M1096.4 540.9h0M1130.4 542.8h0M1084.9 547.9h0M1115.0 554.5h0M1050.4 556.9h0M1072.6 564.0h0" stroke="#ff8000" stroke-width="6.0" stroke-linecap="round" fill="none"/>
<path d="M1212.1 645.1h0M1213.4 652.6h0M1209.5 672.0h0M1199.7 693.4h0" stroke="#0020ff" stroke-width="8.0" stroke-linecap="round" fill="none"/>
<path d="M1063.8 560.6h0M1188.8 523.3h0M1179.6 535.5h0M1197.3 537.3h0M1172.9 543.4h0" stroke="#df0000" stroke-width="6.0" stroke-linecap="round" fill="none"/>
<path d="M1114.7 653.6h0M1093.4 659.2h0M1097.2 681.4h0M1114.9 693.1h0" stroke="#50ffaf" stroke-width="7.0" stroke-linecap="round" fill="none"/>
<path d="M1194.7 654.5h0M1195.9 670.1h0" stroke="#0080ff" stroke-width="7.0" stroke-linecap="round" fill="none"/>
<path d="M1157.6 518.7h0M1147.4 524.3h0M1135.8 533.0h0M1145.8 533.3h0M1088.7 537.6h0M1088.3 541.2h0M1089.3 561.6h0M1060.2 562.9h0M1043.8 570.4h0M1062.4 570.4h0M1058.9 577.7h0" stroke="#ff8000" stroke-width="6.0" stroke-linecap="round" fill="none"/>
<path d="M1112.4 655.6h0M1122.5 674.1h0M1146.1 696.2h0" stroke="#50ffaf" stroke-width="6.0" stroke-linecap="round" fill="none"/>
<path d="M1090.0 611.9h0" stroke="#20ffdf" stroke-width="5.0" stroke-linecap="round" fill="none"/>
<path d="M1101.3 654.0h0M1142.6 671.0h0M1146.5 692.8h0" stroke="#00cfff" stroke-width="6.0" stroke-linecap="round" fill="none"/>
<path d="M1149.9 651.5h0M1134.0 696.6h0" stroke="#50ffaf" stroke-width="5.0" stroke-linecap="round" fill="none"/>
<path d="M1111.6 685.8h0" stroke="#af0000" stroke-width="7.0" stroke-linecap="round" fill="none"/>
<path d="M1153.7 526.2h0M1111.7 532.6h0M1104.5 557.0h0M1113.2 575.0h0M1104.9 623.9h0" stroke="#afff50" stroke-width="5.0" stroke-linecap="round" fill="none"/>
<path d="M1107.7 651.9h0M1112.0 669.3h0" stroke="#00cfff" stroke-width="6.0" stroke-linecap="round" fill="none"/>
<path d="M1183.0 566.3h0M1186.1 567.0h0M1169.6 584.8h0M1111.0 598.2h0M1131.5 605.8h0M1110.3 611.9h0M1124.3 612.4h0M1144.1 614.9h0M1085.9 626.3h0M1097.1 625.8h0M1138.9 624.9h0M1072.7 627.6h0M1127.3 662.7h0M1131.5 684.4h0M1130.8 688.8h0M1118.8 695.9h0M1149.3 701.0h0M1076.2 651.6h0M1093.1 668.7h0M1086.0 678.8h0M1083.4 682.3h0M1086.4 690.5h0M1088.2 693.6h0" stroke="#ff2000" stroke-width="6.0" stroke-linecap="round" fill="none"/>
<path d="M1135.2 526.7h0M1119.1 541.0h0M1157.0 540.3h0M1081.8 543.0h0M1157.6 547.1h0M1122.5 551.1h0M1052.3 553.4h0M1055.0 553.2h0M1051.8 560.2h0M1199.2 560.1h0M1201.5 564.1h0M1148.6 567.9h0M1137.0 569.9h0M1170.8 579.9h0M1145.8 584.6h0M1184.5 586.6h0M1077.9 590.7h0M1107.2 590.6h0M1069.4 593.8h0M1139.2 593.8h0M1147.6 596.7h0M1158.9 597.8h0M1090.9 601.7h0M1131.7 621.3h0M1103.6 629.2h0M1130.8 629.0h0M1086.8 631.1h0M1100.6 632.7h0M1101.5 652.2h0" stroke="#ffaf00" stroke-width="6.0" stroke-linecap="round" fill="none"/>
<path d="M1135.1 651.5h0M1085.0 662.3h0M1143.4 685.4h0M1094.3 692.1h0M1149.3 693.2h0" stroke="#dfff20" stroke-width="7.0" stroke-linecap="round" fill="none"/>
<path d="M1126.4 530.0h0M1105.9 537.0h0M1199.0 567.0h0M1201.9 568.0h0M1120.7 575.3h0M1162.4 573.3h0M1120.3 577.1h0M1123.7 577.9h0M1174.8 576.4h0M1090.0 594.1h0M1055.5 597.6h0M1067.7 596.8h0M1077.1 598.7h0M1117.7 599.0h0M1056.9 602.4h0M1100.9 634.4h0M1117.2 642.0h0" stroke="#ffaf00" stroke-width="5.0" stroke-linecap="round" fill="none"/>
<path d="M1182.7 689.5h0M1169.2 693.2h0" stroke="#0000df" stroke-width="8.0" stroke-linecap="round" fill="none"/>
<path d="M1122.6 646.8h0M1096.3 688.4h0M1115.3 696.0h0M1089.1 701.1h0M1216.8 697.5h0" stroke="#00cfff" stroke-width="6.0" stroke-linecap="round" fill="none"/>
<path d="M1160.5 679.4h0" stroke="#0080ff" stroke-width="6.0" stroke-linecap="round" fill="none"/>
<path d="M1209.8 697.9h0" stroke="#0080ff" stroke-width="8.0" stroke-linecap="round" fill="none"/>
<path d="M1098.1 662.8h0M1089.1 670.6h0M1101.3 673.0h0" stroke="#50ffaf" stroke-width="6.0" stroke-linecap="round" fill="none"/>
<path d="M1096.1 537.4h0M1157.3 542.4h0M1126.4 546.3h0M1150.2 548.1h0M1153.7 546.0h0M1051.7 551.3h0M1043.8 578.5h0M1172.7 526.3h0" stroke="#ff4000" stroke-width="6.0" stroke-linecap="round" fill="none"/>
<path d="M1202.1 557.0h0M1138.1 568.4h0M1158.7 570.8h0M1097.9 588.4h0M1107.7 593.9h0M1062.5 598.0h0M1107.9 610.5h0M1131.4 614.9h0M1152.2 614.8h0M1138.8 622.8h0M1126.9 626.0h0M1096.5 635.6h0M1079.8 639.9h0M1101.0 649.0h0M1074.5 649.2h0M1090.4 651.7h0M1077.6 665.6h0M1083.8 679.0h0" stroke="#ff2000" stroke-width="5.0" stroke-linecap="round" fill="none"/>
<path d="M1199.0 698.4h0" stroke="#00cfff" stroke-width="8.0" stroke-linecap="round" fill="none"/>
<path d="M1126.6 700.8h0M1161.2 684.2h0M1195.9 684.5h0M1204.3 693.6h0" stroke="#00cfff" stroke-width="7.0" stroke-linecap="round" fill="none"/>
<path d="M1149.4 642.7h0M1139.3 652.1h0M1109.4 666.1h0M1126.0 689.1h0M1094.0 697.3h0M1083.2 646.3h0M1081.1 668.6h0M1091.4 693.6h0" stroke="#ff9f00" stroke-width="6.0" stroke-linecap="round" fill="none"/>
<path d="M1096.7 669.3h0M1138.6 692.8h0" stroke="#ff2000" stroke-width="7.0" stroke-linecap="round" fill="none"/>
<path d="M1186.4 693.6h0" stroke="#0080ff" stroke-width="8.0" stroke-linecap="round" fill="none"/>
<path d="M1201.6 560.1h0M1169.4 564.3h0M1181.9 563.3h0M1131.8 569.7h0M1144.2 577.7h0M1118.7 583.4h0M1131.1 590.7h0M1074.1 597.0h0M1100.7 598.9h0M1127.1 601.0h0M1141.8 612.6h0M1067.1 615.7h0M1125.2 615.6h0M1083.2 624.7h0M1130.0 625.5h0M1127.6 629.3h0M1131.4 636.5h0M1128.3 643.5h0M1108.4 662.9h0M1109.4 669.3h0M1089.1 678.1h0M1090.3 660.2h0" stroke="#ff2000" stroke-width="6.0" stroke-linecap="round" fill="none"/>
<path d="M1169.0 589.9h0M1104.0 639.8h0" stroke="#20ffdf" stroke-width="6.0" stroke-linecap="round" fill="none"/>
<path d="M1212.1 632.7h0M1195.2 644.6h0M1200.3 645.3h0M1186.0 675.6h0M1194.6 675.1h0M1195.9 680.7h0M1196.3 696.3h0" stroke="#0000df" stroke-width="8.0" stroke-linecap="round" fill="none"/>
<path d="M1148.9 525.6h0M1114.6 540.9h0M1120.1 548.0h0M1102.3 551.0h0M1047.8 580.1h0M1189.6 533.0h0" stroke="#ff4000" stroke-width="6.0" stroke-linecap="round" fill="none"/>
<path d="M1199.9 636.3h0M1221.3 676.6h0" stroke="#0020ff" stroke-width="8.0" stroke-linecap="round" fill="none"/>
<path d="M1093.9 676.4h0" stroke="#0050ff" stroke-width="5.0" stroke-linecap="round" fill="none"/>
<path d="M1127.5 678.5h0M1119.1 680.3h0M1103.6 688.9h0" stroke="#af0000" stroke-width="7.0" stroke-linecap="round" fill="none"/>
<path d="M1115.8 646.8h0" stroke="#50ffaf" stroke-width="7.0" stroke-linecap="round" fill="none"/>
<path d="M1100.2 657.5h0M1105.4 676.3h0M1137.5 699.4h0" stroke="#50ffaf" stroke-width="6.0" stroke-linecap="round" fill="none"/>
<path d="M1181.2 560.6h0M1195.8 562.8h0M1152.0 574.1h0M1176.2 588.9h0M1149.3 589.9h0M1122.1 601.8h0M1141.2 600.4h0M1119.8 609.2h0M1114.7 645.6h0M1080.6 648.7h0M1074.0 653.0h0M1104.6 651.7h0M1086.9 659.3h0M1087.2 665.4h0M1093.2 664.9h0M1094.9 672.8h0" stroke="#ff2000" stroke-width="5.0" stroke-linecap="round" fill="none"/>
<path d="M1064.5 570.0h0M1134.5 640.7h0M1094.5 662.3h0M1133.6 677.0h0" stroke="#0050ff" stroke-width="5.0" stroke-linecap="round" fill="none"/>
<path d="M1149.1 523.4h0M1136.6 530.5h0M1136.9 541.3h0M1111.8 550.6h0M1057.5 558.1h0M1069.0 557.6h0M1185.3 560.5h0M1174.6 563.3h0M1174.8 570.5h0M1148.1 574.1h0M1110.4 577.8h0M1162.0 578.5h0M1111.4 580.4h0M1131.4 579.8h0M1155.3 590.2h0M1077.5 603.5h0M1122.1 612.4h0M1076.4 619.5h0M1123.9 618.6h0M1132.0 618.4h0M1148.7 635.6h0M1093.8 639.6h0M1118.3 639.7h0M1134.7 638.9h0M1093.8 651.4h0" stroke="#ffaf00" stroke-width="5.0" stroke-linecap="round" fill="none"/>
<path d="M1096.1 655.0h0M1142.2 657.8h0M1141.1 677.9h0M1149.0 684.1h0M1142.4 691.4h0" stroke="#50ffaf" stroke-width="7.0" stroke-linecap="round" fill="none"/>
<path d="M1169.2 523.4h0M1202.9 521.9h0M1186.6 525.8h0M1196.5 526.3h0M1165.0 530.1h0M1183.5 532.8h0M1195.8 532.4h0M1193.9 537.0h0M1188.8 539.9h0M1133.6 654.0h0M1131.2 663.3h0M1111.6 691.3h0M1123.1 691.4h0M1084.6 666.5h0" stroke="#af0000" stroke-width="6.0" stroke-linecap="round" fill="none"/>
<path d="M1093.5 689.3h0" stroke="#ff9f00" stroke-width="7.0" stroke-linecap="round" fill="none"/>
<path d="M1137.7 604.8h0" stroke="#20ffdf" stroke-width="5.0" stroke-linecap="round" fill="none"/>
<path d="M1148.6 639.1h0M1120.6 647.9h0M1139.3 653.8h0M1081.0 666.9h0M1082.8 686.8h0" stroke="#ff9f00" stroke-width="6.0" stroke-linecap="round" fill="none"/>
<path d="M1200.9 654.4h0M1204.0 657.5h0M1155.4 696.3h0M1178.9 697.6h0" stroke="#0020ff" stroke-width="7.0" stroke-linecap="round" fill="none"/>
<path d="M1173.7 684.9h0" stroke="#0020ff" stroke-width="6.0" stroke-linecap="round" fill="none"/>
<path d="M1186.8 570.4h0M1141.0 588.3h0M1132.4 608.1h0M1153.9 612.3h0M1129.0 622.4h0M1077.5 632.1h0M1096.5 652.3h0" stroke="#bf0000" stroke-width="5.0" stroke-linecap="round" fill="none"/>
<path d="M1156.7 527.4h0M1112.2 531.0h0M1116.8 546.4h0M1135.8 547.4h0M1075.2 549.7h0M1081.0 549.7h0M1108.0 550.4h0M1072.6 553.8h0M1052.2 576.8h0" stroke="#ff8000" stroke-width="5.0" stroke-linecap="round" fill="none"/>
<path d="M1105.4 554.2h0M1147.1 658.2h0M1135.9 662.0h0M1088.8 673.2h0M1145.3 672.7h0M1075.8 658.4h0" stroke="#0050ff" stroke-width="6.0" stroke-linecap="round" fill="none"/>
<path d="M1124.4 651.4h0M1127.3 670.9h0M1104.3 673.4h0M1178.2 678.7h0" stroke="#0000df" stroke-width="6.0" stroke-linecap="round" fill="none"/>
<path d="M1101.0 696.2h0" stroke="#50ffaf" stroke-width="5.0" stroke-linecap="round" fill="none"/>
<path d="M1205.5 672.3h0" stroke="#ffaf00" stroke-width="8.0" stroke-linecap="round" fill="none"/>
<path d="M1213.8 663.0h0M1155.8 693.6h0" stroke="#0000bf" stroke-width="8.0" stroke-linecap="round" fill="none"/>
<path d="M1104.0 662.9h0M1141.4 663.5h0M1120.8 689.0h0" stroke="#00cfff" stroke-width="6.0" stroke-linecap="round" fill="none"/>
<path d="M1188.1 560.5h0M1152.6 567.1h0M1053.8 594.7h0M1104.1 608.9h0M1143.7 610.8h0M1114.2 620.7h0M1089.9 629.4h0" stroke="#bf0000" stroke-width="6.0" stroke-linecap="round" fill="none"/>
<path d="M1220.8 684.3h0M1183.3 691.9h0M1221.7 693.6h0" stroke="#0020ff" stroke-width="7.0" stroke-linecap="round" fill="none"/>
<path d="M1132.5 527.8h0M1152.4 539.6h0M1081.5 557.4h0M1101.7 561.4h0M1082.8 564.4h0M1053.4 566.6h0M1189.9 525.4h0M1204.0 537.1h0M1178.8 543.5h0" stroke="#ff4000" stroke-width="6.0" stroke-linecap="round" fill="none"/>
<path d="M1116.1 536.9h0M1099.4 544.6h0M1149.1 543.6h0M1060.7 556.7h0M1076.1 561.3h0" stroke="#ff8000" stroke-width="5.0" stroke-linecap="round" fill="none"/>
<path d="M1133.6 699.5h0" stroke="#0050ff" stroke-width="7.0" stroke-linecap="round" fill="none"/>
<path d="M1127.1 646.8h0M1126.3 658.3h0M1130.0 674.0h0M1107.9 691.3h0M1097.1 701.1h0M1196.1 650.3h0M1165.6 675.5h0M1201.1 674.6h0M1188.0 685.3h0M1208.7 693.1h0M1190.5 698.1h0" stroke="#0000df" stroke-width="7.0" stroke-linecap="round" fill="none"/>
<path d="M1150.5 647.7h0M1089.3 693.5h0M1087.7 649.7h0M1096.6 662.0h0" stroke="#dfff20" stroke-width="5.0" stroke-linecap="round" fill="none"/>
<path d="M1146.2 526.3h0M1076.0 546.9h0M1047.1 557.1h0M1110.0 557.6h0M1075.4 565.1h0M1092.0 563.9h0M1173.7 519.5h0M1203.4 525.7h0" stroke="#ff4000" stroke-width="5.0" stroke-linecap="round" fill="none"/>
<path d="M1166.0 567.9h0M1152.6 590.8h0M1117.1 595.6h0M1080.9 600.2h0M1107.1 605.0h0M1083.0 608.9h0M1128.0 609.0h0M1147.1 610.9h0M1121.2 621.6h0M1077.9 635.5h0" stroke="#bf0000" stroke-width="5.0" stroke-linecap="round" fill="none"/>
<path d="M1200.6 640.2h0M1178.5 670.4h0" stroke="#0000bf" stroke-width="7.0" stroke-linecap="round" fill="none"/>
<path d="M1141.6 643.8h0M1141.1 666.7h0M1148.6 682.3h0" stroke="#0050ff" stroke-width="7.0" stroke-linecap="round" fill="none"/>
<path d="M1200.4 564.9h0M1179.0 573.9h0M1137.6 578.0h0M1167.7 577.5h0M1171.7 578.0h0M1182.2 577.8h0M1162.7 583.5h0M1175.4 585.2h0M1135.5 587.8h0M1056.5 594.3h0M1147.8 600.8h0M1096.0 605.3h0M1086.7 611.2h0M1069.0 616.0h0M1114.2 634.2h0M1146.0 636.1h0M1119.3 650.1h0M1085.7 659.3h0M1133.8 658.0h0M1150.1 678.3h0M1072.6 645.8h0M1077.0 649.0h0M1093.7 663.1h0M1089.9 669.6h0M1091.1 675.3h0" stroke="#ff2000" stroke-width="6.0" stroke-linecap="round" fill="none"/>
<path d="M1141.8 646.6h0M1089.4 658.6h0M1111.2 689.5h0M1138.9 687.6h0M1107.2 701.0h0M1207.9 657.1h0" stroke="#0000df" stroke-width="7.0" stroke-linecap="round" fill="none"/>
<path d="M1147.0 650.0h0M1137.6 663.5h0M1089.9 700.0h0" stroke="#dfff20" stroke-width="5.0" stroke-linecap="round" fill="none"/>
<path d="M1089.0 655.4h0M1104.0 666.8h0M1145.7 666.5h0M1116.0 669.4h0M1126.0 672.5h0M1146.0 687.8h0M1123.3 696.3h0M1123.9 699.2h0" stroke="#dfff20" stroke-width="6.0" stroke-linecap="round" fill="none"/>
<path d="M1183.9 516.6h0M1169.6 542.4h0M1112.9 648.4h0M1107.5 659.6h0M1097.1 676.7h0M1127.6 692.5h0M1097.3 658.6h0" stroke="#af0000" stroke-width="6.0" stroke-linecap="round" fill="none"/>
<path d="M1075.8 610.6h0" stroke="#afff50" stroke-width="6.0" stroke-linecap="round" fill="none"/>
<path d="M1137.4 639.5h0" stroke="#0000df" stroke-width="5.0" stroke-linecap="round" fill="none"/>
<path d="M1217.3 689.4h0M1178.8 693.7h0" stroke="#0020ff" stroke-width="8.0" stroke-linecap="round" fill="none"/>
<path d="M1204.6 666.7h0" stroke="#00cfff" stroke-width="8.0" stroke-linecap="round" fill="none"/>
<path d="M1110.0 543.5h0M1132.4 551.2h0M1182.4 570.7h0" stroke="#afff50" stroke-width="6.0" stroke-linecap="round" fill="none"/>
<path d="M1119.2 670.2h0M1146.6 678.4h0M1124.4 681.8h0" stroke="#50ffaf" stroke-width="6.0" stroke-linecap="round" fill="none"/>
<path d="M1148.5 520.0h0M1114.7 542.6h0M1128.4 549.6h0M1057.4 561.0h0M1040.7 563.7h0M1051.2 563.6h0M1057.2 574.8h0M1183.2 574.2h0M1156.1 578.6h0M1196.1 577.3h0M1142.2 585.0h0M1125.2 595.2h0M1084.3 597.6h0M1103.2 597.5h0M1062.2 604.2h0M1094.1 604.4h0M1087.0 607.9h0M1107.2 618.8h0M1074.3 622.1h0M1079.1 627.8h0M1111.7 627.9h0M1147.1 629.3h0M1116.8 631.6h0M1120.8 632.1h0M1098.0 645.9h0M1103.7 648.2h0" stroke="#ffaf00" stroke-width="6.0" stroke-linecap="round" fill="none"/>
<path d="M1104.9 655.3h0M1099.9 665.5h0" stroke="#ff2000" stroke-width="7.0" stroke-linecap="round" fill="none"/>
<path d="M1125.6 525.5h0M1089.3 546.7h0M1094.5 553.0h0M1070.7 558.2h0M1116.4 556.0h0M1046.9 560.6h0M1195.0 556.4h0M1160.6 588.5h0M1107.3 609.2h0M1116.8 615.0h0M1066.4 618.1h0M1076.5 627.9h0M1114.2 627.3h0M1116.9 635.8h0M1140.5 637.9h0" stroke="#ffff00" stroke-width="6.0" stroke-linecap="round" fill="none"/>
<path d="M1130.6 648.4h0M1150.2 674.0h0M1096.2 648.0h0M1088.0 686.2h0" stroke="#ff9f00" stroke-width="5.0" stroke-linecap="round" fill="none"/>
<path d="M1149.3 655.5h0M1120.2 658.9h0M1126.1 685.2h0" stroke="#00cfff" stroke-width="7.0" stroke-linecap="round" fill="none"/>
<path d="M1115.1 689.2h0M1105.4 696.8h0" stroke="#0050ff" stroke-width="5.0" stroke-linecap="round" fill="none"/>
<path d="M1192.0 654.7h0M1178.2 683.5h0" stroke="#0000bf" stroke-width="7.0" stroke-linecap="round" fill="none"/>
<path d="M1179.0 582.0h0M1131.4 585.4h0M1100.1 591.4h0M1087.7 593.6h0M1121.4 595.2h0M1159.4 593.4h0M1062.6 608.4h0M1101.7 611.8h0M1098.0 615.7h0M1094.7 624.3h0M1143.7 630.7h0M1083.8 637.8h0" stroke="#ff7000" stroke-width="6.0" stroke-linecap="round" fill="none"/>
<path d="M1155.6 683.8h0M1200.5 687.6h0M1204.7 687.6h0" stroke="#0000bf" stroke-width="7.0" stroke-linecap="round" fill="none"/>
<path d="M1191.7 559.5h0M1145.6 573.6h0M1138.6 580.6h0M1086.9 604.6h0M1072.3 614.4h0M1083.4 615.9h0M1090.1 617.1h0M1116.9 625.8h0M1123.7 625.8h0M1121.2 628.5h0M1135.5 627.8h0M1080.8 631.9h0M1106.6 638.9h0M1122.0 637.7h0M1083.0 645.6h0M1094.1 649.4h0" stroke="#ff7000" stroke-width="6.0" stroke-linecap="round" fill="none"/>
<path d="M1200.9 632.7h0M1213.3 641.4h0M1196.4 663.5h0M1191.2 667.2h0M1214.2 675.5h0" stroke="#0000bf" stroke-width="8.0" stroke-linecap="round" fill="none"/>
<path d="M1088.8 665.6h0M1120.3 678.3h0M1119.2 691.4h0M1217.9 640.4h0" stroke="#00cfff" stroke-width="6.0" stroke-linecap="round" fill="none"/>
<path d="M1199.1 671.9h0M1221.1 670.9h0M1204.7 684.6h0" stroke="#0000bf" stroke-width="7.0" stroke-linecap="round" fill="none"/>
<path d="M1141.5 655.1h0M1213.1 670.7h0M1160.9 691.9h0M1221.1 697.5h0" stroke="#0000df" stroke-width="6.0" stroke-linecap="round" fill="none"/>
<path d="M1138.9 573.1h0M1131.9 578.7h0M1185.7 578.0h0M1114.2 583.5h0M1059.7 593.5h0M1134.7 599.0h0M1082.8 621.2h0M1091.1 636.4h0" stroke="#bf0000" stroke-width="5.0" stroke-linecap="round" fill="none"/>
<path d="M1217.1 671.3h0" stroke="#dfff20" stroke-width="8.0" stroke-linecap="round" fill="none"/>
<path d="M1198.3 575.1h0M1125.4 581.7h0M1168.5 581.5h0M1063.5 595.7h0M1110.6 604.5h0M1117.5 609.0h0M1088.0 615.8h0M1148.4 619.0h0M1087.2 638.3h0M1106.3 646.2h0" stroke="#ff7000" stroke-width="5.0" stroke-linecap="round" fill="none"/>
<path d="M1172.7 570.3h0M1173.1 573.4h0M1189.6 573.5h0M1134.3 577.9h0M1114.4 580.3h0M1144.8 582.1h0M1065.7 591.8h0M1086.8 591.7h0M1157.2 590.3h0M1107.8 598.6h0M1080.2 607.9h0M1103.3 611.4h0M1135.0 615.9h0M1096.8 622.7h0M1117.8 629.5h0M1108.2 642.7h0" stroke="#ff7000" stroke-width="5.0" stroke-linecap="round" fill="none"/>
<path d="M1140.5 522.5h0M1111.2 540.8h0M1142.5 545.8h0M1110.4 609.3h0M1147.6 608.3h0M1148.7 632.7h0M1104.2 635.1h0" stroke="#ffff00" stroke-width="5.0" stroke-linecap="round" fill="none"/>
</g>
<circle cx="1164.1" cy="629.7" r="4" fill="#0000e6"/>
<circle cx="1150.2" cy="634.6" r="3.5" fill="#0000e6"/>
<clipPath id="clip12"><rect x="1037.6" y="486.4" width="234.0" height="213.3"/></clipPath>
<g clip-path="url(#clip12)">
<path d="M1032.1 486.9 L1113.0 486.9 L1113.0 483.3 L1114.3 483.4 L1115.1 484.0 L1116.0 489.0 L1119.0 490.3 L1121.5 491.5 L1124.3 490.6 L1126.9 490.6 L1129.1 492.2 L1130.6 494.1 L1133.5 494.5 L1136.0 495.8 L1139.2 494.5 L1140.1 494.4 L1142.9 495.5 L1145.5 495.5 L1147.0 496.4 L1148.6 496.4 M1148.6 496.4 L1146.1 497.8 L1143.6 498.8 L1140.4 501.1 L1138.5 502.5 L1136.0 504.8 L1134.1 506.2 L1132.2 508.1 L1131.9 508.5 L1133.5 508.5 L1135.4 508.1 L1137.6 507.1 L1139.5 506.2 L1140.7 507.6 L1140.1 509.4 L1142.6 509.4 L1142.9 509.7 M1142.9 509.7 L1145.5 509.3 L1148.0 507.4 L1150.5 506.7 L1152.4 505.3 L1154.6 503.4 L1156.8 501.6 L1159.0 501.4 L1156.5 503.9 L1156.8 506.2 L1158.7 506.7 L1160.6 510.4 L1163.1 510.4 L1164.4 510.5 L1166.9 511.1 L1168.8 509.9 L1170.7 509.0 L1173.8 508.1 L1177.0 508.1 L1177.0 510.4 L1179.5 510.8 L1180.7 510.4 L1182.6 512.2 L1183.3 513.6 L1183.9 514.5 M1183.9 514.5 L1181.4 515.1 L1178.8 516.1 L1176.3 514.9 L1173.8 514.0 L1171.3 515.4 L1168.8 516.3 L1166.9 518.1 L1165.3 516.3 L1163.7 517.6 L1162.1 519.9 L1160.6 523.0 M1160.6 523.0 L1159.6 520.8 L1159.0 518.5 L1157.4 516.7 L1155.5 515.4 L1153.6 514.9 L1151.1 514.0 L1148.0 513.1 L1144.8 512.2 L1142.9 509.7 M1160.6 523.0 L1159.6 518.5 L1159.3 516.3 M1160.6 523.0 L1159.9 528.3 L1159.9 537.1 L1160.6 545.7 L1160.9 550.0 L1161.1 552.5 M1161.1 552.5 L1163.1 553.2 L1165.5 552.0 M1165.5 552.0 L1167.5 549.1 L1169.1 545.7 L1169.4 543.1 L1169.1 539.7 L1167.5 536.2 L1168.1 533.6 L1169.1 530.5 L1170.0 527.5 L1171.3 524.3 L1173.2 522.6 L1173.8 525.7 L1174.7 523.9 L1175.7 521.2 L1176.6 519.9 L1177.3 517.2 L1178.7 516.9 L1180.7 518.1 L1182.6 519.4 L1185.8 520.3 L1187.3 523.0 L1187.7 526.1 L1187.3 529.7 L1185.8 531.9 L1183.9 534.1 L1184.2 535.8 L1186.1 534.9 L1187.7 533.2 L1189.9 532.3 L1191.4 535.4 L1192.7 538.8 L1193.0 541.4 L1192.4 544.9 L1190.5 546.6 L1188.9 547.8 L1188.3 550.4 L1186.7 552.3 M1165.5 552.0 L1171.9 552.0 L1178.2 552.5 L1186.7 552.3 M1186.7 552.3 L1188.9 553.4 L1190.8 554.6 L1192.7 555.0 L1195.9 554.2 L1197.7 554.2 L1200.3 552.5 L1202.2 551.7 L1205.2 550.1 L1207.8 548.7 L1210.0 547.7 L1212.9 545.7 L1215.4 542.7 L1214.8 540.6 L1214.4 539.3 L1217.3 538.4 L1221.1 538.2 L1224.2 539.3 L1227.4 539.1 L1229.9 538.0 L1232.4 536.8 L1232.1 534.5 L1232.4 532.7 L1231.4 531.4 L1234.9 529.2 L1238.1 525.7 L1240.6 523.9 L1241.8 523.9 L1250.3 523.8 L1262.0 523.8 L1264.5 521.2 L1266.4 520.3 L1268.3 517.2 L1270.2 514.0 L1271.5 511.3 M1056.9 486.9 L1056.9 558.4 M1032.1 523.9 L1056.9 523.9 M1056.9 515.5 L1104.1 515.5 M1032.1 558.4 L1069.5 558.4 L1069.5 590.8 M1032.1 590.8 L1116.3 590.8 M1056.9 541.4 L1091.9 541.4 L1095.1 542.7 L1098.2 542.7 L1101.4 543.6 L1103.9 545.7 L1104.8 545.7 M1069.5 566.7 L1112.1 566.7 M1063.6 590.8 L1063.6 594.8 L1063.3 629.1 L1040.7 629.1 L1032.1 629.1 M1063.3 594.8 L1082.5 594.8 L1082.5 609.8 L1085.0 611.2 L1087.5 612.5 L1091.3 612.9 L1094.4 614.1 L1097.6 614.8 L1100.1 615.9 L1102.6 615.6 L1105.1 615.9 L1108.3 615.2 L1110.8 615.0 L1114.0 615.2 L1117.2 616.8 L1120.0 617.5 L1120.0 621.5 M1117.2 616.8 L1117.5 603.3 L1116.3 594.8 L1116.3 590.8 L1116.4 574.0 L1114.6 571.6 L1113.3 570.0 L1112.1 566.7 L1110.8 564.2 L1108.9 561.7 L1108.3 558.4 L1108.3 554.2 L1107.0 550.0 L1105.8 547.4 L1104.8 545.7 L1103.9 541.4 L1104.8 537.1 L1104.8 521.2 L1104.1 515.5 L1102.9 511.3 L1102.6 506.7 L1102.3 501.1 L1101.4 496.4 L1100.4 491.7 L1099.9 486.9 M1116.3 594.8 L1144.5 594.8 L1143.2 597.9 L1143.1 598.7 L1147.2 598.7 M1120.0 621.5 L1138.1 621.6 M1120.0 621.5 L1120.0 629.1 L1121.5 632.0 L1122.8 635.0 L1123.1 637.9 L1122.1 641.6 L1121.3 646.0 M1138.1 621.6 L1138.5 624.6 L1139.2 627.6 L1136.6 629.8 L1136.0 632.8 L1135.4 635.0 L1135.1 636.5 L1147.2 636.5 L1146.7 638.7 L1147.3 640.5 L1148.0 642.3 M1138.1 621.6 L1138.5 617.8 L1139.5 614.8 L1141.7 611.0 L1142.9 607.9 L1144.8 605.6 L1145.8 602.5 L1147.3 599.4 L1148.0 597.1 L1148.6 594.8 M1104.8 537.1 L1137.8 537.1 M1109.1 561.9 L1134.6 561.6 L1136.5 563.5 M1136.5 563.5 L1137.9 560.9 L1138.5 558.4 L1141.0 554.6 L1143.6 553.4 L1144.2 551.2 L1142.9 548.3 L1141.4 545.7 L1139.2 544.0 L1138.2 540.6 L1137.8 537.1 M1136.5 563.5 L1136.3 566.7 L1137.9 570.0 L1140.1 572.4 L1141.7 574.0 L1144.2 576.1 L1144.2 578.9 L1143.6 581.3 L1146.1 583.7 L1148.0 586.9 L1148.9 589.2 L1150.5 590.8 L1150.8 592.4 L1149.9 594.0 L1148.6 594.8 M1137.8 537.1 L1137.3 533.6 L1134.1 531.0 L1131.0 528.3 L1127.8 526.1 L1128.1 523.0 L1128.4 519.4 L1131.0 516.7 L1131.0 514.0 L1131.0 509.0 L1131.9 508.5 M1141.4 545.7 L1159.3 545.8 M1161.1 552.5 L1161.0 571.6 L1160.6 574.0 L1160.9 576.5 L1158.7 580.5 L1157.7 584.5 M1150.5 590.8 L1153.0 589.6 L1155.2 590.0 L1157.4 587.3 L1157.7 584.5 L1160.6 583.7 L1163.7 584.5 L1166.9 583.7 L1169.4 582.5 L1171.3 581.7 L1172.2 580.6 L1174.4 578.9 L1175.7 577.3 L1178.1 574.0 L1180.7 574.8 L1183.3 576.6 L1185.8 577.7 L1187.7 578.1 L1190.8 578.1 L1192.1 579.7 L1194.6 578.1 L1195.9 575.6 L1197.4 574.4 L1199.0 572.4 L1201.5 570.8 L1203.1 569.1 L1204.4 565.8 L1204.7 563.4 L1205.2 561.4 M1178.1 552.5 L1178.1 574.0 M1205.2 561.4 L1205.2 550.1 M1192.1 579.7 L1192.7 582.9 L1194.6 585.3 L1196.2 586.5 L1193.3 588.5 L1190.2 590.8 L1187.7 592.4 L1185.3 594.0 M1148.6 594.8 L1157.6 594.8 L1157.6 593.3 L1164.4 593.6 L1170.7 593.7 L1177.0 593.8 L1185.3 594.0 L1197.9 594.1 L1208.5 594.4 L1221.1 594.4 L1228.0 594.4 L1234.3 594.4 M1197.9 594.1 L1196.5 596.3 L1194.6 597.5 L1192.1 599.1 L1189.6 600.6 L1186.4 602.2 L1183.9 602.5 L1181.4 604.7 L1181.2 606.5 M1143.6 606.4 L1156.8 606.4 L1173.2 606.6 L1181.2 606.5 L1188.9 606.5 M1156.8 606.4 L1156.2 614.1 L1155.1 629.8 L1155.5 636.5 L1155.5 641.2 M1173.2 606.6 L1174.4 614.1 L1175.7 622.4 L1177.0 625.4 L1176.6 629.1 L1176.6 636.5 M1161.2 641.6 L1160.6 636.5 L1176.6 636.5 M1176.6 636.5 L1177.8 638.7 L1186.4 639.0 L1194.6 639.6 L1195.5 637.9 L1196.5 637.9 L1199.3 638.5 M1188.9 606.5 L1190.8 608.7 L1192.1 611.0 L1194.0 614.1 L1195.9 617.1 L1197.1 620.1 L1199.0 622.4 L1200.3 625.4 L1201.5 627.6 L1203.1 628.7 M1188.9 606.5 L1193.3 604.9 L1198.4 605.1 L1201.8 605.3 L1202.8 606.0 L1203.4 607.9 L1208.5 607.9 L1210.3 607.9 L1214.1 611.8 L1217.6 615.2 M1196.2 586.5 L1198.4 588.9 L1200.9 588.9 L1203.4 587.7 L1205.3 587.3 L1206.6 585.3 L1208.5 583.3 L1210.3 580.5 L1211.6 578.9 L1213.2 577.3 L1214.8 576.1 L1216.6 574.4 L1218.5 573.2 L1220.4 573.2 L1222.3 572.8 L1222.9 572.2 M1222.9 572.2 L1221.1 570.4 L1219.2 570.0 L1217.3 570.4 L1214.8 571.2 L1211.7 573.2 L1211.7 569.0 M1205.2 561.4 L1205.2 569.0 L1211.7 569.0 L1227.4 569.0 L1234.9 569.0 L1236.2 568.1 L1237.4 568.3 M1234.9 569.0 L1235.0 579.2 L1239.6 579.3 M1222.9 572.2 L1224.5 573.2 L1226.7 575.2 L1227.0 576.5 L1226.7 578.1 L1225.8 579.7 L1227.4 580.5 L1229.9 581.7 L1231.8 582.9 M1235.9 583.3 L1238.4 582.6 M1237.4 568.3 L1239.3 567.1 L1240.6 565.8 L1241.5 565.0 L1240.0 563.4 L1238.7 561.7 L1239.3 559.2 L1240.3 557.5 L1241.8 555.5 M1210.0 547.7 L1210.0 550.0 L1237.7 550.0 L1238.7 551.2 L1239.6 553.4 L1241.8 555.5 L1244.4 557.1 L1246.9 558.4 L1246.6 560.5 M1248.5 558.6 L1249.4 556.7 L1249.3 549.5 L1250.9 543.6 L1250.8 536.2 L1250.0 531.0 L1250.3 523.8 M1249.3 549.5 L1260.1 549.8 L1262.8 549.8 L1264.4 554.2 M1260.1 549.8 L1259.8 555.9 M1250.9 543.6 L1256.0 543.7 L1263.3 544.0 L1266.4 542.5 M1256.0 543.7 L1256.3 539.7 L1257.0 536.2 L1258.9 530.1 L1261.4 526.6 L1262.0 523.8 M1267.0 540.7 L1265.3 537.1 L1264.8 528.3 L1264.6 521.2 M1268.3 538.8 L1267.0 540.7 L1266.4 542.5 L1267.7 544.4 L1265.8 545.3 L1265.2 547.4 L1265.8 548.3 L1267.7 550.4 L1268.0 552.1 L1265.8 553.4 L1264.5 554.2 L1263.3 553.4 L1262.6 554.6 L1259.8 555.9 L1257.0 556.1 L1253.2 556.3 L1250.7 557.5 L1248.5 558.6 L1247.5 559.6 L1246.6 560.5 L1245.9 561.7 M1246.3 561.7 L1248.8 561.9 L1252.6 560.9 L1255.7 559.6 L1259.7 557.8 L1257.0 558.4 L1255.1 558.6 L1251.3 559.1 L1248.8 559.2 L1247.5 560.1 L1246.3 561.7 M1245.9 561.7 L1246.3 563.4 L1245.9 566.7 L1245.3 569.1 L1243.7 572.0 L1241.8 574.0 L1240.3 575.4 L1240.3 573.6 L1238.7 572.4 L1236.8 570.8 L1236.5 569.5 L1237.4 568.3 M1236.5 569.5 L1237.1 572.0 L1238.1 574.4 L1239.3 576.5 L1239.6 579.3 L1239.0 581.3 L1238.4 582.6 L1237.1 584.9 L1235.9 587.3 L1234.3 589.6 L1233.7 588.5 L1234.0 586.1 L1234.6 583.3 L1233.3 581.3 L1232.4 578.5 L1233.0 575.6 L1232.1 573.6 L1233.0 571.6 L1233.3 570.4 M1233.3 570.4 L1231.4 572.0 L1230.2 573.2 L1231.1 575.2 L1230.5 577.3 L1230.8 580.1 L1231.8 582.5 L1230.5 584.1 L1231.8 586.5 L1230.8 588.5 L1231.8 590.8 L1233.7 591.5 L1234.3 594.4 M1231.8 582.5 L1228.0 581.3 L1229.9 581.7 M1230.8 588.5 L1228.6 587.3 M1231.8 586.5 L1228.3 584.5 M1231.8 590.8 L1229.2 590.0 L1231.8 591.2 M1230.8 580.1 L1228.9 578.9 M1234.0 586.1 L1232.4 583.7 L1234.3 582.9 M1232.4 578.5 L1234.3 580.1 L1231.8 580.5 M1234.3 594.4 L1235.5 597.1 L1236.8 600.2 L1237.1 603.3 L1236.8 604.5 L1234.9 605.3 L1233.0 606.4 L1230.5 608.7 L1228.0 608.7 L1224.8 610.2 L1222.6 612.5 L1221.4 614.8 L1219.8 614.7 L1217.6 615.2 M1234.3 594.4 L1233.7 596.3 L1230.5 598.7 L1233.7 599.1 L1234.6 601.8 L1233.7 603.3 L1229.9 604.1 L1230.5 605.6 L1227.7 606.4 L1229.9 607.6 M1230.5 598.7 L1228.0 598.3 L1229.2 599.4 M1233.7 603.3 L1228.6 602.9 M1217.6 615.2 L1214.8 617.8 L1213.5 620.1 L1211.6 621.6 L1209.1 623.5 L1207.2 625.0 L1205.6 626.5 L1204.0 627.6 L1203.1 628.7 L1201.5 630.9 L1200.9 632.8 L1200.3 635.4 L1199.3 638.5 L1200.3 643.8 L1201.9 652.6 L1205.0 659.6 L1207.5 665.4 L1207.2 672.3 L1206.1 678.1 L1208.2 684.2 L1205.3 681.4 L1201.9 678.1 L1197.6 671.3 L1194.0 665.3 L1190.0 658.6 L1190.8 650.1 L1187.7 646.7 L1183.3 643.1 L1180.7 644.1 L1178.2 645.6 L1176.3 646.1 L1174.4 644.9 L1173.2 643.1 L1170.0 641.2 L1167.5 640.9 L1165.0 641.0 L1162.5 641.6 L1161.2 641.6 M1161.2 641.6 L1159.3 642.0 L1158.1 640.1 L1158.7 638.7 L1157.4 639.4 L1157.4 641.6 L1155.5 641.2 L1153.0 640.9 L1150.5 641.2 L1148.0 642.3 L1147.0 643.1 L1148.0 643.8 L1146.7 645.6 L1148.6 646.7 L1149.2 648.1 L1150.8 649.6 L1151.4 651.0 L1149.5 650.7 L1148.9 648.9 L1147.3 648.5 L1146.1 649.6 L1144.8 650.3 L1143.6 648.9 L1142.3 650.3 L1140.4 650.7 L1137.9 649.6 L1136.9 648.9 L1135.4 646.7 L1133.5 646.3 L1132.2 646.8 L1130.3 647.0 L1127.8 646.3 L1125.3 645.4 L1121.3 646.0 L1119.0 646.3 L1116.5 647.8 L1114.6 648.9 L1113.3 650.3 L1111.4 651.7 L1108.3 653.9 L1106.4 654.6 L1104.5 656.0 L1102.6 657.5 L1101.4 659.3 L1099.8 661.0 L1099.1 663.9 L1098.8 666.7 L1099.5 669.5 L1100.1 671.6 L1100.4 672.7 M1147.0 643.1 L1144.8 641.2 L1142.6 642.0 L1144.2 643.4 L1147.0 643.1 M1100.4 672.7 L1098.2 673.2 L1095.7 672.0 L1093.2 671.6 L1090.6 670.2 L1088.1 669.2 L1086.9 666.0 L1085.6 661.7 L1083.7 658.9 L1080.6 656.0 L1079.3 652.5 L1078.4 650.3 L1076.2 647.4 L1073.6 645.5 L1071.1 645.2 L1068.0 644.7 L1065.4 645.6 L1064.2 648.9 L1062.9 651.2 L1061.0 650.7 L1059.8 649.9 L1057.3 648.5 L1054.1 646.3 L1052.8 643.1 L1051.6 639.4 L1049.1 637.6 L1047.2 635.7 L1044.7 633.5 L1042.1 630.9 L1040.7 629.1 M1037.5 482.1 L1037.5 630.7 M1037.5 484.8 L1113.0 484.8 M1271.5 509.4 L1271.5 536.2" fill="none" stroke="#000" stroke-width="3.0" stroke-linejoin="round" stroke-linecap="round"/>
<path d="M1240.0 569.4L1234.4 567.7 M1239.5 571.5L1232.2 569.4 M1239.0 573.6L1232.3 572.9 M1238.4 575.7L1234.1 575.7 M1237.9 577.8L1233.7 577.4 M1237.4 579.9L1233.0 577.8 M1236.9 582.0L1230.7 583.6 M1236.3 584.1L1231.7 582.7 M1235.8 586.2L1228.7 588.4 M1235.3 588.3L1228.4 587.7 M1235.1 590.4L1226.2 588.1 M1235.3 592.4L1227.0 591.4 M1235.5 594.5L1230.8 592.6 M1235.7 596.6L1230.2 598.2 M1235.9 598.7L1231.0 599.1 M1236.1 600.8L1228.9 600.2 M1236.4 602.9L1229.6 600.7 M1235.0 605.0L1230.7 603.5 M1231.7 607.1L1224.3 606.8 M1228.3 609.2L1222.7 609.6 M1225.0 611.3L1218.7 610.3 M1221.6 613.4L1213.6 614.4" stroke="#000" stroke-width="1.6" fill="none"/>
<polygon points="1228.0,571.4 1232.0,571.2 1237.0,568.4 1240.5,566.9 1243.0,568.9 1241.0,574.9 1238.5,582.4 1235.5,589.4 1237.0,600.4 1235.5,604.4 1232.5,605.4 1231.0,596.4 1229.5,590.4 1227.0,585.4 1230.0,581.4 1228.0,576.4" fill="#000" stroke="#000" stroke-width="1.5" stroke-linejoin="round"/>
<polygon points="1231.5,606.9 1226.5,609.9 1220.0,614.4 1222.0,608.9 1226.0,603.4 1229.5,598.4" fill="#000" stroke="#000" stroke-width="1.5" stroke-linejoin="round"/>
<polygon points="1250.2,552.9 1262.9,550.9 1271.1,550.9 1271.1,553.4 1260.2,556.9 1252.0,561.4 1246.6,562.9 1246.0,558.6" fill="#000" stroke="#000" stroke-width="1.5" stroke-linejoin="round"/>
</g>
<rect x="1285.5" y="485.4" width="23.3" height="215.6" fill="url(#jet)" stroke="#262626" stroke-width="0.9"/>
<line x1="1306.3" y1="485.1" x2="1308.8" y2="485.1" stroke="#262626" stroke-width="0.9"/>
<text x="1317.9" y="492.7" font-size="22" font-weight="bold" fill="#262626" stroke="#262626" stroke-width="0.48" textLength="13.1" lengthAdjust="spacingAndGlyphs">2</text>
<line x1="1306.3" y1="538.8" x2="1308.8" y2="538.8" stroke="#262626" stroke-width="0.9"/>
<text x="1317.9" y="546.4" font-size="22" font-weight="bold" fill="#262626" stroke="#262626" stroke-width="0.48" textLength="13.1" lengthAdjust="spacingAndGlyphs">1</text>
<line x1="1306.3" y1="592.0" x2="1308.8" y2="592.0" stroke="#262626" stroke-width="0.9"/>
<text x="1317.9" y="599.6" font-size="22" font-weight="bold" fill="#262626" stroke="#262626" stroke-width="0.48" textLength="13.1" lengthAdjust="spacingAndGlyphs">0</text>
<line x1="1306.3" y1="645.6" x2="1308.8" y2="645.6" stroke="#262626" stroke-width="0.9"/>
<text x="1317.9" y="653.2" font-size="22" font-weight="bold" fill="#262626" stroke="#262626" stroke-width="0.48" textLength="22.3" lengthAdjust="spacingAndGlyphs">-1</text>
<line x1="1306.3" y1="699.0" x2="1308.8" y2="699.0" stroke="#262626" stroke-width="0.9"/>
<text x="1317.9" y="706.6" font-size="22" font-weight="bold" fill="#262626" stroke="#262626" stroke-width="0.48" textLength="22.3" lengthAdjust="spacingAndGlyphs">-2</text>
<text x="976.1" y="730.8" font-size="24.5" font-weight="bold" fill="#262626" stroke="#262626" stroke-width="0.54" textLength="350.2" lengthAdjust="spacingAndGlyphs">SAT-RAP 500 hPa Temp (K)</text>
</svg></body></html>
